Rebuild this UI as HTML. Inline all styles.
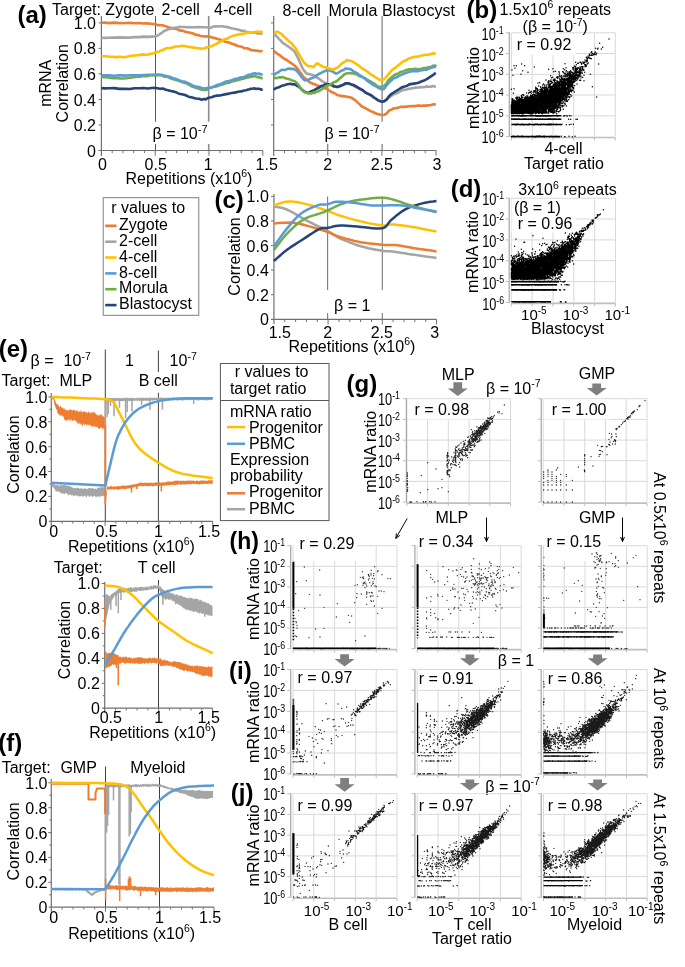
<!DOCTYPE html>
<html><head><meta charset="utf-8"><style>
html,body{margin:0;padding:0;background:#fff;overflow:hidden;width:685px;height:967px;}
svg{display:block;filter:blur(0.3px);}
text{font-family:"Liberation Sans",sans-serif;}
</style></head><body>
<svg width="685" height="967" viewBox="0 0 685 967">
<rect width="685" height="967" fill="#fff"/>
<text x="17.5" y="22.5" font-size="24" font-weight="bold">(a)</text>
<text x="52" y="15" font-size="16">Target: Zygote</text>
<text x="161.5" y="15" font-size="16">2-cell</text>
<text x="214" y="15" font-size="16">4-cell</text>
<text x="282.5" y="16" font-size="16">8-cell</text>
<text x="328.5" y="16" font-size="16">Morula</text>
<text x="382" y="16" font-size="16">Blastocyst</text>
<text transform="translate(50.5,83.3) rotate(-90)" font-size="16" text-anchor="middle">mRNA</text>
<text transform="translate(68.3,83.3) rotate(-90)" font-size="16" text-anchor="middle">Correlation</text>
<text x="96" y="28.9" font-size="16" text-anchor="end">1.0</text>
<text x="96" y="54.4" font-size="16" text-anchor="end">0.8</text>
<text x="96" y="79.9" font-size="16" text-anchor="end">0.6</text>
<text x="96" y="105.5" font-size="16" text-anchor="end">0.4</text>
<text x="96" y="131" font-size="16" text-anchor="end">0.2</text>
<text x="96" y="156.5" font-size="16" text-anchor="end">0</text>
<line x1="155.5" y1="16" x2="155.5" y2="121.7" stroke="#595959" stroke-width="1"/>
<line x1="155.5" y1="144" x2="155.5" y2="150.5" stroke="#595959" stroke-width="1"/>
<line x1="208.7" y1="16" x2="208.7" y2="121.7" stroke="#8c8c8c" stroke-width="1.6"/>
<line x1="208.7" y1="144" x2="208.7" y2="150.5" stroke="#8c8c8c" stroke-width="1.6"/>
<line x1="327.7" y1="16" x2="327.7" y2="121.7" stroke="#7a7a7a" stroke-width="1.2"/>
<line x1="327.7" y1="144" x2="327.7" y2="150.5" stroke="#7a7a7a" stroke-width="1.2"/>
<line x1="382.1" y1="16" x2="382.1" y2="121.7" stroke="#7a7a7a" stroke-width="1.2"/>
<line x1="382.1" y1="144" x2="382.1" y2="150.5" stroke="#7a7a7a" stroke-width="1.2"/>
<line x1="101.4" y1="16" x2="101.4" y2="156" stroke="#707070" stroke-width="1.2"/>
<line x1="98.5" y1="150.5" x2="263" y2="150.5" stroke="#707070" stroke-width="1.2"/>
<line x1="98.6" y1="125" x2="101.4" y2="125" stroke="#707070" stroke-width="1"/>
<line x1="98.6" y1="99.5" x2="101.4" y2="99.5" stroke="#707070" stroke-width="1"/>
<line x1="98.6" y1="73.9" x2="101.4" y2="73.9" stroke="#707070" stroke-width="1"/>
<line x1="98.6" y1="48.4" x2="101.4" y2="48.4" stroke="#707070" stroke-width="1"/>
<line x1="98.6" y1="22.9" x2="101.4" y2="22.9" stroke="#707070" stroke-width="1"/>
<line x1="112.2" y1="150.5" x2="112.2" y2="153.2" stroke="#707070" stroke-width="1"/>
<line x1="122.9" y1="150.5" x2="122.9" y2="153.2" stroke="#707070" stroke-width="1"/>
<line x1="133.7" y1="150.5" x2="133.7" y2="153.2" stroke="#707070" stroke-width="1"/>
<line x1="144.4" y1="150.5" x2="144.4" y2="153.2" stroke="#707070" stroke-width="1"/>
<line x1="155.2" y1="150.5" x2="155.2" y2="155.7" stroke="#707070" stroke-width="1"/>
<line x1="166" y1="150.5" x2="166" y2="153.2" stroke="#707070" stroke-width="1"/>
<line x1="176.7" y1="150.5" x2="176.7" y2="153.2" stroke="#707070" stroke-width="1"/>
<line x1="187.5" y1="150.5" x2="187.5" y2="153.2" stroke="#707070" stroke-width="1"/>
<line x1="198.2" y1="150.5" x2="198.2" y2="153.2" stroke="#707070" stroke-width="1"/>
<line x1="209" y1="150.5" x2="209" y2="155.7" stroke="#707070" stroke-width="1"/>
<line x1="219.8" y1="150.5" x2="219.8" y2="153.2" stroke="#707070" stroke-width="1"/>
<line x1="230.5" y1="150.5" x2="230.5" y2="153.2" stroke="#707070" stroke-width="1"/>
<line x1="241.3" y1="150.5" x2="241.3" y2="153.2" stroke="#707070" stroke-width="1"/>
<line x1="252" y1="150.5" x2="252" y2="153.2" stroke="#707070" stroke-width="1"/>
<line x1="262.8" y1="150.5" x2="262.8" y2="155.7" stroke="#707070" stroke-width="1"/>
<line x1="273.7" y1="16" x2="273.7" y2="156" stroke="#707070" stroke-width="1.2"/>
<line x1="273.7" y1="150.5" x2="436.2" y2="150.5" stroke="#707070" stroke-width="1.2"/>
<line x1="271" y1="125" x2="273.7" y2="125" stroke="#707070" stroke-width="1"/>
<line x1="271" y1="99.5" x2="273.7" y2="99.5" stroke="#707070" stroke-width="1"/>
<line x1="271" y1="73.9" x2="273.7" y2="73.9" stroke="#707070" stroke-width="1"/>
<line x1="271" y1="48.4" x2="273.7" y2="48.4" stroke="#707070" stroke-width="1"/>
<line x1="271" y1="22.9" x2="273.7" y2="22.9" stroke="#707070" stroke-width="1"/>
<line x1="284.5" y1="150.5" x2="284.5" y2="153.2" stroke="#707070" stroke-width="1"/>
<line x1="295.3" y1="150.5" x2="295.3" y2="153.2" stroke="#707070" stroke-width="1"/>
<line x1="306.2" y1="150.5" x2="306.2" y2="153.2" stroke="#707070" stroke-width="1"/>
<line x1="317" y1="150.5" x2="317" y2="153.2" stroke="#707070" stroke-width="1"/>
<line x1="327.8" y1="150.5" x2="327.8" y2="155.7" stroke="#707070" stroke-width="1"/>
<line x1="338.6" y1="150.5" x2="338.6" y2="153.2" stroke="#707070" stroke-width="1"/>
<line x1="349.4" y1="150.5" x2="349.4" y2="153.2" stroke="#707070" stroke-width="1"/>
<line x1="360.3" y1="150.5" x2="360.3" y2="153.2" stroke="#707070" stroke-width="1"/>
<line x1="371.1" y1="150.5" x2="371.1" y2="153.2" stroke="#707070" stroke-width="1"/>
<line x1="381.9" y1="150.5" x2="381.9" y2="155.7" stroke="#707070" stroke-width="1"/>
<line x1="392.7" y1="150.5" x2="392.7" y2="153.2" stroke="#707070" stroke-width="1"/>
<line x1="403.5" y1="150.5" x2="403.5" y2="153.2" stroke="#707070" stroke-width="1"/>
<line x1="414.4" y1="150.5" x2="414.4" y2="153.2" stroke="#707070" stroke-width="1"/>
<line x1="425.2" y1="150.5" x2="425.2" y2="153.2" stroke="#707070" stroke-width="1"/>
<line x1="436" y1="150.5" x2="436" y2="155.7" stroke="#707070" stroke-width="1"/>
<text x="102.4" y="170" font-size="16" text-anchor="middle">0</text>
<text x="155.7" y="170" font-size="16" text-anchor="middle">0.5</text>
<text x="208.3" y="170" font-size="16" text-anchor="middle">1</text>
<text x="266.7" y="170" font-size="16" text-anchor="middle">1.5</text>
<text x="327.7" y="170" font-size="16" text-anchor="middle">2</text>
<text x="381.9" y="170" font-size="16" text-anchor="middle">2.5</text>
<text x="437" y="170" font-size="16" text-anchor="middle">3</text>
<text x="125.5" y="184" font-size="16">Repetitions (x10<tspan font-size="10.5" dy="-7">6</tspan><tspan dy="7">)</tspan></text>
<text x="152.5" y="139" font-size="16">β = 10<tspan font-size="11" dy="-6.5">-7</tspan></text>
<text x="324.5" y="139" font-size="16">β = 10<tspan font-size="11" dy="-6.5">-7</tspan></text>
<polyline points="101.4,22.8 104.6,22.6 108.9,23.1 114.1,22.6 119.7,23.1 125.1,23 130,22.8 134.4,23.3 138.8,23 143.1,23.5 147.2,23.4 151.2,23.7 155,24.3 158.6,25.2 162.1,25.3 165.3,26.1 168.5,27.3 171.5,28.3 174.5,28.8 177.4,29.3 180.1,30.6 182.7,30.6 185.3,31.9 187.7,32.2 190,32.7 192.2,33.3 194.3,34 196.2,35 198.1,35 200,35.8 201.8,36.2 203.5,36.3 205.2,36.6 206.7,36.3 208.3,36.4 209.9,36.7 211.7,37.4 213.6,37.7 215.5,38.2 217.5,39 219.6,39.5 221.8,40.1 224,41.2 226.3,41.9 228.8,42.4 231.3,43.5 233.9,44.3 236.5,45.5 239,46.2 241.6,46.7 244.2,48.1 246.9,48.2 249.5,49.2 251.9,50.2 254,50.2 255.9,50.8 257.7,50.6 259.2,51.2 260.6,51.2 261.7,51.1 262.6,51.3" fill="none" stroke="#ED7D31" stroke-width="2.6" stroke-linejoin="round"/>
<polyline points="101.4,37.7 104.6,37.9 108.9,37.7 114.1,37.6 119.7,37.4 125.1,37.6 130,37.6 134.6,37.1 139.2,37.1 143.7,36.6 147.9,36.9 151.8,36.6 155,36.5 157.5,35.7 159.3,34.5 160.7,33.6 161.9,32.9 163.1,31.5 164.5,31.1 166.1,30.2 167.7,29.5 169.3,28.9 171,29 172.7,28 174.5,27.7 176.3,27.5 178.1,27.6 179.9,26.8 182,27 184.2,27 186.9,27.2 190.2,27.2 194.1,27.3 198.2,27 202.3,27.2 206,27.3 209,27.7 211.1,27.7 212.5,26.8 213.5,26.6 214.3,26.4 215.3,26.3 216.7,26.4 218.5,26.5 220.4,26.3 222.4,26.2 224.5,26.7 226.7,26.9 229,27.5 231.4,28.2 234,28.7 236.6,29.2 239.3,30 241.8,30.7 244,30.7 246,31.8 247.8,32.1 249.4,32.5 251,32.7 252.5,32.6 254,32.8 255.6,32.8 257.3,33.5 258.9,33.3 260.4,33.5 261.7,33.7 262.6,33.8" fill="none" stroke="#A5A5A5" stroke-width="2.6" stroke-linejoin="round"/>
<polyline points="101.4,56.3 103.4,56.2 106.1,56.3 109.4,56.7 112.9,56.8 116.5,57.1 119.9,56.8 123.2,57.3 126.7,56.8 130.2,56 133.6,55.6 136.9,55.3 140,54.9 142.8,54.4 145.5,54.7 148,54.5 150.4,53.8 152.7,53.5 155,52.7 157.1,52.1 159,51.5 160.8,50.6 162.7,50.2 164.7,48.9 167,48.1 169.6,48.3 172.5,47.4 175.5,46.5 178.6,46.4 181.6,45.7 184.4,46 187.1,46.6 189.7,46.9 192.3,47.4 194.8,47.6 197.1,48.2 199.3,48.2 201.2,48.7 202.7,48.5 204.1,48.5 205.6,47.8 207.1,47.2 209,47 211.2,46.3 213.6,45.1 216.2,43.8 218.8,42.5 221.4,41.1 224,39.6 226.5,38.8 229,37.7 231.5,36.4 234,35.5 236.5,34.9 239,34.2 241.6,33.9 244.2,33.6 246.9,32.7 249.5,32.8 251.9,32.5 254,32.3 255.9,31.7 257.7,31.6 259.2,31.8 260.6,31.9 261.7,32.1 262.6,32.5" fill="none" stroke="#FFC000" stroke-width="2.6" stroke-linejoin="round"/>
<polyline points="101.4,76.9 103.4,77.1 106.1,77.2 109.4,77.7 112.9,78.2 116.5,77.9 119.9,78.4 123.2,78.5 126.7,78.2 130.2,77.8 133.6,77.2 136.9,76.6 140,76.7 142.8,76.1 145.5,76.1 148.1,75.9 150.5,75.2 152.8,75 155,75.4 157,75.2 158.7,74.9 160.3,75.1 162,75.4 163.7,76.4 165.8,76.8 168.1,77 170.6,78.3 173.3,79.3 176.1,80 178.9,80.8 181.9,82 185.1,82.9 188.6,84.3 192.2,86.6 195.8,87.7 199,88.8 201.8,89.8 203.9,89.7 205.6,90 206.9,89.7 208.2,88.7 209.7,88.1 211.7,87.5 214.2,86.8 217,86.3 220,85.1 223.1,84.2 226.2,83.1 229,82.8 231.7,81.6 234.4,80.9 237,80.2 239.5,79.8 241.8,78.8 244,78.6 246,77.8 247.8,77.4 249.4,77.1 251,76.4 252.5,76.6 254,76.3 255.6,76.3 257.3,77.2 258.9,77.1 260.4,77.7 261.7,78.3 262.6,78.3" fill="none" stroke="#70AD47" stroke-width="2.6" stroke-linejoin="round"/>
<polyline points="101.4,75.2 104.6,75.3 108.9,75.4 114.1,75.7 119.7,75.2 125.1,75.6 130,75.3 134.5,75.2 139.1,75.4 143.6,75 147.9,74.8 151.7,74.8 155,74.9 157.6,74.6 159.5,74.8 161,74.8 162.3,75.1 163.9,75.5 165.8,75.8 168.1,76.4 170.6,77.1 173.3,78.3 176.1,79 178.9,80.1 181.9,81.2 185.1,81.8 188.6,83.5 192.2,85.2 195.8,86.6 199,87.1 201.8,87.9 203.9,88.5 205.6,88.3 206.9,88.2 208.2,87.7 209.7,87.7 211.7,87.2 214.2,86.6 217,85 220,84.3 223.1,83 226.2,81.5 229,81.1 231.7,80.3 234.4,79 237,78.9 239.5,77.8 241.8,77.2 244,77 246,76.3 247.8,75.1 249.4,74.7 251,74.3 252.5,73.7 254,73.4 255.6,73.4 257.3,73.9 258.9,73.5 260.4,74.2 261.7,74.4 262.6,74.2" fill="none" stroke="#5B9BD5" stroke-width="2.6" stroke-linejoin="round"/>
<polyline points="101.4,88.1 104.6,88.4 108.9,88.3 114.1,88.1 119.7,88.9 125.1,88.8 130,89 134.5,88.2 139.1,88.3 143.6,88 147.9,88.5 151.7,88 155,87.9 157.6,88.2 159.5,88.7 161,88.8 162.3,88.5 163.9,88.8 165.8,89.8 168.1,90.2 170.6,91 173.3,91.4 176.1,92.3 178.9,93.7 181.9,94.3 185.1,95 188.6,96.7 192.2,97.5 195.8,98.5 199,98.7 201.8,99.7 203.9,99.1 205.6,99.4 206.9,98.6 208.2,97.9 209.7,97.5 211.7,97.2 214.2,96.2 217,95.6 220,95.5 223.1,94.7 226.2,94.1 229,93.6 231.7,93 234.4,92.6 237,92.1 239.5,91.5 241.8,91.4 244,90.5 246,90.3 247.8,89.6 249.4,89.3 251,88.7 252.5,88.7 254,88.3 255.6,88.9 257.3,88.8 258.9,88.7 260.4,89.2 261.7,89.7 262.6,89.2" fill="none" stroke="#264478" stroke-width="2.6" stroke-linejoin="round"/>
<polyline points="273.7,51.3 274.6,51.6 275.8,52.5 277.3,53.8 278.9,54.6 280.6,56 282.4,57.4 284.3,58.8 286.4,59.7 288.5,61.4 290.7,62.8 292.8,64.3 294.8,65.8 296.6,67.7 298.3,69.6 299.9,72 301.5,74.1 303.1,76.7 304.7,78.1 306.3,79.4 307.9,80.5 309.5,82.1 311.1,83 312.9,83.7 314.7,84.3 316.7,85.2 318.8,86 321,87 323.3,87.5 325.5,88.6 327.6,89.3 329.6,90.9 331.6,92 333.6,92.8 335.5,93.7 337.5,95.2 339.5,95.5 341.5,96.1 343.6,96.1 345.7,96.6 347.7,96.9 349.8,97.3 351.9,97.9 353.9,99.4 355.8,100.6 357.8,102.6 359.8,104.4 361.9,106.5 364.3,107.7 367.1,109.2 370.2,110.9 373.4,112.2 376.7,113.7 379.6,114.5 382.2,115 384.2,114.7 385.8,114 387.1,113 388.4,111.3 389.8,110.1 391.6,109.7 393.7,108.3 396.1,108.2 398.6,107.6 401.1,106.7 403.8,106.9 406.5,106.6 409.3,106.2 412.3,106.1 415.4,106.1 418.4,105.5 421.3,105.8 423.9,105.6 426.3,105.6 428.7,105.3 430.9,105 432.9,104.4 434.6,104.4 435.8,104" fill="none" stroke="#ED7D31" stroke-width="2.6" stroke-linejoin="round"/>
<polyline points="273.7,33.8 274.6,34.3 275.8,35.4 277.3,37 278.9,38.9 280.6,40.4 282.4,42.6 284.3,43.8 286.4,45.3 288.5,46.7 290.7,48.3 292.8,50 294.8,51.8 296.6,55.3 298.3,58.7 299.9,62.3 301.5,65.9 303.1,69.3 304.7,71.3 306.4,73.4 308.1,73.9 309.9,74.2 311.6,74.7 313.2,75.4 314.7,75.6 316.1,76.8 317.4,77.9 318.6,78.5 319.8,79.3 320.9,80.2 322,81.1 323,81.8 323.9,82.3 324.7,82.8 325.5,82.7 326.5,83.2 327.6,83.8 328.9,84.8 330.4,85.1 332,85.9 333.7,86.1 335.4,86.5 337,86.8 338.6,86.9 340.3,86.3 342,85.5 343.7,84.4 345.3,84 347,83.8 348.6,83.9 350.2,84 351.8,85.2 353.4,85.4 355.1,86.8 356.9,87.6 358.8,87.9 360.8,89.4 362.9,91 365,92.4 367.2,93.3 369.3,94.4 371.5,95.7 373.7,97.8 375.9,98.6 378.1,100.2 380.2,100.8 382.2,101.5 383.9,101.6 385.4,100.2 386.8,99.6 388.2,98 389.8,97 391.6,95.7 393.7,94.2 396.1,93.7 398.6,92.3 401.1,90.9 403.8,89.9 406.5,89.5 409.3,88.8 412.3,88.2 415.4,87.6 418.4,87.5 421.3,87.1 423.9,87.3 426.3,86.4 428.7,86.8 430.9,86.7 432.9,86 434.6,86.6 435.8,86.4" fill="none" stroke="#A5A5A5" stroke-width="2.6" stroke-linejoin="round"/>
<polyline points="273.7,89.8 274.6,88.9 275.8,88.3 277.3,87.6 278.9,87.3 280.6,86.3 282.4,85.6 284.3,85.2 286.3,84.6 288.4,84 290.6,83.8 292.8,84.4 294.8,84.3 296.8,85.8 298.7,86.7 300.6,88.4 302.5,90.2 304.3,91.4 306,92.3 307.5,92.9 308.9,92.6 310.2,92 311.6,91.2 313,90.6 314.7,89.9 316.6,88.7 318.8,87.7 321.1,86 323.4,85.5 325.6,84.4 327.6,84.2 329.4,84.2 331,84.4 332.5,85 334,86.5 335.4,86.5 337,87 338.6,86.6 340.3,85.8 342,85.3 343.7,84.6 345.3,83.4 347,83.4 348.6,83.3 350.2,83.9 351.8,84.4 353.4,85 355.1,85.8 356.9,86.8 358.8,88.3 360.8,89.2 362.9,90.2 365,92.1 367.2,93.5 369.3,94.4 371.5,95.5 373.7,97.2 375.9,98.8 378.1,100.4 380.2,101.2 382.2,101.7 383.9,101.3 385.4,100.4 386.8,99.2 388.2,97.4 389.8,95.4 391.6,93.8 393.7,92.5 396.1,91 398.6,89.5 401.1,87.8 403.8,86.7 406.5,86.1 409.3,84.4 412.3,83.9 415.4,83.4 418.4,82.8 421.3,81.5 423.9,80.6 426.3,79.3 428.7,77.9 430.9,76.4 432.9,75.2 434.6,73.8 435.8,72.9" fill="none" stroke="#264478" stroke-width="2.6" stroke-linejoin="round"/>
<polyline points="273.7,77.9 274.6,77.8 275.8,78.1 277.3,78 278.9,77.4 280.6,77.4 282.4,77.1 284.3,77.7 286.4,78.6 288.5,79.1 290.7,79.8 292.8,80.8 294.8,81.3 296.6,82.7 298.3,84.6 299.9,87 301.5,89.1 303.1,91.1 304.7,92.2 306.3,92.9 307.9,93.5 309.5,93.4 311.1,93.4 312.9,92.8 314.7,92.9 316.7,91.7 318.9,91.2 321.2,89.7 323.5,88 325.6,86.5 327.6,85.5 329.4,84.9 331,84.2 332.5,83 334,82.2 335.4,81.8 337,80.9 338.6,79.5 340.3,77.9 342,76.7 343.7,74.9 345.3,73.9 347,73.3 348.6,73.3 350.2,73 351.8,73.4 353.4,73.5 355.1,73.8 356.9,74.4 358.8,75.7 360.8,76.5 362.9,77.2 365,78.2 367.2,79.7 369.3,80.9 371.5,82 373.7,83.3 375.9,85 378.1,86.5 380.2,86.7 382.2,86.6 383.9,86.1 385.4,84.7 386.8,83 388.2,80.5 389.8,78.9 391.6,77.2 393.7,75.6 396.1,74 398.6,73.4 401.1,71.7 403.8,71.2 406.5,69.9 409.3,69.3 412.4,69.4 415.5,68.8 418.6,69.2 421.4,68.7 423.9,68.1 426.1,67.8 428,67.4 429.8,67.1 431.4,66.9 432.7,65.9 433.8,65.8 434.6,65.6 435.1,66.3 435.4,65.8 435.6,65.9 435.7,66 435.8,66.4" fill="none" stroke="#70AD47" stroke-width="2.6" stroke-linejoin="round"/>
<polyline points="273.7,74.9 274.6,74.4 275.8,73.5 277.3,72.8 278.9,71.8 280.6,70.5 282.4,69.8 284.3,70 286.4,69.4 288.5,68.5 290.7,68.9 292.8,68.9 294.8,69.5 296.6,70.7 298.3,72.5 299.9,74.6 301.5,77 303.1,78.8 304.7,80.4 306.3,80 307.9,80.4 309.5,79.1 311.1,78.4 312.9,77.8 314.7,76.9 316.7,75.5 318.9,73.9 321.2,72.9 323.5,71.6 325.6,71 327.6,69.9 329.4,70.1 331,71.1 332.5,71.2 334,72.4 335.4,73.4 337,73.5 338.6,72.5 340.3,71.5 342,70.4 343.7,69.9 345.3,68.5 347,68.6 348.6,68.9 350.2,69 351.8,69.8 353.4,71.4 355.1,72.2 356.9,73.1 358.8,74.7 360.8,75.8 362.9,77.3 365,78.7 367.2,80.8 369.3,82.3 371.5,83.6 373.7,85.4 375.9,86.2 378.1,87.7 380.2,88.8 382.2,89.4 383.9,88.8 385.4,87 386.8,85.2 388.2,83.4 389.8,81.6 391.6,80.3 393.7,78.4 396.1,77.5 398.6,76.1 401.1,74.9 403.8,73.7 406.5,72.7 409.3,71.8 412.3,71.3 415.4,71 418.4,71.1 421.3,70.2 423.9,69.9 426.3,69.7 428.7,68.7 430.9,67.8 432.9,67.2 434.6,67 435.8,66.5" fill="none" stroke="#5B9BD5" stroke-width="2.6" stroke-linejoin="round"/>
<polyline points="273.7,32.8 274.2,32.7 275,32.6 275.8,31.9 276.8,31.7 277.7,31.8 278.7,32.4 279.6,33 280.5,33.4 281.5,34 282.5,35 283.6,36.2 284.9,37.4 286.3,38.8 287.9,40.3 289.6,41.7 291.4,43 293.1,45.5 294.8,47.1 296.5,49.8 298.1,52.6 299.8,56 301.5,58.5 303.1,61.2 304.7,63.2 306.3,64.5 307.9,66 309.4,66.3 310.9,66.3 312.2,66.5 313.4,67 314.2,66.4 314.8,65.6 315.2,65.2 315.6,64.4 316.2,64.1 317.2,63.3 318.6,64 320.3,65.1 322.1,66.1 324.1,67.2 325.9,67.4 327.6,68.2 329.1,68.5 330.4,68.8 331.6,69.6 332.9,69.2 334.3,69.3 335.8,68.3 337.5,67.7 339.4,65.8 341.3,63.9 343.3,62.7 345.2,61.5 347,60.1 348.7,60.4 350.3,60.8 351.9,61.2 353.5,62.3 355.1,63.2 356.9,64.4 358.8,65.6 360.8,67.3 362.9,68.9 365,70.1 367.2,71.5 369.3,73.2 371.5,74.9 373.7,76 375.9,77.6 378.1,78.8 380.2,80.1 382.2,80 383.9,79.1 385.4,77.9 386.8,76.4 388.2,74.6 389.8,72.7 391.6,70.5 393.8,68.7 396.3,67.1 398.9,64.8 401.5,62.7 404.1,61 406.5,60.1 408.7,58.5 410.7,57.9 412.6,57.2 414.5,56.8 416.6,56.8 418.9,56.4 421.7,55.4 424.8,54.7 428.1,54.7 431.3,53.9 433.9,53.4 435.8,53.8" fill="none" stroke="#FFC000" stroke-width="2.6" stroke-linejoin="round"/>
<rect x="103.2" y="197.7" width="95.6" height="117.6" fill="none" stroke="#7f7f7f" stroke-width="1"/>
<text x="111.3" y="212.6" font-size="16">r values to</text>
<line x1="105.2" y1="225.8" x2="116.5" y2="225.8" stroke="#ED7D31" stroke-width="2.6"/>
<text x="119.1" y="230" font-size="16">Zygote</text>
<line x1="105.2" y1="241.7" x2="116.5" y2="241.7" stroke="#A5A5A5" stroke-width="2.6"/>
<text x="119.1" y="245.8" font-size="16">2-cell</text>
<line x1="105.2" y1="257.5" x2="116.5" y2="257.5" stroke="#FFC000" stroke-width="2.6"/>
<text x="119.1" y="261.7" font-size="16">4-cell</text>
<line x1="105.2" y1="273.4" x2="116.5" y2="273.4" stroke="#5B9BD5" stroke-width="2.6"/>
<text x="119.1" y="277.6" font-size="16">8-cell</text>
<line x1="105.2" y1="289.2" x2="116.5" y2="289.2" stroke="#70AD47" stroke-width="2.6"/>
<text x="119.1" y="293.4" font-size="16">Morula</text>
<line x1="105.2" y1="305.1" x2="116.5" y2="305.1" stroke="#264478" stroke-width="2.6"/>
<text x="119.1" y="309.2" font-size="16">Blastocyst</text>
<text x="214.5" y="208" font-size="24" font-weight="bold">(c)</text>
<text transform="translate(240.1,256.5) rotate(-90)" font-size="16" text-anchor="middle">Correlation</text>
<text x="268.8" y="202.4" font-size="16" text-anchor="end">1.0</text>
<text x="268.8" y="227" font-size="16" text-anchor="end">0.8</text>
<text x="268.8" y="251.6" font-size="16" text-anchor="end">0.6</text>
<text x="268.8" y="276.1" font-size="16" text-anchor="end">0.4</text>
<text x="268.8" y="300.7" font-size="16" text-anchor="end">0.2</text>
<text x="268.8" y="325.3" font-size="16" text-anchor="end">0</text>
<line x1="327.6" y1="196.5" x2="327.6" y2="290" stroke="#7a7a7a" stroke-width="1.1"/>
<line x1="327.6" y1="313" x2="327.6" y2="319.3" stroke="#7a7a7a" stroke-width="1.1"/>
<line x1="382.3" y1="196.5" x2="382.3" y2="290" stroke="#7a7a7a" stroke-width="1.1"/>
<line x1="382.3" y1="313" x2="382.3" y2="319.3" stroke="#7a7a7a" stroke-width="1.1"/>
<line x1="273.9" y1="194" x2="273.9" y2="324" stroke="#a0a0a0" stroke-width="1.8"/>
<line x1="271" y1="319.3" x2="436.5" y2="319.3" stroke="#707070" stroke-width="1.2"/>
<line x1="271" y1="294.7" x2="273.9" y2="294.7" stroke="#707070" stroke-width="1"/>
<line x1="271" y1="270.1" x2="273.9" y2="270.1" stroke="#707070" stroke-width="1"/>
<line x1="271" y1="245.6" x2="273.9" y2="245.6" stroke="#707070" stroke-width="1"/>
<line x1="271" y1="221" x2="273.9" y2="221" stroke="#707070" stroke-width="1"/>
<line x1="271" y1="196.4" x2="273.9" y2="196.4" stroke="#707070" stroke-width="1"/>
<line x1="284.7" y1="319.3" x2="284.7" y2="322" stroke="#707070" stroke-width="1"/>
<line x1="295.6" y1="319.3" x2="295.6" y2="322" stroke="#707070" stroke-width="1"/>
<line x1="306.4" y1="319.3" x2="306.4" y2="322" stroke="#707070" stroke-width="1"/>
<line x1="317.3" y1="319.3" x2="317.3" y2="322" stroke="#707070" stroke-width="1"/>
<line x1="328.1" y1="319.3" x2="328.1" y2="324.5" stroke="#707070" stroke-width="1"/>
<line x1="338.9" y1="319.3" x2="338.9" y2="322" stroke="#707070" stroke-width="1"/>
<line x1="349.8" y1="319.3" x2="349.8" y2="322" stroke="#707070" stroke-width="1"/>
<line x1="360.6" y1="319.3" x2="360.6" y2="322" stroke="#707070" stroke-width="1"/>
<line x1="371.5" y1="319.3" x2="371.5" y2="322" stroke="#707070" stroke-width="1"/>
<line x1="382.3" y1="319.3" x2="382.3" y2="324.5" stroke="#707070" stroke-width="1"/>
<line x1="393.1" y1="319.3" x2="393.1" y2="322" stroke="#707070" stroke-width="1"/>
<line x1="404" y1="319.3" x2="404" y2="322" stroke="#707070" stroke-width="1"/>
<line x1="414.8" y1="319.3" x2="414.8" y2="322" stroke="#707070" stroke-width="1"/>
<line x1="425.7" y1="319.3" x2="425.7" y2="322" stroke="#707070" stroke-width="1"/>
<line x1="436.5" y1="319.3" x2="436.5" y2="324.5" stroke="#707070" stroke-width="1"/>
<text x="279.8" y="337.5" font-size="16" text-anchor="middle">1.5</text>
<text x="327.8" y="337.5" font-size="16" text-anchor="middle">2</text>
<text x="381.8" y="337.5" font-size="16" text-anchor="middle">2.5</text>
<text x="434.7" y="337.5" font-size="16" text-anchor="middle">3</text>
<text x="288.5" y="352.2" font-size="16">Repetitions (x10<tspan font-size="10.5" dy="-7">6</tspan><tspan dy="7">)</tspan></text>
<text x="334" y="311" font-size="16">β = 1</text>
<polyline points="273.9,206.5 275.2,206.7 276.9,207 279,207.3 281.4,207.8 284,208.5 286.7,209.5 289.7,210.9 293,212.7 296.5,214.7 300.1,216.8 303.7,218.9 307.2,220.8 310.7,222.6 314.3,224.4 317.9,226.1 321.4,227.8 324.6,229.5 327.6,231 330.1,232.4 332.1,233.7 334,234.9 335.8,236.1 337.9,237.3 340.4,238.5 343.4,239.8 346.6,241.2 350.1,242.6 353.7,243.9 357.3,245.2 360.9,246.3 364.6,247.3 368.4,248.2 372.3,249 376,249.7 379.4,250.3 382.3,250.8 384.4,251.1 385.9,251.2 387,251.2 388,251.2 389.5,251.2 391.5,251.4 394.2,251.8 397.3,252.2 400.8,252.8 404.5,253.3 408.2,253.9 412,254.5 416.1,255.1 420.8,255.8 425.5,256.4 430,257.1 433.8,257.6 436.5,258" fill="none" stroke="#A5A5A5" stroke-width="2.5" stroke-linejoin="round"/>
<polyline points="273.9,223.4 276,223.3 278.8,223.1 282.2,222.8 285.9,222.7 289.5,222.6 292.9,222.8 296,223.2 299.2,223.8 302.3,224.5 305.3,225.3 308.4,226.1 311.3,226.9 314.2,227.7 317,228.5 319.8,229.4 322.5,230.3 325.1,231.1 327.6,232 329.8,232.8 331.8,233.7 333.7,234.6 335.7,235.4 337.9,236.2 340.4,237.1 343.4,238 346.6,238.9 350.1,239.8 353.7,240.7 357.3,241.5 360.9,242.2 364.5,242.8 368.2,243.3 371.9,243.7 375.6,244.1 379.1,244.4 382.3,244.7 385.2,244.9 387.8,244.9 390.2,245 392.6,245 395,245.1 397.7,245.3 400.6,245.7 403.5,246.2 406.5,246.7 409.6,247.3 412.8,247.9 416,248.4 419.5,248.9 423.4,249.5 427.4,250.1 431.1,250.6 434.2,251.1 436.5,251.4" fill="none" stroke="#ED7D31" stroke-width="2.5" stroke-linejoin="round"/>
<polyline points="273.9,205.4 275.5,204.9 277.6,204.1 280.2,203.2 283,202.4 285.9,201.7 288.8,201.4 291.6,201.5 294.6,201.7 297.7,202.2 300.8,202.9 304,203.6 307.2,204.4 310.6,205.3 314.1,206.4 317.8,207.6 321.3,208.8 324.6,210 327.6,211 330.1,211.9 332.1,212.7 334,213.4 335.8,214.1 337.9,214.9 340.4,215.7 343.4,216.6 346.6,217.6 350.1,218.6 353.7,219.6 357.3,220.5 360.9,221.4 364.6,222.2 368.4,223.1 372.3,223.9 376,224.6 379.4,225.1 382.3,225.5 384.4,225.6 385.9,225.4 387,225.1 388,224.7 389.5,224.4 391.5,224.4 394.2,224.6 397.3,224.9 400.8,225.3 404.5,225.8 408.2,226.3 412,226.9 416.1,227.6 420.8,228.5 425.5,229.4 430,230.3 433.8,231.1 436.5,231.6" fill="none" stroke="#FFC000" stroke-width="2.5" stroke-linejoin="round"/>
<polyline points="273.9,261 275.3,259.8 277.1,258.1 279.3,256.2 281.7,254.1 284.2,251.9 286.7,250 289.2,248.2 291.9,246.4 294.7,244.6 297.5,242.7 300.3,241 303.1,239.2 305.9,237.4 308.9,235.4 311.8,233.5 314.6,231.7 317.2,230.2 319.5,229 321.3,228.3 322.6,228 323.8,228 324.9,228 326.1,228.1 327.6,227.9 329.4,227.5 331.2,227.1 333.2,226.5 335.4,226.1 337.8,225.7 340.4,225.5 343.4,225.5 346.6,225.7 350.1,226 353.7,226.3 357.3,226.6 360.9,226.9 364.6,227.2 368.4,227.7 372.3,228.2 376,228.6 379.4,228.6 382.3,228.3 384.5,227.5 386.1,226.2 387.3,224.8 388.5,223.1 389.8,221.4 391.5,219.7 393.6,218 395.8,216.1 398.2,214.2 400.7,212.3 403.2,210.6 405.8,209.1 408.4,207.8 411.2,206.7 414,205.7 416.8,204.9 419.6,204.1 422.2,203.4 424.9,202.8 427.7,202.3 430.4,201.8 432.9,201.5 435,201.2 436.5,201" fill="none" stroke="#264478" stroke-width="2.5" stroke-linejoin="round"/>
<polyline points="273.9,250 275.3,248.2 277.1,245.8 279.3,242.9 281.7,239.8 284.2,236.8 286.7,234 289.2,231.4 291.9,228.8 294.7,226.2 297.5,223.8 300.3,221.6 303.1,219.7 305.9,218.2 308.9,216.9 311.8,215.9 314.6,215.1 317.2,214.3 319.5,213.6 321.3,212.9 322.6,212.5 323.8,212.1 324.9,211.6 326.1,211.2 327.6,210.5 329.5,209.6 331.5,208.6 333.7,207.5 336,206.3 338.2,205.3 340.4,204.4 342.5,203.7 344.5,203 346.5,202.4 348.5,201.9 350.5,201.5 352.7,201 355,200.6 357.3,200.2 359.7,199.8 362.1,199.5 364.5,199.2 367,198.9 369.5,198.6 372.2,198.3 374.8,198 377.5,197.8 380,197.7 382.3,197.7 384.3,197.8 386.1,198 387.8,198.2 389.5,198.6 391.4,199.1 393.6,199.7 396.2,200.5 399,201.4 402,202.5 405.2,203.6 408.5,204.7 412,205.8 416,206.9 420.6,208.1 425.4,209.4 429.9,210.5 433.8,211.5 436.5,212.2" fill="none" stroke="#70AD47" stroke-width="2.5" stroke-linejoin="round"/>
<polyline points="273.9,246.3 275.3,244.4 277.2,241.7 279.4,238.6 281.8,235.2 284.3,231.9 286.7,228.9 289,226.1 291.3,223.4 293.6,220.7 296,218.1 298.5,215.7 301,213.6 303.7,211.7 306.5,210.1 309.5,208.6 312.3,207.4 315,206.3 317.4,205.4 319.5,204.8 321.3,204.5 323,204.4 324.5,204.4 326.1,204.4 327.6,204.2 329.1,203.8 330.4,203.4 331.7,202.9 333,202.4 334.5,202 336.3,201.8 338.3,201.7 340.5,201.7 342.8,201.8 345.2,201.9 347.9,202.1 350.7,202.4 353.9,202.8 357.4,203.3 361.1,203.9 364.8,204.5 368.2,205 371.1,205.4 373.4,205.6 375.2,205.6 376.8,205.6 378.3,205.5 380.1,205.4 382.3,205.4 385.1,205.4 388.3,205.3 391.8,205.2 395.3,205.2 398.7,205.3 401.7,205.4 404.3,205.7 406.6,206 408.8,206.4 411,206.9 413.3,207.4 416,207.9 419.3,208.5 423.1,209.2 427.1,209.9 431,210.6 434.2,211.2 436.5,211.6" fill="none" stroke="#5B9BD5" stroke-width="2.5" stroke-linejoin="round"/>
<text x="466.5" y="17.5" font-size="24" font-weight="bold">(b)</text>
<text x="499.4" y="14.8" font-size="16">1.5x10<tspan font-size="10.5" dy="-6.5">6</tspan><tspan dy="6.5"> repeats</tspan></text>
<line x1="532.2" y1="32.8" x2="532.2" y2="136.5" stroke="#d9d9d9" stroke-width="1"/>
<line x1="553" y1="32.8" x2="553" y2="136.5" stroke="#d9d9d9" stroke-width="1"/>
<line x1="573.7" y1="32.8" x2="573.7" y2="136.5" stroke="#d9d9d9" stroke-width="1"/>
<line x1="594.5" y1="32.8" x2="594.5" y2="136.5" stroke="#d9d9d9" stroke-width="1"/>
<line x1="511.4" y1="32.8" x2="615.3" y2="32.8" stroke="#d9d9d9" stroke-width="1"/>
<line x1="511.4" y1="53.5" x2="615.3" y2="53.5" stroke="#d9d9d9" stroke-width="1"/>
<line x1="511.4" y1="74.3" x2="615.3" y2="74.3" stroke="#d9d9d9" stroke-width="1"/>
<line x1="511.4" y1="95" x2="615.3" y2="95" stroke="#d9d9d9" stroke-width="1"/>
<line x1="511.4" y1="115.8" x2="615.3" y2="115.8" stroke="#d9d9d9" stroke-width="1"/>
<line x1="615.3" y1="32.8" x2="615.3" y2="136.5" stroke="#d9d9d9" stroke-width="1"/>
<line x1="511.4" y1="32.8" x2="511.4" y2="136.5" stroke="#d9d9d9" stroke-width="1"/>
<rect x="512.5" y="34" width="63" height="21" fill="#fff"/>
<line x1="509.3" y1="32.3" x2="509.3" y2="137" stroke="#a6a6a6" stroke-width="1.2"/>
<line x1="505.8" y1="32.8" x2="509.3" y2="32.8" stroke="#bfbfbf" stroke-width="1"/>
<line x1="505.8" y1="53.5" x2="509.3" y2="53.5" stroke="#bfbfbf" stroke-width="1"/>
<line x1="505.8" y1="74.3" x2="509.3" y2="74.3" stroke="#bfbfbf" stroke-width="1"/>
<line x1="505.8" y1="95" x2="509.3" y2="95" stroke="#bfbfbf" stroke-width="1"/>
<line x1="505.8" y1="115.8" x2="509.3" y2="115.8" stroke="#bfbfbf" stroke-width="1"/>
<line x1="505.8" y1="136.5" x2="509.3" y2="136.5" stroke="#bfbfbf" stroke-width="1"/>
<line x1="511.4" y1="137.5" x2="615.3" y2="137.5" stroke="#bfbfbf" stroke-width="1.6"/>
<line x1="511.4" y1="137.5" x2="511.4" y2="140.5" stroke="#bfbfbf" stroke-width="1"/>
<line x1="532.2" y1="137.5" x2="532.2" y2="140.5" stroke="#bfbfbf" stroke-width="1"/>
<line x1="553" y1="137.5" x2="553" y2="140.5" stroke="#bfbfbf" stroke-width="1"/>
<line x1="573.7" y1="137.5" x2="573.7" y2="140.5" stroke="#bfbfbf" stroke-width="1"/>
<line x1="594.5" y1="137.5" x2="594.5" y2="140.5" stroke="#bfbfbf" stroke-width="1"/>
<line x1="615.3" y1="137.5" x2="615.3" y2="140.5" stroke="#bfbfbf" stroke-width="1"/>
<text x="522.6" y="32.2" font-size="16">(β = 10<tspan font-size="10.5" dy="-6.5">-7</tspan><tspan dy="6.5">)</tspan></text>
<text x="516.7" y="49.8" font-size="16">r = 0.92</text>
<text transform="translate(503.6,39.8) scale(0.8,1)" font-size="16" text-anchor="end">10<tspan font-size="11" dy="-6">-1</tspan></text>
<text transform="translate(503.6,60.5) scale(0.8,1)" font-size="16" text-anchor="end">10<tspan font-size="11" dy="-6">-2</tspan></text>
<text transform="translate(503.6,81.2) scale(0.8,1)" font-size="16" text-anchor="end">10<tspan font-size="11" dy="-6">-3</tspan></text>
<text transform="translate(503.6,101.9) scale(0.8,1)" font-size="16" text-anchor="end">10<tspan font-size="11" dy="-6">-4</tspan></text>
<text transform="translate(503.6,122.6) scale(0.8,1)" font-size="16" text-anchor="end">10<tspan font-size="11" dy="-6">-5</tspan></text>
<text transform="translate(503.6,143.3) scale(0.8,1)" font-size="16" text-anchor="end">10<tspan font-size="11" dy="-6">-6</tspan></text>
<text transform="translate(479.3,88) rotate(-90)" font-size="16" text-anchor="middle">mRNA ratio</text>
<text x="563.5" y="154.4" font-size="16" text-anchor="middle">4-cell</text>
<text x="564" y="169.3" font-size="16" text-anchor="middle">Target ratio</text>
<path transform="scale(.3333333)" d="M1650 335h0M1661 265h0M1636 293h0M1564 315h0M1588 277h0M1667 310h0M1645 292h0M1594 329h0M1676 270h0M1545 321h0M1742 206h0M1699 273h0M1706 277h0M1651 282h0M1657 262h0M1668 282h0M1660 303h0M1569 323h0M1559 331h0M1709 250h0M1674 306h0M1587 322h0M1552 328h0M1672 298h0M1591 335h0M1544 330h0M1578 338h0M1566 336h0M1707 267h0M1633 317h0M1738 211h0M1620 299h0M1703 255h0M1675 272h0M1713 233h0M1535 320h0M1596 309h0M1696 284h0M1571 338h0M1601 296h0M1644 281h0M1602 323h0M1546 339h0M1550 322h0M1538 323h0M1589 324h0M1673 279h0M1619 322h0M1548 324h0M1596 319h0M1626 302h0M1686 269h0M1607 337h0M1776 166h0M1600 305h0M1663 305h0M1654 337h0M1691 264h0M1556 305h0M1574 294h0M1629 277h0M1542 338h0M1634 285h0M1564 323h0M1707 248h0M1562 326h0M1622 323h0M1540 336h0M1635 271h0M1629 292h0M1682 273h0M1535 337h0M1585 320h0M1629 309h0M1612 268h0M1564 300h0M1706 236h0M1644 292h0M1778 165h0M1591 304h0M1638 317h0M1630 313h0M1577 338h0M1569 316h0M1587 330h0M1577 323h0M1677 262h0M1624 276h0M1562 330h0M1562 297h0M1588 324h0M1564 329h0M1644 296h0M1650 276h0M1620 293h0M1707 240h0M1650 313h0M1584 334h0M1545 315h0M1562 302h0M1683 310h0M1647 301h0M1568 307h0M1632 308h0M1538 315h0M1650 307h0M1596 308h0M1594 329h0M1570 317h0M1663 281h0M1631 252h0M1663 302h0M1637 306h0M1651 260h0M1611 313h0M1617 336h0M1550 319h0M1573 326h0M1714 245h0M1562 323h0M1629 271h0M1588 340h0M1680 324h0M1686 257h0M1598 325h0M1662 290h0M1669 331h0M1536 339h0M1663 313h0M1637 338h0M1674 279h0M1627 310h0M1635 339h0M1592 325h0M1650 288h0M1672 302h0M1625 316h0M1545 309h0M1548 319h0M1721 232h0M1743 207h0M1688 268h0M1617 320h0M1549 313h0M1545 322h0M1647 307h0M1576 333h0M1536 302h0M1558 298h0M1570 327h0M1548 341h0M1734 236h0M1661 318h0M1604 317h0M1538 333h0M1620 290h0M1668 248h0M1635 333h0M1574 314h0M1634 319h0M1640 317h0M1690 216h0M1625 287h0M1699 304h0M1638 283h0M1546 320h0M1691 247h0M1629 336h0M1686 264h0M1662 254h0M1604 311h0M1665 283h0M1584 311h0M1634 325h0M1575 312h0M1563 324h0M1698 277h0M1677 215h0M1690 258h0M1604 313h0M1557 317h0M1660 285h0M1698 269h0M1567 326h0M1657 264h0M1595 320h0M1764 169h0M1549 327h0M1605 327h0M1600 317h0M1720 236h0M1544 340h0M1595 295h0M1561 314h0M1658 320h0M1707 252h0M1574 318h0M1607 307h0M1580 311h0M1621 268h0M1550 299h0M1718 253h0M1605 314h0M1634 256h0M1561 327h0M1573 314h0M1585 340h0M1691 255h0M1556 302h0M1701 263h0M1590 309h0M1732 215h0M1669 306h0M1585 328h0M1636 294h0M1567 318h0M1622 334h0M1551 310h0M1675 288h0M1584 323h0M1603 309h0M1726 226h0M1727 236h0M1611 313h0M1645 335h0M1641 287h0M1643 322h0M1549 311h0M1603 328h0M1680 297h0M1653 283h0M1710 246h0M1705 278h0M1618 313h0M1567 306h0M1608 321h0M1681 272h0M1615 305h0M1613 292h0M1691 256h0M1702 253h0M1619 306h0M1639 276h0M1537 324h0M1687 287h0M1612 322h0M1578 295h0M1564 316h0M1577 338h0M1773 158h0M1691 261h0M1701 303h0M1658 296h0M1641 318h0M1640 292h0M1671 329h0M1585 308h0M1694 246h0M1651 289h0M1689 272h0M1676 292h0M1632 324h0M1631 317h0M1644 339h0M1655 315h0M1680 271h0M1675 266h0M1586 323h0M1631 309h0M1647 303h0M1618 294h0M1717 237h0M1671 289h0M1692 238h0M1568 325h0M1562 334h0M1678 313h0M1581 293h0M1694 240h0M1658 248h0M1655 278h0M1603 285h0M1621 326h0M1601 320h0M1619 324h0M1667 287h0M1633 292h0M1688 295h0M1645 304h0M1568 332h0M1587 311h0M1599 326h0M1577 336h0M1560 322h0M1656 304h0M1591 290h0M1673 296h0M1635 300h0M1701 253h0M1675 292h0M1608 335h0M1690 250h0M1641 282h0M1622 274h0M1564 338h0M1616 294h0M1620 288h0M1612 292h0M1570 300h0M1647 292h0M1707 219h0M1545 306h0M1579 328h0M1545 315h0M1709 235h0M1654 320h0M1630 288h0M1547 308h0M1592 301h0M1740 218h0M1611 331h0M1743 201h0M1606 290h0M1683 284h0M1550 338h0M1619 303h0M1599 337h0M1616 313h0M1573 339h0M1685 241h0M1581 338h0M1566 336h0M1633 289h0M1588 316h0M1657 305h0M1634 283h0M1554 301h0M1557 328h0M1564 336h0M1683 272h0M1713 243h0M1542 322h0M1585 299h0M1624 300h0M1635 320h0M1635 303h0M1690 266h0M1670 276h0M1694 253h0M1723 276h0M1559 312h0M1655 295h0M1612 315h0M1675 296h0M1615 294h0M1689 270h0M1623 301h0M1757 195h0M1616 335h0M1712 268h0M1542 303h0M1648 276h0M1689 262h0M1565 319h0M1604 330h0M1668 290h0M1596 303h0M1696 250h0M1646 339h0M1685 259h0M1742 187h0M1562 328h0M1642 273h0M1747 207h0M1599 295h0M1593 318h0M1580 338h0M1568 301h0M1732 227h0M1685 283h0M1565 331h0M1587 333h0M1565 303h0M1585 302h0M1614 320h0M1794 145h0M1754 193h0M1584 329h0M1665 310h0M1555 320h0M1696 222h0M1641 295h0M1536 333h0M1660 288h0M1547 335h0M1609 327h0M1688 283h0M1634 292h0M1708 270h0M1551 334h0M1623 328h0M1601 316h0M1630 264h0M1658 291h0M1690 268h0M1617 305h0M1632 335h0M1652 272h0M1605 307h0M1579 326h0M1644 314h0M1712 250h0M1699 318h0M1628 297h0M1624 285h0M1550 307h0M1626 299h0M1698 268h0M1624 307h0M1577 322h0M1682 289h0M1686 291h0M1659 305h0M1742 207h0M1542 313h0M1687 265h0M1575 326h0M1709 243h0M1623 330h0M1564 304h0M1644 287h0M1596 299h0M1606 314h0M1616 299h0M1594 301h0M1612 282h0M1667 269h0M1698 237h0M1592 339h0M1616 286h0M1565 289h0M1576 321h0M1561 329h0M1627 315h0M1599 320h0M1673 291h0M1652 227h0M1621 302h0M1567 314h0M1583 308h0M1575 332h0M1631 305h0M1593 299h0M1609 335h0M1607 294h0M1646 291h0M1634 316h0M1683 308h0M1640 273h0M1647 296h0M1604 316h0M1638 299h0M1621 300h0M1534 320h0M1599 335h0M1679 290h0M1595 333h0M1677 276h0M1595 300h0M1678 294h0M1639 294h0M1576 311h0M1658 280h0M1643 308h0M1665 312h0M1677 296h0M1639 288h0M1589 311h0M1623 304h0M1590 314h0M1636 331h0M1656 298h0M1646 316h0M1640 289h0M1636 309h0M1625 307h0M1678 303h0M1664 284h0M1655 337h0M1644 302h0M1567 298h0M1562 312h0M1549 333h0M1649 256h0M1626 308h0M1610 320h0M1674 268h0M1548 310h0M1681 305h0M1694 262h0M1689 277h0M1609 322h0M1659 257h0M1656 271h0M1710 241h0M1698 240h0M1615 323h0M1562 318h0M1605 320h0M1550 337h0M1546 333h0M1694 253h0M1688 257h0M1642 311h0M1638 297h0M1560 306h0M1720 229h0M1614 321h0M1667 311h0M1558 339h0M1609 307h0M1629 319h0M1714 253h0M1602 300h0M1583 324h0M1688 266h0M1685 296h0M1543 340h0M1561 312h0M1631 285h0M1716 217h0M1625 266h0M1575 317h0M1670 294h0M1566 315h0M1673 260h0M1588 318h0M1600 309h0M1672 231h0M1668 282h0M1691 266h0M1576 296h0M1693 271h0M1729 223h0M1787 145h0M1646 297h0M1720 203h0M1629 302h0M1625 294h0M1666 279h0M1560 332h0M1739 206h0M1696 249h0M1598 331h0M1669 282h0M1642 292h0M1646 331h0M1627 288h0M1539 325h0M1700 283h0M1626 331h0M1704 225h0M1558 332h0M1546 324h0M1596 307h0M1642 275h0M1679 289h0M1603 307h0M1562 313h0M1638 322h0M1633 286h0M1708 282h0M1634 308h0M1550 337h0M1657 320h0M1740 216h0M1574 316h0M1692 298h0M1710 227h0M1683 245h0M1639 306h0M1573 338h0M1620 316h0M1586 305h0M1622 297h0M1642 290h0M1621 298h0M1687 274h0M1634 321h0M1679 293h0M1746 213h0M1631 307h0M1553 316h0M1647 283h0M1628 295h0M1571 328h0M1645 300h0M1609 306h0M1570 331h0M1610 339h0M1609 313h0M1726 219h0M1535 323h0M1550 319h0M1545 321h0M1707 243h0M1625 301h0M1592 290h0M1543 312h0M1650 292h0M1695 297h0M1596 321h0M1665 322h0M1628 298h0M1645 287h0M1676 248h0M1588 316h0M1688 257h0M1551 296h0M1607 312h0M1579 308h0M1546 330h0M1632 297h0M1665 277h0M1592 328h0M1540 340h0M1593 322h0M1661 289h0M1667 321h0M1591 306h0M1563 335h0M1655 286h0M1733 236h0M1600 315h0M1573 329h0M1600 322h0M1597 311h0M1545 327h0M1594 280h0M1576 323h0M1585 329h0M1579 299h0M1535 315h0M1672 319h0M1684 280h0M1739 213h0M1660 301h0M1652 308h0M1631 310h0M1745 200h0M1677 277h0M1646 328h0M1731 252h0M1652 273h0M1655 245h0M1603 326h0M1560 315h0M1603 304h0M1624 306h0M1563 335h0M1635 276h0M1680 332h0M1646 311h0M1559 335h0M1538 298h0M1583 332h0M1542 327h0M1618 296h0M1553 334h0M1565 319h0M1609 310h0M1617 303h0M1734 205h0M1762 183h0M1718 224h0M1716 239h0M1574 308h0M1595 321h0M1538 303h0M1634 265h0M1572 324h0M1678 260h0M1602 321h0M1587 305h0M1640 317h0M1599 334h0M1654 329h0M1560 320h0M1666 286h0M1567 308h0M1633 280h0M1554 336h0M1600 310h0M1557 336h0M1735 231h0M1591 316h0M1633 280h0M1584 324h0M1541 332h0M1598 340h0M1574 298h0M1596 329h0M1594 329h0M1587 318h0M1644 246h0M1598 315h0M1705 249h0M1596 329h0M1622 325h0M1540 311h0M1579 300h0M1605 316h0M1688 262h0M1567 316h0M1598 322h0M1695 306h0M1548 311h0M1563 329h0M1649 279h0M1566 337h0M1691 277h0M1599 331h0M1678 248h0M1537 320h0M1712 212h0M1598 327h0M1646 285h0M1569 332h0M1593 311h0M1646 296h0M1556 308h0M1632 315h0M1654 299h0M1720 234h0M1636 299h0M1617 300h0M1696 293h0M1538 333h0M1553 341h0M1582 310h0M1607 315h0M1566 316h0M1626 310h0M1622 324h0M1549 327h0M1606 335h0M1669 260h0M1548 338h0M1560 317h0M1598 293h0M1572 331h0M1708 256h0M1543 335h0M1595 337h0M1590 341h0M1716 232h0M1621 298h0M1549 324h0M1675 279h0M1661 271h0M1677 264h0M1553 340h0M1718 236h0M1621 317h0M1636 338h0M1704 285h0M1611 306h0M1570 335h0M1553 337h0M1558 292h0M1548 306h0M1563 315h0M1582 304h0M1651 284h0M1605 306h0M1664 305h0M1662 302h0M1736 203h0M1564 287h0M1627 308h0M1582 303h0M1628 340h0M1537 317h0M1607 327h0M1638 288h0M1597 340h0M1601 304h0M1682 270h0M1684 298h0M1593 294h0M1603 319h0M1554 325h0M1661 273h0M1620 318h0M1676 287h0M1648 305h0M1634 317h0M1568 303h0M1653 289h0M1652 337h0M1595 324h0M1653 308h0M1624 298h0M1671 259h0M1573 302h0M1633 304h0M1688 274h0M1650 297h0M1649 279h0M1663 269h0M1599 318h0M1676 322h0M1609 309h0M1558 329h0M1601 308h0M1704 239h0M1579 313h0M1621 303h0M1668 265h0M1664 301h0M1581 328h0M1645 317h0M1576 316h0M1691 250h0M1631 332h0M1653 327h0M1574 332h0M1627 327h0M1584 327h0M1634 301h0M1630 279h0M1665 303h0M1640 297h0M1636 319h0M1634 320h0M1625 312h0M1578 312h0M1551 327h0M1574 311h0M1559 322h0M1653 296h0M1545 327h0M1565 323h0M1653 295h0M1728 213h0M1584 338h0M1550 307h0M1721 263h0M1692 255h0M1627 269h0M1573 335h0M1639 263h0M1536 331h0M1648 330h0M1646 313h0M1703 270h0M1622 298h0M1606 296h0M1668 249h0M1695 288h0M1610 300h0M1561 339h0M1714 273h0M1651 259h0M1659 338h0M1664 257h0M1721 210h0M1737 217h0M1709 250h0M1543 301h0M1558 324h0M1662 295h0M1628 302h0M1585 313h0M1626 286h0M1561 334h0M1661 241h0M1578 332h0M1686 269h0M1663 279h0M1696 279h0M1573 308h0M1684 281h0M1542 321h0M1634 292h0M1633 322h0M1601 273h0M1552 339h0M1673 289h0M1730 206h0M1690 264h0M1648 332h0M1583 290h0M1608 289h0M1676 260h0M1726 231h0M1565 327h0M1634 292h0M1713 247h0M1633 331h0M1604 311h0M1578 315h0M1692 294h0M1538 321h0M1650 296h0M1560 339h0M1640 300h0M1658 309h0M1584 309h0M1559 320h0M1601 321h0M1618 285h0M1652 315h0M1547 316h0M1550 332h0M1674 275h0M1716 239h0M1595 320h0M1718 260h0M1652 275h0M1554 292h0M1562 328h0M1668 300h0M1664 313h0M1667 302h0M1623 337h0M1630 322h0M1635 313h0M1654 233h0M1559 311h0M1731 240h0M1535 316h0M1631 287h0M1588 321h0M1667 307h0M1695 248h0M1610 333h0M1716 240h0M1680 276h0M1674 290h0M1667 266h0M1593 329h0M1633 291h0M1598 333h0M1609 337h0M1633 280h0M1627 313h0M1668 291h0M1655 268h0M1620 305h0M1611 303h0M1651 293h0M1567 341h0M1655 309h0M1540 337h0M1638 327h0M1626 283h0M1706 224h0M1702 256h0M1589 310h0M1695 276h0M1623 322h0M1699 236h0M1568 331h0M1634 284h0M1566 323h0M1601 282h0M1638 291h0M1549 326h0M1685 245h0M1559 308h0M1592 314h0M1635 298h0M1673 292h0M1674 310h0M1636 292h0M1632 263h0M1612 296h0M1566 330h0M1680 301h0M1627 272h0M1644 316h0M1657 322h0M1637 292h0M1542 307h0M1664 298h0M1582 327h0M1711 261h0M1702 277h0M1685 277h0M1667 275h0M1691 257h0M1656 329h0M1634 318h0M1713 247h0M1539 333h0M1655 305h0M1552 334h0M1578 329h0M1611 282h0M1686 268h0M1588 328h0M1611 306h0M1596 331h0M1674 246h0M1632 299h0M1629 318h0M1678 301h0M1673 273h0M1631 274h0M1560 339h0M1638 321h0M1594 289h0M1604 316h0M1686 284h0M1654 303h0M1562 336h0M1595 320h0M1641 289h0M1586 301h0M1682 322h0M1589 322h0M1682 275h0M1691 289h0M1636 275h0M1724 219h0M1685 241h0M1602 297h0M1604 330h0M1617 310h0M1636 305h0M1595 328h0M1625 320h0M1647 313h0M1554 319h0M1675 319h0M1583 311h0M1661 291h0M1635 276h0M1570 331h0M1540 340h0M1627 283h0M1684 250h0M1553 311h0M1541 337h0M1643 290h0M1648 316h0M1654 298h0M1642 302h0M1546 322h0M1655 296h0M1677 270h0M1599 322h0M1656 291h0M1617 313h0M1617 318h0M1540 318h0M1539 318h0M1595 310h0M1676 275h0M1603 314h0M1738 219h0M1562 334h0M1670 314h0M1654 311h0M1610 322h0M1558 339h0M1566 325h0M1672 301h0M1605 303h0M1702 229h0M1556 328h0M1582 330h0M1661 301h0M1561 312h0M1546 318h0M1651 308h0M1690 306h0M1586 293h0M1620 317h0M1581 333h0M1627 313h0M1577 318h0M1624 269h0M1617 313h0M1654 293h0M1538 331h0M1604 316h0M1602 328h0M1568 299h0M1685 272h0M1577 325h0M1587 304h0M1690 253h0M1562 333h0M1656 292h0M1564 340h0M1569 340h0M1656 293h0M1707 239h0M1555 329h0M1648 269h0M1599 336h0M1623 308h0M1626 302h0M1650 292h0M1693 281h0M1704 245h0M1683 301h0M1562 325h0M1566 292h0M1742 241h0M1610 296h0M1638 300h0M1625 336h0M1660 300h0M1751 211h0M1623 313h0M1676 306h0M1582 297h0M1579 321h0M1643 293h0M1625 311h0M1571 331h0M1673 266h0M1534 328h0M1620 318h0M1690 272h0M1571 303h0M1568 324h0M1561 340h0M1563 319h0M1554 334h0M1559 316h0M1646 290h0M1543 329h0M1680 241h0M1569 328h0M1623 293h0M1666 241h0M1658 319h0M1577 324h0M1639 285h0M1568 335h0M1715 257h0M1657 295h0M1637 295h0M1663 253h0M1588 322h0M1637 312h0M1634 281h0M1694 257h0M1630 282h0M1696 221h0M1651 307h0M1657 269h0M1689 260h0M1629 302h0M1682 271h0M1639 300h0M1553 335h0M1546 339h0M1544 339h0M1656 307h0M1585 314h0M1688 296h0M1680 264h0M1597 310h0M1538 312h0M1616 331h0M1775 155h0M1684 275h0M1591 335h0M1685 282h0M1664 289h0M1605 313h0M1656 326h0M1718 262h0M1619 316h0M1561 329h0M1566 321h0M1603 310h0M1608 301h0M1688 280h0M1538 336h0M1652 282h0M1541 331h0M1592 317h0M1635 297h0M1693 254h0M1618 306h0M1628 339h0M1665 257h0M1701 228h0M1543 328h0M1671 258h0M1586 299h0M1545 323h0M1679 272h0M1569 323h0M1643 324h0M1629 296h0M1566 332h0M1699 254h0M1621 312h0M1647 249h0M1640 288h0M1664 299h0M1541 312h0M1556 335h0M1700 282h0M1610 301h0M1545 335h0M1592 300h0M1694 287h0M1648 275h0M1563 326h0M1574 323h0M1607 341h0M1674 275h0M1539 334h0M1649 287h0M1617 304h0M1580 302h0M1592 325h0M1676 320h0M1670 297h0M1651 301h0M1653 310h0M1651 279h0M1697 251h0M1600 289h0M1623 279h0M1600 339h0M1663 286h0M1566 296h0M1660 257h0M1553 318h0M1703 276h0M1603 327h0M1735 216h0M1691 250h0M1655 279h0M1625 279h0M1700 287h0M1709 234h0M1544 339h0M1618 315h0M1604 321h0M1577 294h0M1655 287h0M1570 315h0M1625 307h0M1665 313h0M1651 296h0M1678 219h0M1639 272h0M1633 272h0M1661 288h0M1626 295h0M1683 284h0M1592 335h0M1602 322h0M1611 305h0M1714 276h0M1546 330h0M1652 268h0M1628 291h0M1562 328h0M1612 266h0M1546 305h0M1602 301h0M1674 276h0M1582 328h0M1675 318h0M1546 338h0M1539 317h0M1615 291h0M1723 243h0M1646 334h0M1715 233h0M1645 289h0M1640 322h0M1625 315h0M1566 298h0M1623 285h0M1682 290h0M1636 280h0M1661 256h0M1627 341h0M1687 278h0M1609 309h0M1557 340h0M1686 299h0M1559 316h0M1562 337h0M1680 265h0M1643 277h0M1610 308h0M1618 340h0M1668 318h0M1536 307h0M1627 298h0M1555 333h0M1657 277h0M1687 285h0M1629 280h0M1568 313h0M1595 307h0M1609 330h0M1698 268h0M1661 266h0M1703 252h0M1668 292h0M1536 306h0M1630 275h0M1627 282h0M1625 285h0M1551 291h0M1604 326h0M1688 320h0M1605 336h0M1539 319h0M1635 309h0M1599 323h0M1574 330h0M1660 240h0M1680 290h0M1589 300h0M1692 266h0M1585 337h0M1535 341h0M1730 224h0M1582 291h0M1634 318h0M1592 315h0M1725 225h0M1621 289h0M1579 327h0M1562 340h0M1658 263h0M1569 308h0M1664 308h0M1585 333h0M1624 331h0M1602 339h0M1590 314h0M1618 311h0M1535 316h0M1542 326h0M1708 238h0M1606 330h0M1672 243h0M1616 308h0M1678 292h0M1654 250h0M1707 257h0M1680 230h0M1628 255h0M1535 314h0M1565 315h0M1676 276h0M1623 317h0M1623 302h0M1653 296h0M1648 311h0M1646 290h0M1620 306h0M1548 332h0M1597 330h0M1575 315h0M1581 328h0M1617 311h0M1666 317h0M1635 318h0M1569 321h0M1570 301h0M1670 288h0M1590 304h0M1606 324h0M1633 285h0M1539 332h0M1591 314h0M1672 293h0M1638 324h0M1539 308h0M1581 312h0M1639 261h0M1606 322h0M1639 316h0M1572 339h0M1678 306h0M1681 279h0M1555 318h0M1542 341h0M1689 238h0M1600 303h0M1679 259h0M1650 304h0M1690 267h0M1595 290h0M1668 297h0M1632 337h0M1663 294h0M1667 278h0M1581 334h0M1680 259h0M1611 332h0M1536 330h0M1591 334h0M1681 267h0M1612 294h0M1635 292h0M1609 323h0M1592 304h0M1605 307h0M1670 262h0M1576 294h0M1663 295h0M1548 293h0M1579 310h0M1694 248h0M1663 296h0M1619 334h0M1641 302h0M1563 299h0M1676 275h0M1702 244h0M1547 315h0M1731 214h0M1676 259h0M1657 276h0M1567 313h0M1568 321h0M1567 310h0M1537 316h0M1607 290h0M1701 237h0M1565 329h0M1564 331h0M1632 318h0M1635 311h0M1709 264h0M1664 300h0M1540 339h0M1707 227h0M1604 329h0M1632 308h0M1554 296h0M1655 287h0M1578 317h0M1695 300h0M1594 296h0M1663 284h0M1611 293h0M1535 339h0M1588 340h0M1558 328h0M1544 319h0M1579 293h0M1574 324h0M1552 330h0M1692 276h0M1661 280h0M1669 301h0M1727 204h0M1624 311h0M1610 317h0M1577 335h0M1715 248h0M1607 266h0M1747 200h0M1666 303h0M1725 230h0M1619 332h0M1640 312h0M1540 280h0M1578 309h0M1612 328h0M1604 336h0M1633 282h0M1669 311h0M1632 329h0M1605 320h0M1675 289h0M1610 308h0M1549 325h0M1641 307h0M1624 303h0M1714 270h0M1555 340h0M1708 233h0M1688 253h0M1583 298h0M1623 305h0M1555 338h0M1660 274h0M1610 324h0M1574 322h0M1550 307h0M1547 304h0M1654 277h0M1645 309h0M1586 280h0M1685 278h0M1653 302h0M1681 291h0M1659 313h0M1652 286h0M1585 315h0M1602 301h0M1693 243h0M1652 309h0M1709 243h0M1675 280h0M1764 172h0M1570 308h0M1704 277h0M1651 313h0M1568 329h0M1615 318h0M1592 288h0M1686 252h0M1678 269h0M1590 331h0M1598 289h0M1543 335h0M1687 281h0M1629 306h0M1586 312h0M1700 280h0M1589 322h0M1689 286h0M1677 308h0M1770 166h0M1594 337h0M1555 323h0M1582 296h0M1606 271h0M1627 317h0M1643 315h0M1774 176h0M1538 306h0M1558 309h0M1596 319h0M1647 331h0M1673 307h0M1723 225h0M1631 284h0M1584 310h0M1626 311h0M1617 332h0M1642 296h0M1613 291h0M1552 310h0M1676 246h0M1609 307h0M1598 305h0M1565 330h0M1685 284h0M1584 331h0M1612 296h0M1610 331h0M1637 334h0M1580 327h0M1578 294h0M1589 320h0M1741 221h0M1568 309h0M1629 294h0M1689 263h0M1595 306h0M1703 256h0M1708 278h0M1573 324h0M1665 293h0M1740 224h0M1696 268h0M1591 307h0M1608 326h0M1707 276h0M1554 330h0M1662 267h0M1673 287h0M1691 228h0M1536 321h0M1662 293h0M1604 284h0M1605 309h0M1636 278h0M1721 240h0M1536 309h0M1603 296h0M1720 238h0M1679 300h0M1627 322h0M1689 240h0M1600 312h0M1658 292h0M1621 282h0M1640 302h0M1605 323h0M1621 290h0M1584 325h0M1608 331h0M1682 264h0M1610 286h0M1633 278h0M1552 331h0M1604 316h0M1721 220h0M1559 317h0M1562 323h0M1713 248h0M1595 319h0M1560 332h0M1574 329h0M1665 304h0M1551 325h0M1696 292h0M1610 313h0M1677 280h0M1674 306h0M1674 296h0M1567 331h0M1669 267h0M1636 292h0M1637 308h0M1574 337h0M1661 280h0M1635 297h0M1583 307h0M1570 335h0M1541 324h0M1615 316h0M1685 289h0M1612 303h0M1697 267h0M1583 301h0M1556 322h0M1582 319h0M1573 337h0M1546 333h0M1611 336h0M1577 305h0M1605 311h0M1588 338h0M1677 253h0M1676 298h0M1669 310h0M1626 314h0M1595 320h0M1659 340h0M1569 326h0M1640 339h0M1713 224h0M1645 280h0M1586 333h0M1717 271h0M1559 325h0M1538 337h0M1649 299h0M1674 248h0M1591 296h0M1594 331h0M1534 324h0M1616 310h0M1678 255h0M1645 278h0M1665 282h0M1584 322h0M1682 244h0M1700 267h0M1654 316h0M1559 312h0M1673 270h0M1639 334h0M1589 310h0M1582 321h0M1737 211h0M1769 175h0M1583 338h0M1649 291h0M1611 308h0M1601 330h0M1546 302h0M1679 298h0M1570 322h0M1551 313h0M1571 326h0M1551 327h0M1538 320h0M1694 271h0M1631 304h0M1626 329h0M1669 249h0M1596 339h0M1646 297h0M1563 336h0M1587 322h0M1607 337h0M1539 300h0M1619 287h0M1755 180h0M1667 276h0M1570 316h0M1552 328h0M1591 340h0M1587 338h0M1621 323h0M1668 288h0M1552 307h0M1595 330h0M1568 326h0M1654 277h0M1653 287h0M1593 332h0M1625 340h0M1573 336h0M1638 295h0M1679 251h0M1643 289h0M1539 311h0M1678 278h0M1678 225h0M1682 266h0M1678 236h0M1628 320h0M1608 311h0M1642 266h0M1672 233h0M1647 319h0M1695 248h0M1582 301h0M1608 323h0M1667 268h0M1713 252h0M1659 304h0M1549 320h0M1596 289h0M1656 315h0M1565 314h0M1634 287h0M1650 276h0M1573 307h0M1743 211h0M1623 312h0M1704 274h0M1595 292h0M1651 309h0M1650 263h0M1680 253h0M1632 304h0M1790 160h0M1668 256h0M1665 280h0M1665 314h0M1626 329h0M1638 280h0M1639 328h0M1543 321h0M1650 269h0M1671 322h0M1698 249h0M1611 295h0M1634 320h0M1635 338h0M1710 227h0M1639 299h0M1657 276h0M1585 336h0M1585 304h0M1623 310h0M1637 323h0M1703 221h0M1698 290h0M1705 290h0M1570 339h0M1619 301h0M1608 313h0M1613 324h0M1718 251h0M1546 331h0M1547 338h0M1552 332h0M1647 310h0M1558 301h0M1694 301h0M1643 307h0M1629 286h0M1644 323h0M1586 298h0M1612 312h0M1668 299h0M1595 325h0M1660 273h0M1660 272h0M1588 312h0M1617 283h0M1675 272h0M1606 320h0M1670 291h0M1555 326h0M1561 334h0M1681 246h0M1658 305h0M1683 237h0M1657 289h0M1550 317h0M1594 299h0M1662 297h0M1679 275h0M1576 320h0M1580 308h0M1557 304h0M1654 282h0M1604 331h0M1590 307h0M1631 313h0M1563 336h0M1650 244h0M1608 309h0M1612 318h0M1714 259h0M1587 302h0M1563 317h0M1648 300h0M1584 340h0M1541 339h0M1717 225h0M1618 286h0M1618 312h0M1546 334h0M1711 255h0M1640 282h0M1657 325h0M1701 256h0M1566 328h0M1588 325h0M1725 238h0M1636 311h0M1659 282h0M1664 292h0M1589 333h0M1685 266h0M1601 299h0M1665 290h0M1563 325h0M1659 300h0M1556 326h0M1621 319h0M1690 247h0M1571 300h0M1549 304h0M1686 260h0M1635 290h0M1584 313h0M1630 312h0M1679 256h0M1621 294h0M1576 330h0M1601 339h0M1660 284h0M1677 304h0M1581 301h0M1704 248h0M1722 234h0M1578 320h0M1644 277h0M1624 303h0M1697 274h0M1639 307h0M1596 341h0M1549 319h0M1613 313h0M1645 316h0M1632 303h0M1550 312h0M1691 293h0M1634 286h0M1686 302h0M1551 316h0M1578 338h0M1662 265h0M1625 290h0M1616 315h0M1648 262h0M1656 288h0M1660 254h0M1804 147h0M1549 317h0M1575 326h0M1662 269h0M1581 327h0M1595 325h0M1634 296h0M1692 276h0M1553 317h0M1641 270h0M1722 224h0M1649 299h0M1629 281h0M1641 271h0M1662 307h0M1721 247h0M1628 311h0M1704 242h0M1712 270h0M1622 305h0M1640 333h0M1653 250h0M1662 277h0M1540 331h0M1631 277h0M1566 316h0M1655 316h0M1562 322h0M1622 313h0M1691 290h0M1615 334h0M1614 278h0M1610 308h0M1541 317h0M1700 287h0M1631 319h0M1714 241h0M1645 281h0M1625 290h0M1727 243h0M1732 232h0M1646 321h0M1730 215h0M1568 324h0M1589 302h0M1571 330h0M1673 289h0M1551 340h0M1675 311h0M1573 322h0M1669 283h0M1612 327h0M1598 321h0M1663 267h0M1541 332h0M1644 327h0M1642 306h0M1711 235h0M1653 287h0M1656 316h0M1616 295h0M1682 281h0M1687 254h0M1691 280h0M1634 296h0M1727 229h0M1569 292h0M1628 296h0M1694 209h0M1690 298h0M1562 315h0M1543 335h0M1678 292h0M1553 309h0M1708 248h0M1635 337h0M1574 331h0M1717 249h0M1593 333h0M1721 245h0M1653 274h0M1587 322h0M1669 284h0M1539 305h0M1646 300h0M1593 300h0M1615 328h0M1573 309h0M1598 302h0M1684 253h0M1701 238h0M1585 299h0M1659 270h0M1636 278h0M1635 285h0M1653 263h0M1543 340h0M1650 282h0M1650 287h0M1620 286h0M1685 273h0M1605 301h0M1570 299h0M1615 318h0M1609 338h0M1631 301h0M1693 244h0M1700 252h0M1648 295h0M1684 310h0M1653 330h0M1636 299h0M1651 294h0M1587 330h0M1677 287h0M1596 310h0M1589 317h0M1682 297h0M1612 301h0M1604 306h0M1566 301h0M1627 308h0M1547 330h0M1595 312h0M1631 321h0M1593 317h0M1657 323h0M1609 317h0M1617 270h0M1567 284h0M1611 326h0M1655 259h0M1606 330h0M1593 326h0M1635 277h0M1542 329h0M1593 335h0M1635 335h0M1580 307h0M1658 272h0M1535 332h0M1676 272h0M1627 323h0M1598 329h0M1612 317h0M1636 277h0M1685 281h0M1684 303h0M1631 309h0M1593 321h0M1648 291h0M1652 286h0M1721 247h0M1596 324h0M1603 299h0M1653 288h0M1622 309h0M1608 313h0M1608 331h0M1554 336h0M1594 301h0M1759 181h0M1613 337h0M1627 328h0M1660 322h0M1669 292h0M1618 275h0M1686 282h0M1583 338h0M1604 307h0M1692 289h0M1545 337h0M1696 287h0M1605 318h0M1642 306h0M1541 306h0M1541 319h0M1680 252h0M1717 234h0M1620 322h0M1553 322h0M1663 270h0M1598 299h0M1639 310h0M1668 268h0M1612 317h0M1604 326h0M1563 295h0M1672 285h0M1677 281h0M1632 286h0M1600 296h0M1597 321h0M1601 319h0M1691 276h0M1653 287h0M1658 294h0M1695 277h0M1637 291h0M1616 337h0M1696 289h0M1612 302h0M1673 325h0M1639 266h0M1652 285h0M1549 318h0M1603 326h0M1676 257h0M1628 323h0M1576 309h0M1663 307h0M1642 297h0M1563 315h0M1658 310h0M1660 276h0M1563 322h0M1582 336h0M1639 275h0M1592 317h0M1635 315h0M1635 326h0M1689 271h0M1663 276h0M1671 261h0M1650 296h0M1690 269h0M1639 310h0M1611 302h0M1660 295h0M1564 314h0M1549 306h0M1658 290h0M1661 307h0M1596 321h0M1720 222h0M1543 336h0M1628 331h0M1535 316h0M1655 280h0M1596 317h0M1614 286h0M1640 327h0M1573 307h0M1549 317h0M1693 260h0M1613 325h0M1564 307h0M1592 313h0M1607 297h0M1685 283h0M1698 240h0M1619 301h0M1643 299h0M1544 319h0M1653 240h0M1700 298h0M1721 234h0M1646 262h0M1562 319h0M1607 290h0M1552 335h0M1598 294h0M1652 297h0M1755 197h0M1541 305h0M1614 330h0M1693 277h0M1573 340h0M1651 308h0M1560 317h0M1710 245h0M1555 319h0M1609 287h0M1675 247h0M1584 320h0M1661 320h0M1604 301h0M1668 314h0M1599 296h0M1719 208h0M1650 276h0M1575 323h0M1610 280h0M1652 277h0M1562 337h0M1564 310h0M1673 328h0M1696 267h0M1707 250h0M1680 278h0M1611 305h0M1657 301h0M1626 311h0M1727 232h0M1666 322h0M1549 326h0M1581 339h0M1565 328h0M1704 237h0M1545 336h0M1655 294h0M1590 330h0M1587 299h0M1541 306h0M1638 291h0M1690 206h0M1656 299h0M1601 300h0M1616 281h0M1546 327h0M1584 289h0M1588 312h0M1694 270h0M1742 216h0M1718 250h0M1551 336h0M1630 296h0M1712 245h0M1581 317h0M1608 321h0M1700 225h0M1680 266h0M1611 306h0M1544 327h0M1592 323h0M1585 325h0M1542 330h0M1587 324h0M1694 263h0M1634 326h0M1625 322h0M1604 294h0M1612 319h0M1592 333h0M1670 318h0M1631 308h0M1592 289h0M1722 241h0M1680 280h0M1565 319h0M1614 305h0M1587 333h0M1588 319h0M1536 321h0M1541 341h0M1625 295h0M1566 322h0M1595 322h0M1607 329h0M1566 325h0M1682 298h0M1667 297h0M1685 260h0M1570 334h0M1601 295h0M1677 286h0M1646 247h0M1590 325h0M1706 239h0M1566 321h0M1701 293h0M1672 279h0M1707 279h0M1549 317h0M1644 298h0M1602 321h0M1669 277h0M1608 329h0M1691 275h0M1596 337h0M1657 296h0M1579 326h0M1675 315h0M1660 338h0M1646 255h0M1568 327h0M1617 297h0M1605 335h0M1678 309h0M1616 291h0M1654 336h0M1580 328h0M1639 280h0M1544 335h0M1666 289h0M1625 326h0M1663 319h0M1555 335h0M1622 329h0M1655 260h0M1664 282h0M1639 301h0M1534 316h0M1640 317h0M1575 331h0M1579 335h0M1591 330h0M1573 321h0M1599 300h0M1600 327h0M1548 324h0M1536 314h0M1618 304h0M1651 284h0M1573 321h0M1625 318h0M1674 294h0M1671 281h0M1592 339h0M1614 295h0M1664 246h0M1596 317h0M1651 266h0M1547 311h0M1599 328h0M1609 323h0M1666 214h0M1588 324h0M1656 303h0M1677 305h0M1600 329h0M1604 317h0M1564 328h0M1629 331h0M1652 311h0M1629 298h0M1597 335h0M1605 309h0M1696 246h0M1637 308h0M1672 256h0M1610 331h0M1623 329h0M1743 229h0M1708 292h0M1543 323h0M1613 294h0M1643 277h0M1719 256h0M1566 312h0M1619 316h0M1631 303h0M1552 327h0M1668 273h0M1561 315h0M1552 305h0M1548 316h0M1751 190h0M1581 299h0M1767 173h0M1632 317h0M1625 312h0M1700 284h0M1629 329h0M1541 332h0M1663 320h0M1567 314h0M1648 283h0M1693 282h0M1536 323h0M1647 294h0M1695 191h0M1681 286h0M1652 273h0M1659 280h0M1666 292h0M1661 278h0M1671 284h0M1617 319h0M1563 312h0M1595 320h0M1671 290h0M1596 319h0M1683 304h0M1580 318h0M1651 295h0M1661 322h0M1691 289h0M1619 298h0M1691 269h0M1722 242h0M1640 315h0M1566 327h0M1660 295h0M1606 327h0M1624 301h0M1641 276h0M1620 314h0M1600 296h0M1612 305h0M1644 262h0M1718 203h0M1647 302h0M1615 320h0M1660 293h0M1692 263h0M1674 256h0M1581 338h0M1585 316h0M1683 290h0M1629 283h0M1676 263h0M1703 242h0M1687 279h0M1629 327h0M1597 306h0M1666 287h0M1649 275h0M1576 308h0M1709 215h0M1707 283h0M1619 336h0M1687 259h0M1587 324h0M1623 316h0M1619 316h0M1670 300h0M1656 263h0M1762 180h0M1559 323h0M1540 326h0M1671 307h0M1586 327h0M1556 332h0M1678 293h0M1721 204h0M1544 334h0M1563 299h0M1624 322h0M1537 336h0M1705 251h0M1665 320h0M1660 304h0M1537 328h0M1549 322h0M1616 309h0M1630 290h0M1695 243h0M1657 308h0M1623 287h0M1566 324h0M1566 331h0M1616 311h0M1651 268h0M1702 248h0M1677 316h0M1636 293h0M1700 281h0M1657 267h0M1638 333h0M1680 292h0M1677 252h0M1659 308h0M1567 335h0M1597 326h0M1679 292h0M1603 307h0M1633 261h0M1560 332h0M1655 265h0M1600 317h0M1596 335h0M1692 235h0M1606 303h0M1621 299h0M1536 341h0M1724 229h0M1560 324h0M1620 300h0M1637 302h0M1558 333h0M1624 295h0M1590 295h0M1627 305h0M1640 310h0M1587 295h0M1589 327h0M1613 318h0M1675 249h0M1568 319h0M1579 337h0M1712 250h0M1663 312h0M1618 301h0M1595 317h0M1666 254h0M1682 315h0M1655 285h0M1622 334h0M1582 311h0M1686 277h0M1626 313h0M1671 232h0M1590 328h0M1661 303h0M1583 297h0M1644 286h0M1574 327h0M1638 312h0M1726 222h0M1679 287h0M1576 333h0M1661 285h0M1665 302h0M1549 323h0M1596 328h0M1603 320h0M1594 339h0M1732 208h0M1562 324h0M1606 300h0M1623 337h0M1621 321h0M1748 204h0M1598 310h0M1617 308h0M1651 295h0M1624 326h0M1593 339h0M1555 299h0M1679 314h0M1654 318h0M1704 261h0M1681 321h0M1578 330h0M1638 290h0M1579 325h0M1687 299h0M1632 330h0M1694 246h0M1696 245h0M1615 315h0M1685 251h0M1565 317h0M1561 327h0M1662 298h0M1687 235h0M1678 264h0M1672 318h0M1613 300h0M1707 265h0M1555 335h0M1573 321h0M1538 331h0M1547 334h0M1708 240h0M1714 224h0M1607 262h0M1685 293h0M1694 297h0M1759 198h0M1600 324h0M1698 203h0M1659 265h0M1576 316h0M1612 319h0M1696 292h0M1733 218h0M1692 268h0M1662 285h0M1695 254h0M1671 322h0M1551 323h0M1549 323h0M1578 308h0M1617 294h0M1572 317h0M1753 187h0M1696 239h0M1647 316h0M1662 300h0M1596 324h0M1645 279h0M1667 265h0M1618 314h0M1679 264h0M1651 290h0M1565 315h0M1672 275h0M1724 216h0M1637 301h0M1686 288h0M1713 234h0M1674 277h0M1683 256h0M1644 301h0M1667 281h0M1616 299h0M1580 325h0M1658 288h0M1682 291h0M1712 284h0M1539 330h0M1554 334h0M1668 302h0M1699 251h0M1617 308h0M1708 215h0M1638 332h0M1703 237h0M1596 331h0M1709 293h0M1604 316h0M1621 330h0M1648 258h0M1536 308h0M1629 307h0M1655 289h0M1588 326h0M1579 325h0M1559 338h0M1553 320h0M1595 319h0M1604 306h0M1545 338h0M1536 341h0M1571 334h0M1664 251h0M1599 311h0M1622 302h0M1615 311h0M1768 163h0M1542 328h0M1708 259h0M1543 332h0M1544 340h0M1619 293h0M1567 341h0M1712 250h0M1652 278h0M1566 314h0M1695 262h0M1624 310h0M1580 339h0M1649 302h0M1616 324h0M1637 317h0M1678 292h0M1635 304h0M1588 331h0M1664 265h0M1631 303h0M1643 286h0M1612 306h0M1619 275h0M1638 299h0M1591 311h0M1563 314h0M1679 245h0M1551 308h0M1615 318h0M1638 280h0M1592 308h0M1666 296h0M1601 308h0M1694 229h0M1678 288h0M1692 294h0M1576 301h0M1539 335h0M1694 221h0M1554 330h0M1574 334h0M1543 309h0M1567 329h0M1597 297h0M1570 321h0M1613 292h0M1640 268h0M1634 315h0M1665 267h0M1619 281h0M1652 298h0M1717 230h0M1655 293h0M1699 294h0M1595 291h0M1594 314h0M1689 243h0M1538 326h0M1654 286h0M1702 249h0M1576 290h0M1565 339h0M1647 298h0M1613 285h0M1570 330h0M1648 280h0M1637 310h0M1603 314h0M1630 321h0M1724 235h0M1662 305h0M1632 290h0M1558 313h0M1591 326h0M1669 259h0M1577 301h0M1548 316h0M1632 273h0M1645 289h0M1618 297h0M1663 290h0M1687 239h0M1717 244h0M1630 293h0M1670 288h0M1675 271h0M1547 338h0M1554 297h0M1598 303h0M1697 273h0M1680 265h0M1683 252h0M1606 296h0M1645 308h0M1625 310h0M1535 327h0M1706 273h0M1634 293h0M1684 232h0M1605 309h0M1594 339h0M1646 282h0M1651 285h0M1566 337h0M1611 269h0M1664 293h0M1570 315h0M1697 231h0M1658 314h0M1639 297h0M1548 318h0M1653 292h0M1599 327h0M1727 237h0M1626 322h0M1556 327h0M1675 286h0M1684 258h0M1678 287h0M1782 161h0M1569 314h0M1593 323h0M1677 316h0M1573 321h0M1552 331h0M1625 319h0M1730 211h0M1559 324h0M1574 331h0M1556 328h0M1706 283h0M1648 292h0M1591 340h0M1562 339h0M1692 238h0M1608 301h0M1675 311h0M1644 267h0M1534 315h0M1546 325h0M1634 304h0M1603 276h0M1640 305h0M1639 255h0M1536 327h0M1574 309h0M1588 337h0M1658 259h0M1613 328h0M1612 332h0M1661 286h0M1668 272h0M1558 301h0M1661 335h0M1677 288h0M1584 322h0M1649 256h0M1577 292h0M1595 332h0M1702 249h0M1565 293h0M1645 274h0M1747 220h0M1534 336h0M1643 286h0M1633 306h0M1586 301h0M1649 305h0M1624 291h0M1615 278h0M1581 304h0M1644 279h0M1557 318h0M1686 257h0M1598 324h0M1586 313h0M1681 279h0M1558 341h0M1653 292h0M1723 227h0M1565 340h0M1679 246h0M1666 280h0M1569 308h0M1586 314h0M1576 306h0M1675 301h0M1612 334h0M1615 290h0M1559 321h0M1666 278h0M1570 326h0M1752 210h0M1650 273h0M1644 301h0M1680 262h0M1622 315h0M1548 330h0M1671 280h0M1621 327h0M1568 336h0M1668 293h0M1697 279h0M1616 299h0M1566 304h0M1549 304h0M1539 314h0M1616 317h0M1718 228h0M1608 312h0M1557 315h0M1594 336h0M1697 253h0M1663 278h0M1538 321h0M1663 261h0M1541 316h0M1670 297h0M1738 228h0M1659 282h0M1660 284h0M1611 324h0M1744 190h0M1631 300h0M1576 332h0M1676 271h0M1704 275h0M1659 292h0M1698 282h0M1568 325h0M1679 267h0M1692 264h0M1623 338h0M1670 270h0M1542 323h0M1546 336h0M1560 308h0M1573 329h0M1754 187h0M1619 284h0M1679 258h0M1630 307h0M1788 164h0M1673 306h0M1731 232h0M1643 298h0M1683 275h0M1606 284h0M1580 326h0M1631 289h0M1709 264h0M1677 272h0M1663 303h0M1673 291h0M1565 327h0M1661 282h0M1660 304h0M1656 290h0M1719 225h0M1557 340h0M1705 258h0M1758 195h0M1649 307h0M1696 257h0M1580 306h0M1664 290h0M1774 165h0M1710 251h0M1572 324h0M1639 255h0M1656 310h0M1597 302h0M1564 330h0M1574 299h0M1558 326h0M1554 338h0M1560 300h0M1546 340h0M1584 327h0M1615 299h0M1629 337h0M1611 325h0M1691 265h0M1731 205h0M1683 253h0M1663 254h0M1557 336h0M1567 316h0M1549 319h0M1559 324h0M1585 336h0M1596 292h0M1595 298h0M1771 175h0M1677 275h0M1606 334h0M1670 258h0M1544 327h0M1571 299h0M1595 316h0M1664 278h0M1544 340h0M1635 262h0M1583 307h0M1603 310h0M1608 328h0M1589 334h0M1622 319h0M1594 325h0M1592 306h0M1563 332h0M1604 320h0M1562 328h0M1616 302h0M1684 245h0M1621 303h0M1633 319h0M1699 276h0M1566 322h0M1624 310h0M1667 318h0M1682 272h0M1653 281h0M1678 248h0M1706 269h0M1552 316h0M1691 272h0M1691 262h0M1622 293h0M1637 315h0M1595 324h0M1644 299h0M1673 280h0M1545 326h0M1688 289h0M1675 318h0M1653 281h0M1582 328h0M1619 313h0M1681 276h0M1632 312h0M1689 261h0M1551 305h0M1597 332h0M1550 339h0M1535 341h0M1571 332h0M1596 300h0M1583 324h0M1573 315h0M1652 286h0M1629 305h0M1546 324h0M1575 326h0M1630 286h0M1695 300h0M1687 292h0M1599 325h0M1623 313h0M1649 310h0M1585 304h0M1569 323h0M1634 317h0M1535 340h0M1675 323h0M1654 281h0M1694 251h0M1586 311h0M1718 270h0M1635 324h0M1649 269h0M1644 286h0M1557 329h0M1659 266h0M1633 276h0M1642 315h0M1586 298h0M1569 334h0M1674 312h0M1600 305h0M1703 216h0M1625 308h0M1622 298h0M1552 323h0M1652 244h0M1612 303h0M1668 324h0M1585 320h0M1623 282h0M1650 319h0M1678 266h0M1664 258h0M1648 298h0M1620 296h0M1665 297h0M1674 265h0M1684 247h0M1658 295h0M1599 290h0M1666 270h0M1618 324h0M1648 272h0M1687 270h0M1713 242h0M1676 284h0M1625 319h0M1631 296h0M1601 301h0M1672 283h0M1608 332h0M1619 327h0M1593 336h0M1551 326h0M1724 198h0M1642 284h0M1680 315h0M1614 283h0M1661 280h0M1638 296h0M1618 288h0M1723 228h0M1673 288h0M1605 310h0M1634 298h0M1648 291h0M1725 207h0M1705 247h0M1648 295h0M1592 303h0M1563 328h0M1609 298h0M1644 312h0M1553 319h0M1558 318h0M1671 334h0M1732 225h0M1696 274h0M1623 339h0M1609 328h0M1785 159h0M1597 326h0M1640 298h0M1649 308h0M1600 320h0M1582 320h0M1543 327h0M1629 318h0M1663 305h0M1610 330h0M1590 299h0M1673 246h0M1706 262h0M1639 303h0M1549 325h0M1551 304h0M1628 309h0M1659 249h0M1566 331h0M1627 315h0M1686 253h0M1655 297h0M1705 254h0M1660 241h0M1620 291h0M1566 320h0M1625 305h0M1597 306h0M1659 316h0M1698 216h0M1721 202h0M1593 321h0M1588 330h0M1550 333h0M1709 219h0M1617 339h0M1613 298h0M1674 309h0M1688 259h0M1635 330h0M1641 295h0M1738 213h0M1612 305h0M1664 261h0M1691 279h0M1547 313h0M1688 296h0M1607 318h0M1610 323h0M1639 299h0M1638 293h0M1627 337h0M1614 326h0M1574 321h0M1586 327h0M1645 300h0M1670 243h0M1793 147h0M1574 300h0M1653 298h0M1621 324h0M1668 279h0M1645 321h0M1667 274h0M1579 304h0M1594 297h0M1574 323h0M1682 269h0M1665 274h0M1586 338h0M1720 263h0M1619 320h0M1557 328h0M1672 271h0M1602 315h0M1599 316h0M1541 329h0M1627 290h0M1557 316h0M1654 277h0M1570 319h0M1582 333h0M1696 313h0M1666 294h0M1670 286h0M1781 164h0M1690 284h0M1591 323h0M1627 300h0M1700 281h0M1675 275h0M1628 262h0M1571 315h0M1622 318h0M1624 295h0M1618 308h0M1689 308h0M1661 322h0M1687 270h0M1581 288h0M1548 328h0M1616 286h0M1633 317h0M1601 321h0M1721 266h0M1608 288h0M1686 319h0M1634 273h0M1648 314h0M1730 225h0M1653 294h0M1646 319h0M1604 309h0M1712 273h0M1610 265h0M1574 295h0M1577 332h0M1684 278h0M1588 337h0M1650 315h0M1728 241h0M1592 318h0M1617 326h0M1588 325h0M1663 292h0M1761 181h0M1595 313h0M1652 331h0M1551 333h0M1535 313h0M1612 316h0M1595 308h0M1587 328h0M1610 305h0M1571 307h0M1535 323h0M1693 271h0M1735 190h0M1564 330h0M1639 319h0M1638 325h0M1636 269h0M1603 333h0M1649 299h0M1622 287h0M1622 331h0M1582 333h0M1679 300h0M1647 313h0M1648 286h0M1577 319h0M1536 296h0M1599 326h0M1563 326h0M1612 274h0M1685 285h0M1636 300h0M1607 302h0M1616 295h0M1705 250h0M1648 277h0M1591 338h0M1621 317h0M1728 227h0M1630 298h0M1628 307h0M1713 235h0M1679 321h0M1588 310h0M1632 314h0M1554 315h0M1669 309h0M1639 260h0M1654 302h0M1670 289h0M1568 336h0M1645 322h0M1596 313h0M1599 316h0M1600 333h0M1537 315h0M1570 336h0M1577 310h0M1610 325h0M1586 311h0M1652 285h0M1684 281h0M1536 325h0M1555 337h0M1689 288h0M1606 286h0M1654 293h0M1624 330h0M1673 254h0M1671 249h0M1588 310h0M1571 328h0M1668 307h0M1669 300h0M1622 260h0M1704 280h0M1617 332h0M1660 294h0M1661 291h0M1580 327h0M1582 302h0M1688 267h0M1596 320h0M1702 279h0M1583 320h0M1650 321h0M1590 317h0M1598 308h0M1555 332h0M1537 311h0M1537 333h0M1558 337h0M1570 323h0M1644 321h0M1540 301h0M1575 330h0M1701 230h0M1559 295h0M1714 253h0M1593 286h0M1558 340h0M1542 308h0M1694 221h0M1666 281h0M1640 269h0M1673 298h0M1607 279h0M1641 290h0M1626 277h0M1649 282h0M1695 277h0M1571 306h0M1709 228h0M1622 321h0M1610 303h0M1581 311h0M1593 313h0M1663 321h0M1542 325h0M1547 336h0M1606 305h0M1670 293h0M1654 271h0M1543 307h0M1669 316h0M1612 306h0M1622 322h0M1577 306h0M1630 310h0M1639 297h0M1680 265h0M1659 280h0M1639 293h0M1679 296h0M1622 303h0M1676 296h0M1597 305h0M1594 330h0M1627 314h0M1631 265h0M1621 292h0M1631 298h0M1592 334h0M1669 268h0M1544 313h0M1673 306h0M1549 323h0M1699 241h0M1552 336h0M1657 319h0M1594 315h0M1677 284h0M1626 278h0M1647 289h0M1550 316h0M1552 340h0M1623 327h0M1628 298h0M1676 296h0M1545 309h0M1678 293h0M1579 318h0M1660 296h0M1684 269h0M1645 304h0M1703 268h0M1619 312h0M1660 294h0M1668 281h0M1589 322h0M1674 262h0M1627 288h0M1602 323h0M1620 292h0M1689 276h0M1613 336h0M1667 314h0M1560 332h0M1670 307h0M1605 296h0M1638 328h0M1656 267h0M1549 324h0M1556 334h0M1702 303h0M1581 302h0M1607 333h0M1558 341h0M1614 305h0M1581 333h0M1601 334h0M1710 221h0M1605 296h0M1629 301h0M1620 313h0M1665 247h0M1683 287h0M1604 328h0M1631 331h0M1560 334h0M1569 300h0M1630 339h0M1692 219h0M1543 308h0M1666 279h0M1615 330h0M1542 340h0M1577 320h0M1649 321h0M1551 321h0M1671 259h0M1643 301h0M1553 321h0M1672 290h0M1589 335h0M1590 295h0M1660 284h0M1698 300h0M1650 303h0M1592 324h0M1617 305h0M1666 252h0M1632 322h0M1557 324h0M1635 312h0M1592 313h0M1600 277h0M1600 301h0M1556 339h0M1649 281h0M1718 247h0M1548 331h0M1631 280h0M1620 315h0M1611 286h0M1615 285h0M1592 341h0M1548 332h0M1732 204h0M1646 291h0M1565 338h0M1649 287h0M1669 268h0M1687 280h0M1546 333h0M1652 293h0M1603 300h0M1640 304h0M1658 278h0M1581 292h0M1635 293h0M1635 284h0M1734 218h0M1669 277h0M1579 312h0M1641 299h0M1658 302h0M1564 310h0M1580 295h0M1755 200h0M1596 341h0M1613 271h0M1617 308h0M1659 286h0M1601 338h0M1654 267h0M1657 294h0M1583 320h0M1608 328h0M1617 281h0M1621 303h0M1661 320h0M1692 277h0M1642 294h0M1629 332h0M1662 238h0M1754 217h0M1700 291h0M1593 324h0M1652 244h0M1718 252h0M1652 276h0M1706 264h0M1683 254h0M1622 312h0M1610 297h0M1722 224h0M1615 314h0M1714 250h0M1637 269h0M1719 272h0M1627 324h0M1683 295h0M1591 322h0M1565 304h0M1577 309h0M1662 330h0M1633 308h0M1595 314h0M1641 305h0M1595 335h0M1651 274h0M1634 306h0M1575 305h0M1606 305h0M1739 210h0M1552 318h0M1609 295h0M1645 283h0M1696 226h0M1656 284h0M1658 309h0M1642 301h0M1692 267h0M1716 235h0M1683 275h0M1590 339h0M1571 307h0M1650 253h0M1616 336h0M1737 223h0M1666 323h0M1555 326h0M1580 312h0M1613 315h0M1604 337h0M1634 296h0M1543 317h0M1630 309h0M1619 297h0M1712 260h0M1569 323h0M1691 298h0M1596 307h0M1564 322h0M1540 341h0M1633 307h0M1565 308h0M1637 307h0M1685 282h0M1686 260h0M1612 317h0M1680 296h0M1630 296h0M1706 245h0M1588 306h0M1576 337h0M1654 334h0M1602 327h0M1680 279h0M1586 308h0M1692 281h0M1541 321h0M1629 309h0M1582 296h0M1629 299h0M1596 327h0M1599 314h0M1714 216h0M1617 326h0M1647 254h0M1585 297h0M1557 338h0M1647 297h0M1623 289h0M1600 301h0M1730 219h0M1723 246h0M1671 271h0M1694 250h0M1623 277h0M1635 263h0M1638 283h0M1660 306h0M1636 304h0M1624 304h0M1695 265h0M1637 314h0M1601 320h0M1658 232h0M1687 273h0M1598 333h0M1696 274h0M1646 293h0M1542 330h0M1606 302h0M1678 259h0M1599 297h0M1616 287h0M1644 278h0M1604 272h0M1706 222h0M1681 271h0M1681 239h0M1583 333h0M1710 274h0M1682 278h0M1595 319h0M1580 279h0M1538 339h0M1594 316h0M1646 308h0M1564 288h0M1666 281h0M1560 318h0M1683 281h0M1604 320h0M1671 319h0M1682 271h0M1748 207h0M1609 339h0M1646 317h0M1706 274h0M1550 333h0M1622 262h0M1672 270h0M1552 333h0M1683 275h0M1693 238h0M1535 331h0M1641 313h0M1574 325h0M1597 328h0M1635 289h0M1633 330h0M1535 308h0M1734 227h0M1669 286h0M1655 309h0M1535 332h0M1680 289h0M1687 258h0M1703 265h0M1631 302h0M1587 309h0M1617 291h0M1691 280h0M1671 292h0M1567 306h0M1565 341h0M1549 332h0M1660 302h0M1575 329h0M1680 309h0M1558 323h0M1646 332h0M1540 321h0M1745 193h0M1634 313h0M1703 279h0M1575 320h0M1603 296h0M1612 313h0M1619 330h0M1605 298h0M1761 185h0M1598 332h0M1583 314h0M1540 322h0M1554 298h0M1712 260h0M1695 288h0M1598 334h0M1637 305h0M1689 289h0M1707 231h0M1632 316h0M1702 304h0M1692 278h0M1618 299h0M1553 332h0M1598 284h0M1666 309h0M1761 175h0M1618 284h0M1631 282h0M1599 308h0M1659 308h0M1702 302h0M1682 301h0M1619 318h0M1612 309h0M1610 311h0M1662 312h0M1679 289h0M1581 330h0M1571 284h0M1569 331h0M1575 323h0M1698 248h0M1571 298h0M1634 268h0M1702 260h0M1719 219h0M1651 286h0M1591 301h0M1647 313h0M1643 271h0M1644 323h0M1657 277h0M1597 287h0M1676 280h0M1578 321h0M1610 333h0M1699 290h0M1548 339h0M1698 248h0M1688 287h0M1653 314h0M1604 302h0M1612 303h0M1609 319h0M1661 278h0M1542 334h0M1552 296h0M1551 322h0M1590 315h0M1653 292h0M1559 320h0M1686 300h0M1618 320h0M1645 301h0M1746 218h0M1587 317h0M1596 319h0M1631 310h0M1641 276h0M1694 251h0M1614 320h0M1658 335h0M1627 273h0M1702 283h0M1691 274h0M1566 330h0M1543 323h0M1763 176h0M1638 288h0M1556 338h0M1627 310h0M1572 339h0M1646 332h0M1657 304h0M1685 239h0M1671 297h0M1748 232h0M1644 304h0M1659 319h0M1635 331h0M1576 319h0M1669 335h0M1616 258h0M1616 318h0M1547 313h0M1659 292h0M1623 315h0M1661 258h0M1704 271h0M1686 298h0M1673 286h0M1619 299h0M1625 306h0M1559 319h0M1582 326h0M1661 273h0M1658 317h0M1667 293h0M1539 337h0M1679 249h0M1660 284h0M1572 319h0M1664 298h0M1685 266h0M1552 312h0M1599 301h0M1712 227h0M1593 340h0M1644 249h0M1686 268h0M1630 300h0M1729 217h0M1677 278h0M1706 299h0M1543 325h0M1554 325h0M1552 323h0M1655 305h0M1643 288h0M1573 319h0M1739 241h0M1597 326h0M1652 266h0M1639 306h0M1538 337h0M1596 316h0M1563 303h0M1608 332h0M1535 329h0M1621 301h0M1658 297h0M1554 337h0M1541 338h0M1607 333h0M1611 282h0M1544 325h0M1734 226h0M1622 293h0M1569 305h0M1630 322h0M1589 332h0M1669 273h0M1599 323h0M1673 263h0M1708 228h0M1558 328h0M1557 331h0M1604 306h0M1626 290h0M1606 333h0M1569 312h0M1623 326h0M1620 309h0M1712 256h0M1542 323h0M1657 295h0M1693 298h0M1715 288h0M1598 334h0M1559 324h0M1655 294h0M1630 296h0M1589 312h0M1680 275h0M1569 317h0M1683 295h0M1614 318h0M1551 315h0M1749 186h0M1646 309h0M1609 323h0M1634 272h0M1647 319h0M1560 331h0M1628 311h0M1693 297h0M1591 306h0M1641 303h0M1721 238h0M1591 319h0M1714 256h0M1577 296h0M1662 271h0M1620 298h0M1629 323h0M1645 328h0M1707 253h0M1644 309h0M1545 324h0M1542 339h0M1660 289h0M1554 339h0M1689 300h0M1632 322h0M1663 288h0M1713 237h0M1544 339h0M1680 257h0M1537 332h0M1578 334h0M1713 230h0M1589 326h0M1642 305h0M1657 320h0M1558 334h0M1642 326h0M1628 281h0M1582 319h0M1614 294h0M1696 261h0M1666 289h0M1698 281h0M1598 324h0M1605 302h0M1627 327h0M1564 294h0M1605 298h0M1640 294h0M1631 309h0M1676 316h0M1656 303h0M1565 329h0M1648 308h0M1616 306h0M1585 338h0M1589 330h0M1563 306h0M1694 236h0M1726 217h0M1657 309h0M1550 340h0M1610 304h0M1701 251h0M1624 302h0M1561 320h0M1655 273h0M1564 332h0M1637 273h0M1661 303h0M1585 313h0M1563 327h0M1592 320h0M1684 274h0M1594 339h0M1572 312h0M1583 324h0M1601 329h0M1595 320h0M1684 273h0M1595 333h0M1675 271h0M1539 322h0M1695 277h0M1534 318h0M1665 299h0M1640 310h0M1594 274h0M1672 284h0M1584 306h0M1599 288h0M1685 251h0M1573 322h0M1691 251h0M1552 324h0M1614 316h0M1619 307h0M1662 270h0M1681 274h0M1539 298h0M1602 300h0M1669 251h0M1670 232h0M1657 299h0M1566 309h0M1623 304h0M1640 305h0M1689 269h0M1691 281h0M1554 311h0M1615 340h0M1691 298h0M1625 283h0M1596 309h0M1599 303h0M1581 287h0M1590 316h0M1574 331h0M1604 314h0M1554 324h0M1541 329h0M1693 296h0M1740 187h0M1719 244h0M1637 331h0M1627 293h0M1580 337h0M1649 328h0M1645 305h0M1610 319h0M1672 290h0M1572 332h0M1558 320h0M1622 307h0M1730 234h0M1537 322h0M1679 286h0M1664 315h0M1645 328h0M1666 274h0M1590 325h0M1674 286h0M1740 228h0M1636 305h0M1626 308h0M1651 298h0M1540 305h0M1652 329h0M1670 290h0M1650 283h0M1616 305h0M1646 316h0M1697 273h0M1671 293h0M1658 273h0M1726 238h0M1561 334h0M1659 285h0M1619 294h0M1658 266h0M1774 166h0M1558 312h0M1570 327h0M1555 319h0M1667 288h0M1665 237h0M1638 288h0M1591 298h0M1653 324h0M1554 315h0M1615 330h0M1543 322h0M1544 329h0M1688 317h0M1626 326h0M1684 227h0M1633 328h0M1549 327h0M1629 288h0M1647 319h0M1555 338h0M1614 249h0M1650 316h0M1621 311h0M1602 326h0M1624 315h0M1539 305h0M1752 226h0M1647 274h0M1667 265h0M1675 269h0M1582 316h0M1671 263h0M1623 309h0M1673 299h0M1667 291h0M1558 336h0M1609 301h0M1749 208h0M1603 293h0M1608 333h0M1578 321h0M1622 300h0M1724 257h0M1548 295h0M1626 302h0M1682 305h0M1555 314h0M1598 341h0M1629 317h0M1594 325h0M1591 340h0M1620 285h0M1628 270h0M1567 309h0M1573 316h0M1570 320h0M1673 286h0M1618 316h0M1682 329h0M1544 321h0M1535 340h0M1669 261h0M1575 309h0M1623 303h0M1682 244h0M1737 231h0M1686 262h0M1562 331h0M1670 290h0M1650 325h0M1592 293h0M1590 308h0M1727 209h0M1701 248h0M1627 315h0M1702 269h0M1543 317h0M1547 331h0M1570 341h0M1657 328h0M1680 244h0M1662 296h0M1650 333h0M1674 281h0M1654 277h0M1638 290h0M1786 156h0M1637 320h0M1703 235h0M1576 312h0M1671 325h0M1674 263h0M1657 300h0M1544 337h0M1558 334h0M1611 323h0M1672 303h0M1615 327h0M1611 315h0M1678 300h0M1584 328h0M1586 304h0M1582 308h0M1665 293h0M1593 321h0M1623 295h0M1654 291h0M1598 285h0M1672 274h0M1706 263h0M1656 274h0M1635 279h0M1624 281h0M1626 298h0M1785 159h0M1621 286h0M1574 316h0M1604 318h0M1646 299h0M1604 285h0M1651 253h0M1679 314h0M1621 312h0M1540 322h0M1544 313h0M1707 225h0M1692 317h0M1700 223h0M1653 305h0M1593 340h0M1672 235h0M1622 313h0M1592 292h0M1595 309h0M1724 232h0M1654 336h0M1622 317h0M1634 304h0M1643 309h0M1558 328h0M1679 283h0M1596 324h0M1571 334h0M1538 329h0M1546 321h0M1606 338h0M1647 308h0M1548 335h0M1633 269h0M1661 259h0M1624 336h0M1729 223h0M1568 333h0M1612 277h0M1690 328h0M1695 297h0M1657 288h0M1664 298h0M1547 308h0M1547 304h0M1628 297h0M1596 329h0M1690 260h0M1662 288h0M1710 257h0M1697 267h0M1552 313h0M1541 323h0M1647 291h0M1597 330h0M1694 258h0M1572 329h0M1604 329h0M1680 245h0M1711 231h0M1640 301h0M1600 314h0M1678 291h0M1631 310h0M1554 305h0M1625 316h0M1558 303h0M1548 326h0M1566 308h0M1640 298h0M1663 259h0M1604 330h0M1578 340h0M1615 295h0M1571 319h0M1541 332h0M1684 275h0M1636 273h0M1633 329h0M1594 307h0M1663 306h0M1746 190h0M1608 303h0M1549 309h0M1681 274h0M1687 250h0M1688 289h0M1678 248h0M1670 278h0M1658 308h0M1549 332h0M1585 333h0M1642 299h0M1589 307h0M1670 341h0M1667 283h0M1567 302h0M1632 285h0M1662 286h0M1669 298h0M1567 340h0M1646 289h0M1629 304h0M1649 295h0M1623 300h0M1601 314h0M1566 311h0M1656 296h0M1693 241h0M1703 245h0M1599 331h0M1595 328h0M1652 259h0M1707 274h0M1681 264h0M1710 258h0M1551 338h0M1614 335h0M1537 300h0M1587 295h0M1711 241h0M1743 234h0M1552 303h0M1539 337h0M1629 288h0M1637 309h0M1538 305h0M1613 312h0M1572 305h0M1704 248h0M1647 286h0M1593 308h0M1677 335h0M1666 291h0M1626 281h0M1629 313h0M1682 288h0M1552 324h0M1594 287h0M1695 261h0M1698 254h0M1639 286h0M1580 328h0M1648 320h0M1544 327h0M1638 326h0M1545 330h0M1690 265h0M1716 236h0M1587 327h0M1680 300h0M1575 310h0M1608 297h0M1662 326h0M1566 311h0M1572 304h0M1620 283h0M1658 317h0M1557 303h0M1707 247h0M1643 309h0M1663 244h0M1624 303h0M1535 335h0M1602 326h0M1642 299h0M1777 160h0M1555 334h0M1689 279h0M1649 276h0M1687 257h0M1718 220h0M1633 314h0M1688 215h0M1587 327h0M1656 284h0M1659 305h0M1605 308h0M1565 292h0M1552 313h0M1534 338h0M1611 327h0M1543 327h0M1618 309h0M1729 194h0M1659 313h0M1688 252h0M1630 285h0M1645 288h0M1562 320h0M1705 247h0M1590 327h0M1675 304h0M1714 241h0M1641 283h0M1613 314h0M1657 279h0M1563 323h0M1632 279h0M1561 315h0M1616 303h0M1725 213h0M1657 336h0M1598 285h0M1720 246h0M1568 299h0M1691 280h0M1663 337h0M1655 285h0M1657 308h0M1647 291h0M1647 291h0M1611 329h0M1694 281h0M1644 254h0M1609 336h0M1540 332h0M1560 329h0M1699 275h0M1632 333h0M1544 336h0M1574 325h0M1577 325h0M1647 303h0M1585 323h0M1626 307h0M1608 298h0M1640 316h0M1630 298h0M1619 330h0M1612 330h0M1621 289h0M1586 328h0M1597 313h0M1661 256h0M1697 271h0M1551 320h0M1566 321h0M1681 290h0M1692 275h0M1660 280h0M1592 334h0M1644 300h0M1686 260h0M1649 297h0M1595 335h0M1641 293h0M1622 307h0M1575 316h0M1555 335h0M1603 334h0M1602 322h0M1675 250h0M1590 303h0M1693 272h0M1688 267h0M1622 300h0M1672 263h0M1681 326h0M1758 185h0M1583 338h0M1552 337h0M1626 322h0M1601 291h0M1699 270h0M1641 271h0M1701 280h0M1577 326h0M1631 324h0M1699 212h0M1623 314h0M1623 290h0M1702 291h0M1552 323h0M1627 332h0M1594 295h0M1631 277h0M1613 310h0M1681 255h0M1621 312h0M1652 300h0M1609 322h0M1624 274h0M1676 272h0M1560 321h0M1655 307h0M1653 271h0M1552 340h0M1577 320h0M1543 324h0M1548 333h0M1630 300h0M1701 284h0M1559 331h0M1666 294h0M1642 303h0M1542 316h0M1661 312h0M1693 246h0M1659 305h0M1674 255h0M1613 326h0M1660 330h0M1616 280h0M1549 325h0M1722 234h0M1608 302h0M1705 244h0M1709 252h0M1667 275h0M1651 283h0M1681 288h0M1583 296h0M1663 323h0M1556 321h0M1647 260h0M1611 295h0M1577 326h0M1749 209h0M1568 326h0M1574 328h0M1646 340h0M1665 316h0M1639 294h0M1662 278h0M1563 302h0M1664 323h0M1650 272h0M1716 264h0M1553 323h0M1667 261h0M1628 291h0M1556 313h0M1581 288h0M1650 334h0M1681 293h0M1537 316h0M1701 265h0M1665 326h0M1561 321h0M1552 340h0M1657 270h0M1558 326h0M1762 192h0M1594 313h0M1681 271h0M1627 310h0M1595 338h0M1571 309h0M1612 319h0M1740 201h0M1587 296h0M1612 291h0M1668 314h0M1556 315h0M1607 275h0M1573 325h0M1611 316h0M1595 297h0M1629 284h0M1576 314h0M1579 314h0M1674 250h0M1690 263h0M1684 285h0M1581 320h0M1582 334h0M1603 297h0M1688 293h0M1558 316h0M1657 282h0M1644 305h0M1618 284h0M1592 334h0M1651 270h0M1606 295h0M1641 291h0M1668 299h0M1640 302h0M1712 246h0M1677 272h0M1593 315h0M1692 266h0M1727 206h0M1681 271h0M1600 308h0M1706 233h0M1635 279h0M1556 328h0M1550 330h0M1611 333h0M1685 262h0M1625 275h0M1629 337h0M1535 336h0M1671 286h0M1589 297h0M1696 293h0M1589 338h0M1579 300h0M1580 323h0M1625 290h0M1632 294h0M1757 197h0M1626 298h0M1697 261h0M1709 221h0M1537 339h0M1540 340h0M1647 258h0M1654 301h0M1560 308h0M1646 296h0M1688 311h0M1609 336h0M1597 308h0M1693 281h0M1675 295h0M1692 264h0M1636 308h0M1714 241h0M1576 322h0M1652 269h0M1631 290h0M1592 310h0M1575 321h0M1700 239h0M1648 325h0M1570 329h0M1587 338h0M1678 302h0M1683 256h0M1551 328h0M1665 268h0M1624 320h0M1563 335h0M1569 328h0M1692 282h0M1580 305h0M1662 260h0M1625 322h0M1644 322h0M1695 248h0M1581 325h0M1684 278h0M1727 187h0M1694 311h0M1589 291h0M1639 307h0M1621 301h0M1626 295h0M1628 309h0M1659 318h0M1738 225h0M1749 200h0M1582 319h0M1594 309h0M1602 293h0M1687 248h0M1590 335h0M1640 303h0M1580 319h0M1564 336h0M1706 246h0M1570 329h0M1594 323h0M1671 293h0M1623 273h0M1727 200h0M1620 315h0M1621 312h0M1707 265h0M1622 276h0M1680 301h0M1666 285h0M1654 295h0M1684 280h0M1654 294h0M1611 282h0M1569 299h0M1654 297h0M1662 325h0M1612 321h0M1660 308h0M1551 335h0M1676 231h0M1706 243h0M1631 289h0M1684 292h0M1710 234h0M1628 295h0M1659 326h0M1710 232h0M1657 318h0M1665 333h0M1718 245h0M1768 167h0M1663 306h0M1685 261h0M1615 292h0M1543 307h0M1623 296h0M1604 332h0M1620 310h0M1664 286h0M1566 306h0M1659 304h0M1539 302h0M1554 334h0M1565 315h0M1579 312h0M1674 275h0M1555 336h0M1605 312h0M1687 276h0M1651 319h0M1536 339h0M1612 282h0M1579 306h0M1695 274h0M1551 325h0M1655 298h0M1602 314h0M1617 302h0M1582 330h0M1598 292h0M1665 240h0M1563 324h0M1647 259h0M1685 293h0M1624 330h0M1667 267h0M1607 326h0M1592 311h0M1581 317h0M1637 316h0M1639 292h0M1632 323h0M1619 288h0M1544 326h0M1646 273h0M1588 327h0M1619 313h0M1691 264h0M1677 279h0M1695 283h0M1681 283h0M1625 314h0M1621 296h0M1664 321h0M1710 264h0M1638 263h0M1675 335h0M1622 313h0M1626 321h0M1628 303h0M1698 263h0M1696 239h0M1569 339h0M1645 294h0M1594 313h0M1593 323h0M1559 309h0M1672 318h0M1554 331h0M1634 263h0M1613 318h0M1600 323h0M1599 331h0M1626 286h0M1708 217h0M1638 240h0M1679 300h0M1576 328h0M1704 244h0M1632 273h0M1535 331h0M1620 304h0M1576 338h0M1631 284h0M1602 318h0M1600 304h0M1597 317h0M1640 337h0M1623 296h0M1552 312h0M1593 325h0M1694 283h0M1667 278h0M1565 321h0M1642 273h0M1593 296h0M1665 277h0M1556 328h0M1692 297h0M1684 271h0M1691 257h0M1661 315h0M1635 274h0M1585 294h0M1558 333h0M1590 311h0M1712 220h0M1537 334h0M1548 333h0M1759 199h0M1681 274h0M1550 293h0M1572 327h0M1564 314h0M1565 308h0M1610 325h0M1574 311h0M1654 298h0M1673 269h0M1576 321h0M1689 282h0M1675 288h0M1602 293h0M1610 320h0M1621 319h0M1541 311h0M1571 335h0M1636 270h0M1564 317h0M1536 339h0M1615 331h0M1535 332h0M1673 230h0M1625 286h0M1639 304h0M1623 304h0M1593 306h0M1654 331h0M1549 331h0M1558 309h0M1701 286h0M1566 319h0M1689 238h0M1695 284h0M1642 286h0M1601 323h0M1685 233h0M1566 321h0M1554 333h0M1614 281h0M1664 303h0M1626 319h0M1548 314h0M1557 331h0M1647 263h0M1638 272h0M1656 267h0M1593 315h0M1585 311h0M1665 338h0M1742 219h0M1619 338h0M1688 245h0M1673 272h0M1759 172h0M1644 319h0M1600 322h0M1647 285h0M1607 321h0M1676 292h0M1717 262h0M1541 309h0M1597 320h0M1543 322h0M1556 321h0M1622 270h0M1593 305h0M1646 317h0M1606 323h0M1583 327h0M1539 318h0M1579 323h0M1610 267h0M1645 307h0M1669 297h0M1694 258h0M1593 318h0M1731 219h0M1562 329h0M1688 293h0M1708 228h0M1625 304h0M1606 325h0M1582 317h0M1614 311h0M1700 289h0M1534 322h0M1571 323h0M1585 325h0M1547 335h0M1640 328h0M1651 270h0M1634 339h0M1635 303h0M1689 229h0M1586 321h0M1549 310h0M1684 257h0M1593 292h0M1700 247h0M1596 318h0M1713 218h0M1680 262h0M1664 288h0M1584 309h0M1666 266h0M1574 329h0M1564 320h0M1595 309h0M1644 319h0M1655 289h0M1716 246h0M1612 325h0M1616 315h0M1711 234h0M1542 339h0M1714 229h0M1631 313h0M1657 269h0M1692 260h0M1703 286h0M1687 253h0M1679 260h0M1638 314h0M1561 320h0M1649 297h0M1645 278h0M1607 304h0M1619 308h0M1645 299h0M1567 320h0M1664 262h0M1646 242h0M1610 337h0M1674 266h0M1599 332h0M1635 274h0M1584 321h0M1637 301h0M1723 245h0M1630 290h0M1630 286h0M1610 334h0M1675 260h0M1685 248h0M1578 315h0M1629 301h0M1542 303h0M1615 309h0M1757 194h0M1591 318h0M1576 315h0M1655 274h0M1626 276h0M1672 299h0M1695 288h0M1552 309h0M1583 312h0M1647 278h0M1689 259h0M1694 285h0M1546 336h0M1682 279h0M1563 304h0M1631 301h0M1648 291h0M1680 229h0M1609 300h0M1639 310h0M1695 282h0M1597 303h0M1606 298h0M1606 338h0M1684 263h0M1627 309h0M1689 276h0M1677 287h0M1668 295h0M1665 319h0M1712 256h0M1652 290h0M1607 298h0M1541 337h0M1570 318h0M1629 289h0M1571 334h0M1649 309h0M1688 292h0M1553 308h0M1646 327h0M1694 288h0M1662 331h0M1595 341h0M1581 335h0M1542 317h0M1718 254h0M1615 326h0M1577 302h0M1565 314h0M1784 163h0M1638 304h0M1655 304h0M1640 311h0M1608 313h0M1658 318h0M1624 305h0M1658 291h0M1587 316h0M1693 264h0M1667 302h0M1718 260h0M1664 278h0M1658 284h0M1664 289h0M1614 318h0M1692 266h0M1571 286h0M1611 291h0M1662 263h0M1712 229h0M1546 329h0M1647 296h0M1649 274h0M1653 281h0M1679 270h0M1585 328h0M1675 288h0M1670 303h0M1567 318h0M1698 248h0M1606 306h0M1657 332h0M1733 190h0M1696 266h0M1695 246h0M1635 303h0M1547 321h0M1596 325h0M1602 293h0M1714 238h0M1566 328h0M1604 288h0M1653 260h0M1640 295h0M1560 336h0M1711 223h0M1597 331h0M1681 322h0M1604 324h0M1579 315h0M1686 270h0M1686 303h0M1765 189h0M1741 215h0M1604 329h0M1655 276h0M1534 332h0M1541 313h0M1543 331h0M1577 322h0M1569 341h0M1662 257h0M1649 284h0M1708 258h0M1626 282h0M1724 233h0M1540 307h0M1683 316h0M1611 297h0M1710 290h0M1675 278h0M1580 296h0M1536 327h0M1676 280h0M1626 265h0M1586 333h0M1550 306h0M1693 288h0M1676 285h0M1689 288h0M1555 334h0M1607 301h0M1647 305h0M1566 311h0M1609 335h0M1684 267h0M1592 286h0M1610 336h0M1662 267h0M1667 287h0M1706 222h0M1661 286h0M1546 340h0M1687 270h0M1634 322h0M1638 307h0M1644 287h0M1682 267h0M1551 309h0M1636 298h0M1570 314h0M1639 311h0M1601 324h0M1733 226h0M1602 296h0M1617 308h0M1565 192h0M1549 197h0M1584 217h0M1591 277h0M1627 269h0M1542 266h0M1670 252h0M1619 248h0M1587 271h0M1536 210h0M1574 197h0M1545 205h0M1659 206h0M1611 274h0M1646 208h0M1568 212h0M1539 226h0M1534 268h0M1603 201h0M1661 215h0M1542 197h0M1563 223h0M1827 117h0M1808 142h0M1799 130h0M1771 223h0M1796 192h0M1777 260h0M1790 291h0M1752 242h0M1611 347h0M1596 347h0M1567 347h0M1672 348h0M1613 347h0M1613 348h0M1622 348h0M1652 348h0M1615 348h0M1632 347h0M1645 347h0M1611 347h0M1571 347h0M1610 348h0M1639 348h0M1632 347h0M1621 347h0M1621 347h0M1606 347h0M1653 347h0M1622 348h0M1560 347h0M1555 348h0M1546 347h0M1563 348h0M1538 347h0M1672 347h0M1610 347h0M1565 347h0M1642 347h0M1620 347h0M1629 348h0M1536 348h0M1578 347h0M1619 348h0M1620 347h0M1650 347h0M1636 348h0M1569 348h0M1575 347h0M1702 348h0M1713 347h0M1708 347h0M1693 347h0M1691 348h0M1698 347h0M1614 358h0M1545 357h0M1677 357h0M1654 358h0M1659 358h0M1543 358h0M1614 358h0M1607 358h0M1663 358h0M1581 358h0M1619 358h0M1586 358h0M1660 358h0M1558 357h0M1592 358h0M1555 358h0M1535 357h0M1595 358h0M1645 358h0M1542 358h0M1628 358h0M1607 358h0M1545 358h0M1677 358h0M1608 358h0M1551 357h0M1572 357h0M1622 358h0M1576 357h0M1607 357h0M1648 358h0M1651 357h0M1652 358h0M1601 358h0M1641 358h0M1647 358h0M1540 358h0M1567 358h0M1668 357h0M1649 358h0M1728 358h0M1712 358h0M1728 358h0M1728 358h0M1706 358h0M1732 358h0M1560 374h0M1613 373h0M1548 374h0M1649 374h0M1586 374h0M1588 373h0M1566 373h0M1610 373h0M1624 373h0M1542 373h0M1654 373h0M1571 374h0M1660 373h0M1644 373h0M1549 373h0M1649 374h0M1554 373h0M1582 374h0M1549 374h0M1587 373h0M1644 374h0M1589 373h0M1565 374h0M1648 373h0M1640 374h0M1606 373h0M1600 374h0M1653 374h0M1616 374h0M1553 373h0M1669 373h0M1603 374h0M1573 374h0M1653 373h0M1568 373h0M1622 374h0M1647 373h0M1547 374h0M1670 374h0M1632 373h0M1708 374h0M1720 373h0M1713 373h0M1699 374h0M1684 374h0M1686 373h0M1585 410h0M1619 409h0M1534 410h0M1618 410h0M1622 409h0M1539 409h0M1555 409h0M1597 409h0M1633 409h0M1604 410h0M1552 409h0M1568 410h0M1609 409h0M1565 409h0M1631 409h0M1629 410h0M1671 410h0M1618 410h0M1568 409h0M1617 409h0M1634 410h0M1615 409h0M1603 410h0M1665 410h0M1659 410h0M1597 410h0M1584 410h0M1665 410h0M1541 409h0M1633 409h0M1606 410h0M1544 410h0M1653 409h0M1611 410h0M1676 410h0M1649 410h0M1535 410h0M1613 409h0M1597 410h0M1668 409h0M1725 409h0M1717 410h0M1694 410h0M1684 409h0M1695 410h0M1707 409h0" stroke="#000" stroke-width="4.35" stroke-linecap="round" fill="none"/>
<line x1="511.4" y1="115.8" x2="561.3" y2="115.8" stroke="#000" stroke-width="1.6"/>
<line x1="511.4" y1="119.3" x2="561.3" y2="119.3" stroke="#000" stroke-width="1.6"/>
<line x1="511.4" y1="124.5" x2="561.3" y2="124.5" stroke="#000" stroke-width="1.6"/>
<line x1="511.4" y1="136.5" x2="560.2" y2="136.5" stroke="#000" stroke-width="1.6"/>
<text x="450.7" y="196.5" font-size="24" font-weight="bold">(d)</text>
<text x="518.3" y="195" font-size="16">3x10<tspan font-size="10.5" dy="-6.5">6</tspan><tspan dy="6.5"> repeats</tspan></text>
<line x1="532.1" y1="198.2" x2="532.1" y2="302.4" stroke="#d9d9d9" stroke-width="1"/>
<line x1="553" y1="198.2" x2="553" y2="302.4" stroke="#d9d9d9" stroke-width="1"/>
<line x1="573.8" y1="198.2" x2="573.8" y2="302.4" stroke="#d9d9d9" stroke-width="1"/>
<line x1="594.7" y1="198.2" x2="594.7" y2="302.4" stroke="#d9d9d9" stroke-width="1"/>
<line x1="511.3" y1="198.2" x2="615.5" y2="198.2" stroke="#d9d9d9" stroke-width="1"/>
<line x1="511.3" y1="219" x2="615.5" y2="219" stroke="#d9d9d9" stroke-width="1"/>
<line x1="511.3" y1="239.9" x2="615.5" y2="239.9" stroke="#d9d9d9" stroke-width="1"/>
<line x1="511.3" y1="260.7" x2="615.5" y2="260.7" stroke="#d9d9d9" stroke-width="1"/>
<line x1="511.3" y1="281.6" x2="615.5" y2="281.6" stroke="#d9d9d9" stroke-width="1"/>
<line x1="615.5" y1="198.2" x2="615.5" y2="302.4" stroke="#d9d9d9" stroke-width="1"/>
<line x1="511.3" y1="198.2" x2="511.3" y2="302.4" stroke="#d9d9d9" stroke-width="1"/>
<rect x="511.5" y="199.4" width="64" height="33" fill="#fff"/>
<line x1="509.2" y1="197.7" x2="509.2" y2="302.9" stroke="#a6a6a6" stroke-width="1.2"/>
<line x1="505.7" y1="198.2" x2="509.2" y2="198.2" stroke="#bfbfbf" stroke-width="1"/>
<line x1="505.7" y1="219" x2="509.2" y2="219" stroke="#bfbfbf" stroke-width="1"/>
<line x1="505.7" y1="239.9" x2="509.2" y2="239.9" stroke="#bfbfbf" stroke-width="1"/>
<line x1="505.7" y1="260.7" x2="509.2" y2="260.7" stroke="#bfbfbf" stroke-width="1"/>
<line x1="505.7" y1="281.6" x2="509.2" y2="281.6" stroke="#bfbfbf" stroke-width="1"/>
<line x1="505.7" y1="302.4" x2="509.2" y2="302.4" stroke="#bfbfbf" stroke-width="1"/>
<line x1="511.3" y1="303.4" x2="615.5" y2="303.4" stroke="#bfbfbf" stroke-width="1.6"/>
<line x1="511.3" y1="303.4" x2="511.3" y2="306.4" stroke="#bfbfbf" stroke-width="1"/>
<line x1="532.1" y1="303.4" x2="532.1" y2="306.4" stroke="#bfbfbf" stroke-width="1"/>
<line x1="553" y1="303.4" x2="553" y2="306.4" stroke="#bfbfbf" stroke-width="1"/>
<line x1="573.8" y1="303.4" x2="573.8" y2="306.4" stroke="#bfbfbf" stroke-width="1"/>
<line x1="594.7" y1="303.4" x2="594.7" y2="306.4" stroke="#bfbfbf" stroke-width="1"/>
<line x1="615.5" y1="303.4" x2="615.5" y2="306.4" stroke="#bfbfbf" stroke-width="1"/>
<text x="513.9" y="212.6" font-size="16">(β = 1)</text>
<text x="517.8" y="229.1" font-size="16">r = 0.96</text>
<text transform="translate(504.2,205.4) scale(0.8,1)" font-size="16" text-anchor="end">10<tspan font-size="11" dy="-6">-1</tspan></text>
<text transform="translate(504.2,226.3) scale(0.8,1)" font-size="16" text-anchor="end">10<tspan font-size="11" dy="-6">-2</tspan></text>
<text transform="translate(504.2,247.1) scale(0.8,1)" font-size="16" text-anchor="end">10<tspan font-size="11" dy="-6">-3</tspan></text>
<text transform="translate(504.2,268) scale(0.8,1)" font-size="16" text-anchor="end">10<tspan font-size="11" dy="-6">-4</tspan></text>
<text transform="translate(504.2,288.8) scale(0.8,1)" font-size="16" text-anchor="end">10<tspan font-size="11" dy="-6">-5</tspan></text>
<text transform="translate(504.2,309.7) scale(0.8,1)" font-size="16" text-anchor="end">10<tspan font-size="11" dy="-6">-6</tspan></text>
<text transform="translate(478.4,252) rotate(-90)" font-size="16" text-anchor="middle">mRNA ratio</text>
<text x="521.1" y="319.8" font-size="15">10<tspan font-size="10" dy="-6">-5</tspan></text>
<text x="562.8" y="319.8" font-size="15">10<tspan font-size="10" dy="-6">-3</tspan></text>
<text x="604.5" y="319.8" font-size="15">10<tspan font-size="10" dy="-6">-1</tspan></text>
<text x="567.5" y="334.2" font-size="16" text-anchor="middle">Blastocyst</text>
<path transform="scale(.3333333)" d="M1557 791h0M1670 802h0M1555 817h0M1611 790h0M1544 822h0M1571 816h0M1672 765h0M1642 792h0M1649 803h0M1635 810h0M1592 805h0M1647 795h0M1553 798h0M1571 793h0M1560 814h0M1637 790h0M1610 815h0M1534 810h0M1560 797h0M1570 819h0M1589 835h0M1658 727h0M1606 781h0M1793 648h0M1693 784h0M1592 835h0M1659 782h0M1633 777h0M1734 704h0M1554 789h0M1613 831h0M1638 776h0M1633 813h0M1692 780h0M1537 804h0M1607 796h0M1705 740h0M1727 733h0M1685 764h0M1658 825h0M1683 756h0M1600 829h0M1639 778h0M1560 825h0M1556 816h0M1718 728h0M1537 808h0M1657 807h0M1596 780h0M1549 819h0M1561 797h0M1538 789h0M1684 826h0M1553 823h0M1682 769h0M1699 743h0M1636 812h0M1550 830h0M1550 817h0M1696 753h0M1638 784h0M1578 816h0M1564 818h0M1561 821h0M1589 833h0M1640 800h0M1535 828h0M1661 791h0M1565 835h0M1683 784h0M1580 790h0M1626 781h0M1584 817h0M1699 748h0M1649 772h0M1662 777h0M1549 805h0M1627 798h0M1581 830h0M1541 832h0M1625 812h0M1684 749h0M1674 753h0M1714 762h0M1661 766h0M1637 759h0M1773 671h0M1544 801h0M1692 777h0M1713 763h0M1682 778h0M1645 795h0M1682 790h0M1650 801h0M1539 797h0M1618 797h0M1715 723h0M1708 786h0M1656 761h0M1670 773h0M1640 793h0M1561 812h0M1598 800h0M1616 799h0M1547 807h0M1630 805h0M1586 801h0M1663 761h0M1579 812h0M1560 825h0M1683 807h0M1670 786h0M1541 825h0M1624 831h0M1677 788h0M1640 804h0M1601 837h0M1646 801h0M1717 724h0M1606 779h0M1711 774h0M1618 832h0M1679 776h0M1680 769h0M1591 800h0M1675 804h0M1676 759h0M1665 806h0M1646 800h0M1697 772h0M1589 828h0M1576 817h0M1626 819h0M1620 789h0M1672 734h0M1679 798h0M1650 826h0M1599 791h0M1673 759h0M1645 762h0M1604 772h0M1680 763h0M1545 808h0M1661 800h0M1580 788h0M1595 831h0M1626 780h0M1624 814h0M1683 747h0M1591 800h0M1545 797h0M1556 832h0M1548 801h0M1570 826h0M1676 775h0M1544 797h0M1673 776h0M1677 781h0M1610 823h0M1572 805h0M1671 784h0M1601 815h0M1707 717h0M1730 697h0M1681 771h0M1606 814h0M1664 766h0M1628 834h0M1663 800h0M1685 755h0M1661 823h0M1652 783h0M1573 810h0M1658 785h0M1633 829h0M1588 780h0M1682 804h0M1587 807h0M1583 836h0M1669 767h0M1678 780h0M1553 811h0M1679 759h0M1731 699h0M1658 748h0M1723 728h0M1587 824h0M1686 789h0M1616 776h0M1584 832h0M1797 644h0M1707 749h0M1612 812h0M1629 782h0M1541 769h0M1660 770h0M1653 773h0M1740 702h0M1733 727h0M1636 830h0M1637 817h0M1626 830h0M1755 683h0M1678 804h0M1586 782h0M1539 825h0M1661 789h0M1593 789h0M1587 830h0M1735 718h0M1664 802h0M1682 783h0M1567 806h0M1703 772h0M1711 773h0M1667 745h0M1652 794h0M1678 769h0M1674 795h0M1583 828h0M1621 831h0M1643 809h0M1573 806h0M1669 790h0M1636 823h0M1672 780h0M1549 810h0M1575 831h0M1541 830h0M1681 785h0M1695 743h0M1570 814h0M1552 829h0M1684 784h0M1639 774h0M1565 822h0M1711 755h0M1574 812h0M1728 745h0M1543 823h0M1623 813h0M1541 800h0M1552 786h0M1615 795h0M1611 781h0M1676 768h0M1583 812h0M1659 789h0M1670 783h0M1543 819h0M1728 731h0M1690 750h0M1684 769h0M1691 768h0M1657 777h0M1594 814h0M1597 812h0M1623 798h0M1589 784h0M1608 825h0M1541 796h0M1626 832h0M1644 808h0M1578 798h0M1621 810h0M1561 829h0M1635 793h0M1590 797h0M1653 747h0M1602 824h0M1641 794h0M1602 831h0M1575 811h0M1564 829h0M1679 780h0M1687 759h0M1645 774h0M1545 836h0M1598 833h0M1710 752h0M1742 725h0M1610 829h0M1636 788h0M1627 775h0M1671 808h0M1652 768h0M1661 786h0M1733 723h0M1585 818h0M1651 740h0M1620 816h0M1693 739h0M1685 780h0M1649 790h0M1640 762h0M1634 768h0M1667 794h0M1566 824h0M1568 784h0M1613 793h0M1701 739h0M1707 773h0M1571 827h0M1686 803h0M1666 779h0M1623 822h0M1536 805h0M1534 823h0M1554 778h0M1641 784h0M1674 787h0M1697 789h0M1601 786h0M1568 789h0M1611 813h0M1733 708h0M1575 826h0M1676 777h0M1614 814h0M1576 817h0M1588 829h0M1654 757h0M1538 803h0M1708 753h0M1564 770h0M1569 827h0M1731 737h0M1628 814h0M1624 828h0M1601 818h0M1626 773h0M1546 837h0M1690 801h0M1645 814h0M1638 821h0M1677 778h0M1557 827h0M1583 806h0M1598 822h0M1658 800h0M1623 817h0M1638 833h0M1582 779h0M1629 775h0M1660 754h0M1617 783h0M1584 835h0M1556 820h0M1565 810h0M1702 765h0M1603 813h0M1593 827h0M1656 762h0M1621 830h0M1582 817h0M1686 735h0M1544 820h0M1581 784h0M1643 800h0M1680 816h0M1606 836h0M1694 786h0M1680 787h0M1581 816h0M1654 793h0M1613 774h0M1676 766h0M1644 800h0M1704 773h0M1589 827h0M1667 788h0M1678 783h0M1577 832h0M1666 788h0M1580 805h0M1592 817h0M1574 821h0M1674 793h0M1665 756h0M1546 783h0M1555 836h0M1655 797h0M1666 764h0M1541 785h0M1690 773h0M1547 835h0M1700 752h0M1572 813h0M1586 807h0M1578 836h0M1565 836h0M1625 793h0M1681 755h0M1555 799h0M1688 787h0M1683 790h0M1688 763h0M1555 836h0M1666 754h0M1570 808h0M1662 760h0M1565 813h0M1597 826h0M1634 784h0M1622 801h0M1600 774h0M1626 791h0M1558 821h0M1600 811h0M1706 750h0M1618 786h0M1615 781h0M1638 788h0M1673 806h0M1578 806h0M1627 803h0M1616 826h0M1737 727h0M1736 725h0M1670 769h0M1640 788h0M1668 747h0M1628 786h0M1637 781h0M1574 805h0M1688 747h0M1642 803h0M1593 836h0M1542 825h0M1696 774h0M1573 812h0M1656 803h0M1577 794h0M1581 838h0M1622 829h0M1655 798h0M1656 781h0M1558 778h0M1641 832h0M1558 793h0M1679 777h0M1747 685h0M1668 774h0M1564 779h0M1585 814h0M1696 760h0M1670 786h0M1619 804h0M1559 821h0M1693 765h0M1600 827h0M1584 789h0M1743 699h0M1692 792h0M1595 793h0M1542 816h0M1550 816h0M1716 758h0M1609 814h0M1715 731h0M1616 833h0M1696 735h0M1596 830h0M1555 814h0M1648 776h0M1567 814h0M1605 817h0M1670 758h0M1548 837h0M1680 757h0M1537 794h0M1662 823h0M1595 782h0M1643 812h0M1657 785h0M1708 750h0M1648 807h0M1699 769h0M1600 805h0M1639 820h0M1707 733h0M1669 751h0M1671 797h0M1580 802h0M1597 831h0M1588 827h0M1613 809h0M1559 815h0M1580 822h0M1641 776h0M1615 837h0M1660 781h0M1633 795h0M1722 723h0M1629 825h0M1607 802h0M1659 761h0M1564 829h0M1618 814h0M1552 814h0M1584 815h0M1655 824h0M1638 808h0M1578 779h0M1708 749h0M1687 759h0M1604 795h0M1659 808h0M1590 834h0M1549 824h0M1696 758h0M1701 746h0M1749 708h0M1575 775h0M1661 791h0M1603 832h0M1574 816h0M1535 837h0M1555 814h0M1646 784h0M1549 808h0M1666 752h0M1569 816h0M1659 803h0M1595 807h0M1766 676h0M1622 798h0M1652 783h0M1615 798h0M1672 778h0M1693 783h0M1683 746h0M1619 808h0M1641 796h0M1601 783h0M1658 793h0M1641 806h0M1595 793h0M1674 799h0M1723 745h0M1676 780h0M1559 811h0M1580 789h0M1542 835h0M1559 799h0M1661 810h0M1698 752h0M1550 770h0M1696 764h0M1632 770h0M1551 813h0M1707 742h0M1685 783h0M1622 806h0M1646 791h0M1607 787h0M1615 832h0M1568 804h0M1675 767h0M1627 820h0M1551 830h0M1639 776h0M1658 812h0M1586 797h0M1582 814h0M1660 800h0M1629 792h0M1600 816h0M1597 811h0M1720 744h0M1676 794h0M1593 837h0M1576 824h0M1581 818h0M1709 702h0M1536 819h0M1702 718h0M1542 800h0M1617 815h0M1552 830h0M1619 800h0M1622 814h0M1596 816h0M1537 821h0M1684 764h0M1711 726h0M1581 822h0M1652 802h0M1558 801h0M1657 782h0M1631 781h0M1750 690h0M1570 835h0M1595 828h0M1569 820h0M1685 791h0M1639 809h0M1555 837h0M1560 835h0M1588 831h0M1680 813h0M1665 792h0M1665 774h0M1588 777h0M1585 811h0M1592 837h0M1646 830h0M1622 779h0M1545 776h0M1541 825h0M1701 733h0M1553 812h0M1542 769h0M1750 693h0M1537 803h0M1668 816h0M1597 811h0M1582 786h0M1648 794h0M1550 790h0M1716 732h0M1654 807h0M1702 767h0M1656 817h0M1682 789h0M1585 837h0M1552 791h0M1703 717h0M1590 778h0M1604 822h0M1684 763h0M1561 807h0M1677 791h0M1594 825h0M1686 759h0M1565 792h0M1699 763h0M1615 835h0M1678 760h0M1577 802h0M1643 805h0M1599 837h0M1644 814h0M1726 731h0M1673 778h0M1650 817h0M1631 787h0M1604 787h0M1632 793h0M1631 797h0M1552 813h0M1686 797h0M1582 781h0M1639 792h0M1660 805h0M1554 781h0M1689 747h0M1650 762h0M1662 779h0M1664 769h0M1675 745h0M1644 819h0M1602 821h0M1699 778h0M1670 768h0M1614 812h0M1564 810h0M1663 822h0M1535 806h0M1626 825h0M1679 779h0M1617 838h0M1622 786h0M1693 778h0M1737 723h0M1607 829h0M1622 766h0M1780 665h0M1630 812h0M1657 777h0M1684 736h0M1606 755h0M1542 817h0M1618 787h0M1666 783h0M1568 788h0M1598 781h0M1619 786h0M1695 775h0M1655 746h0M1555 790h0M1552 837h0M1589 813h0M1657 816h0M1566 807h0M1577 803h0M1705 756h0M1677 793h0M1581 835h0M1641 792h0M1536 781h0M1734 702h0M1637 836h0M1643 805h0M1636 805h0M1695 725h0M1669 770h0M1536 838h0M1544 818h0M1667 755h0M1663 791h0M1545 821h0M1608 793h0M1590 772h0M1688 795h0M1568 771h0M1552 817h0M1689 771h0M1674 763h0M1535 804h0M1697 752h0M1667 796h0M1621 767h0M1675 764h0M1678 793h0M1604 828h0M1627 818h0M1571 816h0M1726 725h0M1637 817h0M1572 805h0M1681 781h0M1560 806h0M1681 768h0M1585 810h0M1608 831h0M1539 775h0M1616 788h0M1630 824h0M1539 837h0M1700 748h0M1566 836h0M1588 803h0M1673 751h0M1537 799h0M1558 805h0M1665 795h0M1656 774h0M1588 807h0M1589 811h0M1552 785h0M1582 820h0M1672 722h0M1595 822h0M1674 803h0M1592 824h0M1684 754h0M1662 777h0M1716 732h0M1629 819h0M1616 807h0M1696 773h0M1681 760h0M1606 808h0M1714 721h0M1672 771h0M1604 799h0M1564 826h0M1556 811h0M1631 802h0M1677 779h0M1625 822h0M1555 813h0M1648 796h0M1634 813h0M1549 831h0M1604 804h0M1597 809h0M1542 832h0M1558 830h0M1704 778h0M1537 808h0M1704 760h0M1659 774h0M1550 765h0M1573 813h0M1558 796h0M1669 766h0M1624 782h0M1694 764h0M1555 756h0M1613 804h0M1568 775h0M1630 758h0M1615 824h0M1703 712h0M1609 812h0M1611 778h0M1617 827h0M1562 796h0M1685 754h0M1610 824h0M1717 771h0M1644 793h0M1632 802h0M1694 806h0M1615 792h0M1682 831h0M1725 717h0M1557 824h0M1545 819h0M1683 802h0M1688 817h0M1586 791h0M1622 765h0M1679 838h0M1607 834h0M1636 783h0M1654 780h0M1599 836h0M1658 796h0M1565 801h0M1572 803h0M1562 822h0M1613 826h0M1675 770h0M1637 816h0M1586 824h0M1551 800h0M1713 734h0M1640 812h0M1643 821h0M1549 819h0M1582 828h0M1707 752h0M1628 838h0M1619 805h0M1540 797h0M1587 826h0M1682 800h0M1777 661h0M1603 802h0M1596 826h0M1561 803h0M1562 787h0M1629 779h0M1613 816h0M1575 793h0M1700 740h0M1653 773h0M1578 809h0M1575 828h0M1612 773h0M1685 815h0M1637 815h0M1546 825h0M1644 775h0M1654 788h0M1612 828h0M1671 750h0M1545 817h0M1676 802h0M1552 838h0M1590 805h0M1591 800h0M1594 821h0M1720 713h0M1552 781h0M1653 806h0M1588 797h0M1641 780h0M1684 745h0M1581 807h0M1586 813h0M1591 805h0M1604 798h0M1540 830h0M1793 647h0M1633 797h0M1546 810h0M1633 802h0M1663 765h0M1541 801h0M1690 780h0M1639 776h0M1647 743h0M1702 782h0M1681 779h0M1565 818h0M1550 824h0M1570 780h0M1670 814h0M1620 802h0M1633 824h0M1698 752h0M1638 804h0M1581 808h0M1704 752h0M1609 808h0M1661 774h0M1560 812h0M1681 759h0M1569 802h0M1656 785h0M1681 803h0M1582 801h0M1565 767h0M1540 804h0M1554 814h0M1625 776h0M1543 830h0M1589 817h0M1601 802h0M1670 802h0M1553 793h0M1635 803h0M1739 708h0M1670 754h0M1707 755h0M1580 804h0M1636 792h0M1596 827h0M1613 792h0M1565 785h0M1703 734h0M1685 760h0M1560 814h0M1686 737h0M1566 829h0M1540 821h0M1718 739h0M1682 756h0M1559 834h0M1608 819h0M1704 756h0M1652 825h0M1614 816h0M1685 774h0M1605 829h0M1720 753h0M1614 821h0M1535 782h0M1635 822h0M1637 789h0M1693 785h0M1651 832h0M1639 797h0M1629 822h0M1604 833h0M1662 793h0M1676 756h0M1636 808h0M1710 720h0M1714 758h0M1736 711h0M1659 757h0M1604 818h0M1608 822h0M1581 834h0M1545 798h0M1617 833h0M1593 810h0M1615 777h0M1600 804h0M1680 797h0M1593 806h0M1594 784h0M1612 809h0M1594 791h0M1648 787h0M1678 799h0M1593 813h0M1558 820h0M1674 793h0M1700 762h0M1680 782h0M1545 837h0M1540 807h0M1648 828h0M1606 796h0M1543 816h0M1610 809h0M1562 808h0M1558 782h0M1665 779h0M1539 816h0M1616 800h0M1578 803h0M1617 832h0M1645 801h0M1680 804h0M1626 772h0M1546 822h0M1575 832h0M1643 810h0M1547 825h0M1697 757h0M1546 831h0M1548 828h0M1641 759h0M1664 799h0M1618 822h0M1685 796h0M1708 735h0M1585 791h0M1579 835h0M1629 808h0M1734 707h0M1629 794h0M1554 792h0M1631 813h0M1729 736h0M1679 772h0M1576 837h0M1606 818h0M1593 806h0M1708 732h0M1703 766h0M1597 806h0M1623 832h0M1616 797h0M1594 779h0M1680 747h0M1584 807h0M1592 805h0M1594 834h0M1568 830h0M1674 799h0M1686 798h0M1603 802h0M1681 792h0M1608 825h0M1727 734h0M1617 831h0M1566 829h0M1660 742h0M1587 828h0M1684 766h0M1552 836h0M1666 780h0M1649 803h0M1709 721h0M1683 780h0M1662 795h0M1651 757h0M1712 740h0M1631 788h0M1727 721h0M1716 752h0M1634 800h0M1770 672h0M1567 828h0M1586 819h0M1601 825h0M1674 803h0M1670 779h0M1567 822h0M1599 782h0M1662 785h0M1554 835h0M1638 796h0M1622 780h0M1611 822h0M1614 819h0M1583 821h0M1689 795h0M1647 788h0M1597 766h0M1626 836h0M1652 814h0M1669 800h0M1555 813h0M1536 798h0M1660 765h0M1687 793h0M1598 814h0M1600 810h0M1552 806h0M1708 718h0M1569 801h0M1556 832h0M1567 805h0M1544 794h0M1538 801h0M1609 837h0M1714 734h0M1639 811h0M1548 831h0M1558 810h0M1703 734h0M1639 825h0M1725 750h0M1685 795h0M1547 823h0M1711 716h0M1642 781h0M1590 815h0M1685 750h0M1589 787h0M1617 793h0M1645 810h0M1702 763h0M1682 762h0M1546 812h0M1700 769h0M1616 827h0M1680 777h0M1627 813h0M1569 824h0M1657 789h0M1608 828h0M1579 815h0M1658 755h0M1580 799h0M1586 808h0M1549 803h0M1655 745h0M1626 794h0M1647 833h0M1558 788h0M1631 813h0M1620 794h0M1609 790h0M1701 774h0M1632 796h0M1541 818h0M1649 765h0M1612 778h0M1594 819h0M1586 812h0M1629 791h0M1724 717h0M1610 815h0M1572 828h0M1620 826h0M1565 758h0M1565 782h0M1619 791h0M1559 816h0M1558 815h0M1658 838h0M1576 819h0M1658 818h0M1655 787h0M1584 819h0M1611 807h0M1673 757h0M1654 745h0M1721 731h0M1585 809h0M1541 798h0M1562 800h0M1684 781h0M1619 797h0M1535 794h0M1695 743h0M1537 817h0M1568 808h0M1603 805h0M1563 798h0M1597 797h0M1556 803h0M1627 808h0M1610 825h0M1554 838h0M1599 798h0M1618 818h0M1657 798h0M1711 758h0M1592 821h0M1600 800h0M1588 833h0M1664 768h0M1638 815h0M1548 802h0M1554 819h0M1648 828h0M1675 810h0M1687 769h0M1707 775h0M1651 771h0M1581 827h0M1692 765h0M1559 829h0M1669 806h0M1729 732h0M1667 824h0M1657 783h0M1702 762h0M1714 725h0M1609 810h0M1599 803h0M1578 826h0M1588 800h0M1636 826h0M1697 771h0M1574 795h0M1729 715h0M1585 804h0M1572 822h0M1582 824h0M1649 810h0M1565 824h0M1662 791h0M1594 808h0M1656 827h0M1695 775h0M1591 828h0M1690 745h0M1688 728h0M1568 810h0M1706 733h0M1590 808h0M1687 759h0M1540 808h0M1683 744h0M1615 808h0M1625 837h0M1551 829h0M1641 804h0M1590 824h0M1638 813h0M1623 771h0M1573 808h0M1565 799h0M1646 782h0M1617 786h0M1547 814h0M1651 799h0M1741 705h0M1583 806h0M1535 795h0M1604 806h0M1672 767h0M1646 783h0M1651 835h0M1583 796h0M1657 810h0M1698 740h0M1693 802h0M1673 788h0M1682 766h0M1663 795h0M1630 834h0M1583 826h0M1665 795h0M1757 687h0M1554 808h0M1540 813h0M1563 806h0M1602 803h0M1555 820h0M1731 716h0M1600 827h0M1644 766h0M1670 774h0M1597 837h0M1643 771h0M1566 809h0M1740 716h0M1539 832h0M1635 800h0M1681 758h0M1573 812h0M1637 796h0M1582 816h0M1649 769h0M1662 807h0M1706 746h0M1553 805h0M1710 718h0M1562 838h0M1691 768h0M1563 795h0M1692 749h0M1688 748h0M1555 806h0M1644 790h0M1575 819h0M1551 817h0M1631 765h0M1537 810h0M1715 747h0M1637 799h0M1690 744h0M1611 832h0M1568 807h0M1690 751h0M1539 823h0M1552 808h0M1540 826h0M1675 771h0M1609 803h0M1636 811h0M1697 772h0M1564 819h0M1564 801h0M1675 789h0M1545 782h0M1635 805h0M1543 831h0M1621 824h0M1645 830h0M1566 809h0M1598 807h0M1591 816h0M1727 737h0M1688 787h0M1646 752h0M1706 756h0M1564 819h0M1535 805h0M1664 775h0M1656 771h0M1613 795h0M1566 811h0M1733 723h0M1608 826h0M1606 787h0M1695 769h0M1544 828h0M1583 838h0M1591 810h0M1690 742h0M1589 829h0M1594 820h0M1678 763h0M1653 762h0M1572 818h0M1569 831h0M1636 779h0M1593 795h0M1642 801h0M1596 820h0M1688 775h0M1623 779h0M1687 782h0M1734 717h0M1688 763h0M1810 629h0M1643 807h0M1569 814h0M1635 798h0M1569 759h0M1598 796h0M1562 827h0M1668 767h0M1596 788h0M1642 759h0M1664 801h0M1656 762h0M1540 819h0M1712 753h0M1673 825h0M1614 784h0M1726 723h0M1621 827h0M1711 775h0M1637 770h0M1573 829h0M1616 795h0M1658 764h0M1571 776h0M1679 788h0M1540 831h0M1605 816h0M1699 740h0M1691 764h0M1718 743h0M1541 817h0M1679 805h0M1578 818h0M1728 723h0M1707 742h0M1630 775h0M1630 803h0M1668 785h0M1677 773h0M1704 765h0M1645 769h0M1564 838h0M1585 805h0M1586 791h0M1637 769h0M1569 837h0M1653 780h0M1693 745h0M1680 780h0M1544 836h0M1675 789h0M1548 805h0M1779 661h0M1695 768h0M1596 804h0M1623 780h0M1652 807h0M1661 780h0M1688 777h0M1617 807h0M1596 830h0M1690 787h0M1667 821h0M1570 792h0M1590 815h0M1555 814h0M1679 785h0M1705 712h0M1564 800h0M1568 810h0M1664 766h0M1575 830h0M1585 836h0M1687 767h0M1556 803h0M1764 675h0M1555 814h0M1680 791h0M1617 778h0M1658 801h0M1540 790h0M1552 832h0M1626 824h0M1683 785h0M1692 780h0M1549 812h0M1545 819h0M1647 782h0M1677 773h0M1587 811h0M1660 792h0M1564 835h0M1693 761h0M1627 796h0M1633 785h0M1672 764h0M1542 807h0M1596 814h0M1677 757h0M1656 779h0M1664 757h0M1651 808h0M1637 781h0M1700 750h0M1619 812h0M1572 812h0M1621 818h0M1664 783h0M1574 810h0M1604 798h0M1557 825h0M1678 776h0M1586 816h0M1677 774h0M1545 829h0M1653 785h0M1728 738h0M1620 800h0M1604 811h0M1693 734h0M1624 830h0M1566 816h0M1656 790h0M1544 809h0M1663 813h0M1660 765h0M1581 809h0M1561 831h0M1556 804h0M1542 817h0M1657 823h0M1642 788h0M1538 813h0M1550 822h0M1572 809h0M1603 820h0M1694 802h0M1682 782h0M1644 784h0M1625 807h0M1612 823h0M1669 785h0M1667 798h0M1629 817h0M1543 829h0M1611 804h0M1576 804h0M1628 771h0M1621 790h0M1684 786h0M1594 833h0M1681 797h0M1614 773h0M1538 797h0M1674 789h0M1672 779h0M1638 761h0M1661 729h0M1690 753h0M1607 820h0M1701 774h0M1667 771h0M1636 787h0M1649 806h0M1583 811h0M1619 797h0M1561 821h0M1694 760h0M1605 820h0M1635 781h0M1745 711h0M1618 818h0M1620 807h0M1667 765h0M1547 784h0M1608 812h0M1654 821h0M1610 830h0M1576 825h0M1671 783h0M1544 831h0M1585 819h0M1576 829h0M1549 808h0M1700 736h0M1558 821h0M1642 808h0M1730 713h0M1719 759h0M1623 825h0M1560 821h0M1600 825h0M1731 724h0M1615 829h0M1596 825h0M1763 677h0M1614 790h0M1607 785h0M1552 802h0M1611 806h0M1542 799h0M1696 758h0M1594 830h0M1648 803h0M1648 801h0M1585 833h0M1691 750h0M1573 809h0M1555 802h0M1569 802h0M1659 823h0M1631 799h0M1676 757h0M1655 794h0M1550 798h0M1594 783h0M1629 814h0M1701 759h0M1587 805h0M1622 799h0M1553 813h0M1585 816h0M1580 836h0M1691 764h0M1577 830h0M1584 807h0M1645 787h0M1670 783h0M1584 806h0M1638 806h0M1571 797h0M1664 797h0M1626 809h0M1689 738h0M1715 729h0M1652 781h0M1605 770h0M1559 793h0M1731 730h0M1590 816h0M1617 826h0M1573 821h0M1540 827h0M1675 756h0M1558 817h0M1562 825h0M1545 798h0M1574 813h0M1617 788h0M1648 822h0M1579 823h0M1600 793h0M1558 810h0M1641 773h0M1556 817h0M1602 786h0M1535 807h0M1720 734h0M1627 825h0M1575 817h0M1716 732h0M1584 816h0M1725 726h0M1657 780h0M1693 779h0M1534 767h0M1639 793h0M1683 797h0M1619 811h0M1610 814h0M1597 829h0M1672 780h0M1600 815h0M1638 834h0M1577 784h0M1629 790h0M1684 787h0M1621 818h0M1638 798h0M1622 809h0M1703 753h0M1680 794h0M1637 808h0M1615 835h0M1687 779h0M1536 813h0M1592 832h0M1621 761h0M1751 702h0M1624 785h0M1645 780h0M1577 832h0M1651 774h0M1622 814h0M1693 752h0M1684 798h0M1594 825h0M1621 806h0M1691 747h0M1540 811h0M1579 810h0M1537 831h0M1606 797h0M1594 837h0M1583 813h0M1700 752h0M1614 810h0M1664 756h0M1704 755h0M1619 781h0M1670 812h0M1641 836h0M1607 803h0M1638 806h0M1654 775h0M1645 814h0M1637 834h0M1689 778h0M1703 732h0M1544 820h0M1657 780h0M1661 781h0M1573 831h0M1549 819h0M1586 776h0M1686 760h0M1681 780h0M1588 813h0M1557 810h0M1617 837h0M1660 790h0M1664 815h0M1608 792h0M1643 774h0M1693 773h0M1605 803h0M1681 773h0M1693 743h0M1629 808h0M1543 825h0M1567 822h0M1649 809h0M1578 793h0M1583 795h0M1668 799h0M1572 817h0M1718 738h0M1585 829h0M1543 797h0M1669 762h0M1663 749h0M1689 782h0M1579 787h0M1554 813h0M1570 818h0M1585 807h0M1567 796h0M1696 758h0M1613 802h0M1587 835h0M1598 813h0M1611 807h0M1594 798h0M1538 812h0M1564 767h0M1617 809h0M1735 721h0M1686 734h0M1685 815h0M1651 796h0M1794 646h0M1621 807h0M1652 766h0M1677 737h0M1601 828h0M1638 786h0M1658 776h0M1677 793h0M1644 831h0M1642 765h0M1731 744h0M1562 821h0M1701 766h0M1569 803h0M1541 813h0M1570 809h0M1604 816h0M1598 821h0M1660 778h0M1542 817h0M1638 809h0M1633 817h0M1648 788h0M1662 781h0M1663 784h0M1644 794h0M1650 806h0M1584 797h0M1550 827h0M1677 761h0M1696 739h0M1677 803h0M1601 808h0M1658 777h0M1678 770h0M1574 832h0M1633 768h0M1695 753h0M1590 807h0M1611 775h0M1680 765h0M1723 728h0M1721 764h0M1557 820h0M1680 792h0M1570 820h0M1660 789h0M1618 809h0M1628 798h0M1671 776h0M1743 715h0M1587 815h0M1671 765h0M1546 812h0M1654 786h0M1540 798h0M1727 741h0M1624 787h0M1574 820h0M1544 838h0M1704 746h0M1654 810h0M1723 740h0M1612 797h0M1570 825h0M1682 791h0M1663 804h0M1644 788h0M1610 822h0M1708 767h0M1698 777h0M1635 772h0M1640 779h0M1557 768h0M1636 810h0M1714 755h0M1717 732h0M1693 770h0M1658 786h0M1575 806h0M1647 813h0M1639 795h0M1563 824h0M1684 748h0M1603 836h0M1680 766h0M1643 811h0M1700 779h0M1663 735h0M1648 794h0M1573 818h0M1617 791h0M1618 822h0M1643 781h0M1655 766h0M1662 748h0M1573 798h0M1541 829h0M1571 827h0M1604 789h0M1564 815h0M1538 835h0M1575 838h0M1670 794h0M1551 805h0M1659 780h0M1574 829h0M1686 802h0M1596 796h0M1680 793h0M1713 752h0M1635 794h0M1589 804h0M1586 807h0M1545 806h0M1620 799h0M1570 810h0M1603 822h0M1618 810h0M1550 798h0M1592 827h0M1646 797h0M1677 767h0M1538 811h0M1547 807h0M1582 807h0M1611 794h0M1562 835h0M1683 797h0M1694 751h0M1615 801h0M1568 821h0M1628 821h0M1626 823h0M1663 794h0M1622 783h0M1550 806h0M1600 824h0M1566 775h0M1632 837h0M1575 804h0M1601 809h0M1608 803h0M1563 830h0M1707 728h0M1598 808h0M1701 741h0M1601 797h0M1614 825h0M1559 787h0M1648 788h0M1684 810h0M1691 747h0M1676 746h0M1597 822h0M1646 804h0M1592 832h0M1598 834h0M1553 805h0M1658 799h0M1697 768h0M1695 773h0M1548 827h0M1686 773h0M1693 787h0M1608 800h0M1635 797h0M1604 822h0M1605 835h0M1597 796h0M1542 838h0M1632 820h0M1562 798h0M1601 838h0M1658 788h0M1632 830h0M1621 829h0M1565 789h0M1687 724h0M1679 801h0M1708 758h0M1606 806h0M1626 817h0M1606 813h0M1637 792h0M1548 815h0M1537 806h0M1672 783h0M1634 811h0M1671 782h0M1705 777h0M1706 776h0M1631 786h0M1697 770h0M1691 804h0M1660 783h0M1640 800h0M1581 819h0M1642 833h0M1550 817h0M1559 818h0M1770 675h0M1644 804h0M1604 809h0M1535 831h0M1703 739h0M1615 824h0M1567 816h0M1672 758h0M1630 801h0M1558 777h0M1560 779h0M1613 786h0M1569 826h0M1639 792h0M1567 837h0M1577 794h0M1563 797h0M1686 767h0M1718 753h0M1547 821h0M1663 818h0M1664 783h0M1629 796h0M1555 830h0M1638 832h0M1616 824h0M1580 833h0M1671 814h0M1631 821h0M1715 750h0M1714 768h0M1600 831h0M1694 780h0M1623 806h0M1579 819h0M1540 820h0M1547 814h0M1534 828h0M1666 827h0M1646 803h0M1543 806h0M1610 819h0M1669 762h0M1576 820h0M1682 760h0M1586 825h0M1653 807h0M1677 752h0M1635 799h0M1540 813h0M1689 777h0M1703 773h0M1708 734h0M1631 808h0M1597 797h0M1632 821h0M1548 801h0M1568 797h0M1689 814h0M1567 801h0M1615 796h0M1649 803h0M1555 800h0M1622 812h0M1647 823h0M1698 783h0M1690 790h0M1670 777h0M1581 819h0M1646 782h0M1659 785h0M1613 810h0M1582 818h0M1646 791h0M1589 817h0M1542 820h0M1669 793h0M1536 830h0M1578 817h0M1554 788h0M1669 787h0M1695 771h0M1589 824h0M1630 823h0M1575 802h0M1578 819h0M1683 785h0M1698 758h0M1560 815h0M1631 828h0M1604 780h0M1646 818h0M1592 813h0M1610 815h0M1719 753h0M1675 802h0M1609 816h0M1653 799h0M1602 822h0M1680 789h0M1688 787h0M1559 836h0M1656 782h0M1587 766h0M1600 819h0M1612 821h0M1669 786h0M1544 837h0M1569 817h0M1569 835h0M1613 812h0M1567 796h0M1650 818h0M1658 787h0M1635 803h0M1650 804h0M1610 791h0M1764 674h0M1631 818h0M1648 773h0M1591 810h0M1709 763h0M1550 836h0M1725 703h0M1634 801h0M1582 824h0M1552 810h0M1599 832h0M1610 819h0M1683 799h0M1648 797h0M1573 793h0M1687 756h0M1619 799h0M1674 779h0M1536 814h0M1588 837h0M1667 744h0M1651 818h0M1570 801h0M1645 783h0M1679 782h0M1705 755h0M1686 758h0M1791 651h0M1687 727h0M1601 808h0M1545 807h0M1650 768h0M1638 803h0M1680 770h0M1661 788h0M1649 771h0M1674 815h0M1675 790h0M1631 820h0M1646 770h0M1586 792h0M1564 823h0M1671 814h0M1540 780h0M1686 764h0M1574 795h0M1665 780h0M1623 798h0M1555 819h0M1695 754h0M1624 819h0M1588 778h0M1641 801h0M1659 784h0M1647 813h0M1653 817h0M1663 774h0M1622 811h0M1676 756h0M1582 833h0M1688 771h0M1624 776h0M1568 827h0M1627 832h0M1612 806h0M1640 769h0M1566 837h0M1632 770h0M1672 837h0M1680 774h0M1693 758h0M1633 803h0M1539 837h0M1568 816h0M1547 807h0M1717 756h0M1601 823h0M1722 731h0M1566 817h0M1699 769h0M1614 772h0M1618 828h0M1663 782h0M1608 834h0M1601 802h0M1696 699h0M1552 811h0M1633 800h0M1698 758h0M1626 798h0M1642 751h0M1634 829h0M1695 775h0M1584 831h0M1703 754h0M1708 780h0M1539 802h0M1650 770h0M1672 787h0M1644 829h0M1644 811h0M1668 782h0M1600 826h0M1674 795h0M1584 819h0M1586 769h0M1710 780h0M1597 771h0M1663 804h0M1671 758h0M1551 825h0M1652 806h0M1638 810h0M1663 769h0M1712 730h0M1616 836h0M1650 797h0M1738 713h0M1657 782h0M1551 829h0M1714 731h0M1652 789h0M1696 749h0M1671 781h0M1626 795h0M1599 812h0M1675 798h0M1640 764h0M1626 815h0M1625 827h0M1644 786h0M1568 807h0M1661 761h0M1655 753h0M1699 757h0M1638 797h0M1571 829h0M1546 824h0M1621 820h0M1543 774h0M1692 770h0M1634 788h0M1607 831h0M1645 822h0M1658 757h0M1703 736h0M1537 831h0M1718 755h0M1616 782h0M1637 828h0M1544 827h0M1694 794h0M1641 810h0M1668 779h0M1635 798h0M1713 719h0M1737 710h0M1656 781h0M1697 772h0M1662 778h0M1582 834h0M1624 763h0M1707 755h0M1542 820h0M1618 830h0M1642 807h0M1689 776h0M1536 797h0M1623 797h0M1615 789h0M1570 820h0M1733 723h0M1535 818h0M1703 758h0M1554 805h0M1540 775h0M1643 806h0M1693 756h0M1598 836h0M1659 811h0M1610 838h0M1669 802h0M1581 817h0M1565 825h0M1646 773h0M1536 829h0M1628 829h0M1689 764h0M1659 818h0M1707 748h0M1598 810h0M1663 778h0M1595 829h0M1654 825h0M1578 794h0M1615 831h0M1601 795h0M1619 826h0M1605 810h0M1650 780h0M1638 790h0M1536 819h0M1591 815h0M1651 805h0M1621 776h0M1725 739h0M1619 777h0M1670 802h0M1636 805h0M1583 831h0M1564 797h0M1564 791h0M1578 831h0M1681 782h0M1714 737h0M1701 776h0M1698 747h0M1594 824h0M1594 815h0M1671 776h0M1593 787h0M1661 790h0M1601 793h0M1668 811h0M1717 758h0M1576 828h0M1569 815h0M1582 827h0M1644 782h0M1632 810h0M1688 789h0M1623 795h0M1675 782h0M1667 770h0M1707 715h0M1704 741h0M1642 829h0M1546 767h0M1562 822h0M1645 811h0M1635 836h0M1591 837h0M1663 757h0M1624 758h0M1641 786h0M1588 813h0M1690 756h0M1689 763h0M1651 769h0M1674 803h0M1674 783h0M1663 800h0M1588 820h0M1699 771h0M1615 805h0M1549 817h0M1593 798h0M1603 828h0M1624 799h0M1638 826h0M1677 763h0M1691 789h0M1681 784h0M1712 746h0M1633 814h0M1675 772h0M1546 828h0M1554 838h0M1613 789h0M1679 763h0M1625 780h0M1625 837h0M1539 803h0M1651 797h0M1685 787h0M1735 711h0M1682 821h0M1677 793h0M1655 808h0M1702 768h0M1585 796h0M1566 824h0M1661 754h0M1578 804h0M1594 821h0M1560 822h0M1692 778h0M1737 739h0M1609 787h0M1630 823h0M1710 742h0M1549 826h0M1544 813h0M1577 836h0M1732 730h0M1750 692h0M1643 794h0M1665 785h0M1708 763h0M1663 764h0M1582 765h0M1575 833h0M1546 817h0M1600 779h0M1607 815h0M1620 771h0M1644 766h0M1642 799h0M1563 820h0M1566 810h0M1627 813h0M1569 837h0M1653 827h0M1696 733h0M1625 793h0M1744 693h0M1540 817h0M1612 801h0M1618 807h0M1630 799h0M1561 809h0M1566 791h0M1628 802h0M1693 751h0M1707 760h0M1659 766h0M1599 821h0M1655 786h0M1611 799h0M1550 814h0M1631 807h0M1695 767h0M1608 798h0M1677 767h0M1558 787h0M1573 833h0M1554 796h0M1535 824h0M1607 802h0M1570 792h0M1659 793h0M1653 764h0M1626 819h0M1575 815h0M1722 767h0M1666 773h0M1692 754h0M1679 816h0M1664 789h0M1630 783h0M1594 777h0M1648 807h0M1538 808h0M1697 770h0M1540 824h0M1630 796h0M1620 826h0M1597 808h0M1561 790h0M1592 831h0M1574 824h0M1688 804h0M1585 829h0M1552 822h0M1564 766h0M1571 813h0M1643 767h0M1689 785h0M1630 783h0M1648 796h0M1613 780h0M1614 810h0M1535 825h0M1689 761h0M1687 780h0M1562 792h0M1626 824h0M1538 791h0M1653 799h0M1568 829h0M1577 803h0M1664 776h0M1694 765h0M1582 810h0M1600 810h0M1677 769h0M1686 786h0M1613 767h0M1620 809h0M1574 832h0M1594 835h0M1680 758h0M1587 802h0M1689 741h0M1641 783h0M1609 797h0M1626 830h0M1655 796h0M1606 818h0M1654 813h0M1558 832h0M1735 723h0M1654 777h0M1763 683h0M1645 813h0M1692 789h0M1692 773h0M1677 760h0M1645 794h0M1563 827h0M1648 793h0M1690 761h0M1674 780h0M1573 814h0M1649 761h0M1663 796h0M1658 761h0M1581 832h0M1604 830h0M1612 825h0M1555 799h0M1680 768h0M1614 829h0M1645 791h0M1534 794h0M1584 812h0M1649 792h0M1543 820h0M1700 747h0M1592 821h0M1556 823h0M1610 835h0M1692 760h0M1651 811h0M1637 779h0M1688 795h0M1622 837h0M1591 791h0M1570 838h0M1536 807h0M1544 811h0M1691 794h0M1730 703h0M1717 738h0M1560 812h0M1643 808h0M1577 790h0M1712 762h0M1699 749h0M1636 794h0M1643 790h0M1777 672h0M1576 823h0M1632 818h0M1584 833h0M1576 826h0M1628 826h0M1544 821h0M1683 825h0M1715 733h0M1693 781h0M1657 819h0M1713 751h0M1704 776h0M1674 790h0M1669 764h0M1622 828h0M1710 735h0M1635 819h0M1593 814h0M1556 803h0M1640 804h0M1560 835h0M1660 807h0M1700 772h0M1725 738h0M1614 797h0M1570 832h0M1700 752h0M1591 802h0M1618 828h0M1666 823h0M1713 756h0M1639 810h0M1678 807h0M1619 765h0M1558 781h0M1649 822h0M1700 774h0M1553 837h0M1654 766h0M1676 777h0M1686 747h0M1642 815h0M1571 805h0M1662 791h0M1706 751h0M1544 782h0M1652 787h0M1646 770h0M1589 801h0M1609 775h0M1625 788h0M1645 776h0M1534 822h0M1614 827h0M1668 820h0M1578 802h0M1676 800h0M1677 734h0M1663 760h0M1701 767h0M1616 811h0M1568 800h0M1588 798h0M1687 744h0M1654 803h0M1644 771h0M1623 772h0M1695 760h0M1705 708h0M1639 815h0M1541 818h0M1573 803h0M1582 787h0M1689 761h0M1580 796h0M1671 763h0M1699 744h0M1637 821h0M1543 805h0M1572 815h0M1694 773h0M1555 835h0M1647 807h0M1663 751h0M1684 760h0M1706 747h0M1550 793h0M1554 769h0M1721 715h0M1590 815h0M1597 823h0M1594 785h0M1668 763h0M1691 755h0M1696 802h0M1587 835h0M1614 789h0M1622 824h0M1648 756h0M1557 819h0M1623 787h0M1564 792h0M1667 819h0M1602 822h0M1651 790h0M1718 723h0M1541 830h0M1558 785h0M1619 774h0M1707 743h0M1666 783h0M1555 809h0M1657 790h0M1687 780h0M1637 809h0M1672 762h0M1562 806h0M1698 752h0M1725 733h0M1713 735h0M1725 740h0M1588 834h0M1665 770h0M1630 799h0M1558 796h0M1622 821h0M1643 762h0M1565 819h0M1545 825h0M1562 811h0M1633 790h0M1629 812h0M1652 803h0M1643 806h0M1584 824h0M1583 802h0M1567 792h0M1569 828h0M1724 735h0M1549 791h0M1661 763h0M1649 772h0M1674 793h0M1672 775h0M1614 783h0M1681 785h0M1540 817h0M1690 764h0M1577 806h0M1687 795h0M1562 794h0M1643 768h0M1637 787h0M1668 814h0M1641 813h0M1658 771h0M1648 787h0M1666 781h0M1543 822h0M1655 798h0M1592 812h0M1644 759h0M1663 760h0M1545 813h0M1640 814h0M1578 817h0M1678 765h0M1673 798h0M1663 778h0M1641 790h0M1727 716h0M1568 831h0M1660 787h0M1698 772h0M1603 805h0M1623 801h0M1647 783h0M1748 704h0M1555 804h0M1654 820h0M1711 742h0M1595 815h0M1578 820h0M1698 741h0M1625 797h0M1619 792h0M1612 820h0M1573 782h0M1689 791h0M1666 776h0M1687 763h0M1632 790h0M1661 774h0M1656 793h0M1540 822h0M1619 792h0M1549 772h0M1625 829h0M1623 770h0M1694 765h0M1619 795h0M1654 769h0M1628 817h0M1625 809h0M1597 800h0M1535 795h0M1698 788h0M1616 820h0M1553 809h0M1624 836h0M1567 800h0M1634 819h0M1715 771h0M1605 834h0M1670 784h0M1718 727h0M1543 803h0M1635 778h0M1616 789h0M1601 821h0M1636 817h0M1673 802h0M1630 816h0M1628 798h0M1749 693h0M1609 838h0M1614 817h0M1671 785h0M1653 797h0M1647 769h0M1679 754h0M1643 806h0M1572 802h0M1626 798h0M1684 788h0M1689 796h0M1605 762h0M1553 796h0M1712 725h0M1614 818h0M1577 796h0M1648 803h0M1536 790h0M1539 799h0M1539 829h0M1667 758h0M1682 788h0M1554 806h0M1595 825h0M1545 826h0M1635 807h0M1624 824h0M1654 772h0M1657 775h0M1557 831h0M1678 779h0M1642 791h0M1682 766h0M1684 748h0M1642 747h0M1644 777h0M1661 786h0M1560 809h0M1697 792h0M1610 816h0M1687 785h0M1610 809h0M1562 831h0M1553 807h0M1653 790h0M1590 808h0M1668 755h0M1552 779h0M1555 776h0M1582 816h0M1651 767h0M1635 827h0M1611 800h0M1671 785h0M1635 826h0M1678 770h0M1715 748h0M1656 784h0M1658 806h0M1612 821h0M1534 821h0M1744 702h0M1601 810h0M1696 768h0M1563 829h0M1630 824h0M1584 819h0M1653 796h0M1581 828h0M1667 801h0M1722 720h0M1581 816h0M1629 782h0M1642 797h0M1557 791h0M1580 817h0M1723 704h0M1667 788h0M1614 783h0M1620 794h0M1647 815h0M1584 836h0M1619 793h0M1559 836h0M1662 788h0M1627 805h0M1649 748h0M1685 769h0M1540 797h0M1624 791h0M1625 807h0M1583 834h0M1660 775h0M1664 778h0M1549 808h0M1610 776h0M1626 800h0M1551 803h0M1645 789h0M1650 807h0M1598 819h0M1574 820h0M1565 784h0M1726 748h0M1610 803h0M1669 809h0M1657 774h0M1639 795h0M1717 744h0M1596 761h0M1694 737h0M1745 691h0M1735 723h0M1555 814h0M1717 769h0M1633 812h0M1573 813h0M1535 809h0M1609 835h0M1600 825h0M1540 792h0M1642 787h0M1651 825h0M1645 790h0M1715 726h0M1574 788h0M1721 719h0M1677 823h0M1724 731h0M1550 808h0M1662 758h0M1666 782h0M1550 810h0M1662 795h0M1701 735h0M1571 835h0M1537 788h0M1668 793h0M1577 785h0M1687 741h0M1667 789h0M1637 781h0M1627 789h0M1570 804h0M1635 779h0M1663 806h0M1674 795h0M1698 764h0M1609 826h0M1538 834h0M1552 831h0M1608 804h0M1697 757h0M1605 780h0M1686 799h0M1538 833h0M1677 820h0M1688 755h0M1630 824h0M1534 784h0M1535 816h0M1590 812h0M1725 743h0M1625 761h0M1556 804h0M1657 784h0M1563 829h0M1562 797h0M1625 786h0M1697 755h0M1558 812h0M1643 800h0M1604 834h0M1699 786h0M1639 785h0M1553 788h0M1631 810h0M1584 834h0M1594 798h0M1665 797h0M1673 784h0M1685 754h0M1588 811h0M1606 808h0M1660 793h0M1685 770h0M1652 766h0M1706 748h0M1647 780h0M1544 825h0M1570 784h0M1637 810h0M1673 780h0M1606 770h0M1668 801h0M1698 748h0M1633 772h0M1608 819h0M1645 741h0M1777 664h0M1543 814h0M1697 725h0M1627 783h0M1633 822h0M1684 806h0M1641 784h0M1575 818h0M1655 778h0M1596 758h0M1589 781h0M1624 834h0M1612 826h0M1578 823h0M1733 745h0M1541 825h0M1671 777h0M1693 775h0M1662 771h0M1554 776h0M1581 827h0M1544 781h0M1620 826h0M1562 815h0M1664 761h0M1640 817h0M1650 800h0M1650 790h0M1621 780h0M1727 731h0M1667 793h0M1618 827h0M1663 804h0M1564 794h0M1682 778h0M1718 770h0M1632 787h0M1551 790h0M1669 801h0M1594 838h0M1671 774h0M1672 788h0M1659 778h0M1680 761h0M1630 819h0M1697 764h0M1587 827h0M1691 771h0M1718 737h0M1579 819h0M1572 818h0M1629 812h0M1717 710h0M1544 836h0M1683 751h0M1588 808h0M1617 795h0M1598 822h0M1536 795h0M1701 757h0M1557 799h0M1544 828h0M1565 835h0M1677 787h0M1664 791h0M1584 836h0M1658 794h0M1664 776h0M1563 805h0M1581 803h0M1595 824h0M1601 832h0M1649 787h0M1647 766h0M1683 794h0M1618 790h0M1587 801h0M1710 785h0M1583 834h0M1683 814h0M1648 771h0M1710 787h0M1655 783h0M1566 801h0M1582 797h0M1716 722h0M1553 801h0M1588 837h0M1574 818h0M1610 783h0M1582 825h0M1669 786h0M1544 815h0M1588 792h0M1566 810h0M1574 798h0M1605 788h0M1598 807h0M1631 773h0M1574 812h0M1550 801h0M1553 833h0M1534 830h0M1595 825h0M1605 791h0M1549 797h0M1544 812h0M1662 791h0M1638 760h0M1726 732h0M1692 770h0M1648 775h0M1632 826h0M1619 798h0M1624 801h0M1562 787h0M1690 728h0M1692 791h0M1663 812h0M1581 793h0M1675 807h0M1683 788h0M1698 786h0M1639 824h0M1703 801h0M1697 756h0M1590 822h0M1581 807h0M1670 759h0M1789 653h0M1597 831h0M1629 780h0M1542 800h0M1544 787h0M1681 785h0M1619 799h0M1602 803h0M1705 760h0M1667 795h0M1658 828h0M1650 807h0M1711 777h0M1551 786h0M1656 779h0M1656 799h0M1655 777h0M1549 798h0M1587 824h0M1634 806h0M1654 781h0M1548 829h0M1677 793h0M1680 821h0M1574 802h0M1696 770h0M1607 823h0M1563 810h0M1613 786h0M1665 727h0M1675 780h0M1628 755h0M1652 771h0M1727 723h0M1595 811h0M1672 782h0M1716 723h0M1731 722h0M1547 828h0M1596 812h0M1679 761h0M1717 742h0M1635 788h0M1692 761h0M1612 796h0M1600 778h0M1561 822h0M1709 770h0M1634 760h0M1628 780h0M1637 780h0M1565 833h0M1654 786h0M1644 784h0M1710 763h0M1558 836h0M1625 789h0M1751 691h0M1552 838h0M1577 794h0M1544 796h0M1628 807h0M1659 771h0M1626 820h0M1617 773h0M1595 818h0M1700 772h0M1603 811h0M1591 814h0M1679 772h0M1776 661h0M1583 813h0M1594 837h0M1634 730h0M1594 818h0M1713 749h0M1664 755h0M1669 798h0M1539 811h0M1537 822h0M1565 808h0M1565 818h0M1657 795h0M1787 653h0M1589 807h0M1538 811h0M1618 804h0M1649 812h0M1627 818h0M1646 772h0M1699 773h0M1650 803h0M1547 832h0M1541 822h0M1584 787h0M1555 798h0M1664 793h0M1618 788h0M1704 729h0M1551 794h0M1682 788h0M1614 817h0M1647 789h0M1572 825h0M1584 831h0M1564 808h0M1673 812h0M1593 819h0M1642 781h0M1676 761h0M1676 793h0M1646 778h0M1604 785h0M1561 820h0M1653 752h0M1610 808h0M1708 747h0M1762 681h0M1604 820h0M1549 817h0M1598 837h0M1711 768h0M1622 807h0M1780 661h0M1558 810h0M1594 825h0M1735 715h0M1735 719h0M1627 810h0M1617 787h0M1694 764h0M1559 802h0M1668 782h0M1636 822h0M1562 814h0M1626 791h0M1637 793h0M1615 778h0M1686 776h0M1660 799h0M1696 760h0M1727 740h0M1570 792h0M1599 824h0M1610 810h0M1566 815h0M1692 757h0M1685 744h0M1693 754h0M1563 778h0M1683 750h0M1575 814h0M1684 761h0M1589 784h0M1552 830h0M1729 698h0M1666 803h0M1536 820h0M1715 712h0M1592 828h0M1726 754h0M1595 799h0M1546 804h0M1536 823h0M1678 741h0M1660 763h0M1616 800h0M1575 838h0M1566 807h0M1621 792h0M1628 804h0M1546 817h0M1602 797h0M1653 778h0M1664 827h0M1682 769h0M1544 820h0M1709 751h0M1645 781h0M1655 805h0M1661 740h0M1667 769h0M1684 803h0M1660 826h0M1703 763h0M1585 818h0M1643 804h0M1584 821h0M1630 812h0M1558 831h0M1707 747h0M1626 768h0M1687 769h0M1587 783h0M1686 771h0M1704 765h0M1572 828h0M1584 790h0M1541 831h0M1732 716h0M1589 800h0M1762 676h0M1714 729h0M1546 833h0M1594 838h0M1711 741h0M1538 811h0M1561 829h0M1598 786h0M1691 765h0M1691 796h0M1625 815h0M1703 765h0M1600 784h0M1630 831h0M1557 813h0M1661 810h0M1572 787h0M1689 766h0M1685 761h0M1700 780h0M1586 826h0M1673 786h0M1561 813h0M1625 799h0M1556 835h0M1610 793h0M1614 818h0M1624 787h0M1655 804h0M1643 825h0M1635 788h0M1601 809h0M1685 775h0M1621 833h0M1615 768h0M1588 796h0M1659 820h0M1612 831h0M1695 759h0M1562 792h0M1590 770h0M1675 815h0M1560 805h0M1672 780h0M1677 831h0M1617 826h0M1631 795h0M1596 786h0M1546 806h0M1570 784h0M1582 798h0M1608 779h0M1570 818h0M1621 814h0M1577 817h0M1652 811h0M1673 810h0M1712 748h0M1622 775h0M1702 726h0M1625 801h0M1700 739h0M1651 804h0M1540 807h0M1714 745h0M1643 827h0M1596 838h0M1659 759h0M1664 826h0M1634 791h0M1652 772h0M1587 805h0M1750 694h0M1635 791h0M1572 812h0M1655 750h0M1676 797h0M1562 798h0M1666 802h0M1681 772h0M1698 737h0M1604 833h0M1554 789h0M1654 790h0M1607 810h0M1578 801h0M1535 804h0M1689 772h0M1613 791h0M1672 783h0M1697 768h0M1679 804h0M1611 817h0M1635 820h0M1641 794h0M1612 793h0M1653 786h0M1666 824h0M1678 776h0M1586 793h0M1714 754h0M1656 826h0M1599 787h0M1541 824h0M1662 783h0M1630 776h0M1604 817h0M1629 829h0M1567 802h0M1644 818h0M1659 823h0M1607 786h0M1571 813h0M1612 806h0M1659 794h0M1553 785h0M1688 740h0M1628 764h0M1624 796h0M1615 779h0M1643 775h0M1718 735h0M1538 828h0M1646 816h0M1703 743h0M1594 798h0M1602 819h0M1599 823h0M1704 753h0M1618 806h0M1676 736h0M1685 801h0M1673 786h0M1542 824h0M1577 826h0M1678 791h0M1607 809h0M1665 772h0M1560 815h0M1555 814h0M1700 787h0M1554 804h0M1545 830h0M1659 758h0M1568 787h0M1631 799h0M1682 781h0M1611 769h0M1763 675h0M1613 783h0M1576 813h0M1566 797h0M1628 782h0M1561 792h0M1635 775h0M1544 835h0M1559 836h0M1535 806h0M1702 767h0M1629 792h0M1545 823h0M1575 791h0M1733 730h0M1547 798h0M1714 753h0M1536 805h0M1654 784h0M1600 771h0M1635 808h0M1577 808h0M1546 768h0M1692 766h0M1688 777h0M1642 772h0M1543 818h0M1685 768h0M1651 807h0M1736 725h0M1597 833h0M1561 790h0M1642 788h0M1591 814h0M1566 805h0M1625 833h0M1567 815h0M1596 810h0M1641 792h0M1658 780h0M1650 768h0M1555 823h0M1703 763h0M1674 760h0M1616 810h0M1628 821h0M1730 719h0M1588 817h0M1643 774h0M1598 790h0M1699 749h0M1651 778h0M1690 755h0M1592 833h0M1697 755h0M1578 811h0M1567 822h0M1698 748h0M1654 758h0M1647 771h0M1549 825h0M1657 785h0M1619 750h0M1648 764h0M1628 810h0M1658 788h0M1587 799h0M1590 810h0M1602 800h0M1691 802h0M1596 806h0M1615 803h0M1640 769h0M1612 771h0M1592 779h0M1696 753h0M1618 786h0M1568 803h0M1659 808h0M1537 815h0M1649 787h0M1611 802h0M1680 754h0M1558 835h0M1582 793h0M1614 797h0M1619 793h0M1651 785h0M1618 810h0M1601 796h0M1599 788h0M1688 787h0M1685 785h0M1742 719h0M1677 801h0M1569 834h0M1636 776h0M1623 829h0M1606 804h0M1633 784h0M1675 818h0M1649 796h0M1718 753h0M1737 702h0M1564 805h0M1580 779h0M1549 829h0M1671 789h0M1551 794h0M1676 788h0M1604 787h0M1735 709h0M1595 813h0M1613 832h0M1677 779h0M1655 765h0M1565 818h0M1578 805h0M1624 791h0M1680 793h0M1651 798h0M1625 778h0M1602 808h0M1561 807h0M1537 824h0M1733 734h0M1608 834h0M1660 776h0M1568 823h0M1586 805h0M1535 821h0M1555 818h0M1583 832h0M1646 807h0M1582 827h0M1539 798h0M1659 831h0M1581 778h0M1568 828h0M1588 820h0M1543 811h0M1570 786h0M1653 779h0M1608 826h0M1583 805h0M1738 708h0M1561 804h0M1553 826h0M1740 709h0M1578 787h0M1694 761h0M1632 769h0M1539 794h0M1638 774h0M1672 810h0M1602 807h0M1695 754h0M1554 804h0M1710 739h0M1645 781h0M1747 694h0M1581 788h0M1673 752h0M1662 760h0M1620 795h0M1588 827h0M1607 828h0M1627 812h0M1652 783h0M1540 810h0M1631 815h0M1561 802h0M1604 827h0M1596 781h0M1581 837h0M1651 767h0M1592 810h0M1626 786h0M1561 799h0M1588 832h0M1545 820h0M1696 758h0M1667 763h0M1649 743h0M1622 789h0M1632 806h0M1540 835h0M1634 775h0M1566 805h0M1642 797h0M1601 810h0M1543 801h0M1705 776h0M1638 826h0M1536 822h0M1616 798h0M1613 790h0M1597 821h0M1626 792h0M1606 831h0M1581 833h0M1640 819h0M1553 802h0M1587 817h0M1613 772h0M1582 809h0M1555 819h0M1586 828h0M1654 736h0M1589 812h0M1535 830h0M1642 796h0M1604 806h0M1698 788h0M1710 768h0M1669 782h0M1628 817h0M1623 808h0M1660 800h0M1696 764h0M1588 810h0M1612 813h0M1575 807h0M1648 798h0M1659 811h0M1584 822h0M1606 800h0M1620 795h0M1554 830h0M1554 807h0M1710 752h0M1666 773h0M1569 817h0M1639 823h0M1696 758h0M1696 775h0M1650 797h0M1552 801h0M1599 808h0M1617 804h0M1608 806h0M1736 709h0M1713 754h0M1602 830h0M1652 821h0M1698 790h0M1633 834h0M1687 753h0M1687 781h0M1577 818h0M1599 796h0M1575 806h0M1665 752h0M1633 820h0M1589 826h0M1658 789h0M1579 799h0M1597 796h0M1655 801h0M1644 792h0M1539 821h0M1729 715h0M1537 818h0M1647 787h0M1651 802h0M1633 834h0M1606 803h0M1596 828h0M1657 819h0M1563 833h0M1659 804h0M1625 814h0M1626 786h0M1679 783h0M1669 732h0M1721 792h0M1750 701h0M1769 675h0M1697 768h0M1683 777h0M1638 783h0M1706 758h0M1731 718h0M1680 831h0M1565 787h0M1549 813h0M1672 787h0M1674 769h0M1621 802h0M1671 742h0M1714 743h0M1601 789h0M1682 790h0M1639 825h0M1624 786h0M1642 800h0M1600 788h0M1546 791h0M1707 746h0M1655 800h0M1539 834h0M1602 826h0M1637 781h0M1636 803h0M1600 802h0M1634 796h0M1682 820h0M1605 816h0M1648 807h0M1675 810h0M1553 834h0M1536 830h0M1720 715h0M1649 791h0M1583 800h0M1588 828h0M1631 787h0M1675 777h0M1681 756h0M1695 756h0M1535 821h0M1710 756h0M1588 816h0M1689 757h0M1656 817h0M1709 776h0M1683 771h0M1564 795h0M1594 799h0M1624 798h0M1566 826h0M1552 795h0M1684 807h0M1651 759h0M1708 751h0M1550 799h0M1543 815h0M1594 835h0M1545 833h0M1616 835h0M1715 735h0M1654 778h0M1553 807h0M1607 823h0M1689 731h0M1620 812h0M1658 781h0M1636 799h0M1743 717h0M1675 783h0M1700 757h0M1640 803h0M1660 773h0M1590 799h0M1619 804h0M1599 798h0M1733 711h0M1608 798h0M1576 825h0M1535 833h0M1687 826h0M1587 798h0M1647 836h0M1567 817h0M1547 804h0M1635 787h0M1539 795h0M1578 803h0M1563 830h0M1671 798h0M1644 802h0M1568 817h0M1670 778h0M1616 802h0M1682 756h0M1598 809h0M1641 782h0M1559 834h0M1586 829h0M1660 804h0M1582 808h0M1602 794h0M1657 797h0M1684 790h0M1627 795h0M1571 817h0M1589 799h0M1585 831h0M1656 789h0M1537 824h0M1624 792h0M1633 801h0M1670 787h0M1620 780h0M1587 838h0M1596 790h0M1627 786h0M1732 715h0M1668 748h0M1654 810h0M1650 769h0M1553 807h0M1611 822h0M1729 730h0M1656 793h0M1593 792h0M1545 794h0M1696 732h0M1614 834h0M1535 835h0M1779 669h0M1629 788h0M1727 714h0M1554 817h0M1703 768h0M1621 799h0M1656 772h0M1579 787h0M1679 764h0M1643 773h0M1655 809h0M1711 764h0M1664 789h0M1687 769h0M1577 825h0M1578 784h0M1633 801h0M1616 805h0M1534 805h0M1585 775h0M1553 818h0M1548 801h0M1606 789h0M1544 819h0M1634 771h0M1675 769h0M1572 786h0M1577 818h0M1661 804h0M1659 753h0M1689 753h0M1608 802h0M1610 831h0M1536 817h0M1638 796h0M1629 825h0M1730 713h0M1569 789h0M1551 816h0M1658 776h0M1708 768h0M1616 804h0M1708 783h0M1582 809h0M1596 828h0M1605 800h0M1541 800h0M1624 779h0M1579 824h0M1618 801h0M1597 792h0M1587 800h0M1665 795h0M1621 794h0M1704 790h0M1671 778h0M1571 787h0M1709 724h0M1588 786h0M1649 790h0M1592 837h0M1765 680h0M1541 832h0M1627 795h0M1556 820h0M1569 792h0M1728 732h0M1675 835h0M1601 810h0M1657 790h0M1652 778h0M1606 820h0M1578 832h0M1575 820h0M1630 779h0M1671 834h0M1615 825h0M1573 827h0M1696 758h0M1590 786h0M1612 827h0M1555 831h0M1566 803h0M1593 800h0M1683 779h0M1569 816h0M1619 813h0M1658 774h0M1732 711h0M1709 735h0M1584 832h0M1773 667h0M1655 785h0M1623 787h0M1653 802h0M1655 784h0M1640 821h0M1704 751h0M1686 760h0M1536 832h0M1605 813h0M1613 798h0M1718 747h0M1602 802h0M1649 788h0M1558 762h0M1665 796h0M1557 835h0M1606 796h0M1605 831h0M1538 823h0M1601 805h0M1661 785h0M1663 775h0M1606 805h0M1592 808h0M1627 820h0M1695 752h0M1547 811h0M1683 756h0M1651 797h0M1648 793h0M1553 819h0M1624 825h0M1666 760h0M1587 831h0M1537 805h0M1569 838h0M1619 838h0M1679 780h0M1580 805h0M1670 818h0M1696 771h0M1573 798h0M1634 796h0M1600 818h0M1567 798h0M1691 739h0M1548 807h0M1605 811h0M1681 770h0M1568 815h0M1548 829h0M1535 813h0M1543 804h0M1680 810h0M1625 819h0M1558 798h0M1615 818h0M1655 775h0M1621 824h0M1549 821h0M1697 769h0M1546 812h0M1616 803h0M1669 770h0M1572 834h0M1582 814h0M1556 831h0M1614 803h0M1639 788h0M1578 807h0M1680 804h0M1705 741h0M1694 767h0M1573 817h0M1714 706h0M1553 804h0M1651 788h0M1589 835h0M1608 828h0M1592 821h0M1641 774h0M1675 772h0M1665 744h0M1619 829h0M1694 755h0M1658 787h0M1681 776h0M1623 819h0M1575 809h0M1624 815h0M1695 740h0M1766 681h0M1600 820h0M1565 791h0M1563 815h0M1589 780h0M1602 808h0M1618 802h0M1665 815h0M1616 836h0M1613 833h0M1635 810h0M1661 790h0M1601 801h0M1574 819h0M1674 819h0M1639 820h0M1638 798h0M1659 774h0M1548 823h0M1777 662h0M1557 823h0M1626 760h0M1538 802h0M1621 827h0M1710 738h0M1671 761h0M1592 780h0M1579 790h0M1606 799h0M1621 832h0M1554 794h0M1614 835h0M1684 770h0M1792 644h0M1542 804h0M1667 834h0M1640 812h0M1701 755h0M1763 686h0M1595 806h0M1576 838h0M1591 825h0M1646 773h0M1702 770h0M1622 799h0M1622 809h0M1613 812h0M1634 794h0M1650 821h0M1625 829h0M1577 762h0M1553 821h0M1595 790h0M1638 810h0M1718 736h0M1698 778h0M1631 824h0M1738 720h0M1576 793h0M1692 778h0M1612 838h0M1621 774h0M1554 823h0M1577 825h0M1683 755h0M1550 820h0M1613 832h0M1578 833h0M1673 803h0M1691 782h0M1683 791h0M1712 757h0M1641 813h0M1673 793h0M1731 726h0M1611 797h0M1635 777h0M1688 748h0M1670 778h0M1601 822h0M1582 828h0M1682 758h0M1647 812h0M1536 783h0M1620 821h0M1722 730h0M1665 788h0M1606 775h0M1672 766h0M1604 797h0M1630 826h0M1649 787h0M1717 750h0M1574 777h0M1630 799h0M1536 809h0M1685 770h0M1559 807h0M1616 820h0M1538 809h0M1669 786h0M1700 745h0M1643 772h0M1550 825h0M1651 797h0M1640 808h0M1600 834h0M1709 755h0M1651 760h0M1547 834h0M1709 762h0M1636 811h0M1692 728h0M1645 792h0M1687 796h0M1676 791h0M1695 765h0M1568 790h0M1537 791h0M1675 789h0M1650 826h0M1726 718h0M1689 765h0M1655 807h0M1628 796h0M1534 832h0M1620 788h0M1757 690h0M1538 834h0M1700 730h0M1662 793h0M1641 798h0M1619 797h0M1607 834h0M1542 823h0M1691 791h0M1659 784h0M1597 794h0M1578 817h0M1598 747h0M1687 758h0M1635 816h0M1644 819h0M1567 825h0M1542 838h0M1651 758h0M1585 808h0M1579 812h0M1733 719h0M1704 754h0M1684 765h0M1627 797h0M1571 831h0M1673 787h0M1710 756h0M1654 758h0M1677 749h0M1618 797h0M1676 753h0M1679 758h0M1598 800h0M1646 790h0M1550 811h0M1678 761h0M1684 755h0M1679 770h0M1592 826h0M1564 808h0M1539 832h0M1637 779h0M1717 700h0M1607 817h0M1587 829h0M1545 795h0M1632 792h0M1644 778h0M1573 795h0M1674 791h0M1603 808h0M1634 799h0M1551 824h0M1549 805h0M1534 792h0M1667 781h0M1571 811h0M1677 780h0M1590 831h0M1662 780h0M1683 780h0M1610 804h0M1624 836h0M1589 815h0M1605 793h0M1697 787h0M1585 810h0M1566 826h0M1544 830h0M1567 831h0M1556 799h0M1647 807h0M1535 826h0M1619 802h0M1625 816h0M1684 778h0M1624 818h0M1648 764h0M1550 816h0M1753 691h0M1600 836h0M1597 820h0M1644 774h0M1669 797h0M1671 794h0M1577 834h0M1644 784h0M1556 812h0M1689 801h0M1672 767h0M1690 764h0M1616 831h0M1621 821h0M1586 789h0M1554 798h0M1657 806h0M1545 827h0M1612 809h0M1631 819h0M1621 816h0M1650 775h0M1666 771h0M1614 834h0M1676 779h0M1559 810h0M1536 817h0M1674 796h0M1558 830h0M1631 785h0M1591 831h0M1629 715h0M1535 836h0M1575 778h0M1636 776h0M1620 821h0M1644 816h0M1604 830h0M1608 797h0M1691 793h0M1680 752h0M1552 798h0M1644 815h0M1637 831h0M1595 835h0M1586 824h0M1602 829h0M1611 825h0M1592 827h0M1668 777h0M1554 787h0M1578 816h0M1647 810h0M1545 826h0M1664 760h0M1577 828h0M1602 811h0M1709 769h0M1620 799h0M1554 833h0M1540 796h0M1694 801h0M1617 816h0M1673 796h0M1625 766h0M1701 754h0M1674 804h0M1699 750h0M1560 810h0M1576 807h0M1649 799h0M1541 824h0M1718 730h0M1585 807h0M1686 776h0M1610 801h0M1677 764h0M1585 782h0M1578 833h0M1635 786h0M1595 808h0M1651 800h0M1595 836h0M1602 827h0M1567 823h0M1546 830h0M1550 833h0M1664 824h0M1561 818h0M1628 812h0M1615 833h0M1601 821h0M1592 771h0M1675 808h0M1624 820h0M1621 812h0M1574 803h0M1652 758h0M1652 745h0M1603 799h0M1694 747h0M1682 738h0M1571 809h0M1619 815h0M1716 743h0M1596 815h0M1697 771h0M1665 803h0M1590 810h0M1571 837h0M1577 831h0M1692 766h0M1580 808h0M1643 790h0M1546 836h0M1651 824h0M1699 749h0M1616 787h0M1562 836h0M1734 722h0M1768 673h0M1699 775h0M1624 796h0M1695 779h0M1690 802h0M1765 676h0M1654 774h0M1614 792h0M1572 838h0M1638 734h0M1583 804h0M1535 813h0M1659 807h0M1676 799h0M1681 765h0M1680 745h0M1621 788h0M1619 838h0M1568 763h0M1634 786h0M1592 785h0M1652 768h0M1630 831h0M1799 644h0M1706 738h0M1718 730h0M1574 824h0M1652 813h0M1612 827h0M1587 808h0M1613 801h0M1770 669h0M1718 741h0M1635 801h0M1633 785h0M1707 741h0M1546 838h0M1708 709h0M1540 793h0M1659 791h0M1593 817h0M1679 774h0M1669 773h0M1690 772h0M1595 825h0M1693 739h0M1641 800h0M1594 830h0M1593 818h0M1599 830h0M1554 777h0M1648 818h0M1684 781h0M1724 746h0M1682 770h0M1554 825h0M1735 731h0M1559 817h0M1570 823h0M1801 642h0M1681 803h0M1661 755h0M1581 813h0M1611 807h0M1644 805h0M1692 766h0M1552 828h0M1684 776h0M1722 718h0M1660 764h0M1647 787h0M1536 797h0M1569 826h0M1642 821h0M1699 798h0M1601 818h0M1612 819h0M1674 801h0M1693 803h0M1641 822h0M1690 770h0M1646 808h0M1591 781h0M1553 818h0M1618 823h0M1637 813h0M1591 830h0M1664 778h0M1566 835h0M1646 751h0M1669 813h0M1586 811h0M1541 811h0M1575 830h0M1677 779h0M1576 818h0M1558 835h0M1702 770h0M1647 761h0M1589 809h0M1734 725h0M1572 823h0M1668 784h0M1557 795h0M1670 790h0M1649 769h0M1560 824h0M1569 827h0M1577 810h0M1611 795h0M1699 769h0M1686 795h0M1539 780h0M1582 780h0M1657 733h0M1607 812h0M1596 797h0M1596 791h0M1661 779h0M1661 765h0M1581 780h0M1661 812h0M1620 807h0M1687 757h0M1684 783h0M1578 791h0M1564 823h0M1565 798h0M1716 726h0M1674 747h0M1678 801h0M1613 779h0M1628 808h0M1642 820h0M1606 775h0M1669 767h0M1658 791h0M1697 788h0M1728 702h0M1560 796h0M1664 791h0M1706 736h0M1715 757h0M1621 833h0M1605 806h0M1605 804h0M1588 796h0M1786 655h0M1614 808h0M1611 814h0M1560 825h0M1585 801h0M1630 827h0M1543 793h0M1696 752h0M1539 818h0M1639 803h0M1593 774h0M1729 725h0M1575 831h0M1594 802h0M1557 822h0M1541 837h0M1683 759h0M1598 798h0M1643 833h0M1605 806h0M1645 775h0M1535 832h0M1646 791h0M1604 808h0M1659 786h0M1659 775h0M1694 780h0M1565 829h0M1560 812h0M1682 765h0M1560 824h0M1667 792h0M1622 826h0M1632 793h0M1559 826h0M1580 821h0M1710 749h0M1628 793h0M1609 815h0M1636 834h0M1689 741h0M1618 782h0M1627 812h0M1593 788h0M1646 811h0M1595 803h0M1692 776h0M1684 781h0M1733 736h0M1543 785h0M1652 788h0M1623 813h0M1558 836h0M1586 824h0M1709 745h0M1616 781h0M1607 813h0M1706 747h0M1651 792h0M1694 786h0M1535 831h0M1699 782h0M1591 825h0M1598 802h0M1591 830h0M1564 822h0M1651 802h0M1643 819h0M1625 765h0M1675 760h0M1556 828h0M1559 829h0M1551 836h0M1673 772h0M1626 825h0M1699 774h0M1651 776h0M1552 820h0M1679 786h0M1685 742h0M1674 771h0M1629 820h0M1721 751h0M1538 776h0M1621 793h0M1618 819h0M1674 755h0M1678 745h0M1678 761h0M1609 785h0M1649 804h0M1654 783h0M1566 827h0M1582 817h0M1686 750h0M1619 802h0M1627 800h0M1591 815h0M1593 808h0M1576 796h0M1654 836h0M1645 785h0M1547 822h0M1548 835h0M1537 838h0M1608 801h0M1645 811h0M1659 766h0M1641 824h0M1537 830h0M1535 785h0M1666 826h0M1571 819h0M1639 809h0M1724 708h0M1711 764h0M1610 795h0M1660 800h0M1579 798h0M1623 794h0M1713 750h0M1632 807h0M1632 789h0M1650 797h0M1605 801h0M1614 817h0M1594 809h0M1663 779h0M1685 804h0M1656 808h0M1588 816h0M1585 814h0M1570 772h0M1690 757h0M1688 766h0M1615 808h0M1694 747h0M1588 837h0M1663 796h0M1660 766h0M1549 813h0M1540 829h0M1652 800h0M1593 806h0M1648 822h0M1757 689h0M1559 775h0M1623 772h0M1760 680h0M1604 825h0M1686 758h0M1666 777h0M1696 791h0M1682 786h0M1629 777h0M1728 753h0M1606 782h0M1617 805h0M1560 828h0M1574 794h0M1556 812h0M1682 765h0M1580 835h0M1590 807h0M1672 786h0M1657 747h0M1723 727h0M1629 813h0M1602 821h0M1552 807h0M1676 786h0M1626 781h0M1608 810h0M1701 747h0M1594 829h0M1728 747h0M1744 694h0M1600 837h0M1610 814h0M1700 773h0M1633 778h0M1579 813h0M1542 800h0M1601 813h0M1675 783h0M1665 787h0M1593 791h0M1673 797h0M1599 811h0M1683 747h0M1597 824h0M1565 835h0M1650 786h0M1615 823h0M1570 809h0M1563 835h0M1660 819h0M1613 816h0M1537 772h0M1620 786h0M1607 818h0M1541 814h0M1692 790h0M1543 830h0M1663 748h0M1621 806h0M1627 783h0M1609 797h0M1689 772h0M1663 752h0M1620 838h0M1641 792h0M1640 774h0M1588 796h0M1675 781h0M1712 729h0M1690 764h0M1590 820h0M1626 810h0M1594 795h0M1544 837h0M1646 774h0M1665 778h0M1571 835h0M1734 723h0M1641 803h0M1658 796h0M1699 750h0M1658 795h0M1630 832h0M1539 809h0M1669 797h0M1662 790h0M1558 831h0M1629 808h0M1613 810h0M1586 827h0M1672 780h0M1615 782h0M1678 779h0M1598 832h0M1561 773h0M1639 761h0M1675 822h0M1674 770h0M1637 778h0M1647 813h0M1630 796h0M1592 824h0M1681 777h0M1694 758h0M1650 824h0M1566 827h0M1708 742h0M1564 785h0M1585 783h0M1675 766h0M1640 775h0M1576 810h0M1663 765h0M1566 823h0M1549 806h0M1581 776h0M1676 774h0M1627 795h0M1615 793h0M1543 822h0M1644 778h0M1561 815h0M1569 799h0M1635 786h0M1562 802h0M1579 806h0M1653 794h0M1681 770h0M1707 725h0M1592 809h0M1546 793h0M1538 809h0M1544 836h0M1596 824h0M1724 736h0M1571 795h0M1663 784h0M1670 761h0M1559 819h0M1678 740h0M1544 797h0M1558 832h0M1642 767h0M1670 753h0M1664 764h0M1668 804h0M1554 826h0M1642 817h0M1638 775h0M1563 796h0M1593 795h0M1598 837h0M1633 831h0M1592 803h0M1708 733h0M1656 774h0M1632 806h0M1690 787h0M1683 761h0M1717 741h0M1534 805h0M1671 814h0M1534 819h0M1656 770h0M1718 754h0M1548 787h0M1560 809h0M1629 821h0M1603 793h0M1713 728h0M1683 785h0M1672 809h0M1740 693h0M1577 805h0M1615 831h0M1708 772h0M1608 824h0M1568 821h0M1591 795h0M1577 836h0M1613 802h0M1738 696h0M1635 804h0M1698 744h0M1591 814h0M1674 801h0M1740 709h0M1555 762h0M1539 802h0M1559 828h0M1569 830h0M1689 780h0M1614 822h0M1536 816h0M1715 739h0M1647 809h0M1566 777h0M1577 776h0M1659 801h0M1570 789h0M1640 803h0M1550 813h0M1605 829h0M1693 763h0M1645 792h0M1677 791h0M1609 814h0M1590 835h0M1676 783h0M1564 809h0M1559 816h0M1553 813h0M1582 802h0M1613 820h0M1703 768h0M1660 765h0M1742 708h0M1569 795h0M1657 750h0M1667 755h0M1645 809h0M1629 784h0M1541 802h0M1594 833h0M1592 831h0M1636 773h0M1543 811h0M1559 836h0M1551 802h0M1653 778h0M1689 750h0M1540 795h0M1633 838h0M1608 796h0M1643 790h0M1585 837h0M1656 804h0M1612 834h0M1665 760h0M1650 790h0M1625 823h0M1630 818h0M1534 790h0M1702 782h0M1645 799h0M1667 802h0M1620 795h0M1715 714h0M1604 826h0M1569 776h0M1672 795h0M1538 797h0M1633 800h0M1605 814h0M1688 756h0M1593 832h0M1657 804h0M1676 768h0M1555 797h0M1665 838h0M1581 814h0M1625 826h0M1652 772h0M1667 760h0M1548 834h0M1564 817h0M1631 831h0M1658 784h0M1599 799h0M1557 834h0M1578 818h0M1541 838h0M1660 765h0M1719 739h0M1735 719h0M1550 788h0M1595 798h0M1670 793h0M1611 814h0M1619 795h0M1688 750h0M1539 831h0M1675 778h0M1652 769h0M1639 818h0M1633 793h0M1642 835h0M1682 785h0M1566 793h0M1642 788h0M1670 759h0M1661 820h0M1560 789h0M1687 780h0M1683 788h0M1590 803h0M1593 833h0M1550 832h0M1637 760h0M1558 803h0M1655 796h0M1552 810h0M1659 774h0M1565 787h0M1539 815h0M1668 787h0M1722 732h0M1685 788h0M1700 786h0M1651 765h0M1641 795h0M1633 788h0M1595 790h0M1635 809h0M1644 772h0M1653 817h0M1631 791h0M1587 821h0M1591 827h0M1681 806h0M1616 826h0M1586 820h0M1629 809h0M1605 805h0M1599 784h0M1666 788h0M1555 797h0M1549 807h0M1670 776h0M1691 781h0M1682 763h0M1607 832h0M1638 805h0M1692 795h0M1544 823h0M1583 832h0M1721 766h0M1717 782h0M1540 821h0M1613 807h0M1601 813h0M1540 820h0M1589 803h0M1637 823h0M1709 723h0M1623 826h0M1702 732h0M1592 788h0M1700 743h0M1727 700h0M1655 770h0M1689 762h0M1666 772h0M1714 769h0M1651 786h0M1535 821h0M1764 679h0M1599 780h0M1631 779h0M1651 758h0M1642 779h0M1671 773h0M1568 800h0M1662 767h0M1657 784h0M1587 821h0M1622 792h0M1551 811h0M1572 801h0M1686 744h0M1666 791h0M1684 775h0M1556 829h0M1580 838h0M1587 784h0M1752 684h0M1609 794h0M1659 795h0M1584 827h0M1599 814h0M1567 812h0M1644 780h0M1707 785h0M1721 725h0M1681 820h0M1536 805h0M1668 754h0M1620 778h0M1646 787h0M1638 775h0M1562 815h0M1666 812h0M1635 825h0M1604 762h0M1602 826h0M1568 816h0M1666 754h0M1565 765h0M1683 728h0M1664 767h0M1662 805h0M1687 751h0M1735 720h0M1672 784h0M1609 808h0M1662 737h0M1599 707h0M1641 733h0M1628 731h0M1564 748h0M1556 767h0M1548 717h0M1544 739h0M1687 725h0M1558 767h0M1571 754h0M1619 733h0M1625 737h0M1572 727h0M1574 727h0M1617 844h0M1609 844h0M1621 845h0M1546 845h0M1550 845h0M1611 844h0M1615 844h0M1650 845h0M1589 844h0M1539 845h0M1635 845h0M1569 845h0M1569 844h0M1655 844h0M1620 845h0M1578 845h0M1634 844h0M1568 844h0M1670 845h0M1535 845h0M1611 845h0M1631 845h0M1629 845h0M1568 844h0M1603 845h0M1546 845h0M1643 845h0M1653 845h0M1569 844h0M1643 845h0M1664 845h0M1590 845h0M1623 845h0M1545 845h0M1617 844h0M1619 845h0M1646 844h0M1604 845h0M1667 844h0M1546 845h0M1693 845h0M1681 844h0M1690 845h0M1686 845h0M1695 844h0M1623 854h0M1605 854h0M1634 854h0M1581 854h0M1619 855h0M1594 854h0M1545 854h0M1647 854h0M1589 854h0M1576 854h0M1657 854h0M1586 855h0M1614 854h0M1651 854h0M1546 854h0M1667 855h0M1568 854h0M1579 854h0M1570 854h0M1636 854h0M1571 854h0M1546 854h0M1655 854h0M1640 854h0M1584 854h0M1538 855h0M1629 854h0M1606 855h0M1646 854h0M1624 855h0M1565 855h0M1575 854h0M1566 855h0M1611 854h0M1626 854h0M1535 854h0M1557 854h0M1579 854h0M1608 854h0M1615 854h0M1703 854h0M1707 855h0M1695 854h0M1684 854h0M1700 854h0M1578 870h0M1570 870h0M1623 870h0M1630 869h0M1572 870h0M1631 870h0M1590 869h0M1608 869h0M1644 870h0M1553 870h0M1564 870h0M1553 870h0M1587 870h0M1583 870h0M1574 870h0M1631 869h0M1547 870h0M1548 870h0M1598 870h0M1598 870h0M1635 870h0M1585 870h0M1593 869h0M1587 870h0M1631 870h0M1645 870h0M1625 870h0M1546 869h0M1661 870h0M1613 870h0M1665 870h0M1633 870h0M1566 870h0M1598 869h0M1539 869h0M1588 870h0M1602 869h0M1576 870h0M1636 870h0M1600 869h0M1682 870h0M1694 869h0M1692 869h0M1678 869h0M1679 870h0M1643 905h0M1554 905h0M1570 905h0M1567 906h0M1632 906h0M1625 906h0M1646 905h0M1573 905h0M1593 906h0M1600 906h0M1578 905h0M1612 905h0M1559 906h0M1601 906h0M1574 905h0M1584 906h0M1556 905h0M1631 906h0M1594 906h0M1625 905h0M1600 906h0M1635 905h0M1612 905h0M1544 905h0M1548 906h0M1595 905h0M1589 906h0M1578 906h0M1596 905h0M1651 906h0M1576 905h0M1626 906h0M1548 905h0M1624 906h0M1636 906h0M1606 905h0M1559 906h0M1594 906h0M1559 906h0M1589 905h0M1681 905h0M1684 906h0M1683 905h0M1696 906h0M1698 906h0" stroke="#000" stroke-width="4.35" stroke-linecap="round" fill="none"/>
<line x1="511.3" y1="281.6" x2="559.2" y2="281.6" stroke="#000" stroke-width="1.6"/>
<line x1="511.3" y1="284.7" x2="557.1" y2="284.7" stroke="#000" stroke-width="1.6"/>
<line x1="511.3" y1="289.9" x2="557.1" y2="289.9" stroke="#000" stroke-width="1.6"/>
<line x1="511.3" y1="301.8" x2="550.9" y2="301.8" stroke="#000" stroke-width="1.6"/>
<text x="-1.3" y="356.7" font-size="24" font-weight="bold">(e)</text>
<text x="30.5" y="366" font-size="16">β =</text>
<text x="63.6" y="366" font-size="16">10<tspan font-size="10.5" dy="-6.5">-7</tspan></text>
<text x="125" y="366" font-size="16">1</text>
<text x="169.6" y="366" font-size="16">10<tspan font-size="10.5" dy="-6.5">-7</tspan></text>
<text x="1.6" y="386.4" font-size="16">Target:</text>
<text x="59.4" y="386.4" font-size="16">MLP</text>
<text x="138.7" y="386.4" font-size="16">B cell</text>
<line x1="105.3" y1="349.5" x2="105.3" y2="521.3" stroke="#404040" stroke-width="1"/>
<line x1="158.4" y1="350.4" x2="158.4" y2="372" stroke="#404040" stroke-width="1"/>
<line x1="158.4" y1="392.8" x2="158.4" y2="521.3" stroke="#404040" stroke-width="1"/>
<line x1="51.3" y1="393" x2="51.3" y2="525.8" stroke="#707070" stroke-width="1.2"/>
<line x1="48.8" y1="521.3" x2="212.7" y2="521.3" stroke="#707070" stroke-width="1.2"/>
<line x1="49.3" y1="508.9" x2="51.3" y2="508.9" stroke="#707070" stroke-width="1"/>
<line x1="48.3" y1="496.4" x2="51.3" y2="496.4" stroke="#707070" stroke-width="1"/>
<line x1="49.3" y1="484" x2="51.3" y2="484" stroke="#707070" stroke-width="1"/>
<line x1="48.3" y1="471.5" x2="51.3" y2="471.5" stroke="#707070" stroke-width="1"/>
<line x1="49.3" y1="459.1" x2="51.3" y2="459.1" stroke="#707070" stroke-width="1"/>
<line x1="48.3" y1="446.7" x2="51.3" y2="446.7" stroke="#707070" stroke-width="1"/>
<line x1="49.3" y1="434.2" x2="51.3" y2="434.2" stroke="#707070" stroke-width="1"/>
<line x1="48.3" y1="421.8" x2="51.3" y2="421.8" stroke="#707070" stroke-width="1"/>
<line x1="49.3" y1="409.3" x2="51.3" y2="409.3" stroke="#707070" stroke-width="1"/>
<line x1="48.3" y1="396.9" x2="51.3" y2="396.9" stroke="#707070" stroke-width="1"/>
<line x1="62.1" y1="521.3" x2="62.1" y2="523.6" stroke="#707070" stroke-width="1"/>
<line x1="72.8" y1="521.3" x2="72.8" y2="523.6" stroke="#707070" stroke-width="1"/>
<line x1="83.6" y1="521.3" x2="83.6" y2="523.6" stroke="#707070" stroke-width="1"/>
<line x1="94.3" y1="521.3" x2="94.3" y2="523.6" stroke="#707070" stroke-width="1"/>
<line x1="105.1" y1="521.3" x2="105.1" y2="525.8" stroke="#707070" stroke-width="1"/>
<line x1="115.9" y1="521.3" x2="115.9" y2="523.6" stroke="#707070" stroke-width="1"/>
<line x1="126.6" y1="521.3" x2="126.6" y2="523.6" stroke="#707070" stroke-width="1"/>
<line x1="137.4" y1="521.3" x2="137.4" y2="523.6" stroke="#707070" stroke-width="1"/>
<line x1="148.1" y1="521.3" x2="148.1" y2="523.6" stroke="#707070" stroke-width="1"/>
<line x1="158.9" y1="521.3" x2="158.9" y2="525.8" stroke="#707070" stroke-width="1"/>
<line x1="169.7" y1="521.3" x2="169.7" y2="523.6" stroke="#707070" stroke-width="1"/>
<line x1="180.4" y1="521.3" x2="180.4" y2="523.6" stroke="#707070" stroke-width="1"/>
<line x1="191.2" y1="521.3" x2="191.2" y2="523.6" stroke="#707070" stroke-width="1"/>
<line x1="201.9" y1="521.3" x2="201.9" y2="523.6" stroke="#707070" stroke-width="1"/>
<line x1="212.7" y1="521.3" x2="212.7" y2="525.8" stroke="#707070" stroke-width="1"/>
<text x="47.5" y="402.9" font-size="16" text-anchor="end">1.0</text>
<text x="47.5" y="427.8" font-size="16" text-anchor="end">0.8</text>
<text x="47.5" y="452.7" font-size="16" text-anchor="end">0.6</text>
<text x="47.5" y="477.5" font-size="16" text-anchor="end">0.4</text>
<text x="47.5" y="502.4" font-size="16" text-anchor="end">0.2</text>
<text x="47.5" y="527.3" font-size="16" text-anchor="end">0</text>
<text x="53.7" y="537" font-size="16" text-anchor="middle">0</text>
<text x="106.6" y="537" font-size="16" text-anchor="middle">0.5</text>
<text x="158.5" y="537" font-size="16" text-anchor="middle">1</text>
<text x="209" y="537" font-size="16" text-anchor="middle">1.5</text>
<text x="68" y="552" font-size="16">Repetitions (x10<tspan font-size="10.5" dy="-7">6</tspan><tspan dy="7">)</tspan></text>
<text transform="translate(19.3,454.6) rotate(-90)" font-size="16" text-anchor="middle">Correlation</text>
<polygon points="51.2,482.5 51.8,483.8 52.3,483.2 52.8,483.4 53.4,483.8 53.9,485.3 54.5,484.3 55,484.2 55.6,485.6 56.1,485.2 56.7,485 57.2,484.2 57.8,484.9 58.3,486.3 58.9,484.2 59.4,486.2 60,485.5 60.5,484.2 61.1,486.1 61.6,484.4 62.2,485.6 62.7,485.1 63.3,485.1 63.8,485.2 64.4,484.2 64.9,484.8 65.5,484.8 66,486 66.6,485.7 67.1,485.5 67.7,485.7 68.2,485.2 68.8,486.1 69.3,485.6 69.9,487.3 70.4,486.2 71,486.3 71.5,487.3 72.1,486.9 72.6,487.8 73.2,488 73.7,488.3 74.3,487.9 74.8,488.5 75.4,487.5 75.9,488.8 76.5,488.1 77,487.5 77.6,488.2 78.1,487.5 78.7,488.1 79.2,488.2 79.8,489.1 80.3,488.6 80.9,488.1 81.4,489 82,487.7 82.5,489 83.1,488.8 83.6,488.8 84.2,488.5 84.7,488.5 85.3,488.2 85.8,488.5 86.4,489.6 86.9,488.7 87.5,489 88,488.6 88.6,488.3 89.1,487.9 89.7,488 90.2,487.7 90.8,488.8 91.3,488 91.9,488.4 92.4,488.4 93,487.7 93.5,488.4 94.1,489.3 94.6,489 95.2,489.3 95.7,487.6 96.3,489.7 96.8,488.9 97.4,487.7 97.9,487.4 98.5,487.4 99,488 99.6,488 100.1,487.1 100.7,487.3 101.2,487.5 101.8,486.7 102.3,487.3 102.9,487.5 103.4,487.1 104,487.7 104.5,487.1 104.9,487.8 104.9,495.2 104.5,495.8 104,495.6 103.4,496.4 102.9,495.4 102.3,496.6 101.8,496.3 101.2,495.7 100.7,495.6 100.1,497.3 99.6,497.6 99,496 98.5,496.4 97.9,496.3 97.4,497.6 96.8,495.7 96.3,497.7 95.7,496.2 95.2,496.9 94.6,495.9 94.1,495.5 93.5,495.9 93,497.5 92.4,497 91.9,496.2 91.3,496.5 90.8,495.2 90.2,495.9 89.7,496.8 89.1,497 88.6,496.3 88,495.3 87.5,495.6 86.9,497.3 86.4,496.9 85.8,496.7 85.3,495.5 84.7,495.8 84.2,495.8 83.6,496.2 83.1,496.7 82.5,497 82,495.4 81.4,496.3 80.9,496.3 80.3,496.3 79.8,497.1 79.2,496.1 78.7,496.3 78.1,495.7 77.6,495.8 77,496.4 76.5,495.1 75.9,495.5 75.4,495.6 74.8,495.8 74.3,495 73.7,496.3 73.2,496.5 72.6,495.1 72.1,494.6 71.5,496 71,495 70.4,494.3 69.9,494.5 69.3,494.8 68.8,495.2 68.2,495.4 67.7,493.5 67.1,494.3 66.6,493.6 66,493.3 65.5,492.8 64.9,493.5 64.4,494.3 63.8,494.1 63.3,493.3 62.7,493.1 62.2,493.9 61.6,493.5 61.1,493.3 60.5,492.2 60,493.2 59.4,491.3 58.9,491.8 58.3,491.2 57.8,491.3 57.2,492.3 56.7,491.5 56.1,490.9 55.6,491.8 55,489.1 54.5,489.2 53.9,488.2 53.4,487.1 52.8,487.7 52.3,486.7 51.8,485.4 51.2,484.5" fill="#A5A5A5"/>
<line x1="105.4" y1="496" x2="105.4" y2="399" stroke="#A5A5A5" stroke-width="1.6"/>
<polygon points="105.4,397.7 106,398.3 106.5,398.5 107,397.8 107.6,397.7 108.1,398.6 108.7,397.7 109.2,397.8 109.8,398.1 110.3,397.9 110.9,397.7 111.4,398.5 112,398 112.5,398.2 113.1,397.8 113.6,397.8 114.2,397.9 114.7,398.1 115.3,397.8 115.8,398.5 116.4,398 116.9,397.8 117.5,398 118,398.2 118.6,397.8 119.1,398.1 119.7,398.2 120.2,397.6 120.8,398.5 121.3,398.4 121.9,397.8 122.4,397.7 123,397.9 123.5,398.2 124.1,397.6 124.6,398.1 125.2,398.1 125.7,398 126.3,397.6 126.8,397.8 127.4,397.6 127.9,398.4 128.5,397.7 129,397.9 129.6,398.3 130.1,398 130.7,397.6 131.2,398.1 131.8,397.6 132.3,398.2 132.9,397.5 133.4,398.2 134,398.2 134.6,398.4 135.1,398 135.7,398 136.2,398.4 136.8,397.5 137.3,397.5 137.9,398.2 138.4,398.4 139,398 139.5,397.6 140.1,397.6 140.6,397.8 141.2,398.3 141.7,397.6 142.3,397.9 142.8,397.6 143.4,397.6 143.9,398.2 144.5,397.5 145,398.3 145.6,398 146.1,397.5 146.7,397.6 147.2,397.9 147.8,397.9 148.3,398 148.9,398.1 149.4,397.6 150,397.6 150.5,397.5 151.1,397.7 151.6,397.9 152.2,397.7 152.7,397.4 153.3,398.1 153.8,397.9 154.4,397.4 154.9,397.5 155.5,397.7 156,397.9 156.6,397.8 157.1,397.7 157.7,398.2 158.2,397.3 158.8,397.8 159.3,397.4 159.9,398.1 160.4,397.3 161,397.8 161.5,397.5 162.1,397.8 162.6,397.3 163.2,398 163.7,397.6 164.3,398 164.8,398 165.4,397.6 165.9,398 166.5,397.8 167,397.9 167.6,397.6 168.1,397.5 168.7,397.4 169.2,398.1 169.8,397.7 170.3,398.1 170.9,397.5 171.4,398 172,397.6 172.5,397.6 173.1,397.3 173.6,397.9 174.2,397.2 174.7,397.5 175.3,398.1 175.8,397.3 176.4,398 176.9,397.7 177.5,397.4 178,397.3 178.6,397.8 179.1,397.4 179.7,398.1 180.2,397.9 180.8,397.6 181.3,397.5 181.9,397.8 182.4,397.2 183,398.1 183.5,397.5 184.1,397.3 184.6,398 185.2,397.4 185.7,397.8 186.3,397.5 186.8,397.8 187.4,397.5 187.9,398 188.5,397.4 189,397.2 189.6,398.1 190.1,397.2 190.7,397.5 191.2,397.2 191.8,398 192.3,397.4 192.9,397.6 193.4,397.3 194,397.6 194.5,397.6 195.1,397.5 195.6,397.3 196.2,397.6 196.7,397.3 197.3,397.9 197.8,398 198.4,397.6 198.9,397.5 199.5,397.3 200,397.9 200.6,397.7 201.1,397.9 201.7,397.7 202.2,397.5 202.8,397.2 203.3,397.2 203.9,397.5 204.4,398 205,397.6 205.5,397.4 206.1,397 206.6,397.3 207.2,397.5 207.7,397.8 208.3,397.2 208.8,397.7 209.4,397.2 209.9,398 210.5,397.8 211,397.4 211.6,397.1 212.1,397.4 212.7,397 212.7,397.6 212.7,399.6 212.7,400.1 212.1,399.7 211.6,400 211,399.6 210.5,400 209.9,400.2 209.4,399.6 208.8,399.9 208.3,400.4 207.7,400.1 207.2,400.2 206.6,400.5 206.1,400.2 205.5,400.5 205,400.5 204.4,400 203.9,400.5 203.3,399.8 202.8,400.1 202.2,400.3 201.7,399.9 201.1,400 200.6,400.1 200,400 199.5,400.2 198.9,400.5 198.4,400.4 197.8,400.4 197.3,400.2 196.7,400.3 196.2,400.5 195.6,400 195.1,399.8 194.5,400.2 194,400 193.4,400.6 192.9,399.8 192.3,399.8 191.8,400.4 191.2,400.1 190.7,399.9 190.1,400.3 189.6,399.7 189,400.3 188.5,400.3 187.9,400 187.4,399.9 186.8,399.8 186.3,400.2 185.7,400.2 185.2,400.6 184.6,399.8 184.1,400 183.5,400.6 183,400.4 182.4,400.6 181.9,400.7 181.3,400.1 180.8,400.2 180.2,400.6 179.7,399.8 179.1,400.2 178.6,400.5 178,400.5 177.5,400.5 176.9,400.8 176.4,400 175.8,400.3 175.3,399.9 174.7,400 174.2,400 173.6,400.3 173.1,400.4 172.5,399.9 172,400.8 171.4,400.1 170.9,400 170.3,400.3 169.8,400.1 169.2,400.5 168.7,400.8 168.1,400.2 167.6,400.5 167,400.8 166.5,400 165.9,400 165.4,400.4 164.8,400.2 164.3,400.1 163.7,400.4 163.2,400.2 162.6,400.3 162.1,400.2 161.5,400.2 161,400.7 160.4,400.5 159.9,400.5 159.3,400.2 158.8,400.6 158.2,400.5 157.7,400.9 157.1,400.9 156.6,400.1 156,400.1 155.5,400.1 154.9,400.1 154.4,400.4 153.8,400.1 153.3,400.4 152.7,401 152.2,400.5 151.6,400.1 151.1,401.1 150.5,400.9 150,401 149.4,400.9 148.9,400.7 148.3,400.8 147.8,401 147.2,400.9 146.7,400.7 146.1,400.3 145.6,401 145,401.1 144.5,400.5 143.9,400.3 143.4,400.9 142.8,400.7 142.3,401.2 141.7,400.6 141.2,400.6 140.6,400.6 140.1,400.8 139.5,400.9 139,401 138.4,400.3 137.9,400.5 137.3,401.3 136.8,401.3 136.2,400.3 135.7,400.7 135.1,400.7 134.6,400.6 134,400.9 133.4,400.8 132.9,401.2 132.3,401.3 131.8,400.4 131.2,400.7 130.7,401.2 130.1,400.9 129.6,400.8 129,401.3 128.5,401.1 127.9,401.1 127.4,400.8 126.8,401.3 126.3,400.5 125.7,401.2 125.2,401.2 124.6,400.7 124.1,401.2 123.5,401.1 123,400.7 122.4,401.1 121.9,401.5 121.3,401.1 120.8,401 120.2,400.9 119.7,400.8 119.1,401.4 118.6,400.8 118,400.6 117.5,401 116.9,401.2 116.4,401.3 115.8,400.7 115.3,401.3 114.7,401.2 114.2,401.5 113.6,400.7 113.1,401.4 112.5,401.1 112,401.5 111.4,401.4 110.9,400.7 110.3,401.1 109.8,401.4 109.2,400.9 108.7,401 108.1,401.1 107.6,401.2 107,401.2 106.5,401.5 106,401.1 105.4,401.7" fill="#A5A5A5"/>
<line x1="107" y1="399" x2="107" y2="417.3" stroke="#A5A5A5" stroke-width="1.5"/>
<line x1="108.3" y1="399" x2="108.3" y2="414" stroke="#A5A5A5" stroke-width="1.5"/>
<line x1="114" y1="399" x2="114" y2="416.3" stroke="#A5A5A5" stroke-width="1.5"/>
<line x1="119.5" y1="399" x2="119.5" y2="407.8" stroke="#A5A5A5" stroke-width="1.5"/>
<line x1="125.6" y1="399" x2="125.6" y2="418.2" stroke="#A5A5A5" stroke-width="1.5"/>
<line x1="127.2" y1="399" x2="127.2" y2="412" stroke="#A5A5A5" stroke-width="1.5"/>
<line x1="132" y1="399" x2="132" y2="411.6" stroke="#A5A5A5" stroke-width="1.5"/>
<line x1="141.5" y1="399" x2="141.5" y2="404.9" stroke="#A5A5A5" stroke-width="1.5"/>
<line x1="150" y1="399" x2="150" y2="409.7" stroke="#A5A5A5" stroke-width="1.5"/>
<line x1="162.4" y1="399" x2="162.4" y2="409.7" stroke="#A5A5A5" stroke-width="1.5"/>
<line x1="193.7" y1="399" x2="193.7" y2="404" stroke="#A5A5A5" stroke-width="1.5"/>
<line x1="110.5" y1="399" x2="110.5" y2="406" stroke="#A5A5A5" stroke-width="1.5"/>
<polygon points="51.5,395.9 52,396.8 52.6,397.6 53.1,397.2 53.7,397.6 54.2,398.4 54.8,399.8 55.3,400.9 55.9,402.4 56.4,403.5 57,404.8 57.5,404.1 58.1,405.1 58.6,405.7 59.2,407 59.7,407.3 60.3,405.5 60.8,406.1 61.4,408.6 61.9,407.3 62.5,407.9 63,407 63.6,409.6 64.1,408 64.7,409 65.2,410.9 65.8,408.7 66.3,410 66.9,409.8 67.4,411.1 68,409.7 68.5,411.1 69.1,409.5 69.6,410.1 70.2,409.4 70.7,409.3 71.3,410.1 71.8,410.3 72.4,410.9 72.9,409.3 73.5,409.9 74,410.3 74.6,409.7 75.1,409.6 75.7,412.3 76.2,410.6 76.8,410.8 77.3,410.3 77.9,411 78.4,411.7 79,412.4 79.5,410.4 80.1,412.2 80.6,410.6 81.2,410.3 81.7,412 82.3,412 82.8,412.7 83.4,410.3 83.9,412 84.5,411.3 85,411.9 85.6,412 86.1,412.6 86.7,411.8 87.2,413 87.8,413.2 88.3,410.8 88.9,412.5 89.4,412 90,413.1 90.5,413.3 91.1,413 91.6,412.3 92.2,411.1 92.7,413.4 93.3,412 93.8,412.6 94.4,412.6 94.9,411.7 95.5,414.1 96,414.1 96.6,414.9 97.1,413.9 97.7,415.7 98.2,416.1 98.8,414.2 99.3,414.4 99.9,416.5 100.4,414 101,414.5 101.5,414.3 102.1,415.6 102.6,416.4 103.2,416.1 103.7,416.8 104.3,417 104.8,417.1 104.8,428.3 104.3,430 103.7,428.1 103.2,428.6 102.6,429.9 102.1,427.6 101.5,428 101,427.2 100.4,428.1 99.9,428.3 99.3,429 98.8,428.8 98.2,428.5 97.7,426.6 97.1,427.4 96.6,426.4 96,428 95.5,426.6 94.9,425.6 94.4,427.5 93.8,426.1 93.3,425.7 92.7,426.9 92.2,426.5 91.6,425.9 91.1,425.7 90.5,425.5 90,426.2 89.4,424.3 88.9,425.3 88.3,424.4 87.8,425.8 87.2,424.3 86.7,424.9 86.1,424.4 85.6,424.2 85,424.3 84.5,425.9 83.9,423.6 83.4,423.4 82.8,424.9 82.3,426.2 81.7,425.6 81.2,423.5 80.6,423.3 80.1,425.3 79.5,422.6 79,423.4 78.4,423.9 77.9,424.3 77.3,421.5 76.8,423.6 76.2,420.8 75.7,420.8 75.1,420.7 74.6,420.2 74,419.8 73.5,420.1 72.9,421.4 72.4,421 71.8,419.3 71.3,419.4 70.7,420.4 70.2,421.1 69.6,419.1 69.1,421.3 68.5,419.2 68,419.3 67.4,420.3 66.9,421.7 66.3,420.3 65.8,419.9 65.2,420.4 64.7,419.9 64.1,419.3 63.6,416.3 63,417 62.5,416.3 61.9,415.1 61.4,415.3 60.8,416.6 60.3,414.9 59.7,413.7 59.2,416 58.6,414.6 58.1,413.4 57.5,412.8 57,410 56.4,409.6 55.9,408.4 55.3,406.8 54.8,405.2 54.2,403.4 53.7,399.8 53.1,399.2 52.6,399.2 52,398.8 51.5,400" fill="#ED7D31"/>
<line x1="105.3" y1="425" x2="105.3" y2="505" stroke="#ED7D31" stroke-width="1.8"/>
<polygon points="105.8,496.6 106.3,493 106.9,488.8 107.4,486 108,486.3 108.5,486.2 109.1,486.9 109.6,486.8 110.2,486.5 110.7,485.9 111.3,486 111.8,486.3 112.4,486.7 112.9,486.4 113.5,486.5 114,486.3 114.6,486.4 115.1,486.4 115.7,486.9 116.2,485.8 116.8,486.4 117.3,486.9 117.9,486.6 118.4,486.6 119,486.1 119.5,486.6 120.1,486 120.6,486.3 121.2,485.9 121.7,485.5 122.3,485.5 122.8,485.6 123.4,485.5 123.9,485.7 124.5,485.7 125,485.1 125.6,486.1 126.1,485.6 126.7,486 127.2,485.1 127.8,485.7 128.3,485.3 128.9,485.6 129.4,485 130,485.1 130.5,485.4 131.1,485.1 131.6,484.4 132.2,484.5 132.7,484.6 133.3,484.1 133.8,484.7 134.4,484.4 135,484.6 135.5,484.1 136.1,483.7 136.6,484.3 137.2,483.3 137.7,483.9 138.3,483 138.8,483.7 139.4,482.6 139.9,482.9 140.5,482.5 141,482.5 141.6,482.6 142.1,483.1 142.7,483 143.2,482.5 143.8,483.1 144.3,482.4 144.9,483 145.4,482.2 146,483.2 146.5,482.9 147.1,482.4 147.6,482.4 148.2,483 148.7,483.1 149.3,482.3 149.8,483.1 150.4,482.6 150.9,482.8 151.5,482.6 152,483.2 152.6,482.7 153.1,483 153.7,482.4 154.2,483.1 154.8,483.1 155.3,482.2 155.9,482 156.4,482.5 157,482.5 157.5,482.9 158.1,482.3 158.6,482.9 159.2,482 159.7,482.5 160.3,483 160.8,482.3 161.4,482.9 161.9,481.9 162.5,482.6 163,482.5 163.6,482.1 164.1,482.3 164.7,482.6 165.2,482.5 165.8,482.2 166.3,481.7 166.9,481.8 167.4,481.8 168,481.4 168.5,481.5 169.1,481.4 169.6,481.1 170.2,482.2 170.7,481.8 171.3,481.4 171.8,481.4 172.4,481.8 172.9,481.5 173.5,480.8 174,481.4 174.6,480.6 175.1,481.1 175.7,480.6 176.2,480.8 176.8,480.6 177.3,481 177.9,480.7 178.4,480.6 179,480.9 179.5,480.6 180.1,481.6 180.6,480.8 181.2,480.7 181.7,480.5 182.3,481.1 182.8,481 183.4,480.5 183.9,480.7 184.5,481 185,480.7 185.6,480.9 186.1,480.5 186.7,480.9 187.2,480.4 187.8,480.5 188.3,481.3 188.9,480.3 189.4,480.5 190,480.9 190.5,480.3 191.1,480.5 191.6,480.9 192.2,480.8 192.7,481 193.3,480.3 193.8,480.4 194.4,480.8 194.9,481.3 195.5,481.1 196,481.3 196.6,480.4 197.1,480.5 197.7,480.5 198.2,481.3 198.8,481.1 199.3,481 199.9,480.5 200.4,480.7 201,480.4 201.5,480.6 202.1,481.1 202.6,480.3 203.2,480.2 203.7,480.7 204.3,480.7 204.8,480.4 205.4,480.7 205.9,480.5 206.5,480.9 207,481 207.6,480.5 208.1,480.6 208.7,480 209.2,480.2 209.8,480.8 210.3,480.3 210.9,479.9 211.4,480.4 212,479.9 212.5,479.9 212.7,479.9 212.7,483.7 212.5,483.8 212,484 211.4,483.8 210.9,484.1 210.3,483.9 209.8,483.1 209.2,484 208.7,483.5 208.1,484.3 207.6,483.7 207,483.9 206.5,484 205.9,483.7 205.4,484 204.8,483.4 204.3,483.8 203.7,484.3 203.2,483.7 202.6,484.3 202.1,484 201.5,484.2 201,483.5 200.4,484.3 199.9,484.4 199.3,484.6 198.8,484.2 198.2,484.6 197.7,483.8 197.1,484.2 196.6,484.5 196,484.1 195.5,484.1 194.9,483.6 194.4,484 193.8,484.5 193.3,483.7 192.7,484 192.2,483.7 191.6,484.1 191.1,484.2 190.5,484.2 190,483.8 189.4,484.5 188.9,484.3 188.3,484.2 187.8,483.9 187.2,484.2 186.7,484.2 186.1,484.3 185.6,484.5 185,485.1 184.5,484.3 183.9,484.1 183.4,485.1 182.8,484 182.3,484.3 181.7,484.3 181.2,484.8 180.6,485 180.1,484.2 179.5,484.6 179,484.1 178.4,484.3 177.9,484.8 177.3,485 176.8,484.4 176.2,484.9 175.7,485.3 175.1,485 174.6,485.3 174,484.5 173.5,484.5 172.9,485.5 172.4,484.4 171.8,485.4 171.3,484.9 170.7,485.2 170.2,484.8 169.6,485.4 169.1,484.8 168.5,485.7 168,484.9 167.4,485.5 166.9,485.4 166.3,485.4 165.8,485.2 165.2,486 164.7,485.4 164.1,485.3 163.6,485.4 163,485.9 162.5,486 161.9,486.2 161.4,486.2 160.8,485.5 160.3,485.4 159.7,486.5 159.2,485.9 158.6,486.1 158.1,485.6 157.5,486.1 157,485.7 156.4,485.9 155.9,486.1 155.3,485.6 154.8,485.6 154.2,485.9 153.7,486.5 153.1,486.5 152.6,486.5 152,485.4 151.5,486.1 150.9,485.7 150.4,486.5 149.8,485.9 149.3,486.2 148.7,486 148.2,485.9 147.6,486.2 147.1,486.2 146.5,486.4 146,485.8 145.4,485.7 144.9,486.4 144.3,485.5 143.8,486 143.2,486.4 142.7,486.5 142.1,485.8 141.6,485.9 141,486.3 140.5,485.4 139.9,486.6 139.4,486.1 138.8,486.5 138.3,486 137.7,486.1 137.2,486.9 136.6,486.9 136.1,487.6 135.5,486.8 135,486.7 134.4,487.5 133.8,487.6 133.3,487.3 132.7,487.7 132.2,488.2 131.6,487.7 131.1,487.5 130.5,488.4 130,488.6 129.4,488.6 128.9,488.2 128.3,488.3 127.8,489.1 127.2,488.4 126.7,488.6 126.1,488.8 125.6,488.5 125,488.4 124.5,489.2 123.9,489 123.4,488.9 122.8,488.4 122.3,488.9 121.7,489.4 121.2,488.6 120.6,489 120.1,489.4 119.5,489 119,489.8 118.4,489.2 117.9,489 117.3,489.2 116.8,489 116.2,489 115.7,489.8 115.1,488.9 114.6,489.2 114,490 113.5,489.2 112.9,489.6 112.4,488.9 111.8,489.2 111.3,489.4 110.7,489.5 110.2,489.4 109.6,489.4 109.1,489.1 108.5,489.7 108,489.6 107.4,489.2 106.9,492.6 106.3,498.2 105.8,503.2" fill="#ED7D31"/>
<line x1="118" y1="486" x2="118" y2="490" stroke="#ED7D31" stroke-width="1.5"/>
<line x1="131.5" y1="486" x2="131.5" y2="492.5" stroke="#ED7D31" stroke-width="1.5"/>
<line x1="161.3" y1="485" x2="161.3" y2="491.5" stroke="#ED7D31" stroke-width="1.5"/>
<line x1="125" y1="486" x2="125" y2="489.5" stroke="#ED7D31" stroke-width="1.5"/>
<line x1="137" y1="485" x2="137" y2="489" stroke="#ED7D31" stroke-width="1.5"/>
<polyline points="51.3,397 54.5,397.1 58.9,397.3 64.1,397.4 69.6,397.6 75.1,397.8 80,398 84.7,398.2 89.5,398.4 94.2,398.6 98.6,398.8 102.4,399 105.4,399.2 107.4,399.4 108.5,399.6 109,399.8 109.3,400 109.5,400.2 110,400.5 110.7,400.8 111.3,400.9 111.9,401.2 112.6,401.5 113.2,402.1 114,403 114.9,404.3 115.8,405.9 116.7,407.7 117.7,409.6 118.7,411.6 119.7,413.5 120.6,415.3 121.5,417.1 122.4,418.9 123.4,420.8 124.3,422.8 125.4,424.9 126.5,427.2 127.7,429.8 129,432.4 130.3,435.1 131.6,437.7 133,440 134.4,442.1 135.7,444.1 137.2,445.9 138.7,447.7 140.4,449.5 142.4,451.4 144.7,453.3 147.3,455.3 150.1,457.3 153,459.2 155.8,461.1 158.6,462.8 161.3,464.5 164,466.1 166.7,467.6 169.4,469 172.1,470.3 174.7,471.4 177.2,472.3 179.6,473 181.9,473.6 184.3,474.1 186.9,474.6 189.9,475.1 193.5,475.7 197.8,476.2 202.2,476.8 206.5,477.3 210.1,477.7 212.7,478" fill="none" stroke="#FFC000" stroke-width="2.5" stroke-linejoin="round"/>
<polyline points="51.3,482.8 105.4,485.4 105.9,483.2 106.6,480.1 107.4,476.5 108.4,472.5 109.3,468.5 110.2,464.7 111.1,460.9 112,456.9 113,452.8 114,448.9 114.9,445.2 115.9,441.9 116.8,439.1 117.7,436.7 118.6,434.6 119.6,432.6 120.5,430.7 121.6,428.7 122.7,426.7 123.9,424.7 125,422.8 126.3,420.9 127.7,419.1 129.2,417.3 130.8,415.6 132.4,413.9 134.2,412.3 136.1,410.7 138.2,409.2 140.5,407.8 143.1,406.5 146,405.2 149.1,404 152.3,402.9 155.5,401.9 158.6,401.1 161.6,400.4 164.6,399.9 167.6,399.5 170.6,399.2 173.6,398.9 176.6,398.7 179.5,398.5 182.4,398.4 185.3,398.3 188.1,398.3 191,398.3 194,398.3 197.3,398.3 200.8,398.3 204.4,398.3 207.8,398.3 210.7,398.3 212.7,398.3" fill="none" stroke="#5B9BD5" stroke-width="2.5" stroke-linejoin="round"/>
<text x="53.7" y="573.1" font-size="16">Target:</text>
<text x="137.7" y="573.1" font-size="16">T cell</text>
<line x1="158.5" y1="580" x2="158.5" y2="708.2" stroke="#404040" stroke-width="1"/>
<line x1="104.7" y1="582" x2="104.7" y2="712.7" stroke="#707070" stroke-width="1.2"/>
<line x1="102.2" y1="708.2" x2="212.6" y2="708.2" stroke="#707070" stroke-width="1.2"/>
<line x1="102.7" y1="695.7" x2="104.7" y2="695.7" stroke="#707070" stroke-width="1"/>
<line x1="101.7" y1="683.3" x2="104.7" y2="683.3" stroke="#707070" stroke-width="1"/>
<line x1="102.7" y1="670.8" x2="104.7" y2="670.8" stroke="#707070" stroke-width="1"/>
<line x1="101.7" y1="658.3" x2="104.7" y2="658.3" stroke="#707070" stroke-width="1"/>
<line x1="102.7" y1="645.9" x2="104.7" y2="645.9" stroke="#707070" stroke-width="1"/>
<line x1="101.7" y1="633.4" x2="104.7" y2="633.4" stroke="#707070" stroke-width="1"/>
<line x1="102.7" y1="620.9" x2="104.7" y2="620.9" stroke="#707070" stroke-width="1"/>
<line x1="101.7" y1="608.4" x2="104.7" y2="608.4" stroke="#707070" stroke-width="1"/>
<line x1="102.7" y1="596" x2="104.7" y2="596" stroke="#707070" stroke-width="1"/>
<line x1="101.7" y1="583.5" x2="104.7" y2="583.5" stroke="#707070" stroke-width="1"/>
<line x1="115.5" y1="708.2" x2="115.5" y2="710.5" stroke="#707070" stroke-width="1"/>
<line x1="126.3" y1="708.2" x2="126.3" y2="710.5" stroke="#707070" stroke-width="1"/>
<line x1="137.1" y1="708.2" x2="137.1" y2="710.5" stroke="#707070" stroke-width="1"/>
<line x1="147.9" y1="708.2" x2="147.9" y2="710.5" stroke="#707070" stroke-width="1"/>
<line x1="158.7" y1="708.2" x2="158.7" y2="712.7" stroke="#707070" stroke-width="1"/>
<line x1="169.4" y1="708.2" x2="169.4" y2="710.5" stroke="#707070" stroke-width="1"/>
<line x1="180.2" y1="708.2" x2="180.2" y2="710.5" stroke="#707070" stroke-width="1"/>
<line x1="191" y1="708.2" x2="191" y2="710.5" stroke="#707070" stroke-width="1"/>
<line x1="201.8" y1="708.2" x2="201.8" y2="710.5" stroke="#707070" stroke-width="1"/>
<line x1="212.6" y1="708.2" x2="212.6" y2="712.7" stroke="#707070" stroke-width="1"/>
<text x="99.8" y="589.2" font-size="16" text-anchor="end">1.0</text>
<text x="99.8" y="614.2" font-size="16" text-anchor="end">0.8</text>
<text x="99.8" y="639.2" font-size="16" text-anchor="end">0.6</text>
<text x="99.8" y="664.2" font-size="16" text-anchor="end">0.4</text>
<text x="99.8" y="689.2" font-size="16" text-anchor="end">0.2</text>
<text x="99.8" y="714.2" font-size="16" text-anchor="end">0</text>
<text x="110.8" y="722.8" font-size="16" text-anchor="middle">0.5</text>
<text x="158.6" y="722.8" font-size="16" text-anchor="middle">1</text>
<text x="208.7" y="722.8" font-size="16" text-anchor="middle">1.5</text>
<text x="89.3" y="737.6" font-size="16">Repetitions (x10<tspan font-size="10.5" dy="-7">6</tspan><tspan dy="7">)</tspan></text>
<text transform="translate(70.4,640) rotate(-90)" font-size="16" text-anchor="middle">Correlation</text>
<polygon points="104.6,597.3 105.1,596.3 105.7,594.9 106.2,594.4 106.8,593.6 107.3,594.2 107.9,594.7 108.4,595.6 109,595.5 109.5,596.7 110.1,595.8 110.6,594.8 111.2,594 111.7,594.8 112.3,593.6 112.8,592.7 113.4,593.3 113.9,592.7 114.5,591.9 115,591.9 115.6,591.4 116.1,590.6 116.7,590.6 117.2,590.5 117.8,588.6 118.3,588.6 118.9,588.5 119.4,588.9 120,587.9 120.5,588 121.1,589.2 121.6,588.3 122.2,587.8 122.7,588.7 123.3,588.3 123.8,588.3 124.4,587.6 124.9,587.8 125.5,588.1 126,588.4 126.6,588.5 127.1,588.4 127.7,587.9 128.2,587.4 128.8,587.7 129.3,588.2 129.9,587.4 130.4,587 131,587.6 131.5,587 132.1,587.4 132.6,588.3 133.2,588.4 133.8,586.8 134.3,587.8 134.9,587.6 135.4,587.3 136,586.7 136.5,587.4 137.1,586.9 137.6,587.8 138.2,587.5 138.7,587.4 139.3,587.3 139.8,586.7 140.4,587 140.9,587 141.5,586.9 142,586.5 142.6,587.2 143.1,586.8 143.7,587.5 144.2,587.2 144.8,587.6 145.3,586.3 145.9,587 146.4,587 147,586.6 147.5,587.3 148.1,586.1 148.6,587.2 149.2,587.4 149.7,585.7 150.3,585.6 150.8,586.3 151.4,586 151.9,585.5 152.5,586.8 153,585.8 153.6,585.3 154.1,585 154.7,585.8 155.2,585 155.8,585.3 156.3,585.8 156.9,585.7 157.4,586.2 158,584.7 158.5,585.5 159.1,585.1 159.6,587.1 160.2,586.3 160.7,586.6 161.3,588.1 161.8,588.5 162.4,589.3 162.9,588.2 163.5,589.8 164,590.5 164.6,590 165.1,591.7 165.7,591.4 166.2,591.8 166.8,591.4 167.3,592.8 167.9,592.4 168.4,591.4 169,592 169.5,592.3 170.1,593.2 170.6,592.2 171.2,593.8 171.7,592.5 172.3,592.8 172.8,594.2 173.4,593.2 173.9,594.4 174.5,594.6 175,595 175.6,595.1 176.1,593.9 176.7,594.3 177.2,595.2 177.8,594.9 178.3,594.6 178.9,595.9 179.4,596.2 180,595.1 180.5,596.1 181.1,595.5 181.6,595.3 182.2,596.7 182.7,596.1 183.3,596.9 183.8,597.5 184.4,596.8 184.9,597.4 185.5,596.9 186,598.2 186.6,597.8 187.1,597.7 187.7,598.1 188.2,598.5 188.8,598.6 189.3,597.3 189.9,597.7 190.4,598.1 191,598.3 191.5,597.6 192.1,598.6 192.6,598.2 193.2,598.5 193.7,599.5 194.3,599 194.8,598.5 195.4,598.5 195.9,598.8 196.5,599 197,598.7 197.6,599 198.1,599.1 198.7,600.3 199.2,600.9 199.8,599.4 200.3,599.5 200.9,600.2 201.4,600.5 202,600.3 202.5,602 203.1,602.1 203.6,600.9 204.2,602.2 204.7,601.7 205.3,602.3 205.8,602.4 206.4,602.5 206.9,603.2 207.5,603.3 208,603.5 208.6,602.8 209.1,604.2 209.7,604.8 210.2,604.2 210.8,604.9 211.3,605.3 211.9,605.4 212.4,605.7 212.5,606.1 212.5,616.6 212.4,616.1 211.9,615.7 211.3,616 210.8,615.8 210.2,615.2 209.7,615 209.1,616.2 208.6,616 208,614.1 207.5,615.7 206.9,613.9 206.4,614.7 205.8,614.8 205.3,614 204.7,613.7 204.2,614.8 203.6,613.1 203.1,614.2 202.5,613.5 202,614.2 201.4,613.2 200.9,612.7 200.3,612.5 199.8,613.7 199.2,613.5 198.7,612.5 198.1,612.5 197.6,613 197,612.3 196.5,611.4 195.9,611.9 195.4,611.2 194.8,611.1 194.3,612.3 193.7,611.8 193.2,611.9 192.6,610.8 192.1,611.8 191.5,611 191,610.2 190.4,611.4 189.9,609.9 189.3,610.3 188.8,609.8 188.2,611.1 187.7,609.6 187.1,609.6 186.6,609.9 186,609.6 185.5,610 184.9,608.4 184.4,608.6 183.8,608.2 183.3,608.5 182.7,606.9 182.2,607.2 181.6,606.8 181.1,605.1 180.5,606.1 180,605.8 179.4,604.8 178.9,604.5 178.3,605 177.8,604.6 177.2,602.8 176.7,603.9 176.1,603 175.6,602.2 175,601.7 174.5,601.6 173.9,602.4 173.4,600.9 172.8,600 172.3,601.3 171.7,601 171.2,599.5 170.6,598.9 170.1,599.5 169.5,600.2 169,600 168.4,599.4 167.9,598.4 167.3,599.2 166.8,599.8 166.2,598.9 165.7,599.9 165.1,599.6 164.6,598 164,599.7 163.5,598.6 162.9,597.8 162.4,598.2 161.8,596.5 161.3,596.5 160.7,595.1 160.2,592.1 159.6,591.3 159.1,589.2 158.5,588.8 158,588.6 157.4,588.6 156.9,589.1 156.3,588.4 155.8,588.5 155.2,588.7 154.7,588.5 154.1,588.7 153.6,589.5 153,589.6 152.5,588.9 151.9,589 151.4,589.9 150.8,589.8 150.3,589.2 149.7,589.5 149.2,589.4 148.6,590.2 148.1,589.7 147.5,590.4 147,589.9 146.4,590.4 145.9,590.3 145.3,590.6 144.8,589.6 144.2,590.7 143.7,590.6 143.1,591.3 142.6,590.4 142,589.8 141.5,591.5 140.9,590.7 140.4,591.3 139.8,591.1 139.3,590.9 138.7,591 138.2,590.1 137.6,590.4 137.1,591.8 136.5,592 136,591.8 135.4,591.5 134.9,591.8 134.3,591.9 133.8,591.4 133.2,590.9 132.6,591.9 132.1,592.1 131.5,591.8 131,592.3 130.4,592.5 129.9,592.6 129.3,591.7 128.8,592 128.2,592.1 127.7,592.5 127.1,592.4 126.6,591.4 126,592.8 125.5,592.1 124.9,592.1 124.4,592.9 123.8,593.3 123.3,592 122.7,592.4 122.2,591.8 121.6,592.7 121.1,593.4 120.5,593.1 120,592.6 119.4,593.3 118.9,593.2 118.3,593.2 117.8,593.3 117.2,594.8 116.7,595.8 116.1,595.6 115.6,595.7 115,595.7 114.5,595.8 113.9,596.7 113.4,598.7 112.8,598.5 112.3,600.2 111.7,599.9 111.2,602.3 110.6,602.7 110.1,604 109.5,603.7 109,607.4 108.4,609.4 107.9,612 107.3,614.7 106.8,617.2 106.2,619.1 105.7,622.3 105.1,625.7 104.6,629.4" fill="#A5A5A5"/>
<line x1="110.8" y1="600" x2="110.8" y2="609.7" stroke="#A5A5A5" stroke-width="1.5"/>
<line x1="118.3" y1="592" x2="118.3" y2="613.4" stroke="#A5A5A5" stroke-width="1.5"/>
<line x1="116" y1="592" x2="116" y2="606" stroke="#A5A5A5" stroke-width="1.5"/>
<line x1="121" y1="590" x2="121" y2="600" stroke="#A5A5A5" stroke-width="1.5"/>
<line x1="162.9" y1="592" x2="162.9" y2="604.8" stroke="#A5A5A5" stroke-width="1.5"/>
<line x1="175.8" y1="596" x2="175.8" y2="604.3" stroke="#A5A5A5" stroke-width="1.5"/>
<line x1="204.8" y1="610" x2="204.8" y2="616.7" stroke="#A5A5A5" stroke-width="1.5"/>
<line x1="104.9" y1="604.7" x2="104.9" y2="627" stroke="#ED7D31" stroke-width="1.6"/>
<polygon points="105.2,650.9 105.8,651.9 106.3,651.6 106.8,653.5 107.4,653.9 107.9,653 108.5,653.1 109,652.6 109.6,653.3 110.1,652.5 110.7,653.2 111.2,653.4 111.8,651.7 112.3,653 112.9,653.1 113.4,652.7 114,653.5 114.5,653.2 115.1,653.9 115.6,654.4 116.2,654.2 116.7,655.1 117.3,654.9 117.8,655.2 118.4,655 118.9,657.1 119.5,656.8 120,656.5 120.6,656.4 121.1,657.4 121.7,657.5 122.2,657.5 122.8,656.3 123.3,656.9 123.9,656.7 124.4,657.6 125,656.8 125.5,656.1 126.1,657.3 126.6,656.4 127.2,657.8 127.7,657.7 128.3,657.8 128.8,657.1 129.4,657.2 129.9,657.6 130.5,658.3 131,657 131.6,658.4 132.1,658.4 132.7,658.3 133.2,658.4 133.8,657.6 134.4,658.2 134.9,658.3 135.5,658 136,656.8 136.6,658.4 137.1,657 137.7,657.4 138.2,657.2 138.8,657.3 139.3,657.4 139.9,657.1 140.4,657.2 141,657.4 141.5,657.6 142.1,657.3 142.6,658.6 143.2,657.7 143.7,658.3 144.3,658.2 144.8,658.6 145.4,657.7 145.9,658.7 146.5,658.8 147,658.3 147.6,658.6 148.1,657.3 148.7,658.6 149.2,658.3 149.8,657.5 150.3,658 150.9,657.3 151.4,658.9 152,658.1 152.5,657.6 153.1,658.8 153.6,657.7 154.2,657.3 154.7,657.7 155.3,658.2 155.8,658.5 156.4,658.6 156.9,657.6 157.5,658.9 158,657.7 158.6,658.9 159.1,657.8 159.7,659.3 160.2,658.3 160.8,658.8 161.3,658.5 161.9,660.4 162.4,660.3 163,660.7 163.5,659.9 164.1,659.2 164.6,659.6 165.2,660.2 165.7,660.4 166.3,660.6 166.8,660.8 167.4,659.9 167.9,660.9 168.5,661.9 169,660.4 169.6,661.2 170.1,662.4 170.7,661.7 171.2,661.6 171.8,662.3 172.3,661.4 172.9,662.5 173.4,661.1 174,661.3 174.5,661.4 175.1,661.3 175.6,661.2 176.2,662.5 176.7,661.4 177.3,662.3 177.8,662.1 178.4,662.1 178.9,661.9 179.5,662 180,662 180.6,663.1 181.1,662.2 181.7,662.8 182.2,663.5 182.8,664.1 183.3,663.1 183.9,663.6 184.4,663.2 185,664.7 185.5,663.4 186.1,664.5 186.6,664.7 187.2,663.6 187.7,665.5 188.3,664.3 188.8,666 189.4,665.4 189.9,665.1 190.5,666 191,665.9 191.6,665.6 192.1,666.2 192.7,665.6 193.2,665.6 193.8,666.9 194.3,666.1 194.9,665.2 195.4,666.1 196,665.8 196.5,665.6 197.1,665.6 197.6,665.5 198.2,666.1 198.7,666.7 199.3,665.8 199.8,665.9 200.4,666.5 200.9,666 201.5,665.9 202,666 202.6,666.7 203.1,666.6 203.7,667 204.2,667.1 204.8,666.3 205.3,667.3 205.9,666.2 206.4,667.4 207,667 207.5,667.8 208.1,666.1 208.6,666.5 209.2,666.4 209.7,667.2 210.3,666.9 210.8,666.9 211.4,666.2 211.9,666.9 212.5,665.9 212.5,667.1 212.5,677.5 212.5,676.4 211.9,676.4 211.4,677.9 210.8,675.8 210.3,677.6 209.7,675.8 209.2,677.1 208.6,676.7 208.1,676.1 207.5,675.4 207,675.2 206.4,676 205.9,676.1 205.3,675.4 204.8,675.3 204.2,676.2 203.7,675.9 203.1,675.9 202.6,675.6 202,676 201.5,675.3 200.9,674.6 200.4,674.7 199.8,675.1 199.3,673.9 198.7,675.2 198.2,673.4 197.6,674.3 197.1,672.9 196.5,674.3 196,673.4 195.4,674 194.9,672.2 194.3,672.3 193.8,673.2 193.2,671.6 192.7,672 192.1,672 191.6,671.5 191,671.5 190.5,672.6 189.9,671.6 189.4,670.8 188.8,671.1 188.3,671.4 187.7,671.7 187.2,671.2 186.6,670.2 186.1,671.1 185.5,670.1 185,669.7 184.4,671.6 183.9,670.7 183.3,671 182.8,669.5 182.2,670.7 181.7,670.2 181.1,669.6 180.6,668.9 180,669.2 179.5,670.3 178.9,668.2 178.4,668.2 177.8,669.1 177.3,667.6 176.7,668.5 176.2,667.6 175.6,667 175.1,667 174.5,666.5 174,666.5 173.4,667.3 172.9,667.2 172.3,666 171.8,665.4 171.2,666.9 170.7,665.6 170.1,666 169.6,665.2 169,666.3 168.5,665.4 167.9,666.3 167.4,664.9 166.8,665.1 166.3,665.9 165.7,666.7 165.2,665.3 164.6,665.3 164.1,665.1 163.5,666.4 163,666 162.4,665.7 161.9,665.4 161.3,666.5 160.8,665.9 160.2,666.1 159.7,663.9 159.1,664.7 158.6,664 158,662.4 157.5,662.9 156.9,663.6 156.4,663.9 155.8,662.6 155.3,663.5 154.7,663.1 154.2,663.2 153.6,663.1 153.1,662.1 152.5,663.1 152,663.3 151.4,663.7 150.9,663 150.3,662.4 149.8,663.8 149.2,662 148.7,663.9 148.1,663.4 147.6,663.8 147,662.1 146.5,664 145.9,662.4 145.4,663.7 144.8,663.9 144.3,663.5 143.7,663.2 143.2,662.4 142.6,663.7 142.1,663.8 141.5,664 141,662.9 140.4,664.1 139.9,664.2 139.3,663.2 138.8,664 138.2,664.2 137.7,663.5 137.1,662.4 136.6,663.8 136,663.2 135.5,663.3 134.9,664.3 134.4,664 133.8,662.6 133.2,664 132.7,663.8 132.1,663.3 131.6,663.2 131,662.7 130.5,663.8 129.9,663.5 129.4,663.6 128.8,663 128.3,663.1 127.7,663 127.2,662.4 126.6,663.5 126.1,663.6 125.5,663.4 125,663.6 124.4,663.7 123.9,662.7 123.3,662.8 122.8,662.4 122.2,662.5 121.7,662.8 121.1,663 120.6,664 120,663.4 119.5,663.4 118.9,664 118.4,662.9 117.8,662.8 117.3,663.6 116.7,663.5 116.2,662.9 115.6,665 115.1,665.1 114.5,664 114,665.2 113.4,665.6 112.9,663.9 112.3,664 111.8,665.9 111.2,665.8 110.7,665.8 110.1,665.9 109.6,666.1 109,666 108.5,667.2 107.9,666.3 107.4,667.5 106.8,667.7 106.3,668.4 105.8,667.7 105.2,669" fill="#ED7D31"/>
<line x1="118.3" y1="660" x2="118.3" y2="685.4" stroke="#ED7D31" stroke-width="1.6"/>
<line x1="109" y1="656" x2="109" y2="667" stroke="#ED7D31" stroke-width="1.6"/>
<line x1="116.5" y1="658" x2="116.5" y2="668" stroke="#ED7D31" stroke-width="1.6"/>
<polyline points="104.6,585.4 106.2,585.6 108.6,585.7 111.3,585.9 114.2,586.3 117,586.7 119.5,587.4 121.7,588.3 123.8,589.3 125.9,590.4 127.9,591.8 129.9,593.2 131.9,594.8 133.9,596.6 136,598.5 138,600.6 140,602.8 142.1,605 144.3,607.2 146.5,609.4 148.8,611.8 151.2,614.1 153.6,616.5 156,618.8 158.5,620.9 161,622.9 163.6,624.8 166.3,626.7 168.9,628.5 171.5,630.2 174.1,632 176.5,633.7 178.8,635.4 181.1,637 183.4,638.6 186,640.3 189,642 192.7,643.9 197.1,646 201.7,648.2 206.2,650.2 209.9,651.9 212.6,653.1" fill="none" stroke="#FFC000" stroke-width="2.5" stroke-linejoin="round"/>
<polyline points="104.6,665.6 105.7,663.9 107.2,661.4 108.9,658.6 110.8,655.5 112.7,652.4 114.5,649.4 116.1,646.6 117.7,643.7 119.3,640.8 121,637.8 122.7,634.9 124.5,632 126.4,629.1 128.5,626.1 130.5,623.1 132.7,620.2 134.8,617.4 136.9,614.7 139,612.1 141.2,609.6 143.3,607.2 145.4,604.9 147.4,602.8 149.3,601 150.9,599.5 152.4,598.3 153.7,597.4 155.1,596.5 156.6,595.7 158.5,594.8 160.7,593.8 163.3,592.8 165.9,591.8 168.7,590.9 171.5,590.1 174.1,589.4 176.5,588.9 178.8,588.4 181.1,588.1 183.4,587.8 186,587.6 189,587.4 192.7,587.2 197.1,587.1 201.7,587 206.2,587 209.9,586.9 212.6,586.9" fill="none" stroke="#5B9BD5" stroke-width="2.5" stroke-linejoin="round"/>
<text x="-1.7" y="750.8" font-size="24" font-weight="bold">(f)</text>
<text x="1.7" y="773.2" font-size="16">Target:</text>
<text x="60.4" y="773.2" font-size="16">GMP</text>
<text x="130.3" y="773.2" font-size="16">Myeloid</text>
<line x1="105.5" y1="766.5" x2="105.5" y2="907.2" stroke="#404040" stroke-width="1"/>
<line x1="159.5" y1="777" x2="159.5" y2="907.2" stroke="#404040" stroke-width="1"/>
<line x1="51.3" y1="779" x2="51.3" y2="911.7" stroke="#707070" stroke-width="1.2"/>
<line x1="48.8" y1="907.2" x2="214" y2="907.2" stroke="#707070" stroke-width="1.2"/>
<line x1="49.3" y1="894.8" x2="51.3" y2="894.8" stroke="#707070" stroke-width="1"/>
<line x1="48.3" y1="882.3" x2="51.3" y2="882.3" stroke="#707070" stroke-width="1"/>
<line x1="49.3" y1="869.9" x2="51.3" y2="869.9" stroke="#707070" stroke-width="1"/>
<line x1="48.3" y1="857.4" x2="51.3" y2="857.4" stroke="#707070" stroke-width="1"/>
<line x1="49.3" y1="845" x2="51.3" y2="845" stroke="#707070" stroke-width="1"/>
<line x1="48.3" y1="832.6" x2="51.3" y2="832.6" stroke="#707070" stroke-width="1"/>
<line x1="49.3" y1="820.1" x2="51.3" y2="820.1" stroke="#707070" stroke-width="1"/>
<line x1="48.3" y1="807.7" x2="51.3" y2="807.7" stroke="#707070" stroke-width="1"/>
<line x1="49.3" y1="795.2" x2="51.3" y2="795.2" stroke="#707070" stroke-width="1"/>
<line x1="48.3" y1="782.8" x2="51.3" y2="782.8" stroke="#707070" stroke-width="1"/>
<line x1="62.1" y1="907.2" x2="62.1" y2="909.5" stroke="#707070" stroke-width="1"/>
<line x1="73" y1="907.2" x2="73" y2="909.5" stroke="#707070" stroke-width="1"/>
<line x1="83.8" y1="907.2" x2="83.8" y2="909.5" stroke="#707070" stroke-width="1"/>
<line x1="94.7" y1="907.2" x2="94.7" y2="909.5" stroke="#707070" stroke-width="1"/>
<line x1="105.5" y1="907.2" x2="105.5" y2="911.7" stroke="#707070" stroke-width="1"/>
<line x1="116.4" y1="907.2" x2="116.4" y2="909.5" stroke="#707070" stroke-width="1"/>
<line x1="127.2" y1="907.2" x2="127.2" y2="909.5" stroke="#707070" stroke-width="1"/>
<line x1="138.1" y1="907.2" x2="138.1" y2="909.5" stroke="#707070" stroke-width="1"/>
<line x1="148.9" y1="907.2" x2="148.9" y2="909.5" stroke="#707070" stroke-width="1"/>
<line x1="159.8" y1="907.2" x2="159.8" y2="911.7" stroke="#707070" stroke-width="1"/>
<line x1="170.6" y1="907.2" x2="170.6" y2="909.5" stroke="#707070" stroke-width="1"/>
<line x1="181.5" y1="907.2" x2="181.5" y2="909.5" stroke="#707070" stroke-width="1"/>
<line x1="192.3" y1="907.2" x2="192.3" y2="909.5" stroke="#707070" stroke-width="1"/>
<line x1="203.2" y1="907.2" x2="203.2" y2="909.5" stroke="#707070" stroke-width="1"/>
<line x1="214" y1="907.2" x2="214" y2="911.7" stroke="#707070" stroke-width="1"/>
<text x="47.5" y="788.8" font-size="16" text-anchor="end">1.0</text>
<text x="47.5" y="813.7" font-size="16" text-anchor="end">0.8</text>
<text x="47.5" y="838.6" font-size="16" text-anchor="end">0.6</text>
<text x="47.5" y="863.4" font-size="16" text-anchor="end">0.4</text>
<text x="47.5" y="888.3" font-size="16" text-anchor="end">0.2</text>
<text x="47.5" y="913.2" font-size="16" text-anchor="end">0</text>
<text x="53.7" y="923" font-size="16" text-anchor="middle">0</text>
<text x="106.6" y="923" font-size="16" text-anchor="middle">0.5</text>
<text x="159.5" y="923" font-size="16" text-anchor="middle">1</text>
<text x="210" y="923" font-size="16" text-anchor="middle">1.5</text>
<text x="68.3" y="939.3" font-size="16">Repetitions (x10<tspan font-size="10.5" dy="-7">6</tspan><tspan dy="7">)</tspan></text>
<text transform="translate(19.3,841.4) rotate(-90)" font-size="16" text-anchor="middle">Correlation</text>
<polygon points="51.3,888 51.8,887.7 52.4,887.8 52.9,888.5 53.5,888.3 54,888.1 54.6,888.3 55.1,887.7 55.7,887.8 56.2,887.9 56.8,888.6 57.3,888.4 57.9,888.3 58.4,887.8 59,888.4 59.5,888 60.1,887.7 60.6,888.1 61.2,887.8 61.7,887.9 62.3,887.9 62.8,887.7 63.4,888 63.9,888.1 64.5,888.7 65,888.4 65.6,888.1 66.1,887.8 66.7,888.5 67.2,888.4 67.8,888.1 68.3,887.8 68.9,888.3 69.4,888.4 70,888.6 70.5,887.9 71.1,887.8 71.6,888.4 72.2,888.6 72.7,887.8 73.3,888 73.8,888.5 74.4,888.6 74.9,888.4 75.5,888 76,888.4 76.6,888.8 77.1,888.5 77.7,888.2 78.2,888.5 78.8,888.8 79.3,888.6 79.9,888.3 80.4,888.1 81,888.4 81.5,888.8 82.1,888.2 82.6,888.1 83.2,888.6 83.7,888.4 84.3,888.7 84.8,888.6 85.4,889.2 85.9,888.7 86.5,889.6 87,889.9 87.6,890.1 88.1,890.4 88.7,890.9 89.2,891.3 89.8,891.5 90.3,892.7 90.9,892.7 91.4,893.3 92,893.3 92.5,893 93.1,892.2 93.6,892 94.2,891.9 94.7,891.4 95.3,890.7 95.8,890.8 96.4,890.9 96.9,890.6 97.5,890.1 98,890.5 98.6,890.3 99.1,889.3 99.7,890 100.2,889.7 100.8,889.1 101.3,889.1 101.9,889 102.4,888.6 103,888.7 103.5,888 104.1,888.2 104.6,887.6 104.8,888 104.8,890.3 104.6,890.4 104.1,890.7 103.5,890.9 103,891 102.4,891 101.9,890.6 101.3,890.8 100.8,891.8 100.2,891.6 99.7,891.8 99.1,891.9 98.6,892.3 98,892.6 97.5,892.1 96.9,893 96.4,893 95.8,893.5 95.3,893.2 94.7,894.2 94.2,894.6 93.6,894.7 93.1,895.9 92.5,895.5 92,896.8 91.4,895.6 90.9,895.1 90.3,895.5 89.8,894.2 89.2,894.3 88.7,893.8 88.1,893.3 87.6,892.9 87,892.7 86.5,891.6 85.9,891.2 85.4,891 84.8,890.2 84.3,890.4 83.7,890.8 83.2,890.2 82.6,890.8 82.1,890.8 81.5,890.8 81,890.1 80.4,890.1 79.9,890.1 79.3,890.8 78.8,890.4 78.2,890.1 77.7,889.9 77.1,890.3 76.6,890.7 76,890.4 75.5,890.1 74.9,890 74.4,890.2 73.8,890.1 73.3,889.9 72.7,890.7 72.2,890.8 71.6,890.5 71.1,890.7 70.5,890.2 70,890.2 69.4,890.1 68.9,890.6 68.3,890.5 67.8,890.4 67.2,890.7 66.7,890.1 66.1,890.6 65.6,889.8 65,890.5 64.5,890.7 63.9,889.8 63.4,890.6 62.8,890.4 62.3,890.1 61.7,890 61.2,890.5 60.6,889.9 60.1,889.7 59.5,890.5 59,890.6 58.4,890.6 57.9,889.9 57.3,890.6 56.8,890.5 56.2,890.2 55.7,890.5 55.1,890.6 54.6,889.9 54,889.9 53.5,889.9 52.9,890.1 52.4,890.4 51.8,889.9 51.3,890.1" fill="#A5A5A5"/>
<line x1="105.4" y1="890" x2="105.4" y2="786" stroke="#A5A5A5" stroke-width="1.8"/>
<polygon points="105.6,785.2 106.1,784.4 106.7,784.3 107.2,784.3 107.8,784.1 108.3,785 108.9,784.8 109.4,784.1 110,784 110.5,784.2 111.1,784.2 111.6,784 112.2,784.8 112.7,784.5 113.3,784.1 113.8,784.9 114.4,784.7 114.9,783.9 115.5,784.3 116,784.2 116.6,784.6 117.1,783.8 117.7,784.5 118.2,784 118.8,784.9 119.3,784.9 119.9,785.1 120.4,784.7 121,784.1 121.5,784.7 122.1,784.4 122.6,783.8 123.2,784.1 123.7,785 124.3,784 124.8,784.7 125.4,784.5 125.9,784.4 126.5,784.4 127,784.1 127.6,784.7 128.1,785 128.7,783.7 129.2,784.2 129.8,784.8 130.3,784.5 130.9,784.9 131.4,784.4 132,784.9 132.5,784.5 133.1,784.6 133.7,785 134.2,784.4 134.8,784.6 135.3,783.8 135.9,783.9 136.4,783.8 137,784.4 137.5,784.8 138.1,784.1 138.6,784.6 139.2,784.9 139.7,784.8 140.3,784.5 140.8,783.7 141.4,784.6 141.9,784.8 142.5,783.6 143,784.6 143.6,783.7 144.1,784.7 144.7,783.6 145.2,783.8 145.8,784.6 146.3,784.5 146.9,783.9 147.4,783.5 148,784.4 148.5,784.3 149.1,784.1 149.6,784.2 150.2,784.8 150.7,784.2 151.3,784.5 151.8,783.5 152.4,784.2 152.9,783.5 153.5,784 154,784.5 154.6,784 155.1,784.3 155.7,784 156.2,784.4 156.8,783.8 157.3,783.6 157.9,784.8 158.4,783.7 159,784.4 159.5,784.7 160.1,783.6 160.6,784.5 161.2,784.4 161.7,785.1 162.3,784.9 162.8,785.5 163.4,784.9 163.9,785.9 164.5,786.1 165,785.4 165.6,785.8 166.1,786.7 166.7,786.9 167.2,787.1 167.8,786.5 168.3,787.3 168.9,787.4 169.4,787.5 170,787.9 170.5,788 171.1,787.3 171.6,787.3 172.2,787.9 172.7,787.9 173.3,788.3 173.8,788.5 174.4,788.6 174.9,788.5 175.5,789.3 176,788.1 176.6,789.4 177.1,788.2 177.7,788.9 178.2,788.9 178.8,789.1 179.3,789.1 179.9,788.8 180.4,789.6 181,788.8 181.5,790 182.1,790.1 182.6,790.1 183.2,790 183.7,789.4 184.3,789.5 184.8,790.2 185.4,789.3 185.9,790.5 186.5,789.5 187,790 187.6,790.6 188.1,789.8 188.7,790.6 189.2,790.2 189.8,790.4 190.3,789.7 190.9,790.6 191.4,790.3 192,789.5 192.5,790 193.1,789.7 193.6,790.6 194.2,790.2 194.7,790.7 195.3,790.5 195.8,791 196.4,790.5 196.9,790.9 197.5,790.2 198,790.1 198.6,790 199.1,790.3 199.7,790.1 200.2,789.8 200.8,790.8 201.3,790.6 201.9,791.2 202.4,790.6 203,790.8 203.5,790.7 204.1,790.9 204.6,791.2 205.2,790.4 205.7,790.8 206.3,791.3 206.8,791.1 207.4,790.2 207.9,791.2 208.5,790.7 209,791 209.6,790.7 210.1,790.7 210.7,791.2 211.2,791.1 211.8,791 212.3,791 212.9,790.9 213.1,791.7 213.1,797.3 212.9,797.8 212.3,797.7 211.8,798.3 211.2,797.7 210.7,798.3 210.1,798.1 209.6,798.1 209,798.7 208.5,798.7 207.9,798.7 207.4,798.4 206.8,799.5 206.3,799.1 205.7,799 205.2,799 204.6,798.5 204.1,798.6 203.5,799.6 203,798.6 202.4,798.3 201.9,799.1 201.3,798.2 200.8,798.2 200.2,798.7 199.7,799 199.1,798.1 198.6,799.2 198,799.3 197.5,798.3 196.9,799 196.4,798.9 195.8,798.2 195.3,798.2 194.7,798.4 194.2,797.5 193.6,798.2 193.1,797 192.5,797.1 192,796.4 191.4,797.3 190.9,796.5 190.3,797.1 189.8,796.4 189.2,795.5 188.7,795.9 188.1,795.8 187.6,795.7 187,795.1 186.5,795 185.9,794.3 185.4,793.9 184.8,793.8 184.3,794.1 183.7,793.5 183.2,794.3 182.6,792.9 182.1,794 181.5,793.7 181,792.6 180.4,793.2 179.9,793.3 179.3,793.2 178.8,792.6 178.2,792.2 177.7,792 177.1,792 176.6,791.7 176,791.8 175.5,791.7 174.9,791.9 174.4,791.6 173.8,790.9 173.3,791.1 172.7,790 172.2,789.9 171.6,790.6 171.1,789.6 170.5,789.6 170,789.5 169.4,789.6 168.9,789.2 168.3,789.1 167.8,788.6 167.2,789.3 166.7,788.9 166.1,788.5 165.6,788.3 165,788 164.5,788.1 163.9,788 163.4,788.1 162.8,787.1 162.3,787 161.7,786.8 161.2,786.6 160.6,787.3 160.1,787.2 159.5,786.7 159,786.7 158.4,786.6 157.9,786.9 157.3,787 156.8,785.7 156.2,786.8 155.7,786.9 155.1,785.9 154.6,786.2 154,786.1 153.5,786.7 152.9,786.4 152.4,786 151.8,786.2 151.3,786.5 150.7,786.3 150.2,787 149.6,787.2 149.1,786.7 148.5,786.8 148,786.4 147.4,787 146.9,786 146.3,787.2 145.8,786.2 145.2,786.8 144.7,786.1 144.1,786.4 143.6,787.3 143,786.2 142.5,786.4 141.9,786.7 141.4,787 140.8,786.1 140.3,787.4 139.7,787 139.2,786.9 138.6,786.5 138.1,787.1 137.5,786.4 137,787.4 136.4,787.2 135.9,786.7 135.3,787.4 134.8,786.5 134.2,787.1 133.7,787.1 133.1,787 132.5,787 132,787.2 131.4,786.8 130.9,787.2 130.3,786.3 129.8,786.4 129.2,787.2 128.7,786.3 128.1,786.8 127.6,786.8 127,787 126.5,786.9 125.9,787.2 125.4,787 124.8,786.4 124.3,786.4 123.7,787.2 123.2,787.4 122.6,786.6 122.1,787.3 121.5,787.2 121,787.7 120.4,787.5 119.9,787.6 119.3,787.5 118.8,786.9 118.2,787.3 117.7,787.4 117.1,787.1 116.6,786.5 116,787.8 115.5,787.1 114.9,787.7 114.4,787 113.8,787.9 113.3,787.3 112.7,787.4 112.2,787.2 111.6,787.3 111.1,786.8 110.5,787.1 110,787.3 109.4,787.6 108.9,787.9 108.3,787 107.8,787.3 107.2,787.7 106.7,787.4 106.1,787.5 105.6,787.6" fill="#A5A5A5"/>
<line x1="106.6" y1="786" x2="106.6" y2="832.6" stroke="#A5A5A5" stroke-width="1.5"/>
<line x1="107.6" y1="786" x2="107.6" y2="826" stroke="#A5A5A5" stroke-width="1.5"/>
<line x1="108.6" y1="786" x2="108.6" y2="815" stroke="#A5A5A5" stroke-width="1.5"/>
<line x1="113.5" y1="786" x2="113.5" y2="800.4" stroke="#A5A5A5" stroke-width="1.5"/>
<line x1="118.9" y1="786" x2="118.9" y2="884" stroke="#A5A5A5" stroke-width="1.5"/>
<line x1="119.9" y1="786" x2="119.9" y2="887.7" stroke="#A5A5A5" stroke-width="1.5"/>
<line x1="129.2" y1="786" x2="129.2" y2="836.4" stroke="#A5A5A5" stroke-width="1.5"/>
<line x1="130.4" y1="786" x2="130.4" y2="834" stroke="#A5A5A5" stroke-width="1.5"/>
<line x1="131.2" y1="786" x2="131.2" y2="812" stroke="#A5A5A5" stroke-width="1.5"/>
<polyline points="51.3,783.8 88.5,783.8 88.5,799.4 95.5,799.4 95.5,793 97,788.4 105.1,788.4 105.1,813.8" fill="none" stroke="#ED7D31" stroke-width="2.0" stroke-linejoin="round"/>
<line x1="105.6" y1="878.6" x2="105.6" y2="899.6" stroke="#ED7D31" stroke-width="1.6"/>
<polygon points="105.8,885.3 106.3,885.2 106.9,885.4 107.4,886 108,885.8 108.5,885.4 109.1,885 109.6,885.3 110.2,884.8 110.7,885.3 111.3,885.8 111.8,885.2 112.4,885.6 112.9,885.4 113.5,885.6 114,885.9 114.6,886 115.1,885.7 115.7,885 116.2,885.5 116.8,884.9 117.3,885.2 117.9,886.2 118.4,885.1 119,885.3 119.5,886.3 120.1,886.3 120.6,885.8 121.2,885.2 121.7,886.4 122.3,885.2 122.8,886.1 123.4,886.1 123.9,885.9 124.5,885.6 125,886.3 125.6,885.9 126.1,885.6 126.7,885.4 127.2,886.1 127.8,886.4 128.3,885.7 128.9,885.8 129.4,886.8 130,885.9 130.5,886.9 131.1,885.6 131.6,885.7 132.2,885.8 132.7,886.7 133.3,886.6 133.8,885.9 134.4,885.8 135,886.2 135.5,886.1 136.1,886.6 136.6,887.1 137.2,886.7 137.7,886.8 138.3,886.7 138.8,886.9 139.4,886.4 139.9,886.2 140.5,887.2 141,886.2 141.6,886.7 142.1,886.3 142.7,886.9 143.2,887.5 143.8,886.7 144.3,887.1 144.9,886.5 145.4,886.4 146,886.7 146.5,886.8 147.1,887.4 147.6,887.4 148.2,886.5 148.7,887.2 149.3,886.7 149.8,887 150.4,887.6 150.9,887 151.5,886.7 152,887.6 152.6,887.4 153.1,886.9 153.7,886.9 154.2,887.3 154.8,888 155.3,887.3 155.9,888 156.4,887.1 157,887.3 157.5,888.1 158.1,887.7 158.6,887.7 159.2,887 159.7,888 160.3,887 160.8,887.2 161.4,888.3 161.9,887.1 162.5,887 163,887.1 163.6,888.2 164.1,887 164.7,888.3 165.2,887.4 165.8,887.8 166.3,887.4 166.9,887.5 167.4,887 168,887.4 168.5,887.9 169.1,887.9 169.6,887 170.2,888.2 170.7,887.3 171.3,887.7 171.8,887.6 172.4,887.5 172.9,888.2 173.5,887.4 174,887.7 174.6,888.2 175.1,887 175.7,888 176.2,887.5 176.8,887 177.3,888 177.9,888.2 178.4,887.1 179,888.3 179.5,887.1 180.1,887.9 180.6,887.7 181.2,887.6 181.7,887.2 182.3,887.6 182.8,887.4 183.4,887 183.9,888.3 184.5,887.4 185,888.2 185.6,888.1 186.1,886.9 186.7,887.5 187.2,888 187.8,887.4 188.3,887.1 188.9,888.3 189.4,887.3 190,888 190.5,887.9 191.1,888.1 191.6,887 192.2,887.9 192.7,888.1 193.3,888.3 193.8,888.1 194.4,887.8 194.9,888 195.5,887.7 196,887.2 196.6,887.6 197.1,887.2 197.7,887.8 198.2,887.7 198.8,887 199.3,887.3 199.9,887.2 200.4,887.4 201,887.4 201.5,887.1 202.1,887.7 202.6,887.8 203.2,887.4 203.7,888.2 204.3,888.2 204.8,888 205.4,887.7 205.9,887.3 206.5,887.4 207,887.1 207.6,887.1 208.1,887.6 208.7,887.9 209.2,887.5 209.8,887.8 210.3,887.7 210.9,888 211.4,887.7 212,887.9 212.5,887.7 213.1,887.8 213.6,886.9 214,887.6 214,892 213.6,891.2 213.1,891.3 212.5,891.8 212,891.4 211.4,891.4 210.9,891.8 210.3,891.6 209.8,891.8 209.2,891.8 208.7,891.4 208.1,892.4 207.6,891.4 207,892.4 206.5,891.2 205.9,891.6 205.4,891.6 204.8,891.8 204.3,891.6 203.7,891.5 203.2,891.8 202.6,891.7 202.1,891.6 201.5,891.3 201,891.3 200.4,891.9 199.9,891.4 199.3,891.4 198.8,891.9 198.2,891.9 197.7,891.7 197.1,891.1 196.6,891.9 196,892.4 195.5,892.3 194.9,891.4 194.4,891.6 193.8,891.2 193.3,892.2 192.7,892.4 192.2,891.8 191.6,891.6 191.1,892 190.5,892.4 190,891.1 189.4,892 188.9,892.3 188.3,892 187.8,892.1 187.2,892.3 186.7,891.5 186.1,892.3 185.6,891.5 185,892.2 184.5,891.7 183.9,891.5 183.4,891.7 182.8,892.1 182.3,891.5 181.7,891.2 181.2,891.6 180.6,892.1 180.1,892.1 179.5,891.1 179,891.2 178.4,891.5 177.9,892 177.3,891.9 176.8,892.3 176.2,892 175.7,891.1 175.1,891.8 174.6,891.2 174,891.2 173.5,892 172.9,891.7 172.4,891.3 171.8,891.7 171.3,892 170.7,892.3 170.2,891.5 169.6,891.4 169.1,892 168.5,892.3 168,890.9 167.4,892.1 166.9,892.2 166.3,891.2 165.8,891.4 165.2,891.5 164.7,891.9 164.1,891.6 163.6,891.6 163,892 162.5,891.6 161.9,891.2 161.4,892.1 160.8,892.1 160.3,891.8 159.7,891.3 159.2,891.5 158.6,892.1 158.1,891.7 157.5,891.6 157,891.8 156.4,891.9 155.9,891.1 155.3,890.8 154.8,891.9 154.2,891.7 153.7,891.3 153.1,891.6 152.6,890.9 152,891.1 151.5,891 150.9,891.5 150.4,891.4 149.8,890.9 149.3,890.6 148.7,890.9 148.2,891.3 147.6,891.7 147.1,890.9 146.5,891.5 146,891.5 145.4,890.9 144.9,890.8 144.3,890.7 143.8,891.3 143.2,891.5 142.7,891.1 142.1,890.2 141.6,891.4 141,891.2 140.5,890.1 139.9,890.9 139.4,890.3 138.8,891 138.3,891.2 137.7,890.7 137.2,891 136.6,889.9 136.1,890 135.5,889.9 135,890.5 134.4,890.5 133.8,891 133.3,890.4 132.7,889.8 132.2,889.8 131.6,889.7 131.1,889.7 130.5,890.3 130,889.9 129.4,890.2 128.9,889.9 128.3,890.1 127.8,890.4 127.2,890.7 126.7,890.2 126.1,890.5 125.6,890.4 125,889.7 124.5,889.7 123.9,889.3 123.4,889.6 122.8,890.3 122.3,889.2 121.7,889.8 121.2,889.7 120.6,889.3 120.1,889.3 119.5,888.9 119,889.7 118.4,890.1 117.9,889.9 117.3,890 116.8,889.9 116.2,889.9 115.7,889.5 115.1,889.2 114.6,888.9 114,889.3 113.5,889.1 112.9,890 112.4,888.8 111.8,888.7 111.3,889.7 110.7,889.5 110.2,889.6 109.6,889.6 109.1,888.9 108.5,889.5 108,889.9 107.4,889.1 106.9,888.8 106.3,889.8 105.8,890" fill="#ED7D31"/>
<line x1="129.3" y1="876.3" x2="129.3" y2="888" stroke="#ED7D31" stroke-width="1.5"/>
<line x1="130.6" y1="877.5" x2="130.6" y2="888" stroke="#ED7D31" stroke-width="1.5"/>
<line x1="128.4" y1="879" x2="128.4" y2="888" stroke="#ED7D31" stroke-width="1.5"/>
<line x1="119.7" y1="888" x2="119.7" y2="901" stroke="#ED7D31" stroke-width="1.5"/>
<line x1="140.5" y1="888" x2="140.5" y2="896.2" stroke="#ED7D31" stroke-width="1.5"/>
<line x1="155.7" y1="888" x2="155.7" y2="895.3" stroke="#ED7D31" stroke-width="1.5"/>
<polyline points="51.3,782.8 54.5,782.8 58.9,782.8 64.1,782.9 69.6,782.9 75.1,783 80,783 84.5,783 89,783 93.4,783 97.6,783.1 101.6,783.2 105.4,783.3 108.9,783.5 112.3,783.6 115.4,783.8 118.4,784.1 121.1,784.5 123.5,785.2 125.6,786.1 127.3,787.1 128.8,788.3 130.2,789.6 131.5,791.1 133,792.8 134.6,794.7 136.1,796.8 137.7,799.1 139.3,801.5 140.8,803.8 142.4,806.1 144,808.3 145.6,810.6 147.3,812.8 148.9,815 150.4,817.2 151.9,819.3 153.2,821.3 154.4,823.1 155.6,824.9 156.8,826.7 158,828.6 159.5,830.7 161.2,833 162.9,835.6 164.8,838.2 166.8,840.8 168.8,843.4 170.9,845.9 173,848.3 175.1,850.6 177.3,852.9 179.6,855.1 181.9,857.2 184.2,859.2 186.6,861.2 189.1,863.1 191.7,864.9 194.3,866.6 196.9,868.2 199.4,869.6 202,870.9 204.9,872.1 207.7,873.1 210.2,874 212.4,874.7 214,875.3" fill="none" stroke="#FFC000" stroke-width="2.5" stroke-linejoin="round"/>
<polyline points="51.3,889.1 105.4,889.2 106.3,887.7 107.6,885.7 109.1,883.4 110.7,880.8 112.4,878 114,875.3 115.5,872.5 117.1,869.6 118.7,866.6 120.3,863.5 121.9,860.4 123.5,857.3 125.1,854.2 126.7,851 128.3,847.7 129.8,844.5 131.4,841.4 133,838.3 134.6,835.3 136.1,832.3 137.7,829.4 139.3,826.5 140.8,823.8 142.4,821.2 144,818.7 145.6,816.3 147.3,814 148.9,811.8 150.4,809.8 151.9,808 153.2,806.4 154.4,805.1 155.6,803.9 156.8,802.8 158,801.7 159.5,800.4 161.2,799 162.9,797.4 164.8,795.9 166.8,794.4 168.8,793 170.9,791.8 173,790.8 175.1,789.9 177.3,789.2 179.6,788.6 181.9,788 184.2,787.5 186.6,787.1 189.1,786.8 191.7,786.6 194.3,786.4 196.9,786.2 199.4,786.1 202,786 204.9,785.8 207.7,785.8 210.2,785.7 212.4,785.6 214,785.6" fill="none" stroke="#5B9BD5" stroke-width="2.5" stroke-linejoin="round"/>
<rect x="220.4" y="363.5" width="108.6" height="157.1" fill="none" stroke="#595959" stroke-width="1"/>
<line x1="220.4" y1="400.5" x2="329" y2="400.5" stroke="#595959" stroke-width="1"/>
<text x="234.7" y="377.4" font-size="16">r values to</text>
<text x="229.9" y="393.9" font-size="16">target ratio</text>
<text x="229.9" y="416.7" font-size="16">mRNA ratio</text>
<line x1="227" y1="427.1" x2="245.1" y2="427.1" stroke="#FFC000" stroke-width="2.5"/>
<text x="248.9" y="432.8" font-size="16">Progenitor</text>
<line x1="227" y1="443.8" x2="245.1" y2="443.8" stroke="#5B9BD5" stroke-width="2.5"/>
<text x="248.9" y="449" font-size="16">PBMC</text>
<text x="229.9" y="465" font-size="16">Expression</text>
<text x="229.9" y="481.3" font-size="16">probability</text>
<line x1="227" y1="493.3" x2="245.1" y2="493.3" stroke="#ED7D31" stroke-width="2.5"/>
<text x="248.9" y="497.4" font-size="16">Progenitor</text>
<line x1="227" y1="509.2" x2="245.1" y2="509.2" stroke="#A5A5A5" stroke-width="2.5"/>
<text x="248.9" y="513.6" font-size="16">PBMC</text>
<text x="346.6" y="392.3" font-size="24" font-weight="bold">(g)</text>
<text x="441.7" y="379.8" font-size="16">MLP</text>
<polygon points="453.4,382.3 462.2,382.3 462.2,388.5 467.8,388.5 457.8,396 447.8,388.5 453.4,388.5" fill="#7f7f7f"/>
<text x="486" y="393.9" font-size="16">β = 10<tspan font-size="10.5" dy="-6.5">-7</tspan></text>
<text x="578.8" y="379" font-size="16">GMP</text>
<polygon points="592.3,383.4 601.1,383.4 601.1,387.9 606.7,387.9 596.7,395.4 586.7,387.9 592.3,387.9" fill="#7f7f7f"/>
<line x1="427.6" y1="398.7" x2="427.6" y2="502.1" stroke="#d9d9d9" stroke-width="1"/>
<line x1="448.3" y1="398.7" x2="448.3" y2="502.1" stroke="#d9d9d9" stroke-width="1"/>
<line x1="469.1" y1="398.7" x2="469.1" y2="502.1" stroke="#d9d9d9" stroke-width="1"/>
<line x1="489.8" y1="398.7" x2="489.8" y2="502.1" stroke="#d9d9d9" stroke-width="1"/>
<line x1="406.9" y1="398.7" x2="510.5" y2="398.7" stroke="#d9d9d9" stroke-width="1"/>
<line x1="406.9" y1="419.4" x2="510.5" y2="419.4" stroke="#d9d9d9" stroke-width="1"/>
<line x1="406.9" y1="440.1" x2="510.5" y2="440.1" stroke="#d9d9d9" stroke-width="1"/>
<line x1="406.9" y1="460.7" x2="510.5" y2="460.7" stroke="#d9d9d9" stroke-width="1"/>
<line x1="406.9" y1="481.4" x2="510.5" y2="481.4" stroke="#d9d9d9" stroke-width="1"/>
<line x1="510.5" y1="398.7" x2="510.5" y2="502.1" stroke="#d9d9d9" stroke-width="1"/>
<line x1="406.9" y1="398.7" x2="406.9" y2="502.1" stroke="#d9d9d9" stroke-width="1"/>
<rect x="407.7" y="399.5" width="66" height="20" fill="#fff"/>
<line x1="406.4" y1="398.2" x2="406.4" y2="502.6" stroke="#a6a6a6" stroke-width="1.2"/>
<line x1="402.9" y1="398.7" x2="406.4" y2="398.7" stroke="#bfbfbf" stroke-width="1"/>
<line x1="402.9" y1="419.4" x2="406.4" y2="419.4" stroke="#bfbfbf" stroke-width="1"/>
<line x1="402.9" y1="440.1" x2="406.4" y2="440.1" stroke="#bfbfbf" stroke-width="1"/>
<line x1="402.9" y1="460.7" x2="406.4" y2="460.7" stroke="#bfbfbf" stroke-width="1"/>
<line x1="402.9" y1="481.4" x2="406.4" y2="481.4" stroke="#bfbfbf" stroke-width="1"/>
<line x1="402.9" y1="502.1" x2="406.4" y2="502.1" stroke="#bfbfbf" stroke-width="1"/>
<line x1="406.9" y1="503.1" x2="510.5" y2="503.1" stroke="#bfbfbf" stroke-width="1.6"/>
<line x1="406.9" y1="503.1" x2="406.9" y2="506.1" stroke="#bfbfbf" stroke-width="1"/>
<line x1="427.6" y1="503.1" x2="427.6" y2="506.1" stroke="#bfbfbf" stroke-width="1"/>
<line x1="448.3" y1="503.1" x2="448.3" y2="506.1" stroke="#bfbfbf" stroke-width="1"/>
<line x1="469.1" y1="503.1" x2="469.1" y2="506.1" stroke="#bfbfbf" stroke-width="1"/>
<line x1="489.8" y1="503.1" x2="489.8" y2="506.1" stroke="#bfbfbf" stroke-width="1"/>
<line x1="510.5" y1="503.1" x2="510.5" y2="506.1" stroke="#bfbfbf" stroke-width="1"/>
<line x1="563.9" y1="398.7" x2="563.9" y2="502.1" stroke="#d9d9d9" stroke-width="1"/>
<line x1="584.7" y1="398.7" x2="584.7" y2="502.1" stroke="#d9d9d9" stroke-width="1"/>
<line x1="605.4" y1="398.7" x2="605.4" y2="502.1" stroke="#d9d9d9" stroke-width="1"/>
<line x1="626.2" y1="398.7" x2="626.2" y2="502.1" stroke="#d9d9d9" stroke-width="1"/>
<line x1="543.1" y1="398.7" x2="647" y2="398.7" stroke="#d9d9d9" stroke-width="1"/>
<line x1="543.1" y1="419.4" x2="647" y2="419.4" stroke="#d9d9d9" stroke-width="1"/>
<line x1="543.1" y1="440.1" x2="647" y2="440.1" stroke="#d9d9d9" stroke-width="1"/>
<line x1="543.1" y1="460.7" x2="647" y2="460.7" stroke="#d9d9d9" stroke-width="1"/>
<line x1="543.1" y1="481.4" x2="647" y2="481.4" stroke="#d9d9d9" stroke-width="1"/>
<line x1="647" y1="398.7" x2="647" y2="502.1" stroke="#d9d9d9" stroke-width="1"/>
<line x1="543.1" y1="398.7" x2="543.1" y2="502.1" stroke="#d9d9d9" stroke-width="1"/>
<rect x="543.9" y="399.5" width="66" height="20" fill="#fff"/>
<line x1="541.2" y1="398.2" x2="541.2" y2="502.6" stroke="#a6a6a6" stroke-width="1.2"/>
<line x1="537.7" y1="398.7" x2="541.2" y2="398.7" stroke="#bfbfbf" stroke-width="1"/>
<line x1="537.7" y1="419.4" x2="541.2" y2="419.4" stroke="#bfbfbf" stroke-width="1"/>
<line x1="537.7" y1="440.1" x2="541.2" y2="440.1" stroke="#bfbfbf" stroke-width="1"/>
<line x1="537.7" y1="460.7" x2="541.2" y2="460.7" stroke="#bfbfbf" stroke-width="1"/>
<line x1="537.7" y1="481.4" x2="541.2" y2="481.4" stroke="#bfbfbf" stroke-width="1"/>
<line x1="537.7" y1="502.1" x2="541.2" y2="502.1" stroke="#bfbfbf" stroke-width="1"/>
<line x1="543.1" y1="503.1" x2="647" y2="503.1" stroke="#bfbfbf" stroke-width="1.6"/>
<line x1="543.1" y1="503.1" x2="543.1" y2="506.1" stroke="#bfbfbf" stroke-width="1"/>
<line x1="563.9" y1="503.1" x2="563.9" y2="506.1" stroke="#bfbfbf" stroke-width="1"/>
<line x1="584.7" y1="503.1" x2="584.7" y2="506.1" stroke="#bfbfbf" stroke-width="1"/>
<line x1="605.4" y1="503.1" x2="605.4" y2="506.1" stroke="#bfbfbf" stroke-width="1"/>
<line x1="626.2" y1="503.1" x2="626.2" y2="506.1" stroke="#bfbfbf" stroke-width="1"/>
<line x1="647" y1="503.1" x2="647" y2="506.1" stroke="#bfbfbf" stroke-width="1"/>
<text x="414.4" y="415" font-size="16">r = 0.98</text>
<text x="551.8" y="414.9" font-size="16">r = 1.00</text>
<text transform="translate(400,405.1) scale(0.8,1)" font-size="16" text-anchor="end">10<tspan font-size="11" dy="-6">-1</tspan></text>
<text transform="translate(400,425.8) scale(0.8,1)" font-size="16" text-anchor="end">10<tspan font-size="11" dy="-6">-2</tspan></text>
<text transform="translate(400,446.5) scale(0.8,1)" font-size="16" text-anchor="end">10<tspan font-size="11" dy="-6">-3</tspan></text>
<text transform="translate(400,467.1) scale(0.8,1)" font-size="16" text-anchor="end">10<tspan font-size="11" dy="-6">-4</tspan></text>
<text transform="translate(400,487.8) scale(0.8,1)" font-size="16" text-anchor="end">10<tspan font-size="11" dy="-6">-5</tspan></text>
<text transform="translate(400,508.5) scale(0.8,1)" font-size="16" text-anchor="end">10<tspan font-size="11" dy="-6">-6</tspan></text>
<text transform="translate(375.9,451.8) rotate(-90)" font-size="16" text-anchor="middle">mRNA ratio</text>
<path transform="scale(.3333333)" d="M1464 1266h0M1461 1286h0M1373 1338h0M1381 1352h0M1376 1364h0M1408 1323h0M1391 1341h0M1370 1342h0M1458 1271h0M1377 1346h0M1416 1325h0M1416 1323h0M1459 1288h0M1429 1298h0M1377 1335h0M1434 1292h0M1437 1322h0M1458 1271h0M1418 1294h0M1412 1326h0M1350 1409h0M1438 1318h0M1396 1342h0M1477 1261h0M1480 1251h0M1451 1293h0M1444 1280h0M1450 1285h0M1429 1312h0M1430 1299h0M1432 1299h0M1468 1267h0M1469 1268h0M1433 1304h0M1449 1283h0M1455 1276h0M1477 1267h0M1439 1285h0M1434 1303h0M1472 1268h0M1448 1298h0M1361 1381h0M1441 1301h0M1448 1295h0M1438 1305h0M1355 1371h0M1448 1287h0M1374 1367h0M1462 1274h0M1421 1317h0M1424 1292h0M1439 1298h0M1394 1329h0M1367 1374h0M1352 1395h0M1472 1257h0M1442 1278h0M1498 1234h0M1404 1340h0M1432 1302h0M1441 1292h0M1432 1309h0M1426 1317h0M1383 1329h0M1466 1270h0M1413 1342h0M1441 1304h0M1447 1284h0M1415 1336h0M1368 1373h0M1506 1241h0M1423 1321h0M1458 1278h0M1401 1348h0M1456 1277h0M1454 1300h0M1426 1318h0M1427 1301h0M1425 1336h0M1461 1286h0M1423 1340h0M1434 1305h0M1403 1373h0M1391 1332h0M1358 1384h0M1450 1276h0M1467 1264h0M1390 1349h0M1444 1295h0M1448 1280h0M1431 1327h0M1459 1280h0M1465 1265h0M1445 1301h0M1447 1284h0M1435 1287h0M1459 1275h0M1436 1300h0M1349 1430h0M1419 1307h0M1425 1319h0M1450 1279h0M1432 1318h0M1477 1265h0M1451 1280h0M1431 1295h0M1397 1346h0M1418 1300h0M1402 1338h0M1448 1297h0M1390 1349h0M1427 1314h0M1464 1269h0M1416 1314h0M1448 1295h0M1443 1320h0M1439 1308h0M1441 1293h0M1450 1276h0M1394 1366h0M1451 1284h0M1364 1372h0M1445 1282h0M1463 1287h0M1467 1270h0M1468 1260h0M1364 1368h0M1450 1277h0M1442 1287h0M1429 1297h0M1387 1364h0M1425 1312h0M1475 1257h0M1438 1300h0M1346 1386h0M1452 1282h0M1416 1319h0M1454 1290h0M1451 1281h0M1390 1324h0M1425 1318h0M1463 1266h0M1466 1266h0M1418 1319h0M1423 1308h0M1464 1277h0M1420 1302h0M1453 1268h0M1462 1270h0M1425 1309h0M1390 1367h0M1441 1284h0M1418 1324h0M1425 1310h0M1429 1315h0M1455 1280h0M1410 1342h0M1453 1270h0M1439 1315h0M1361 1387h0M1456 1276h0M1418 1313h0M1433 1294h0M1424 1302h0M1426 1323h0M1420 1335h0M1348 1425h0M1458 1289h0M1445 1297h0M1439 1282h0M1451 1284h0M1417 1318h0M1411 1336h0M1454 1287h0M1446 1285h0M1448 1282h0M1371 1351h0M1404 1350h0M1415 1304h0M1446 1293h0M1443 1278h0M1437 1296h0M1432 1305h0M1409 1339h0M1387 1381h0M1450 1289h0M1472 1252h0M1438 1292h0M1436 1297h0M1436 1299h0M1379 1368h0M1440 1312h0M1445 1282h0M1405 1311h0M1414 1312h0M1426 1308h0M1386 1362h0M1430 1316h0M1436 1283h0M1403 1312h0M1470 1254h0M1398 1362h0M1436 1323h0M1387 1365h0M1404 1326h0M1438 1290h0M1447 1304h0M1384 1357h0M1453 1280h0M1369 1397h0M1454 1281h0M1402 1352h0M1381 1353h0M1420 1326h0M1444 1291h0M1454 1281h0M1425 1321h0M1429 1308h0M1408 1329h0M1440 1312h0M1346 1424h0M1341 1383h0M1425 1301h0M1448 1294h0M1418 1326h0M1463 1277h0M1458 1281h0M1393 1350h0M1452 1278h0M1464 1268h0M1432 1315h0M1493 1236h0M1426 1311h0M1431 1281h0M1389 1349h0M1379 1388h0M1462 1265h0M1459 1271h0M1461 1281h0M1430 1292h0M1378 1362h0M1434 1326h0M1379 1352h0M1460 1270h0M1396 1352h0M1420 1316h0M1423 1320h0M1465 1281h0M1359 1380h0M1429 1309h0M1437 1308h0M1365 1394h0M1446 1295h0M1407 1329h0M1386 1350h0M1419 1303h0M1350 1412h0M1435 1299h0M1497 1239h0M1425 1337h0M1422 1315h0M1368 1388h0M1386 1375h0M1427 1315h0M1402 1366h0M1395 1333h0M1439 1291h0M1461 1268h0M1360 1374h0M1412 1310h0M1467 1274h0M1432 1302h0M1345 1390h0M1409 1326h0M1386 1353h0M1430 1314h0M1341 1417h0M1429 1315h0M1353 1391h0M1368 1366h0M1459 1286h0M1387 1344h0M1396 1358h0M1423 1318h0M1469 1272h0M1478 1255h0M1443 1279h0M1435 1290h0M1475 1256h0M1429 1296h0M1366 1376h0M1397 1363h0M1425 1320h0M1408 1322h0M1355 1391h0M1473 1258h0M1384 1360h0M1439 1297h0M1395 1348h0M1463 1261h0M1453 1284h0M1451 1292h0M1444 1296h0M1448 1272h0M1399 1339h0M1407 1332h0M1442 1284h0M1377 1359h0M1344 1413h0M1362 1380h0M1444 1302h0M1359 1394h0M1458 1286h0M1405 1334h0M1424 1330h0M1427 1316h0M1413 1330h0M1428 1302h0M1467 1255h0M1416 1317h0M1424 1321h0M1448 1287h0M1381 1358h0M1457 1284h0M1443 1282h0M1343 1415h0M1411 1308h0M1459 1262h0M1448 1287h0M1406 1323h0M1412 1350h0M1445 1289h0M1394 1352h0M1366 1395h0M1430 1291h0M1427 1296h0M1448 1294h0M1421 1323h0M1446 1294h0M1346 1368h0M1469 1269h0M1449 1283h0M1411 1358h0M1410 1332h0M1458 1280h0M1468 1275h0M1375 1371h0M1435 1306h0M1388 1363h0M1446 1283h0M1417 1297h0M1376 1393h0M1441 1298h0M1448 1293h0M1426 1324h0M1463 1263h0M1429 1319h0M1366 1382h0M1418 1309h0M1418 1313h0M1354 1403h0M1397 1351h0M1463 1254h0M1396 1321h0M1459 1279h0M1417 1349h0M1392 1337h0M1417 1335h0M1483 1247h0M1462 1263h0M1382 1353h0M1399 1366h0M1443 1306h0M1367 1385h0M1439 1295h0M1429 1298h0M1431 1292h0M1411 1333h0M1476 1266h0M1457 1275h0M1346 1410h0M1387 1378h0M1409 1320h0M1416 1351h0M1409 1318h0M1430 1307h0M1414 1330h0M1430 1309h0M1428 1306h0M1388 1356h0M1404 1336h0M1380 1376h0M1407 1357h0M1423 1299h0M1382 1379h0M1377 1362h0M1453 1284h0M1460 1264h0M1441 1286h0M1460 1269h0M1422 1316h0M1439 1323h0M1376 1349h0M1422 1307h0M1363 1369h0M1429 1320h0M1435 1296h0M1435 1298h0M1383 1348h0M1413 1350h0M1445 1296h0M1435 1312h0M1388 1344h0M1448 1280h0M1348 1380h0M1440 1298h0M1439 1307h0M1400 1350h0M1454 1270h0M1463 1280h0M1432 1324h0M1427 1311h0M1422 1304h0M1445 1300h0M1435 1296h0M1464 1269h0M1447 1281h0M1466 1269h0M1367 1379h0M1401 1346h0M1404 1344h0M1466 1273h0M1442 1286h0M1453 1273h0M1465 1255h0M1453 1279h0M1379 1401h0M1362 1358h0M1452 1285h0M1364 1394h0M1455 1275h0M1456 1278h0M1465 1271h0M1408 1332h0M1463 1265h0M1442 1280h0M1457 1273h0M1426 1316h0M1430 1302h0M1378 1358h0M1419 1304h0M1407 1334h0M1424 1335h0M1464 1272h0M1404 1334h0M1462 1270h0M1404 1325h0M1455 1266h0M1455 1286h0M1419 1319h0M1398 1369h0M1471 1272h0M1443 1285h0M1391 1341h0M1438 1295h0M1373 1356h0M1448 1272h0M1412 1337h0M1459 1261h0M1454 1279h0M1393 1333h0M1414 1289h0M1373 1370h0M1475 1250h0M1463 1264h0M1438 1295h0M1446 1298h0M1460 1276h0M1420 1323h0M1413 1315h0M1341 1372h0M1341 1393h0M1342 1373h0M1341 1367h0M1342 1392h0M1343 1368h0M1343 1424h0M1341 1396h0M1341 1416h0M1343 1403h0M1343 1358h0M1343 1378h0M1343 1381h0M1342 1396h0M1342 1419h0M1342 1391h0M1343 1413h0M1341 1366h0M1342 1418h0M1342 1365h0M1342 1413h0M1342 1424h0M1342 1373h0M1342 1422h0M1342 1369h0M1342 1411h0M1343 1361h0M1341 1399h0M1367 1353h0M1366 1373h0M1367 1368h0M1367 1365h0M1368 1342h0M1366 1373h0M1367 1351h0M1367 1361h0M1366 1347h0M1366 1376h0M1367 1350h0M1368 1356h0M1368 1340h0M1366 1352h0M1367 1359h0M1222 1429h0M1222 1450h0M1223 1463h0M1223 1471h0M1222 1425h0M1222 1419h0M1222 1468h0M1222 1474h0M1221 1456h0M1222 1451h0M1222 1442h0M1222 1435h0M1222 1444h0M1222 1454h0M1234 1506h0M1270 1506h0M1233 1506h0M1294 1506h0M1278 1505h0M1305 1505h0M1230 1506h0M1289 1505h0M1251 1505h0M1305 1505h0M1271 1505h0M1277 1506h0M1308 1407h0M1264 1426h0M1326 1438h0M1283 1469h0M1345 1475h0M1314 1466h0M1261 1478h0M1283 1388h0M1326 1463h0M1513 1215h0M1875 1264h0M1901 1236h0M1917 1220h0M1896 1242h0M1857 1280h0M1891 1247h0M1900 1238h0M1851 1286h0M1851 1285h0M1849 1289h0M1880 1256h0M1897 1237h0M1883 1252h0M1900 1234h0M1918 1217h0M1904 1233h0M1887 1251h0M1883 1254h0M1894 1240h0M1857 1282h0M1864 1274h0M1872 1265h0M1912 1229h0M1876 1261h0M1886 1251h0M1920 1217h0M1859 1279h0M1887 1250h0M1848 1286h0M1899 1238h0M1884 1253h0M1890 1251h0M1868 1269h0M1884 1257h0M1838 1332h0M1849 1310h0M1846 1332h0M1844 1319h0M1828 1334h0M1844 1321h0M1847 1321h0M1830 1326h0M1826 1333h0M1848 1302h0M1846 1325h0M1830 1336h0M1836 1309h0M1828 1300h0M1841 1324h0M1834 1313h0M1835 1302h0M1827 1318h0M1819 1340h0M1804 1340h0M1807 1355h0M1798 1364h0M1802 1352h0M1805 1340h0M1793 1336h0M1821 1340h0M1821 1364h0M1808 1339h0M1802 1363h0M1797 1369h0M1754 1415h0M1754 1376h0M1754 1412h0M1754 1364h0M1754 1394h0M1754 1414h0M1754 1382h0M1754 1368h0M1754 1388h0M1753 1410h0M1631 1416h0M1631 1423h0M1631 1429h0M1631 1435h0M1631 1447h0M1631 1455h0M1631 1470h0M1631 1506h0M1644 1410h0M1644 1416h0M1644 1423h0M1644 1429h0M1644 1441h0M1644 1447h0M1644 1455h0M1644 1470h0M1644 1506h0M1656 1416h0M1656 1423h0M1656 1429h0M1656 1435h0M1656 1441h0M1656 1455h0M1656 1470h0M1656 1506h0M1669 1410h0M1669 1429h0M1669 1435h0M1669 1441h0M1669 1447h0M1669 1455h0M1669 1470h0M1669 1506h0M1682 1423h0M1682 1441h0M1682 1447h0M1682 1455h0M1682 1470h0M1682 1506h0M1699 1423h0M1699 1429h0M1699 1455h0M1699 1470h0M1699 1506h0M1717 1441h0M1717 1470h0M1717 1506h0M1673 1404h0M1735 1401h0M1754 1367h0M1779 1398h0M1935 1202h0M1773 1370h0M1798 1351h0" stroke="#222" stroke-width="4.199999999999999" stroke-linecap="round" fill="none"/>
<text x="435.4" y="522.9" font-size="16">MLP</text>
<text x="578.9" y="522.9" font-size="16">GMP</text>
<line x1="486.5" y1="517.5" x2="486.5" y2="541.6" stroke="#000" stroke-width="1"/>
<polyline points="484.6,537 486.5,541.6 488.4,537" fill="none" stroke="#000" stroke-width="1"/>
<line x1="622.5" y1="517.5" x2="622.5" y2="541.6" stroke="#000" stroke-width="1"/>
<polyline points="620.6,537 622.5,541.6 624.4,537" fill="none" stroke="#000" stroke-width="1"/>
<line x1="407.2" y1="518.5" x2="395.8" y2="538.4" stroke="#000" stroke-width="1"/>
<polyline points="396.4,533.4 395.8,538.4 399.8,535.4" fill="none" stroke="#000" stroke-width="1"/>
<text x="229.6" y="548.8" font-size="23" font-weight="bold">(h)</text>
<line x1="313.8" y1="545.7" x2="313.8" y2="648.6" stroke="#d9d9d9" stroke-width="1"/>
<line x1="334.6" y1="545.7" x2="334.6" y2="648.6" stroke="#d9d9d9" stroke-width="1"/>
<line x1="355.4" y1="545.7" x2="355.4" y2="648.6" stroke="#d9d9d9" stroke-width="1"/>
<line x1="376.2" y1="545.7" x2="376.2" y2="648.6" stroke="#d9d9d9" stroke-width="1"/>
<line x1="293" y1="545.7" x2="397" y2="545.7" stroke="#d9d9d9" stroke-width="1"/>
<line x1="293" y1="566.3" x2="397" y2="566.3" stroke="#d9d9d9" stroke-width="1"/>
<line x1="293" y1="586.9" x2="397" y2="586.9" stroke="#d9d9d9" stroke-width="1"/>
<line x1="293" y1="607.4" x2="397" y2="607.4" stroke="#d9d9d9" stroke-width="1"/>
<line x1="293" y1="628" x2="397" y2="628" stroke="#d9d9d9" stroke-width="1"/>
<line x1="397" y1="545.7" x2="397" y2="648.6" stroke="#d9d9d9" stroke-width="1"/>
<line x1="293" y1="545.7" x2="293" y2="648.6" stroke="#d9d9d9" stroke-width="1"/>
<rect x="293.8" y="545.2" width="64" height="16" fill="#fff"/>
<line x1="290.7" y1="545.2" x2="290.7" y2="649.1" stroke="#a6a6a6" stroke-width="1.2"/>
<line x1="287.2" y1="545.7" x2="290.7" y2="545.7" stroke="#bfbfbf" stroke-width="1"/>
<line x1="287.2" y1="566.3" x2="290.7" y2="566.3" stroke="#bfbfbf" stroke-width="1"/>
<line x1="287.2" y1="586.9" x2="290.7" y2="586.9" stroke="#bfbfbf" stroke-width="1"/>
<line x1="287.2" y1="607.4" x2="290.7" y2="607.4" stroke="#bfbfbf" stroke-width="1"/>
<line x1="287.2" y1="628" x2="290.7" y2="628" stroke="#bfbfbf" stroke-width="1"/>
<line x1="287.2" y1="648.6" x2="290.7" y2="648.6" stroke="#bfbfbf" stroke-width="1"/>
<line x1="293" y1="649.6" x2="397" y2="649.6" stroke="#bfbfbf" stroke-width="1.6"/>
<line x1="293" y1="649.6" x2="293" y2="652.6" stroke="#bfbfbf" stroke-width="1"/>
<line x1="313.8" y1="649.6" x2="313.8" y2="652.6" stroke="#bfbfbf" stroke-width="1"/>
<line x1="334.6" y1="649.6" x2="334.6" y2="652.6" stroke="#bfbfbf" stroke-width="1"/>
<line x1="355.4" y1="649.6" x2="355.4" y2="652.6" stroke="#bfbfbf" stroke-width="1"/>
<line x1="376.2" y1="649.6" x2="376.2" y2="652.6" stroke="#bfbfbf" stroke-width="1"/>
<line x1="397" y1="649.6" x2="397" y2="652.6" stroke="#bfbfbf" stroke-width="1"/>
<line x1="438" y1="545.7" x2="438" y2="648.6" stroke="#d9d9d9" stroke-width="1"/>
<line x1="458.8" y1="545.7" x2="458.8" y2="648.6" stroke="#d9d9d9" stroke-width="1"/>
<line x1="479.6" y1="545.7" x2="479.6" y2="648.6" stroke="#d9d9d9" stroke-width="1"/>
<line x1="500.4" y1="545.7" x2="500.4" y2="648.6" stroke="#d9d9d9" stroke-width="1"/>
<line x1="417.2" y1="545.7" x2="521.2" y2="545.7" stroke="#d9d9d9" stroke-width="1"/>
<line x1="417.2" y1="566.3" x2="521.2" y2="566.3" stroke="#d9d9d9" stroke-width="1"/>
<line x1="417.2" y1="586.9" x2="521.2" y2="586.9" stroke="#d9d9d9" stroke-width="1"/>
<line x1="417.2" y1="607.4" x2="521.2" y2="607.4" stroke="#d9d9d9" stroke-width="1"/>
<line x1="417.2" y1="628" x2="521.2" y2="628" stroke="#d9d9d9" stroke-width="1"/>
<line x1="521.2" y1="545.7" x2="521.2" y2="648.6" stroke="#d9d9d9" stroke-width="1"/>
<line x1="417.2" y1="545.7" x2="417.2" y2="648.6" stroke="#d9d9d9" stroke-width="1"/>
<rect x="418" y="545.2" width="64" height="16" fill="#fff"/>
<line x1="414.9" y1="545.2" x2="414.9" y2="649.1" stroke="#a6a6a6" stroke-width="1.2"/>
<line x1="411.4" y1="545.7" x2="414.9" y2="545.7" stroke="#bfbfbf" stroke-width="1"/>
<line x1="411.4" y1="566.3" x2="414.9" y2="566.3" stroke="#bfbfbf" stroke-width="1"/>
<line x1="411.4" y1="586.9" x2="414.9" y2="586.9" stroke="#bfbfbf" stroke-width="1"/>
<line x1="411.4" y1="607.4" x2="414.9" y2="607.4" stroke="#bfbfbf" stroke-width="1"/>
<line x1="411.4" y1="628" x2="414.9" y2="628" stroke="#bfbfbf" stroke-width="1"/>
<line x1="411.4" y1="648.6" x2="414.9" y2="648.6" stroke="#bfbfbf" stroke-width="1"/>
<line x1="417.2" y1="649.6" x2="521.2" y2="649.6" stroke="#bfbfbf" stroke-width="1.6"/>
<line x1="417.2" y1="649.6" x2="417.2" y2="652.6" stroke="#bfbfbf" stroke-width="1"/>
<line x1="438" y1="649.6" x2="438" y2="652.6" stroke="#bfbfbf" stroke-width="1"/>
<line x1="458.8" y1="649.6" x2="458.8" y2="652.6" stroke="#bfbfbf" stroke-width="1"/>
<line x1="479.6" y1="649.6" x2="479.6" y2="652.6" stroke="#bfbfbf" stroke-width="1"/>
<line x1="500.4" y1="649.6" x2="500.4" y2="652.6" stroke="#bfbfbf" stroke-width="1"/>
<line x1="521.2" y1="649.6" x2="521.2" y2="652.6" stroke="#bfbfbf" stroke-width="1"/>
<line x1="564.2" y1="545.7" x2="564.2" y2="648.6" stroke="#d9d9d9" stroke-width="1"/>
<line x1="585" y1="545.7" x2="585" y2="648.6" stroke="#d9d9d9" stroke-width="1"/>
<line x1="605.7" y1="545.7" x2="605.7" y2="648.6" stroke="#d9d9d9" stroke-width="1"/>
<line x1="626.5" y1="545.7" x2="626.5" y2="648.6" stroke="#d9d9d9" stroke-width="1"/>
<line x1="543.5" y1="545.7" x2="647.2" y2="545.7" stroke="#d9d9d9" stroke-width="1"/>
<line x1="543.5" y1="566.3" x2="647.2" y2="566.3" stroke="#d9d9d9" stroke-width="1"/>
<line x1="543.5" y1="586.9" x2="647.2" y2="586.9" stroke="#d9d9d9" stroke-width="1"/>
<line x1="543.5" y1="607.4" x2="647.2" y2="607.4" stroke="#d9d9d9" stroke-width="1"/>
<line x1="543.5" y1="628" x2="647.2" y2="628" stroke="#d9d9d9" stroke-width="1"/>
<line x1="647.2" y1="545.7" x2="647.2" y2="648.6" stroke="#d9d9d9" stroke-width="1"/>
<line x1="543.5" y1="545.7" x2="543.5" y2="648.6" stroke="#d9d9d9" stroke-width="1"/>
<rect x="544.3" y="545.2" width="64" height="16" fill="#fff"/>
<line x1="541.2" y1="545.2" x2="541.2" y2="649.1" stroke="#a6a6a6" stroke-width="1.2"/>
<line x1="537.7" y1="545.7" x2="541.2" y2="545.7" stroke="#bfbfbf" stroke-width="1"/>
<line x1="537.7" y1="566.3" x2="541.2" y2="566.3" stroke="#bfbfbf" stroke-width="1"/>
<line x1="537.7" y1="586.9" x2="541.2" y2="586.9" stroke="#bfbfbf" stroke-width="1"/>
<line x1="537.7" y1="607.4" x2="541.2" y2="607.4" stroke="#bfbfbf" stroke-width="1"/>
<line x1="537.7" y1="628" x2="541.2" y2="628" stroke="#bfbfbf" stroke-width="1"/>
<line x1="537.7" y1="648.6" x2="541.2" y2="648.6" stroke="#bfbfbf" stroke-width="1"/>
<line x1="543.5" y1="649.6" x2="647.2" y2="649.6" stroke="#bfbfbf" stroke-width="1.6"/>
<line x1="543.5" y1="649.6" x2="543.5" y2="652.6" stroke="#bfbfbf" stroke-width="1"/>
<line x1="564.2" y1="649.6" x2="564.2" y2="652.6" stroke="#bfbfbf" stroke-width="1"/>
<line x1="585" y1="649.6" x2="585" y2="652.6" stroke="#bfbfbf" stroke-width="1"/>
<line x1="605.7" y1="649.6" x2="605.7" y2="652.6" stroke="#bfbfbf" stroke-width="1"/>
<line x1="626.5" y1="649.6" x2="626.5" y2="652.6" stroke="#bfbfbf" stroke-width="1"/>
<line x1="647.2" y1="649.6" x2="647.2" y2="652.6" stroke="#bfbfbf" stroke-width="1"/>
<text x="299.6" y="549" font-size="16">r = 0.29</text>
<text x="418.7" y="546.6" font-size="16">r = 0.34</text>
<text x="546.4" y="546.6" font-size="16">r = 0.15</text>
<text transform="translate(285.2,552.1) scale(0.8,1)" font-size="16" text-anchor="end">10<tspan font-size="11" dy="-6">-1</tspan></text>
<text transform="translate(285.2,572.7) scale(0.8,1)" font-size="16" text-anchor="end">10<tspan font-size="11" dy="-6">-2</tspan></text>
<text transform="translate(285.2,593.3) scale(0.8,1)" font-size="16" text-anchor="end">10<tspan font-size="11" dy="-6">-3</tspan></text>
<text transform="translate(285.2,613.8) scale(0.8,1)" font-size="16" text-anchor="end">10<tspan font-size="11" dy="-6">-4</tspan></text>
<text transform="translate(285.2,634.4) scale(0.8,1)" font-size="16" text-anchor="end">10<tspan font-size="11" dy="-6">-5</tspan></text>
<text transform="translate(285.2,655) scale(0.8,1)" font-size="16" text-anchor="end">10<tspan font-size="11" dy="-6">-6</tspan></text>
<text transform="translate(259.2,599) rotate(-90)" font-size="16" text-anchor="middle">mRNA ratio</text>
<path transform="scale(.3333333)" d="M1120 1750h0M1100 1758h0M1133 1789h0M1095 1746h0M1137 1773h0M1134 1712h0M1072 1754h0M1070 1793h0M1123 1737h0M1090 1749h0M1071 1781h0M1114 1804h0M1117 1779h0M1107 1735h0M1109 1748h0M1113 1788h0M1105 1723h0M1064 1808h0M1087 1733h0M1121 1721h0M1084 1782h0M1100 1776h0M1124 1700h0M1120 1803h0M1114 1711h0M1113 1720h0M1119 1788h0M1095 1763h0M1081 1732h0M1101 1779h0M1113 1725h0M1146 1724h0M1087 1715h0M1106 1740h0M1108 1778h0M1111 1790h0M1164 1735h0M1125 1758h0M1090 1751h0M1129 1760h0M1089 1756h0M1114 1777h0M1152 1775h0M1100 1783h0M1117 1735h0M1100 1791h0M1100 1813h0M1108 1729h0M1098 1752h0M1090 1731h0M1114 1757h0M1094 1749h0M1091 1736h0M1119 1745h0M1121 1727h0M1113 1801h0M1144 1773h0M1065 1756h0M1106 1725h0M1118 1752h0M928 1783h0M1012 1811h0M1133 1715h0M913 1701h0M927 1913h0M960 1785h0M947 1887h0M1133 1840h0M914 1825h0M972 1885h0M1171 1736h0M1055 1848h0M1067 1922h0M1146 1825h0M1009 1851h0M1106 1727h0M896 1832h0M959 1710h0M1049 1867h0M1123 1818h0M1095 1908h0M960 1911h0M1045 1846h0M972 1822h0M919 1742h0M890 1909h0M887 1781h0M889 1910h0M888 1864h0M889 1868h0M891 1876h0M885 1907h0M885 1855h0M890 1745h0M891 1884h0M996 1945h0M1054 1945h0M1094 1945h0M970 1946h0M1143 1945h0M1027 1945h0M985 1945h0M1139 1945h0M881 1945h0M906 1945h0M1117 1945h0M1057 1945h0M921 1946h0M1050 1945h0M1110 1945h0M924 1945h0M891 1945h0M916 1945h0M1091 1945h0M919 1945h0M933 1945h0M1150 1945h0M1058 1945h0M888 1945h0M1031 1945h0M907 1945h0M1161 1945h0M957 1945h0M1089 1946h0M1157 1946h0M1130 1945h0M1028 1945h0M937 1945h0M1052 1945h0M924 1946h0M1074 1945h0M1062 1946h0M1110 1946h0M1026 1945h0M1053 1946h0M1135 1945h0M1063 1946h0M925 1946h0M1040 1945h0M950 1945h0M1168 1945h0M993 1945h0M1138 1945h0M1012 1945h0M953 1945h0M924 1945h0M978 1945h0M946 1945h0M972 1945h0M962 1946h0M1034 1945h0M896 1945h0M1148 1945h0M932 1945h0M957 1945h0M945 1945h0M941 1945h0M1084 1945h0M990 1946h0M1039 1945h0M1134 1945h0M1104 1946h0M907 1945h0M1104 1945h0M922 1945h0M1161 1945h0M1056 1945h0M1067 1945h0M880 1945h0M999 1945h0M1100 1945h0M989 1945h0M1106 1946h0M917 1945h0M920 1945h0M1052 1945h0M885 1945h0M981 1945h0M1043 1945h0M950 1945h0M918 1945h0M1009 1945h0M1102 1946h0M989 1945h0M961 1945h0M1030 1945h0M1154 1945h0M1106 1945h0M917 1945h0M892 1945h0M1109 1945h0M1059 1946h0M1086 1946h0M1072 1945h0M1116 1945h0M1069 1946h0M1120 1945h0M1126 1945h0M1077 1945h0M1017 1945h0M894 1946h0M1142 1945h0M1106 1945h0M1159 1945h0M1122 1945h0M941 1945h0M965 1946h0M958 1945h0M1037 1945h0M1138 1945h0M998 1945h0M977 1945h0M902 1946h0M975 1945h0M1091 1945h0M1474 1785h0M1483 1780h0M1473 1697h0M1433 1785h0M1422 1752h0M1414 1708h0M1467 1704h0M1427 1743h0M1473 1771h0M1440 1782h0M1539 1764h0M1492 1699h0M1461 1734h0M1443 1736h0M1455 1784h0M1426 1752h0M1425 1738h0M1391 1782h0M1441 1796h0M1451 1720h0M1450 1734h0M1528 1725h0M1476 1754h0M1398 1741h0M1459 1776h0M1464 1732h0M1439 1734h0M1381 1723h0M1466 1777h0M1467 1752h0M1369 1710h0M1437 1724h0M1492 1712h0M1436 1751h0M1457 1733h0M1466 1757h0M1479 1780h0M1434 1757h0M1488 1768h0M1459 1739h0M1460 1737h0M1398 1716h0M1433 1733h0M1432 1775h0M1451 1751h0M1458 1747h0M1440 1738h0M1437 1721h0M1413 1830h0M1424 1755h0M1471 1720h0M1490 1723h0M1486 1765h0M1444 1709h0M1471 1758h0M1444 1749h0M1429 1797h0M1469 1686h0M1428 1778h0M1342 1731h0M1473 1759h0M1432 1725h0M1451 1792h0M1432 1721h0M1486 1746h0M1343 1744h0M1443 1750h0M1420 1729h0M1438 1745h0M1390 1765h0M1474 1747h0M1474 1730h0M1479 1717h0M1482 1721h0M1431 1746h0M1453 1761h0M1418 1728h0M1478 1785h0M1432 1753h0M1498 1700h0M1420 1730h0M1469 1778h0M1396 1745h0M1457 1787h0M1420 1795h0M1535 1764h0M1446 1759h0M1420 1751h0M1489 1726h0M1401 1731h0M1394 1746h0M1476 1740h0M1500 1772h0M1476 1745h0M1511 1730h0M1443 1750h0M1467 1782h0M1447 1802h0M1428 1749h0M1436 1763h0M1519 1773h0M1478 1749h0M1444 1726h0M1476 1755h0M1445 1734h0M1420 1776h0M1414 1697h0M1397 1735h0M1495 1719h0M1442 1741h0M1396 1715h0M1439 1752h0M1540 1702h0M1493 1720h0M1445 1771h0M1493 1778h0M1404 1775h0M1445 1726h0M1362 1753h0M1485 1745h0M1447 1752h0M1455 1730h0M1501 1732h0M1414 1717h0M1424 1734h0M1393 1793h0M1556 1718h0M1416 1728h0M1401 1768h0M1512 1754h0M1496 1708h0M1415 1763h0M1385 1765h0M1498 1735h0M1383 1708h0M1385 1729h0M1414 1741h0M1417 1809h0M1469 1764h0M1416 1719h0M1483 1740h0M1418 1789h0M1485 1748h0M1459 1766h0M1419 1738h0M1478 1791h0M1462 1742h0M1421 1676h0M1391 1731h0M1480 1756h0M1510 1769h0M1440 1776h0M1307 1853h0M1364 1823h0M1359 1713h0M1328 1858h0M1456 1706h0M1487 1832h0M1383 1815h0M1352 1841h0M1463 1790h0M1506 1824h0M1329 1700h0M1500 1813h0M1364 1790h0M1412 1820h0M1346 1828h0M1492 1732h0M1436 1777h0M1438 1692h0M1491 1820h0M1508 1712h0M1371 1711h0M1387 1703h0M1457 1796h0M1420 1870h0M1469 1766h0M1394 1801h0M1375 1824h0M1374 1776h0M1346 1709h0M1396 1784h0M1366 1790h0M1473 1691h0M1365 1767h0M1352 1771h0M1358 1764h0M1437 1852h0M1483 1783h0M1372 1727h0M1465 1714h0M1359 1768h0M1437 1706h0M1408 1743h0M1298 1738h0M1304 1746h0M1409 1810h0M1472 1728h0M1304 1840h0M1459 1775h0M1334 1754h0M1327 1789h0M1362 1827h0M1341 1801h0M1381 1831h0M1501 1757h0M1488 1815h0M1432 1767h0M1426 1827h0M1378 1794h0M1327 1911h0M1289 1912h0M1395 1912h0M1376 1912h0M1296 1912h0M1429 1912h0M1309 1912h0M1385 1912h0M1390 1912h0M1354 1912h0M1435 1912h0M1385 1912h0M1469 1912h0M1450 1912h0M1372 1912h0M1393 1912h0M1324 1912h0M1433 1911h0M1340 1911h0M1476 1912h0M1481 1912h0M1405 1912h0M1309 1912h0M1396 1912h0M1449 1911h0M1357 1912h0M1436 1912h0M1450 1912h0M1461 1912h0M1322 1911h0M1420 1912h0M1290 1912h0M1310 1912h0M1470 1912h0M1301 1911h0M1311 1911h0M1379 1912h0M1374 1912h0M1473 1912h0M1297 1912h0M1386 1896h0M1287 1897h0M1444 1897h0M1298 1897h0M1366 1896h0M1372 1896h0M1408 1896h0M1305 1896h0M1352 1896h0M1347 1896h0M1279 1897h0M1280 1794h0M1280 1856h0M1280 1836h0M1280 1712h0M1280 1854h0M1280 1836h0M1280 1885h0M1279 1878h0M1292 1828h0M1292 1846h0M1292 1890h0M1293 1790h0M1292 1804h0M1292 1723h0M1292 1838h0M1292 1733h0M1314 1743h0M1314 1856h0M1313 1783h0M1314 1857h0M1314 1788h0M1314 1859h0M1420 1946h0M1519 1945h0M1467 1945h0M1391 1946h0M1336 1945h0M1436 1945h0M1459 1946h0M1346 1945h0M1353 1945h0M1397 1946h0M1367 1946h0M1444 1945h0M1348 1945h0M1315 1945h0M1482 1945h0M1376 1946h0M1418 1945h0M1485 1945h0M1508 1945h0M1312 1945h0M1424 1946h0M1435 1945h0M1429 1946h0M1511 1945h0M1439 1945h0M1507 1945h0M1374 1945h0M1373 1945h0M1417 1945h0M1371 1945h0M1491 1945h0M1289 1945h0M1468 1946h0M1296 1946h0M1462 1945h0M1510 1945h0M1493 1945h0M1330 1945h0M1382 1945h0M1309 1946h0M1348 1945h0M1466 1946h0M1393 1945h0M1426 1946h0M1468 1946h0M1362 1945h0M1462 1945h0M1282 1945h0M1266 1945h0M1397 1945h0M1320 1945h0M1293 1945h0M1258 1945h0M1318 1946h0M1345 1946h0M1477 1945h0M1291 1945h0M1407 1945h0M1396 1945h0M1515 1946h0M1322 1945h0M1287 1945h0M1294 1945h0M1508 1945h0M1410 1945h0M1418 1946h0M1275 1945h0M1405 1945h0M1493 1946h0M1509 1945h0M1405 1946h0M1409 1946h0M1414 1945h0M1375 1945h0M1403 1946h0M1334 1945h0M1280 1946h0M1393 1946h0M1480 1945h0M1445 1946h0M1366 1945h0M1443 1946h0M1476 1946h0M1412 1945h0M1383 1945h0M1344 1946h0M1442 1946h0M1265 1945h0M1417 1945h0M1290 1945h0M1397 1945h0M1520 1946h0M1259 1945h0M1461 1946h0M1255 1945h0M1306 1945h0M1271 1945h0M1279 1946h0M1509 1945h0M1431 1945h0M1346 1945h0M1276 1945h0M1309 1945h0M1348 1945h0M1266 1945h0M1388 1945h0M1400 1946h0M1424 1945h0M1352 1945h0M1345 1945h0M1336 1945h0M1488 1945h0M1393 1945h0M1317 1945h0M1370 1945h0M1495 1945h0M1463 1945h0M1253 1946h0M1285 1945h0M1390 1945h0M1286 1946h0M1408 1945h0M1518 1945h0M1345 1945h0M1433 1945h0M1488 1945h0M1331 1945h0M1490 1945h0M1355 1945h0M1508 1945h0M1354 1945h0M1409 1946h0M1307 1945h0M1321 1945h0M1357 1946h0M1373 1946h0M1305 1945h0M1262 1945h0M1365 1945h0M1353 1945h0M1408 1945h0M1455 1946h0M1469 1945h0M1333 1946h0M1339 1946h0M1484 1945h0M1383 1945h0M1348 1946h0M1329 1945h0M1502 1945h0M1798 1796h0M1803 1667h0M1792 1746h0M1801 1705h0M1787 1849h0M1788 1737h0M1813 1778h0M1812 1841h0M1800 1679h0M1795 1759h0M1795 1735h0M1789 1774h0M1790 1764h0M1784 1704h0M1804 1728h0M1803 1796h0M1806 1688h0M1803 1869h0M1792 1663h0M1790 1786h0M1806 1744h0M1776 1662h0M1787 1703h0M1792 1791h0M1799 1670h0M1797 1835h0M1798 1684h0M1804 1730h0M1789 1822h0M1805 1686h0M1811 1764h0M1792 1785h0M1790 1659h0M1801 1667h0M1793 1781h0M1819 1706h0M1798 1808h0M1799 1685h0M1807 1848h0M1795 1693h0M1819 1718h0M1781 1812h0M1791 1748h0M1817 1726h0M1799 1789h0M1808 1762h0M1795 1676h0M1814 1855h0M1804 1868h0M1787 1702h0M1819 1688h0M1844 1700h0M1797 1682h0M1791 1695h0M1801 1681h0M1802 1676h0M1838 1691h0M1791 1678h0M1847 1697h0M1845 1691h0M1847 1674h0M1855 1702h0M1847 1670h0M1834 1660h0M1800 1667h0M1784 1670h0M1789 1658h0M1827 1685h0M1855 1682h0M1791 1671h0M1820 1686h0M1782 1685h0M1900 1673h0M1646 1795h0M1871 1801h0M1745 1774h0M1747 1756h0M1693 1704h0M1726 1839h0M1908 1666h0M1797 1739h0M1913 1760h0M1699 1771h0M1771 1835h0M1739 1803h0M1634 1853h0M1822 1823h0M1687 1779h0M1763 1829h0M1920 1799h0M1640 1794h0M1882 1689h0M1774 1836h0M1794 1722h0M1735 1742h0M1723 1750h0M1786 1688h0M1631 1707h0M1632 1836h0M1632 1759h0M1632 1856h0M1632 1739h0M1632 1821h0M1632 1848h0M1631 1878h0M1632 1794h0M1632 1696h0M1632 1884h0M1632 1867h0M1632 1830h0M1632 1881h0M1632 1726h0M1631 1794h0M1632 1709h0M1632 1802h0M1632 1710h0M1632 1860h0M1632 1672h0M1631 1731h0M1631 1720h0M1632 1856h0M1632 1853h0M1771 1877h0M1830 1878h0M1785 1877h0M1754 1878h0M1815 1878h0M1786 1878h0M1723 1878h0M1837 1878h0M1733 1878h0M1760 1878h0M1839 1877h0M1727 1878h0M1737 1878h0M1800 1878h0M1633 1884h0M1667 1884h0M1749 1884h0M1684 1884h0M1674 1884h0M1703 1884h0M1649 1884h0M1807 1884h0M1808 1884h0M1771 1884h0M1656 1884h0M1771 1884h0M1735 1884h0M1812 1884h0M1818 1884h0M1792 1884h0M1794 1884h0M1713 1884h0M1743 1884h0M1834 1884h0M1654 1884h0M1729 1884h0M1664 1884h0M1666 1884h0M1780 1884h0M1695 1884h0M1778 1884h0M1745 1884h0M1798 1884h0M1822 1884h0M1710 1884h0M1642 1884h0M1664 1884h0M1776 1885h0M1744 1884h0M1754 1884h0M1771 1884h0M1726 1884h0M1717 1884h0M1826 1884h0M1720 1884h0M1795 1884h0M1786 1884h0M1712 1884h0M1741 1884h0M1734 1896h0M1756 1895h0M1857 1896h0M1700 1896h0M1863 1896h0M1803 1896h0M1867 1896h0M1825 1895h0M1790 1896h0M1713 1896h0M1813 1896h0M1646 1896h0M1786 1896h0M1773 1895h0M1832 1896h0M1682 1896h0M1699 1896h0M1706 1895h0M1664 1896h0M1705 1896h0M1761 1896h0M1825 1896h0M1649 1896h0M1794 1895h0M1690 1896h0M1789 1896h0M1799 1895h0M1687 1896h0M1849 1896h0M1724 1895h0M1650 1896h0M1745 1896h0M1832 1896h0M1806 1896h0M1759 1895h0M1832 1896h0M1772 1896h0M1705 1896h0M1753 1896h0M1700 1895h0M1800 1896h0M1781 1896h0M1691 1895h0M1736 1895h0M1823 1896h0M1637 1896h0M1668 1895h0M1661 1896h0M1744 1896h0M1665 1895h0M1653 1895h0M1767 1896h0M1654 1896h0M1637 1895h0M1697 1896h0M1836 1896h0M1681 1896h0M1741 1896h0M1687 1896h0M1817 1896h0M1800 1895h0M1749 1896h0M1638 1896h0M1751 1896h0M1813 1896h0M1671 1896h0M1730 1896h0M1818 1896h0M1746 1896h0M1763 1895h0M1791 1895h0M1783 1896h0M1810 1896h0M1784 1896h0M1803 1895h0M1794 1895h0M1814 1896h0M1810 1896h0M1810 1896h0M1787 1896h0M1782 1896h0M1789 1896h0M1794 1895h0M1791 1896h0M1815 1896h0M1800 1896h0M1786 1896h0M1814 1896h0M1799 1896h0M1781 1895h0M1804 1896h0M1810 1895h0M1791 1896h0M1781 1895h0M1780 1896h0M1763 1910h0M1656 1911h0M1753 1910h0M1669 1910h0M1780 1910h0M1705 1911h0M1677 1911h0M1690 1911h0M1839 1911h0M1675 1910h0M1768 1911h0M1795 1911h0M1692 1911h0M1692 1911h0M1699 1910h0M1759 1911h0M1654 1910h0M1689 1911h0M1809 1911h0M1798 1911h0M1825 1911h0M1837 1911h0M1663 1911h0M1702 1911h0M1762 1911h0M1676 1910h0M1653 1910h0M1805 1911h0M1827 1911h0M1650 1910h0M1689 1911h0M1826 1911h0M1766 1911h0M1767 1910h0M1811 1911h0M1752 1911h0M1757 1911h0M1700 1910h0M1809 1911h0M1833 1911h0M1754 1911h0M1823 1910h0M1730 1910h0M1747 1910h0M1827 1910h0M1679 1910h0M1664 1911h0M1773 1910h0M1657 1911h0M1676 1911h0M1632 1911h0M1840 1910h0M1712 1910h0M1740 1911h0M1742 1911h0M1638 1911h0M1638 1911h0M1758 1910h0M1752 1911h0M1815 1911h0M1689 1911h0M1673 1911h0M1821 1910h0M1781 1911h0M1731 1911h0M1707 1911h0M1706 1911h0M1722 1910h0M1762 1911h0M1731 1911h0M1745 1910h0M1770 1911h0M1692 1911h0M1731 1911h0M1688 1911h0M1837 1910h0M1635 1911h0M1669 1911h0M1814 1911h0M1744 1910h0M1756 1945h0M1819 1946h0M1664 1946h0M1637 1945h0M1763 1945h0M1748 1945h0M1729 1945h0M1750 1946h0M1676 1945h0M1646 1945h0M1751 1945h0M1761 1945h0M1716 1946h0M1645 1945h0M1754 1946h0M1712 1945h0M1751 1945h0M1643 1945h0M1631 1945h0M1763 1946h0M1688 1945h0M1670 1946h0M1697 1945h0M1750 1946h0M1644 1945h0M1825 1945h0M1761 1945h0M1710 1946h0M1803 1945h0M1759 1946h0M1643 1945h0M1818 1946h0M1754 1946h0M1798 1945h0M1756 1945h0M1788 1945h0M1691 1946h0M1762 1946h0M1638 1945h0M1766 1945h0M1720 1945h0M1772 1945h0M1791 1946h0M1679 1945h0M1730 1945h0M1675 1945h0M1653 1946h0M1645 1946h0M1680 1946h0M1762 1945h0M1673 1946h0M1635 1946h0M1689 1945h0M1792 1945h0M1713 1946h0M1694 1945h0M1710 1945h0M1664 1946h0M1741 1945h0M1787 1945h0M1682 1945h0M1811 1945h0M1664 1946h0M1648 1946h0M1802 1945h0M1659 1946h0M1686 1945h0M1820 1945h0M1828 1946h0M1816 1945h0M1675 1945h0M1646 1946h0M1776 1945h0M1699 1945h0M1720 1946h0M1744 1945h0M1701 1945h0M1699 1945h0M1692 1945h0M1711 1945h0M1816 1945h0M1661 1945h0M1685 1945h0M1802 1945h0M1675 1946h0M1694 1945h0M1781 1945h0M1769 1946h0M1761 1945h0M1795 1946h0M1702 1945h0M1735 1945h0M1633 1946h0M1817 1946h0M1739 1946h0M1633 1945h0M1755 1945h0M1727 1945h0M1786 1945h0M1652 1945h0M1670 1945h0M1708 1945h0M1664 1945h0M1692 1945h0M1758 1945h0M1781 1945h0M1825 1946h0M1750 1946h0M1816 1945h0M1811 1945h0M1680 1945h0M1659 1945h0M1749 1945h0M1707 1946h0M1734 1945h0M1771 1945h0M1634 1946h0M1686 1945h0M1719 1946h0M1791 1945h0M1673 1945h0M1753 1945h0M1714 1945h0M1704 1945h0M1741 1946h0M1684 1945h0M1686 1946h0M1763 1945h0M1742 1945h0M1740 1945h0M1821 1945h0M1664 1946h0M1686 1945h0M1755 1945h0M1816 1945h0M1689 1945h0M1758 1945h0M1671 1945h0M1717 1945h0M1672 1945h0M1745 1946h0M1778 1946h0M1636 1945h0M1764 1945h0M1773 1945h0M1673 1945h0M1827 1945h0M1777 1945h0M1782 1946h0M1700 1945h0M1881 1945h0M1864 1946h0M1879 1946h0M1851 1945h0M1875 1946h0M1848 1945h0M1865 1945h0M1881 1945h0M1835 1945h0M1854 1945h0" stroke="#333" stroke-width="4.199999999999999" stroke-linecap="round" fill="none"/>
<line x1="543.5" y1="631.9" x2="618.2" y2="631.9" stroke="#000" stroke-width="1.4"/>
<line x1="543.5" y1="636.9" x2="611.9" y2="636.9" stroke="#000" stroke-width="1.4"/>
<line x1="293.4" y1="561.8" x2="293.4" y2="608.7" stroke="#000" stroke-width="2.0"/>
<line x1="417.6" y1="564.2" x2="417.6" y2="607.4" stroke="#000" stroke-width="2.0"/>
<line x1="543.9" y1="613.6" x2="543.9" y2="628" stroke="#000" stroke-width="2.0"/>
<line x1="293.4" y1="608.7" x2="293.4" y2="641.4" stroke="#000" stroke-width="1.6" stroke-dasharray="1.5 1.5"/>
<line x1="417.6" y1="607.4" x2="417.6" y2="638.3" stroke="#000" stroke-width="1.6" stroke-dasharray="1.5 1.5"/>
<line x1="293" y1="648.3" x2="376.2" y2="648.3" stroke="#000" stroke-width="1.4"/>
<line x1="417.2" y1="648.3" x2="494.2" y2="648.3" stroke="#000" stroke-width="1.4"/>
<line x1="543.5" y1="648.3" x2="609.9" y2="648.3" stroke="#000" stroke-width="1.4"/>
<polygon points="340.2,654.3 349,654.3 349,659 354.6,659 344.6,666.5 334.6,659 340.2,659" fill="#7f7f7f"/>
<polygon points="465.5,654.6 474.3,654.6 474.3,658.3 479.9,658.3 469.9,665.8 459.9,658.3 465.5,658.3" fill="#7f7f7f"/>
<polygon points="593.2,654.6 602,654.6 602,658.3 607.6,658.3 597.6,665.8 587.6,658.3 593.2,658.3" fill="#7f7f7f"/>
<text x="497.8" y="665.8" font-size="16">β = 1</text>
<text x="229" y="679" font-size="24" font-weight="bold">(i)</text>
<line x1="313.8" y1="669.5" x2="313.8" y2="773.9" stroke="#d9d9d9" stroke-width="1"/>
<line x1="334.6" y1="669.5" x2="334.6" y2="773.9" stroke="#d9d9d9" stroke-width="1"/>
<line x1="355.4" y1="669.5" x2="355.4" y2="773.9" stroke="#d9d9d9" stroke-width="1"/>
<line x1="376.2" y1="669.5" x2="376.2" y2="773.9" stroke="#d9d9d9" stroke-width="1"/>
<line x1="293" y1="669.5" x2="397" y2="669.5" stroke="#d9d9d9" stroke-width="1"/>
<line x1="293" y1="690.4" x2="397" y2="690.4" stroke="#d9d9d9" stroke-width="1"/>
<line x1="293" y1="711.3" x2="397" y2="711.3" stroke="#d9d9d9" stroke-width="1"/>
<line x1="293" y1="732.1" x2="397" y2="732.1" stroke="#d9d9d9" stroke-width="1"/>
<line x1="293" y1="753" x2="397" y2="753" stroke="#d9d9d9" stroke-width="1"/>
<line x1="397" y1="669.5" x2="397" y2="773.9" stroke="#d9d9d9" stroke-width="1"/>
<line x1="293" y1="669.5" x2="293" y2="773.9" stroke="#d9d9d9" stroke-width="1"/>
<rect x="293.8" y="670" width="64" height="19" fill="#fff"/>
<line x1="290.7" y1="669" x2="290.7" y2="774.4" stroke="#a6a6a6" stroke-width="1.2"/>
<line x1="287.2" y1="669.5" x2="290.7" y2="669.5" stroke="#bfbfbf" stroke-width="1"/>
<line x1="287.2" y1="690.4" x2="290.7" y2="690.4" stroke="#bfbfbf" stroke-width="1"/>
<line x1="287.2" y1="711.3" x2="290.7" y2="711.3" stroke="#bfbfbf" stroke-width="1"/>
<line x1="287.2" y1="732.1" x2="290.7" y2="732.1" stroke="#bfbfbf" stroke-width="1"/>
<line x1="287.2" y1="753" x2="290.7" y2="753" stroke="#bfbfbf" stroke-width="1"/>
<line x1="287.2" y1="773.9" x2="290.7" y2="773.9" stroke="#bfbfbf" stroke-width="1"/>
<line x1="293" y1="774.9" x2="397" y2="774.9" stroke="#bfbfbf" stroke-width="1.6"/>
<line x1="293" y1="774.9" x2="293" y2="777.9" stroke="#bfbfbf" stroke-width="1"/>
<line x1="313.8" y1="774.9" x2="313.8" y2="777.9" stroke="#bfbfbf" stroke-width="1"/>
<line x1="334.6" y1="774.9" x2="334.6" y2="777.9" stroke="#bfbfbf" stroke-width="1"/>
<line x1="355.4" y1="774.9" x2="355.4" y2="777.9" stroke="#bfbfbf" stroke-width="1"/>
<line x1="376.2" y1="774.9" x2="376.2" y2="777.9" stroke="#bfbfbf" stroke-width="1"/>
<line x1="397" y1="774.9" x2="397" y2="777.9" stroke="#bfbfbf" stroke-width="1"/>
<line x1="438" y1="669.5" x2="438" y2="773.9" stroke="#d9d9d9" stroke-width="1"/>
<line x1="458.8" y1="669.5" x2="458.8" y2="773.9" stroke="#d9d9d9" stroke-width="1"/>
<line x1="479.6" y1="669.5" x2="479.6" y2="773.9" stroke="#d9d9d9" stroke-width="1"/>
<line x1="500.4" y1="669.5" x2="500.4" y2="773.9" stroke="#d9d9d9" stroke-width="1"/>
<line x1="417.2" y1="669.5" x2="521.2" y2="669.5" stroke="#d9d9d9" stroke-width="1"/>
<line x1="417.2" y1="690.4" x2="521.2" y2="690.4" stroke="#d9d9d9" stroke-width="1"/>
<line x1="417.2" y1="711.3" x2="521.2" y2="711.3" stroke="#d9d9d9" stroke-width="1"/>
<line x1="417.2" y1="732.1" x2="521.2" y2="732.1" stroke="#d9d9d9" stroke-width="1"/>
<line x1="417.2" y1="753" x2="521.2" y2="753" stroke="#d9d9d9" stroke-width="1"/>
<line x1="521.2" y1="669.5" x2="521.2" y2="773.9" stroke="#d9d9d9" stroke-width="1"/>
<line x1="417.2" y1="669.5" x2="417.2" y2="773.9" stroke="#d9d9d9" stroke-width="1"/>
<rect x="418" y="670" width="64" height="19" fill="#fff"/>
<line x1="414.9" y1="669" x2="414.9" y2="774.4" stroke="#a6a6a6" stroke-width="1.2"/>
<line x1="411.4" y1="669.5" x2="414.9" y2="669.5" stroke="#bfbfbf" stroke-width="1"/>
<line x1="411.4" y1="690.4" x2="414.9" y2="690.4" stroke="#bfbfbf" stroke-width="1"/>
<line x1="411.4" y1="711.3" x2="414.9" y2="711.3" stroke="#bfbfbf" stroke-width="1"/>
<line x1="411.4" y1="732.1" x2="414.9" y2="732.1" stroke="#bfbfbf" stroke-width="1"/>
<line x1="411.4" y1="753" x2="414.9" y2="753" stroke="#bfbfbf" stroke-width="1"/>
<line x1="411.4" y1="773.9" x2="414.9" y2="773.9" stroke="#bfbfbf" stroke-width="1"/>
<line x1="417.2" y1="774.9" x2="521.2" y2="774.9" stroke="#bfbfbf" stroke-width="1.6"/>
<line x1="417.2" y1="774.9" x2="417.2" y2="777.9" stroke="#bfbfbf" stroke-width="1"/>
<line x1="438" y1="774.9" x2="438" y2="777.9" stroke="#bfbfbf" stroke-width="1"/>
<line x1="458.8" y1="774.9" x2="458.8" y2="777.9" stroke="#bfbfbf" stroke-width="1"/>
<line x1="479.6" y1="774.9" x2="479.6" y2="777.9" stroke="#bfbfbf" stroke-width="1"/>
<line x1="500.4" y1="774.9" x2="500.4" y2="777.9" stroke="#bfbfbf" stroke-width="1"/>
<line x1="521.2" y1="774.9" x2="521.2" y2="777.9" stroke="#bfbfbf" stroke-width="1"/>
<line x1="564.2" y1="669.5" x2="564.2" y2="773.9" stroke="#d9d9d9" stroke-width="1"/>
<line x1="585" y1="669.5" x2="585" y2="773.9" stroke="#d9d9d9" stroke-width="1"/>
<line x1="605.7" y1="669.5" x2="605.7" y2="773.9" stroke="#d9d9d9" stroke-width="1"/>
<line x1="626.5" y1="669.5" x2="626.5" y2="773.9" stroke="#d9d9d9" stroke-width="1"/>
<line x1="543.5" y1="669.5" x2="647.2" y2="669.5" stroke="#d9d9d9" stroke-width="1"/>
<line x1="543.5" y1="690.4" x2="647.2" y2="690.4" stroke="#d9d9d9" stroke-width="1"/>
<line x1="543.5" y1="711.3" x2="647.2" y2="711.3" stroke="#d9d9d9" stroke-width="1"/>
<line x1="543.5" y1="732.1" x2="647.2" y2="732.1" stroke="#d9d9d9" stroke-width="1"/>
<line x1="543.5" y1="753" x2="647.2" y2="753" stroke="#d9d9d9" stroke-width="1"/>
<line x1="647.2" y1="669.5" x2="647.2" y2="773.9" stroke="#d9d9d9" stroke-width="1"/>
<line x1="543.5" y1="669.5" x2="543.5" y2="773.9" stroke="#d9d9d9" stroke-width="1"/>
<rect x="544.3" y="670" width="64" height="19" fill="#fff"/>
<line x1="541.2" y1="669" x2="541.2" y2="774.4" stroke="#a6a6a6" stroke-width="1.2"/>
<line x1="537.7" y1="669.5" x2="541.2" y2="669.5" stroke="#bfbfbf" stroke-width="1"/>
<line x1="537.7" y1="690.4" x2="541.2" y2="690.4" stroke="#bfbfbf" stroke-width="1"/>
<line x1="537.7" y1="711.3" x2="541.2" y2="711.3" stroke="#bfbfbf" stroke-width="1"/>
<line x1="537.7" y1="732.1" x2="541.2" y2="732.1" stroke="#bfbfbf" stroke-width="1"/>
<line x1="537.7" y1="753" x2="541.2" y2="753" stroke="#bfbfbf" stroke-width="1"/>
<line x1="537.7" y1="773.9" x2="541.2" y2="773.9" stroke="#bfbfbf" stroke-width="1"/>
<line x1="543.5" y1="774.9" x2="647.2" y2="774.9" stroke="#bfbfbf" stroke-width="1.6"/>
<line x1="543.5" y1="774.9" x2="543.5" y2="777.9" stroke="#bfbfbf" stroke-width="1"/>
<line x1="564.2" y1="774.9" x2="564.2" y2="777.9" stroke="#bfbfbf" stroke-width="1"/>
<line x1="585" y1="774.9" x2="585" y2="777.9" stroke="#bfbfbf" stroke-width="1"/>
<line x1="605.7" y1="774.9" x2="605.7" y2="777.9" stroke="#bfbfbf" stroke-width="1"/>
<line x1="626.5" y1="774.9" x2="626.5" y2="777.9" stroke="#bfbfbf" stroke-width="1"/>
<line x1="647.2" y1="774.9" x2="647.2" y2="777.9" stroke="#bfbfbf" stroke-width="1"/>
<text x="297.6" y="682.7" font-size="16">r = 0.97</text>
<text x="418.7" y="683.7" font-size="16">r = 0.91</text>
<text x="547.7" y="683.7" font-size="16">r = 0.86</text>
<text transform="translate(285.2,675.9) scale(0.8,1)" font-size="16" text-anchor="end">10<tspan font-size="11" dy="-6">-1</tspan></text>
<text transform="translate(285.2,696.8) scale(0.8,1)" font-size="16" text-anchor="end">10<tspan font-size="11" dy="-6">-2</tspan></text>
<text transform="translate(285.2,717.7) scale(0.8,1)" font-size="16" text-anchor="end">10<tspan font-size="11" dy="-6">-3</tspan></text>
<text transform="translate(285.2,738.5) scale(0.8,1)" font-size="16" text-anchor="end">10<tspan font-size="11" dy="-6">-4</tspan></text>
<text transform="translate(285.2,759.4) scale(0.8,1)" font-size="16" text-anchor="end">10<tspan font-size="11" dy="-6">-5</tspan></text>
<text transform="translate(285.2,780.3) scale(0.8,1)" font-size="16" text-anchor="end">10<tspan font-size="11" dy="-6">-6</tspan></text>
<text transform="translate(259.2,722) rotate(-90)" font-size="16" text-anchor="middle">mRNA ratio</text>
<line x1="543.5" y1="752.6" x2="591.2" y2="752.6" stroke="#000" stroke-width="1.3"/>
<line x1="543.5" y1="756.2" x2="580.8" y2="756.2" stroke="#000" stroke-width="1.3"/>
<line x1="543.5" y1="761.2" x2="587.1" y2="761.2" stroke="#000" stroke-width="1.3"/>
<line x1="543.5" y1="772.9" x2="568.4" y2="772.9" stroke="#000" stroke-width="1.3"/>
<path transform="scale(.3333333)" d="M1104 2098h0M1135 2063h0M1072 2129h0M1074 2127h0M1131 2070h0M1122 2082h0M1098 2107h0M1122 2093h0M1054 2145h0M1114 2098h0M1090 2105h0M1085 2121h0M1092 2120h0M1106 2100h0M1133 2070h0M1086 2121h0M1117 2086h0M1063 2142h0M1089 2115h0M1102 2103h0M1129 2069h0M1070 2136h0M1057 2142h0M1132 2077h0M1122 2082h0M1112 2094h0M1139 2063h0M1085 2121h0M1114 2094h0M1154 2055h0M1123 2091h0M1066 2134h0M1102 2105h0M1099 2102h0M1122 2088h0M1136 2073h0M1102 2099h0M1075 2128h0M1104 2106h0M1109 2099h0M1113 2086h0M1072 2128h0M1106 2102h0M1112 2092h0M1121 2093h0M1130 2083h0M1073 2136h0M1115 2094h0M1088 2125h0M1140 2060h0M1099 2107h0M1117 2088h0M1162 2044h0M1090 2116h0M1067 2143h0M1090 2111h0M1102 2100h0M1065 2147h0M1124 2081h0M1150 2055h0M1109 2113h0M1086 2116h0M1097 2107h0M1091 2112h0M1087 2112h0M1124 2071h0M1128 2077h0M1120 2082h0M1110 2091h0M1124 2079h0M1121 2079h0M1060 2137h0M1079 2136h0M1093 2112h0M1128 2090h0M1138 2065h0M1100 2106h0M1136 2070h0M1128 2080h0M1069 2134h0M1091 2118h0M1132 2075h0M1130 2077h0M1084 2120h0M1082 2112h0M1091 2117h0M1116 2093h0M1151 2058h0M1143 2064h0M1085 2125h0M1129 2075h0M1165 2048h0M1063 2141h0M1132 2069h0M1098 2112h0M1142 2064h0M1091 2122h0M1123 2078h0M1068 2147h0M1143 2072h0M1119 2086h0M1094 2110h0M1114 2095h0M1164 2046h0M1091 2113h0M1135 2073h0M1099 2104h0M1130 2079h0M1102 2104h0M1143 2063h0M1132 2073h0M1136 2069h0M1125 2074h0M1119 2093h0M1141 2066h0M1136 2074h0M1075 2132h0M1105 2098h0M1078 2134h0M1136 2074h0M1136 2074h0M1083 2124h0M1072 2124h0M1128 2082h0M1130 2074h0M1112 2098h0M1113 2088h0M1079 2120h0M1098 2101h0M1153 2057h0M1094 2114h0M1141 2061h0M1105 2093h0M1061 2129h0M1091 2112h0M1166 2049h0M1090 2110h0M1123 2074h0M1150 2049h0M1099 2116h0M1056 2155h0M1076 2116h0M1138 2069h0M1116 2088h0M1106 2102h0M1092 2105h0M1078 2128h0M1082 2121h0M1171 2054h0M1118 2076h0M1123 2082h0M1122 2085h0M1122 2091h0M1097 2111h0M1094 2102h0M1099 2116h0M1128 2080h0M1093 2105h0M1068 2135h0M1080 2134h0M1079 2125h0M1090 2118h0M1158 2050h0M1120 2078h0M1072 2132h0M1144 2065h0M1123 2081h0M1081 2118h0M1135 2076h0M1135 2070h0M1026 2206h0M950 2203h0M913 2265h0M1064 2204h0M1024 2156h0M1014 2210h0M973 2289h0M933 2256h0M903 2268h0M999 2159h0M948 2219h0M927 2209h0M946 2180h0M973 2194h0M1030 2157h0M940 2224h0M1005 2178h0M966 2249h0M1008 2190h0M995 2231h0M958 2198h0M916 2253h0M967 2162h0M969 2218h0M966 2215h0M949 2273h0M1000 2179h0M902 2275h0M942 2240h0M978 2111h0M1014 2112h0M1046 2167h0M1041 2179h0M904 2276h0M982 2157h0M1002 2159h0M1037 2169h0M893 2250h0M910 2279h0M1052 2175h0M994 2216h0M956 2188h0M961 2190h0M953 2230h0M984 2252h0M994 2221h0M964 2200h0M1017 2180h0M1055 2161h0M987 2156h0M949 2270h0M1059 2175h0M935 2266h0M906 2171h0M1040 2121h0M964 2259h0M1025 2125h0M1009 2206h0M937 2214h0M1045 2177h0M891 2134h0M891 2143h0M891 2142h0M891 2229h0M891 2192h0M891 2144h0M890 2256h0M891 2197h0M890 2257h0M891 2134h0M890 2224h0M890 2224h0M891 2137h0M891 2219h0M890 2232h0M891 2246h0M890 2207h0M891 2173h0M891 2172h0M890 2136h0M890 2149h0M891 2157h0M899 2199h0M898 2202h0M898 2185h0M898 2218h0M898 2233h0M898 2256h0M898 2221h0M898 2189h0M898 2190h0M899 2268h0M880 2255h0M891 2255h0M880 2261h0M891 2261h0M880 2270h0M891 2270h0M880 2286h0M891 2286h0M889 2269h0M908 2270h0M903 2270h0M882 2270h0M890 2269h0M899 2270h0M887 2270h0M882 2270h0M910 2284h0M901 2284h0M907 2285h0M885 2285h0M910 2285h0M897 2285h0M921 2285h0M902 2285h0M940 2322h0M897 2321h0M906 2321h0M889 2320h0M940 2321h0M915 2321h0M931 2321h0M920 2321h0M894 2321h0M949 2321h0M882 2322h0M898 2321h0M902 2321h0M896 2321h0M1435 2157h0M1355 2173h0M1465 2131h0M1435 2163h0M1444 2149h0M1463 2129h0M1382 2182h0M1445 2143h0M1397 2190h0M1368 2179h0M1377 2203h0M1328 2203h0M1444 2144h0M1385 2179h0M1355 2247h0M1441 2136h0M1440 2153h0M1412 2159h0M1451 2148h0M1416 2154h0M1391 2201h0M1474 2106h0M1414 2184h0M1418 2153h0M1422 2150h0M1397 2143h0M1503 2075h0M1434 2148h0M1392 2176h0M1282 2218h0M1439 2161h0M1480 2096h0M1387 2152h0M1393 2186h0M1427 2140h0M1497 2087h0M1401 2183h0M1441 2155h0M1423 2142h0M1472 2104h0M1431 2143h0M1447 2138h0M1451 2144h0M1467 2119h0M1446 2126h0M1401 2171h0M1449 2139h0M1434 2176h0M1428 2148h0M1324 2244h0M1414 2169h0M1459 2107h0M1433 2130h0M1398 2117h0M1458 2131h0M1429 2139h0M1471 2111h0M1456 2129h0M1359 2180h0M1405 2160h0M1387 2159h0M1434 2141h0M1413 2157h0M1414 2154h0M1443 2151h0M1408 2161h0M1463 2117h0M1441 2141h0M1393 2161h0M1425 2161h0M1420 2135h0M1444 2130h0M1403 2186h0M1418 2157h0M1453 2136h0M1450 2145h0M1474 2113h0M1403 2183h0M1378 2210h0M1448 2146h0M1422 2145h0M1390 2195h0M1483 2092h0M1384 2179h0M1489 2093h0M1401 2146h0M1388 2174h0M1376 2171h0M1456 2128h0M1393 2169h0M1412 2152h0M1347 2186h0M1440 2145h0M1461 2131h0M1258 2213h0M1383 2170h0M1440 2135h0M1450 2142h0M1385 2191h0M1410 2155h0M1470 2123h0M1376 2207h0M1466 2116h0M1422 2143h0M1399 2168h0M1419 2166h0M1409 2147h0M1419 2149h0M1416 2164h0M1452 2116h0M1484 2106h0M1466 2129h0M1313 2208h0M1406 2158h0M1444 2136h0M1402 2163h0M1440 2145h0M1413 2158h0M1443 2128h0M1414 2165h0M1408 2137h0M1396 2126h0M1458 2133h0M1444 2131h0M1451 2138h0M1442 2167h0M1430 2135h0M1460 2121h0M1439 2130h0M1399 2172h0M1442 2143h0M1392 2154h0M1369 2169h0M1458 2130h0M1437 2155h0M1466 2110h0M1439 2155h0M1365 2186h0M1449 2139h0M1432 2151h0M1439 2138h0M1444 2143h0M1389 2198h0M1452 2143h0M1413 2168h0M1446 2141h0M1354 2164h0M1355 2222h0M1458 2130h0M1465 2119h0M1393 2173h0M1392 2189h0M1412 2133h0M1454 2151h0M1478 2109h0M1426 2171h0M1429 2151h0M1431 2154h0M1420 2125h0M1476 2118h0M1455 2117h0M1393 2203h0M1472 2126h0M1433 2141h0M1444 2149h0M1433 2157h0M1394 2179h0M1282 2170h0M1435 2166h0M1413 2170h0M1486 2104h0M1422 2143h0M1438 2169h0M1411 2184h0M1444 2157h0M1408 2176h0M1420 2142h0M1442 2119h0M1455 2131h0M1452 2144h0M1462 2133h0M1449 2142h0M1442 2142h0M1400 2177h0M1446 2143h0M1400 2180h0M1429 2138h0M1403 2134h0M1422 2151h0M1271 2218h0M1470 2120h0M1444 2130h0M1451 2116h0M1462 2135h0M1407 2147h0M1498 2090h0M1433 2151h0M1432 2154h0M1360 2229h0M1448 2155h0M1432 2128h0M1471 2115h0M1433 2152h0M1504 2077h0M1449 2141h0M1382 2189h0M1460 2126h0M1426 2158h0M1398 2194h0M1453 2154h0M1384 2204h0M1394 2192h0M1391 2169h0M1394 2173h0M1377 2229h0M1397 2199h0M1337 2199h0M1413 2173h0M1436 2153h0M1313 2231h0M1465 2131h0M1391 2182h0M1389 2214h0M1420 2166h0M1487 2103h0M1411 2155h0M1393 2168h0M1470 2120h0M1407 2148h0M1459 2137h0M1376 2182h0M1340 2237h0M1293 2195h0M1447 2154h0M1447 2132h0M1371 2133h0M1426 2124h0M1479 2105h0M1450 2143h0M1372 2131h0M1449 2145h0M1449 2142h0M1477 2105h0M1429 2141h0M1420 2151h0M1483 2110h0M1459 2117h0M1438 2149h0M1410 2170h0M1419 2136h0M1434 2138h0M1472 2115h0M1405 2159h0M1393 2155h0M1433 2168h0M1435 2165h0M1388 2188h0M1341 2181h0M1437 2137h0M1332 2240h0M1423 2149h0M1396 2148h0M1400 2199h0M1339 2219h0M1402 2162h0M1444 2130h0M1418 2180h0M1449 2135h0M1458 2132h0M1435 2143h0M1461 2102h0M1505 2076h0M1387 2146h0M1397 2197h0M1446 2124h0M1473 2104h0M1400 2201h0M1392 2198h0M1467 2131h0M1352 2194h0M1448 2151h0M1459 2139h0M1381 2190h0M1435 2135h0M1314 2212h0M1408 2184h0M1459 2140h0M1482 2102h0M1444 2125h0M1496 2076h0M1417 2146h0M1384 2195h0M1417 2147h0M1474 2110h0M1451 2131h0M1356 2191h0M1405 2163h0M1408 2163h0M1398 2190h0M1474 2127h0M1432 2163h0M1483 2105h0M1423 2141h0M1428 2150h0M1514 2059h0M1431 2171h0M1384 2192h0M1455 2130h0M1418 2167h0M1408 2161h0M1469 2108h0M1436 2159h0M1412 2153h0M1429 2151h0M1446 2130h0M1408 2168h0M1462 2120h0M1426 2163h0M1388 2156h0M1460 2133h0M1458 2132h0M1409 2161h0M1402 2156h0M1376 2202h0M1299 2231h0M1448 2138h0M1476 2119h0M1427 2148h0M1454 2146h0M1335 2224h0M1437 2147h0M1446 2131h0M1409 2170h0M1355 2156h0M1420 2153h0M1470 2109h0M1437 2139h0M1459 2125h0M1476 2111h0M1405 2153h0M1445 2131h0M1443 2132h0M1445 2132h0M1366 2172h0M1452 2141h0M1401 2167h0M1383 2183h0M1424 2183h0M1390 2166h0M1366 2192h0M1412 2155h0M1474 2123h0M1387 2226h0M1439 2145h0M1444 2145h0M1413 2154h0M1409 2175h0M1377 2203h0M1461 2111h0M1418 2170h0M1452 2134h0M1457 2122h0M1305 2175h0M1421 2174h0M1424 2154h0M1450 2136h0M1430 2156h0M1464 2130h0M1394 2185h0M1399 2179h0M1476 2104h0M1478 2088h0M1427 2154h0M1466 2123h0M1461 2129h0M1434 2130h0M1425 2158h0M1409 2179h0M1264 2200h0M1434 2141h0M1382 2155h0M1440 2146h0M1436 2153h0M1446 2116h0M1422 2152h0M1486 2113h0M1435 2172h0M1364 2201h0M1385 2204h0M1445 2154h0M1443 2158h0M1427 2154h0M1409 2162h0M1375 2194h0M1441 2149h0M1473 2118h0M1420 2176h0M1442 2134h0M1414 2177h0M1414 2172h0M1347 2169h0M1459 2142h0M1432 2161h0M1457 2135h0M1399 2177h0M1431 2150h0M1371 2141h0M1418 2153h0M1490 2094h0M1351 2220h0M1417 2147h0M1421 2166h0M1380 2166h0M1405 2173h0M1428 2137h0M1391 2212h0M1402 2174h0M1264 2222h0M1396 2178h0M1408 2167h0M1386 2207h0M1468 2134h0M1483 2122h0M1355 2209h0M1423 2150h0M1465 2100h0M1437 2155h0M1427 2154h0M1378 2185h0M1443 2152h0M1415 2151h0M1446 2169h0M1400 2136h0M1379 2232h0M1353 2206h0M1447 2145h0M1454 2113h0M1387 2157h0M1429 2159h0M1419 2168h0M1426 2147h0M1435 2123h0M1454 2131h0M1453 2132h0M1430 2152h0M1395 2178h0M1422 2165h0M1410 2162h0M1407 2158h0M1441 2124h0M1419 2184h0M1430 2148h0M1360 2171h0M1420 2188h0M1438 2146h0M1449 2147h0M1351 2256h0M1322 2211h0M1361 2159h0M1427 2180h0M1456 2127h0M1375 2188h0M1462 2104h0M1421 2178h0M1442 2137h0M1415 2170h0M1415 2174h0M1345 2189h0M1401 2177h0M1450 2113h0M1428 2168h0M1443 2165h0M1470 2120h0M1372 2195h0M1466 2133h0M1429 2152h0M1400 2163h0M1323 2208h0M1444 2138h0M1427 2161h0M1445 2139h0M1447 2136h0M1417 2140h0M1398 2181h0M1404 2186h0M1446 2139h0M1437 2151h0M1463 2121h0M1454 2111h0M1501 2085h0M1419 2169h0M1445 2144h0M1362 2185h0M1380 2178h0M1436 2158h0M1459 2131h0M1395 2199h0M1452 2111h0M1401 2177h0M1435 2163h0M1339 2249h0M1496 2067h0M1336 2201h0M1463 2110h0M1425 2154h0M1385 2093h0M1460 2135h0M1456 2128h0M1463 2113h0M1434 2138h0M1401 2175h0M1424 2148h0M1436 2130h0M1417 2148h0M1385 2143h0M1459 2113h0M1401 2177h0M1440 2145h0M1461 2120h0M1413 2176h0M1415 2138h0M1430 2132h0M1408 2173h0M1337 2173h0M1403 2176h0M1420 2164h0M1440 2140h0M1443 2132h0M1438 2147h0M1441 2142h0M1395 2183h0M1440 2158h0M1351 2194h0M1454 2144h0M1429 2133h0M1408 2188h0M1443 2124h0M1436 2137h0M1445 2159h0M1488 2097h0M1484 2119h0M1428 2168h0M1424 2145h0M1413 2169h0M1373 2166h0M1405 2201h0M1405 2156h0M1403 2177h0M1435 2137h0M1419 2145h0M1488 2107h0M1472 2126h0M1442 2131h0M1376 2210h0M1438 2145h0M1416 2158h0M1289 2210h0M1452 2126h0M1432 2151h0M1385 2166h0M1384 2160h0M1367 2197h0M1423 2172h0M1408 2177h0M1409 2187h0M1391 2201h0M1372 2193h0M1459 2137h0M1443 2154h0M1475 2122h0M1410 2163h0M1369 2217h0M1413 2185h0M1500 2090h0M1422 2158h0M1413 2149h0M1487 2091h0M1431 2153h0M1417 2166h0M1421 2188h0M1324 2234h0M1399 2202h0M1451 2135h0M1326 2240h0M1416 2163h0M1478 2112h0M1402 2169h0M1437 2133h0M1429 2154h0M1432 2125h0M1414 2161h0M1420 2166h0M1402 2203h0M1385 2193h0M1414 2142h0M1412 2158h0M1373 2186h0M1387 2205h0M1415 2168h0M1425 2166h0M1440 2146h0M1435 2157h0M1455 2130h0M1495 2085h0M1461 2127h0M1331 2235h0M1411 2192h0M1397 2189h0M1383 2165h0M1399 2195h0M1434 2161h0M1412 2161h0M1427 2169h0M1257 2233h0M1407 2178h0M1454 2133h0M1472 2102h0M1442 2129h0M1433 2158h0M1396 2162h0M1446 2136h0M1439 2147h0M1415 2152h0M1499 2091h0M1420 2148h0M1419 2150h0M1466 2129h0M1443 2117h0M1403 2166h0M1460 2139h0M1414 2151h0M1413 2170h0M1452 2136h0M1449 2130h0M1485 2102h0M1434 2150h0M1454 2136h0M1411 2162h0M1419 2141h0M1417 2152h0M1456 2133h0M1437 2157h0M1400 2173h0M1402 2180h0M1451 2121h0M1424 2131h0M1456 2117h0M1444 2147h0M1387 2188h0M1486 2103h0M1419 2161h0M1429 2119h0M1447 2136h0M1337 2218h0M1435 2144h0M1480 2097h0M1421 2181h0M1327 2163h0M1318 2225h0M1417 2159h0M1456 2121h0M1478 2135h0M1442 2133h0M1396 2206h0M1478 2104h0M1431 2145h0M1427 2157h0M1351 2166h0M1448 2132h0M1417 2189h0M1423 2153h0M1460 2110h0M1434 2148h0M1417 2163h0M1437 2137h0M1434 2141h0M1426 2155h0M1447 2155h0M1449 2127h0M1430 2143h0M1467 2114h0M1468 2114h0M1426 2157h0M1355 2166h0M1419 2141h0M1347 2229h0M1426 2148h0M1464 2132h0M1375 2154h0M1431 2137h0M1435 2122h0M1468 2114h0M1480 2114h0M1382 2185h0M1431 2140h0M1510 2065h0M1361 2201h0M1414 2161h0M1403 2152h0M1347 2202h0M1448 2142h0M1364 2150h0M1449 2139h0M1420 2156h0M1414 2182h0M1462 2136h0M1430 2165h0M1452 2142h0M1403 2172h0M1445 2160h0M1320 2201h0M1433 2144h0M1399 2164h0M1373 2205h0M1476 2104h0M1422 2164h0M1433 2148h0M1420 2145h0M1494 2086h0M1310 2164h0M1441 2134h0M1422 2168h0M1466 2127h0M1349 2194h0M1430 2132h0M1429 2131h0M1437 2130h0M1447 2141h0M1408 2173h0M1440 2155h0M1427 2138h0M1405 2181h0M1422 2159h0M1478 2114h0M1388 2159h0M1340 2156h0M1426 2152h0M1463 2128h0M1446 2148h0M1446 2133h0M1452 2118h0M1338 2231h0M1421 2149h0M1386 2205h0M1421 2149h0M1391 2177h0M1416 2167h0M1408 2176h0M1414 2166h0M1424 2158h0M1459 2125h0M1376 2166h0M1452 2139h0M1447 2124h0M1393 2146h0M1405 2196h0M1368 2236h0M1368 2196h0M1502 2100h0M1399 2190h0M1403 2129h0M1327 2196h0M1400 2152h0M1424 2161h0M1411 2156h0M1458 2136h0M1409 2164h0M1395 2166h0M1446 2145h0M1452 2139h0M1460 2129h0M1454 2114h0M1482 2113h0M1398 2188h0M1417 2165h0M1421 2149h0M1463 2144h0M1474 2119h0M1506 2076h0M1490 2092h0M1463 2127h0M1441 2138h0M1404 2182h0M1460 2146h0M1470 2124h0M1449 2140h0M1433 2149h0M1457 2129h0M1274 2222h0M1391 2212h0M1458 2135h0M1429 2145h0M1414 2140h0M1378 2175h0M1410 2156h0M1413 2177h0M1472 2107h0M1457 2140h0M1466 2122h0M1429 2132h0M1322 2210h0M1343 2202h0M1461 2123h0M1433 2157h0M1414 2150h0M1464 2118h0M1402 2182h0M1366 2215h0M1369 2199h0M1457 2144h0M1463 2129h0M1358 2200h0M1426 2162h0M1398 2171h0M1440 2149h0M1381 2176h0M1376 2218h0M1455 2126h0M1434 2153h0M1398 2161h0M1483 2111h0M1383 2183h0M1413 2144h0M1447 2158h0M1460 2120h0M1416 2176h0M1429 2164h0M1438 2149h0M1438 2154h0M1430 2155h0M1439 2160h0M1412 2168h0M1383 2163h0M1404 2164h0M1492 2090h0M1408 2172h0M1443 2142h0M1452 2141h0M1427 2171h0M1408 2162h0M1440 2173h0M1442 2139h0M1429 2149h0M1381 2182h0M1430 2160h0M1373 2172h0M1368 2233h0M1382 2195h0M1303 2182h0M1442 2137h0M1462 2121h0M1450 2130h0M1376 2202h0M1419 2174h0M1431 2173h0M1416 2149h0M1443 2159h0M1370 2180h0M1459 2147h0M1400 2130h0M1438 2174h0M1476 2117h0M1463 2105h0M1464 2125h0M1450 2145h0M1417 2198h0M1364 2215h0M1456 2153h0M1437 2139h0M1475 2109h0M1430 2150h0M1402 2178h0M1473 2103h0M1396 2185h0M1466 2130h0M1419 2177h0M1413 2162h0M1461 2129h0M1485 2102h0M1421 2173h0M1423 2161h0M1460 2120h0M1371 2164h0M1347 2183h0M1377 2203h0M1430 2154h0M1389 2144h0M1432 2129h0M1318 2220h0M1387 2171h0M1465 2137h0M1378 2219h0M1490 2087h0M1398 2163h0M1340 2222h0M1454 2139h0M1387 2227h0M1413 2151h0M1301 2255h0M1411 2189h0M1467 2122h0M1416 2162h0M1397 2126h0M1439 2139h0M1415 2156h0M1447 2136h0M1391 2145h0M1443 2155h0M1448 2140h0M1396 2190h0M1451 2144h0M1421 2170h0M1257 2181h0M1471 2124h0M1374 2232h0M1380 2226h0M1429 2154h0M1337 2196h0M1435 2139h0M1469 2117h0M1455 2145h0M1394 2162h0M1494 2106h0M1335 2234h0M1442 2134h0M1468 2118h0M1447 2121h0M1446 2151h0M1399 2171h0M1407 2157h0M1416 2180h0M1406 2166h0M1462 2098h0M1452 2141h0M1347 2222h0M1455 2135h0M1483 2119h0M1430 2147h0M1415 2160h0M1423 2150h0M1413 2172h0M1303 2164h0M1450 2150h0M1463 2118h0M1415 2154h0M1472 2106h0M1449 2139h0M1427 2156h0M1426 2146h0M1435 2143h0M1451 2144h0M1422 2169h0M1416 2159h0M1430 2178h0M1386 2190h0M1417 2146h0M1413 2158h0M1467 2093h0M1410 2157h0M1424 2164h0M1400 2184h0M1359 2243h0M1470 2117h0M1352 2174h0M1422 2165h0M1418 2131h0M1430 2129h0M1428 2151h0M1290 2211h0M1452 2138h0M1424 2179h0M1463 2123h0M1312 2235h0M1281 2249h0M1454 2132h0M1438 2157h0M1435 2131h0M1354 2194h0M1432 2141h0M1455 2130h0M1359 2175h0M1451 2147h0M1325 2243h0M1453 2138h0M1369 2214h0M1460 2138h0M1452 2143h0M1471 2117h0M1440 2127h0M1399 2185h0M1507 2077h0M1397 2159h0M1413 2161h0M1409 2165h0M1420 2162h0M1466 2124h0M1440 2152h0M1442 2133h0M1443 2145h0M1436 2147h0M1430 2143h0M1428 2151h0M1421 2167h0M1410 2173h0M1457 2120h0M1379 2212h0M1402 2167h0M1445 2157h0M1400 2174h0M1288 2233h0M1400 2195h0M1439 2146h0M1442 2144h0M1438 2138h0M1387 2165h0M1354 2195h0M1447 2118h0M1432 2191h0M1431 2168h0M1430 2156h0M1343 2201h0M1416 2170h0M1385 2163h0M1416 2144h0M1446 2118h0M1356 2222h0M1355 2181h0M1424 2164h0M1344 2246h0M1447 2137h0M1426 2174h0M1409 2186h0M1431 2147h0M1423 2181h0M1466 2105h0M1361 2200h0M1458 2135h0M1438 2148h0M1386 2198h0M1413 2152h0M1434 2146h0M1415 2167h0M1394 2155h0M1457 2120h0M1440 2148h0M1440 2147h0M1390 2224h0M1369 2149h0M1383 2184h0M1439 2164h0M1356 2198h0M1464 2114h0M1480 2099h0M1300 2200h0M1454 2133h0M1421 2169h0M1419 2140h0M1399 2198h0M1348 2117h0M1414 2153h0M1258 2232h0M1394 2195h0M1447 2137h0M1459 2141h0M1422 2137h0M1379 2168h0M1379 2206h0M1365 2232h0M1452 2139h0M1378 2205h0M1398 2173h0M1425 2156h0M1442 2126h0M1363 2163h0M1423 2176h0M1425 2134h0M1431 2144h0M1381 2173h0M1448 2128h0M1414 2190h0M1434 2151h0M1432 2152h0M1340 2222h0M1286 2210h0M1465 2124h0M1437 2162h0M1499 2083h0M1424 2137h0M1471 2118h0M1404 2145h0M1378 2169h0M1442 2151h0M1484 2113h0M1400 2192h0M1321 2224h0M1424 2131h0M1472 2134h0M1453 2122h0M1439 2147h0M1461 2136h0M1435 2139h0M1426 2146h0M1404 2166h0M1361 2175h0M1466 2130h0M1408 2163h0M1432 2125h0M1384 2176h0M1467 2128h0M1404 2165h0M1428 2162h0M1424 2125h0M1387 2165h0M1443 2134h0M1408 2160h0M1377 2200h0M1430 2161h0M1412 2167h0M1397 2204h0M1418 2188h0M1429 2141h0M1450 2140h0M1441 2138h0M1387 2174h0M1473 2117h0M1428 2159h0M1444 2130h0M1428 2155h0M1461 2135h0M1411 2167h0M1430 2160h0M1357 2185h0M1395 2172h0M1475 2115h0M1423 2143h0M1374 2172h0M1504 2064h0M1442 2150h0M1399 2215h0M1369 2197h0M1412 2160h0M1406 2177h0M1415 2165h0M1419 2213h0M1394 2193h0M1438 2153h0M1331 2233h0M1458 2123h0M1462 2130h0M1404 2156h0M1454 2125h0M1434 2136h0M1453 2125h0M1440 2134h0M1419 2131h0M1446 2136h0M1465 2122h0M1387 2191h0M1406 2145h0M1341 2164h0M1429 2138h0M1466 2134h0M1412 2162h0M1330 2194h0M1431 2143h0M1447 2150h0M1397 2164h0M1409 2198h0M1463 2148h0M1418 2138h0M1428 2139h0M1431 2141h0M1365 2149h0M1486 2091h0M1323 2197h0M1415 2138h0M1433 2147h0M1351 2200h0M1361 2195h0M1424 2144h0M1476 2108h0M1268 2237h0M1492 2086h0M1442 2145h0M1406 2186h0M1362 2195h0M1443 2130h0M1420 2145h0M1306 2175h0M1436 2136h0M1428 2145h0M1439 2142h0M1467 2101h0M1325 2182h0M1441 2124h0M1450 2120h0M1414 2169h0M1383 2169h0M1453 2142h0M1312 2217h0M1279 2145h0M1279 2148h0M1279 2183h0M1280 2202h0M1280 2148h0M1279 2206h0M1279 2249h0M1279 2237h0M1279 2176h0M1279 2138h0M1291 2205h0M1291 2149h0M1291 2210h0M1291 2190h0M1291 2239h0M1291 2147h0M1292 2158h0M1291 2175h0M1291 2240h0M1290 2180h0M1303 2175h0M1302 2250h0M1303 2158h0M1302 2228h0M1303 2255h0M1303 2182h0M1302 2220h0M1303 2173h0M1303 2205h0M1303 2160h0M1354 2257h0M1310 2258h0M1312 2258h0M1315 2258h0M1345 2258h0M1356 2258h0M1347 2258h0M1350 2258h0M1273 2258h0M1365 2257h0M1307 2258h0M1315 2257h0M1307 2258h0M1263 2257h0M1291 2258h0M1289 2258h0M1324 2258h0M1290 2258h0M1339 2258h0M1345 2258h0M1334 2258h0M1304 2258h0M1277 2268h0M1324 2268h0M1331 2267h0M1293 2267h0M1287 2268h0M1283 2267h0M1330 2268h0M1301 2267h0M1284 2267h0M1328 2267h0M1257 2267h0M1356 2267h0M1259 2267h0M1347 2268h0M1255 2267h0M1339 2267h0M1266 2267h0M1317 2267h0M1327 2267h0M1265 2267h0M1272 2267h0M1278 2267h0M1266 2283h0M1352 2283h0M1344 2283h0M1278 2283h0M1302 2283h0M1280 2283h0M1332 2282h0M1312 2283h0M1344 2283h0M1291 2283h0M1341 2283h0M1315 2283h0M1287 2283h0M1317 2283h0M1325 2283h0M1325 2283h0M1352 2282h0M1332 2283h0M1313 2283h0M1299 2283h0M1340 2283h0M1294 2283h0M1338 2321h0M1292 2321h0M1259 2322h0M1324 2321h0M1301 2321h0M1282 2322h0M1315 2321h0M1323 2321h0M1269 2321h0M1315 2321h0M1328 2321h0M1273 2321h0M1255 2321h0M1261 2321h0M1337 2322h0M1288 2321h0M1272 2322h0M1291 2321h0M1319 2321h0M1326 2321h0M1284 2321h0M1284 2321h0M1524 2044h0M1731 2201h0M1781 2155h0M1816 2140h0M1780 2172h0M1790 2170h0M1803 2160h0M1635 2190h0M1789 2177h0M1633 2238h0M1897 2054h0M1704 2215h0M1846 2130h0M1793 2186h0M1633 2233h0M1631 2240h0M1726 2234h0M1662 2250h0M1787 2173h0M1674 2219h0M1781 2156h0M1768 2212h0M1804 2148h0M1803 2138h0M1801 2171h0M1635 2228h0M1773 2195h0M1743 2218h0M1639 2243h0M1739 2195h0M1802 2134h0M1788 2149h0M1793 2192h0M1651 2215h0M1633 2231h0M1700 2248h0M1688 2257h0M1849 2110h0M1762 2206h0M1788 2173h0M1809 2152h0M1762 2215h0M1827 2152h0M1779 2169h0M1637 2251h0M1769 2184h0M1782 2192h0M1764 2161h0M1740 2180h0M1805 2145h0M1809 2166h0M1846 2101h0M1632 2247h0M1794 2148h0M1783 2173h0M1785 2147h0M1631 2230h0M1767 2164h0M1831 2128h0M1785 2156h0M1739 2197h0M1785 2187h0M1792 2168h0M1797 2173h0M1763 2192h0M1798 2153h0M1634 2212h0M1812 2140h0M1767 2157h0M1742 2188h0M1634 2215h0M1751 2194h0M1804 2147h0M1801 2162h0M1772 2180h0M1807 2156h0M1778 2165h0M1792 2181h0M1810 2148h0M1788 2170h0M1795 2176h0M1798 2156h0M1779 2189h0M1775 2156h0M1746 2173h0M1642 2195h0M1783 2159h0M1634 2228h0M1758 2225h0M1830 2129h0M1636 2197h0M1731 2229h0M1781 2175h0M1820 2138h0M1631 2201h0M1797 2159h0M1759 2174h0M1796 2171h0M1674 2220h0M1652 2245h0M1709 2211h0M1678 2245h0M1812 2146h0M1832 2120h0M1847 2113h0M1759 2185h0M1796 2156h0M1777 2175h0M1799 2166h0M1776 2184h0M1644 2241h0M1853 2128h0M1818 2155h0M1797 2162h0M1808 2175h0M1829 2149h0M1639 2217h0M1788 2140h0M1796 2173h0M1794 2170h0M1794 2170h0M1851 2089h0M1800 2151h0M1757 2234h0M1809 2150h0M1798 2148h0M1830 2131h0M1817 2121h0M1787 2166h0M1768 2199h0M1639 2232h0M1825 2164h0M1795 2153h0M1675 2232h0M1749 2200h0M1635 2225h0M1797 2172h0M1743 2193h0M1757 2175h0M1766 2202h0M1646 2224h0M1793 2173h0M1823 2133h0M1701 2240h0M1828 2154h0M1826 2151h0M1815 2144h0M1761 2188h0M1676 2210h0M1774 2174h0M1767 2216h0M1673 2228h0M1789 2168h0M1845 2110h0M1812 2149h0M1797 2148h0M1667 2212h0M1803 2150h0M1800 2159h0M1756 2186h0M1809 2138h0M1808 2157h0M1820 2147h0M1714 2217h0M1776 2168h0M1666 2202h0M1813 2153h0M1762 2176h0M1802 2160h0M1775 2177h0M1832 2128h0M1811 2160h0M1802 2161h0M1805 2110h0M1812 2151h0M1634 2228h0M1816 2138h0M1681 2237h0M1775 2162h0M1753 2199h0M1819 2155h0M1645 2255h0M1706 2217h0M1746 2211h0M1659 2225h0M1666 2240h0M1803 2152h0M1690 2224h0M1796 2151h0M1761 2194h0M1635 2214h0M1770 2163h0M1754 2225h0M1760 2209h0M1811 2161h0M1837 2115h0M1642 2240h0M1832 2131h0M1755 2182h0M1763 2185h0M1763 2204h0M1723 2235h0M1794 2181h0M1813 2155h0M1796 2175h0M1791 2189h0M1793 2183h0M1631 2217h0M1789 2180h0M1865 2084h0M1653 2230h0M1812 2159h0M1634 2233h0M1820 2158h0M1741 2213h0M1782 2172h0M1678 2257h0M1781 2157h0M1818 2155h0M1833 2133h0M1846 2103h0M1802 2156h0M1805 2152h0M1651 2238h0M1824 2160h0M1769 2217h0M1750 2208h0M1768 2177h0M1814 2166h0M1819 2145h0M1847 2103h0M1769 2188h0M1716 2216h0M1743 2216h0M1819 2163h0M1701 2189h0M1681 2198h0M1636 2233h0M1741 2244h0M1791 2181h0M1798 2180h0M1806 2155h0M1649 2232h0M1720 2205h0M1648 2229h0M1802 2179h0M1809 2152h0M1651 2237h0M1838 2131h0M1758 2203h0M1785 2169h0M1791 2179h0M1805 2159h0M1802 2145h0M1742 2194h0M1716 2209h0M1796 2200h0M1818 2153h0M1772 2170h0M1791 2176h0M1792 2167h0M1734 2214h0M1779 2189h0M1666 2223h0M1840 2125h0M1777 2168h0M1635 2253h0M1784 2180h0M1771 2163h0M1780 2193h0M1806 2138h0M1810 2173h0M1775 2149h0M1875 2069h0M1802 2182h0M1775 2191h0M1795 2162h0M1805 2145h0M1828 2122h0M1810 2152h0M1823 2142h0M1802 2160h0M1751 2185h0M1763 2199h0M1791 2171h0M1641 2208h0M1812 2137h0M1829 2127h0M1763 2170h0M1724 2225h0M1742 2212h0M1712 2234h0M1816 2138h0M1645 2232h0M1765 2194h0M1683 2223h0M1818 2141h0M1816 2157h0M1779 2181h0M1766 2158h0M1773 2192h0M1795 2154h0M1750 2193h0M1785 2185h0M1805 2161h0M1816 2178h0M1728 2206h0M1810 2175h0M1749 2184h0M1793 2171h0M1638 2213h0M1750 2183h0M1845 2113h0M1703 2213h0M1815 2159h0M1637 2219h0M1766 2184h0M1670 2205h0M1813 2156h0M1819 2128h0M1808 2165h0M1836 2128h0M1813 2177h0M1807 2159h0M1840 2138h0M1779 2180h0M1779 2198h0M1730 2208h0M1818 2165h0M1733 2207h0M1809 2169h0M1770 2180h0M1725 2195h0M1818 2142h0M1777 2183h0M1836 2137h0M1632 2226h0M1791 2166h0M1674 2216h0M1636 2233h0M1764 2193h0M1741 2225h0M1797 2156h0M1681 2208h0M1730 2192h0M1643 2223h0M1778 2192h0M1830 2122h0M1643 2226h0M1815 2148h0M1808 2159h0M1846 2121h0M1749 2203h0M1835 2132h0M1759 2221h0M1728 2215h0M1817 2137h0M1719 2204h0M1823 2133h0M1696 2198h0M1804 2149h0M1762 2185h0M1797 2161h0M1746 2196h0M1654 2245h0M1782 2173h0M1835 2131h0M1850 2121h0M1820 2154h0M1771 2160h0M1775 2160h0M1835 2135h0M1725 2223h0M1796 2158h0M1748 2182h0M1674 2244h0M1734 2205h0M1782 2155h0M1785 2163h0M1633 2229h0M1794 2171h0M1869 2093h0M1789 2159h0M1743 2186h0M1693 2230h0M1857 2099h0M1827 2140h0M1888 2077h0M1769 2198h0M1805 2158h0M1677 2222h0M1864 2098h0M1777 2180h0M1724 2186h0M1771 2181h0M1744 2214h0M1820 2162h0M1761 2198h0M1817 2142h0M1754 2189h0M1807 2151h0M1826 2140h0M1772 2172h0M1761 2209h0M1758 2195h0M1819 2154h0M1655 2218h0M1792 2167h0M1728 2228h0M1742 2190h0M1773 2205h0M1812 2146h0M1826 2162h0M1846 2111h0M1855 2098h0M1809 2148h0M1849 2130h0M1791 2172h0M1861 2116h0M1810 2135h0M1804 2167h0M1834 2129h0M1735 2244h0M1645 2231h0M1826 2147h0M1783 2166h0M1781 2163h0M1778 2151h0M1750 2226h0M1761 2198h0M1767 2192h0M1830 2138h0M1634 2225h0M1763 2191h0M1816 2156h0M1633 2231h0M1654 2219h0M1754 2178h0M1782 2174h0M1720 2196h0M1761 2205h0M1837 2129h0M1808 2146h0M1785 2157h0M1708 2209h0M1767 2199h0M1704 2227h0M1640 2222h0M1814 2156h0M1792 2165h0M1728 2255h0M1852 2110h0M1787 2175h0M1708 2238h0M1796 2147h0M1853 2102h0M1719 2253h0M1823 2154h0M1772 2187h0M1802 2171h0M1774 2193h0M1751 2192h0M1787 2141h0M1690 2227h0M1796 2163h0M1824 2138h0M1800 2153h0M1652 2243h0M1799 2155h0M1762 2203h0M1714 2202h0M1724 2214h0M1793 2161h0M1790 2179h0M1809 2171h0M1708 2205h0M1696 2247h0M1778 2181h0M1827 2141h0M1825 2133h0M1737 2185h0M1758 2194h0M1820 2141h0M1662 2217h0M1764 2198h0M1806 2160h0M1704 2219h0M1794 2185h0M1784 2176h0M1749 2175h0M1748 2175h0M1771 2172h0M1880 2079h0M1788 2182h0M1778 2184h0M1769 2224h0M1813 2141h0M1743 2230h0M1700 2217h0M1699 2227h0M1827 2139h0M1770 2189h0M1777 2184h0M1794 2165h0M1745 2204h0M1745 2221h0M1800 2169h0M1897 2067h0M1831 2142h0M1761 2193h0M1760 2204h0M1797 2166h0M1794 2143h0M1830 2142h0M1705 2181h0M1830 2152h0M1661 2189h0M1798 2152h0M1774 2165h0M1808 2152h0M1783 2191h0M1792 2175h0M1753 2205h0M1805 2177h0M1808 2163h0M1810 2163h0M1824 2141h0M1792 2178h0M1649 2205h0M1798 2140h0M1821 2130h0M1723 2215h0M1865 2094h0M1787 2162h0M1773 2169h0M1640 2217h0M1632 2208h0M1743 2191h0M1806 2141h0M1784 2190h0M1650 2206h0M1728 2185h0M1780 2177h0M1758 2173h0M1775 2174h0M1664 2231h0M1803 2152h0M1794 2159h0M1797 2144h0M1806 2135h0M1828 2135h0M1776 2201h0M1811 2166h0M1764 2197h0M1810 2163h0M1789 2180h0M1804 2146h0M1635 2220h0M1804 2148h0M1671 2202h0M1874 2075h0M1636 2238h0M1719 2202h0M1649 2227h0M1799 2163h0M1823 2144h0M1813 2153h0M1689 2220h0M1761 2213h0M1769 2173h0M1806 2182h0M1867 2095h0M1636 2221h0M1806 2154h0M1732 2200h0M1640 2227h0M1818 2146h0M1811 2158h0M1738 2164h0M1860 2085h0M1765 2198h0M1693 2237h0M1802 2140h0M1831 2123h0M1808 2148h0M1792 2198h0M1815 2161h0M1790 2172h0M1746 2186h0M1762 2187h0M1641 2216h0M1805 2175h0M1695 2237h0M1794 2166h0M1746 2193h0M1676 2246h0M1784 2149h0M1772 2196h0M1830 2140h0M1820 2142h0M1640 2228h0M1824 2151h0M1657 2248h0M1818 2162h0M1758 2224h0M1792 2170h0M1833 2140h0M1818 2147h0M1782 2183h0M1778 2176h0M1646 2246h0M1735 2227h0M1684 2216h0M1781 2172h0M1767 2206h0M1835 2145h0M1647 2219h0M1783 2184h0M1753 2179h0M1694 2224h0M1660 2226h0M1733 2212h0M1781 2177h0M1798 2130h0M1753 2201h0M1642 2225h0M1782 2187h0M1820 2136h0M1814 2165h0M1788 2158h0M1782 2183h0M1750 2220h0M1654 2210h0M1774 2183h0M1693 2212h0M1760 2176h0M1789 2167h0M1752 2232h0M1752 2202h0M1775 2171h0M1839 2122h0M1804 2147h0M1789 2190h0M1786 2184h0M1870 2091h0M1804 2167h0M1814 2157h0M1815 2127h0M1810 2150h0M1767 2181h0M1868 2094h0M1668 2215h0M1785 2172h0M1719 2218h0M1822 2143h0M1790 2154h0M1837 2143h0M1632 2205h0M1632 2228h0M1711 2212h0M1810 2142h0M1750 2197h0M1686 2229h0M1720 2215h0M1755 2227h0M1749 2186h0M1796 2154h0M1811 2159h0M1804 2140h0M1771 2193h0M1657 2215h0M1633 2231h0M1731 2215h0M1818 2144h0M1763 2184h0M1633 2218h0M1673 2184h0M1812 2153h0M1818 2151h0M1768 2203h0M1777 2220h0M1835 2135h0M1826 2141h0M1817 2139h0M1716 2212h0M1807 2149h0M1787 2155h0M1783 2180h0M1756 2209h0M1749 2188h0M1810 2146h0M1775 2173h0M1742 2233h0M1742 2210h0M1719 2215h0M1755 2177h0M1736 2170h0M1775 2185h0M1771 2204h0M1795 2158h0M1776 2179h0M1807 2175h0M1826 2141h0M1640 2250h0M1676 2209h0M1789 2157h0M1714 2215h0M1780 2166h0M1819 2150h0M1847 2122h0M1793 2170h0M1851 2109h0M1766 2180h0M1749 2216h0M1821 2154h0M1819 2140h0M1793 2170h0M1826 2133h0M1717 2194h0M1820 2159h0M1799 2187h0M1633 2197h0M1818 2146h0M1821 2135h0M1634 2234h0M1825 2143h0M1792 2169h0M1767 2207h0M1665 2221h0M1808 2143h0M1648 2227h0M1775 2203h0M1760 2211h0M1821 2148h0M1667 2257h0M1647 2211h0M1797 2165h0M1680 2221h0M1868 2094h0M1808 2159h0M1788 2177h0M1768 2189h0M1791 2172h0M1640 2199h0M1889 2071h0M1792 2188h0M1753 2212h0M1750 2179h0M1859 2100h0M1745 2219h0M1640 2226h0M1812 2156h0M1769 2170h0M1690 2230h0M1768 2190h0M1762 2187h0M1779 2164h0M1833 2154h0M1765 2184h0M1856 2097h0M1713 2247h0M1809 2168h0M1654 2226h0M1774 2208h0M1782 2174h0M1780 2165h0M1642 2240h0M1805 2162h0M1769 2157h0M1796 2168h0M1823 2152h0M1760 2205h0M1833 2102h0M1810 2160h0M1840 2119h0M1648 2222h0M1638 2218h0M1737 2196h0M1827 2139h0M1632 2200h0M1631 2214h0M1743 2212h0M1827 2134h0M1763 2188h0M1798 2168h0M1813 2157h0M1792 2188h0M1638 2232h0M1717 2229h0M1748 2207h0M1823 2139h0M1849 2119h0M1711 2224h0M1811 2145h0M1775 2195h0M1763 2172h0M1753 2222h0M1838 2137h0M1633 2220h0M1777 2198h0M1731 2207h0M1798 2162h0M1811 2173h0M1747 2200h0M1810 2151h0M1824 2155h0M1748 2227h0M1641 2230h0M1800 2151h0M1793 2170h0M1793 2150h0M1812 2167h0M1826 2125h0M1632 2227h0M1664 2225h0M1844 2124h0M1803 2167h0M1658 2208h0M1813 2148h0M1633 2249h0M1782 2176h0M1823 2167h0M1769 2192h0M1765 2195h0M1776 2171h0M1826 2121h0M1762 2189h0M1635 2194h0M1833 2139h0M1799 2145h0M1710 2219h0M1642 2213h0M1651 2252h0M1759 2189h0M1798 2150h0M1632 2217h0M1775 2175h0M1801 2149h0M1641 2215h0M1795 2167h0M1744 2193h0M1863 2103h0M1800 2179h0M1791 2160h0M1831 2133h0M1803 2150h0M1711 2209h0M1805 2158h0M1714 2236h0M1698 2246h0M1750 2187h0M1812 2152h0M1795 2162h0M1779 2156h0M1686 2228h0M1823 2146h0M1683 2171h0M1792 2193h0M1740 2216h0M1825 2150h0M1635 2231h0M1632 2221h0M1800 2142h0M1730 2210h0M1640 2213h0M1645 2225h0M1757 2193h0M1802 2147h0M1809 2159h0M1763 2183h0M1766 2200h0M1748 2213h0M1766 2197h0M1748 2212h0M1722 2207h0M1781 2168h0M1745 2210h0M1645 2229h0M1766 2191h0M1718 2203h0M1841 2112h0M1643 2203h0M1763 2175h0M1704 2214h0M1766 2198h0M1787 2183h0M1840 2132h0M1714 2223h0M1782 2166h0M1887 2068h0M1814 2148h0M1777 2172h0M1788 2172h0M1662 2203h0M1642 2224h0M1840 2118h0M1645 2238h0M1753 2188h0M1649 2226h0M1649 2226h0M1767 2174h0M1808 2168h0M1780 2207h0M1789 2188h0M1813 2160h0M1818 2130h0M1780 2188h0M1742 2195h0M1680 2202h0M1673 2215h0M1764 2207h0M1809 2148h0M1797 2173h0M1679 2204h0M1813 2172h0M1757 2212h0M1788 2168h0M1800 2154h0M1724 2208h0M1720 2223h0M1831 2139h0M1768 2169h0M1748 2194h0M1784 2185h0M1790 2182h0M1818 2154h0M1781 2182h0M1804 2160h0M1768 2184h0M1802 2169h0M1668 2213h0M1784 2161h0M1776 2187h0M1771 2177h0M1814 2147h0M1655 2236h0M1828 2140h0M1782 2177h0M1779 2207h0M1854 2098h0M1768 2193h0M1807 2150h0M1827 2135h0M1821 2156h0M1777 2199h0M1881 2062h0M1810 2138h0M1821 2139h0M1649 2196h0M1816 2152h0M1644 2213h0M1778 2168h0M1768 2189h0M1709 2228h0M1634 2220h0M1776 2189h0M1795 2173h0M1805 2169h0M1660 2210h0M1766 2176h0M1636 2231h0M1789 2176h0M1813 2138h0M1805 2143h0M1788 2167h0M1775 2173h0M1640 2205h0M1826 2128h0M1796 2163h0M1824 2144h0M1782 2191h0M1794 2160h0M1640 2240h0M1635 2255h0M1631 2206h0M1773 2195h0M1769 2200h0M1781 2172h0M1645 2222h0M1781 2165h0M1738 2225h0M1828 2117h0M1782 2193h0M1748 2191h0M1825 2114h0M1775 2187h0M1806 2179h0M1706 2229h0M1755 2191h0M1796 2169h0M1805 2169h0M1819 2133h0M1772 2211h0M1800 2176h0M1822 2138h0M1794 2151h0M1715 2245h0M1791 2156h0M1633 2226h0M1647 2242h0M1795 2154h0M1833 2131h0M1768 2170h0M1636 2236h0M1740 2186h0M1816 2150h0M1728 2189h0M1763 2184h0M1637 2204h0M1647 2225h0M1736 2216h0M1662 2209h0M1809 2166h0M1822 2152h0M1794 2176h0M1803 2163h0M1763 2202h0M1815 2152h0M1648 2237h0M1801 2156h0M1768 2187h0M1835 2104h0M1754 2225h0M1685 2208h0M1719 2237h0M1790 2145h0M1829 2134h0M1768 2170h0M1776 2168h0M1812 2168h0M1772 2179h0M1786 2181h0M1781 2184h0M1826 2136h0M1778 2194h0M1674 2209h0M1665 2207h0M1811 2138h0M1772 2195h0M1783 2159h0M1764 2162h0M1787 2180h0M1772 2181h0M1782 2196h0M1820 2149h0M1691 2226h0M1736 2223h0M1798 2168h0M1787 2198h0M1635 2239h0M1824 2138h0M1631 2204h0M1816 2164h0M1789 2182h0M1667 2229h0M1795 2153h0M1797 2131h0M1787 2162h0M1635 2221h0M1756 2186h0M1786 2161h0M1740 2223h0M1769 2173h0M1826 2132h0M1702 2242h0M1767 2175h0M1778 2169h0M1801 2178h0M1806 2149h0M1808 2145h0M1761 2185h0M1811 2130h0M1752 2197h0M1709 2228h0M1789 2189h0M1796 2160h0M1756 2233h0M1811 2161h0M1820 2137h0M1813 2150h0M1845 2118h0M1757 2208h0M1771 2206h0M1785 2183h0M1865 2101h0M1638 2227h0M1795 2146h0M1746 2189h0M1768 2170h0M1778 2189h0M1811 2139h0M1810 2152h0M1806 2144h0M1760 2187h0M1788 2140h0M1784 2196h0M1636 2242h0M1704 2207h0M1633 2217h0M1748 2208h0M1728 2216h0M1694 2239h0M1833 2141h0M1802 2164h0M1684 2206h0M1779 2170h0M1647 2236h0M1784 2182h0M1852 2102h0M1834 2140h0M1789 2166h0M1792 2144h0M1818 2146h0M1790 2185h0M1774 2193h0M1808 2159h0M1783 2165h0M1803 2147h0M1742 2191h0M1678 2227h0M1777 2184h0M1655 2216h0M1774 2195h0M1736 2222h0M1648 2229h0M1643 2191h0M1820 2154h0M1743 2215h0M1813 2144h0M1846 2128h0M1787 2174h0M1831 2135h0M1809 2152h0M1639 2200h0M1787 2159h0M1681 2193h0M1752 2187h0M1785 2169h0M1789 2166h0M1684 2220h0M1759 2218h0M1633 2215h0M1804 2153h0M1683 2237h0M1825 2155h0M1778 2199h0M1774 2203h0M1803 2136h0M1790 2169h0M1786 2164h0M1767 2198h0M1826 2138h0M1812 2151h0M1716 2206h0M1789 2173h0M1849 2119h0M1758 2199h0M1779 2185h0M1783 2170h0M1771 2162h0M1763 2172h0M1832 2132h0M1809 2131h0M1784 2170h0M1824 2141h0M1679 2210h0M1787 2175h0M1800 2158h0M1766 2191h0M1631 2200h0M1675 2242h0M1759 2188h0M1772 2198h0M1755 2201h0M1816 2164h0M1773 2182h0M1743 2234h0M1809 2157h0M1649 2202h0M1817 2153h0M1635 2208h0M1838 2104h0M1796 2182h0M1791 2183h0M1769 2189h0M1814 2172h0M1707 2229h0M1784 2186h0M1757 2178h0M1807 2165h0M1907 2036h0M1734 2205h0M1810 2150h0M1641 2200h0M1747 2191h0M1813 2146h0M1768 2182h0M1817 2128h0M1768 2182h0M1807 2165h0M1815 2129h0M1824 2143h0M1795 2165h0M1641 2207h0M1769 2190h0M1707 2247h0M1818 2146h0M1637 2218h0M1872 2080h0M1638 2210h0M1803 2155h0M1632 2234h0M1817 2148h0M1750 2204h0M1802 2158h0M1841 2124h0M1736 2202h0M1817 2139h0M1634 2237h0M1768 2182h0M1704 2240h0M1806 2153h0M1832 2127h0M1766 2194h0M1741 2219h0M1807 2153h0M1686 2220h0M1862 2096h0M1661 2233h0M1646 2243h0M1639 2204h0M1766 2203h0M1827 2121h0M1633 2226h0M1769 2183h0M1749 2203h0M1631 2221h0M1793 2167h0M1776 2179h0M1747 2193h0M1805 2159h0M1788 2180h0M1798 2162h0M1780 2186h0M1784 2167h0M1729 2208h0M1733 2196h0M1778 2157h0M1678 2207h0M1809 2146h0M1733 2204h0M1824 2128h0M1655 2219h0M1802 2172h0M1646 2221h0M1806 2173h0M1637 2224h0M1758 2208h0M1769 2161h0M1822 2147h0M1636 2207h0M1842 2114h0M1818 2139h0M1772 2186h0M1826 2148h0M1812 2163h0M1712 2198h0M1769 2178h0M1820 2155h0M1781 2176h0M1713 2179h0M1804 2145h0M1787 2172h0M1709 2225h0M1834 2125h0M1810 2174h0M1847 2118h0M1649 2223h0M1701 2217h0M1649 2221h0M1807 2167h0M1815 2139h0M1786 2182h0M1817 2137h0M1691 2217h0M1748 2210h0M1779 2156h0M1791 2172h0M1643 2235h0M1784 2186h0M1780 2166h0M1739 2234h0M1815 2133h0M1769 2182h0M1757 2182h0M1825 2134h0M1740 2152h0M1778 2167h0M1642 2214h0M1677 2192h0M1794 2194h0M1813 2154h0M1819 2139h0M1802 2165h0M1795 2160h0M1790 2172h0M1665 2199h0M1794 2155h0M1802 2162h0M1785 2193h0M1814 2149h0M1780 2178h0M1769 2217h0M1797 2151h0M1823 2151h0M1723 2208h0M1636 2227h0M1789 2177h0M1768 2162h0M1819 2146h0M1716 2221h0M1693 2222h0M1635 2241h0M1736 2200h0M1761 2182h0M1637 2234h0M1693 2198h0M1788 2187h0M1688 2211h0M1646 2239h0M1847 2100h0M1847 2119h0M1819 2138h0M1824 2120h0M1634 2246h0M1775 2164h0M1727 2204h0M1813 2153h0M1762 2188h0M1797 2159h0M1787 2183h0M1803 2164h0M1825 2144h0M1769 2202h0M1787 2171h0M1644 2212h0M1838 2122h0M1808 2156h0M1723 2206h0M1811 2141h0M1847 2108h0M1745 2192h0M1780 2202h0M1789 2158h0M1796 2155h0M1847 2119h0M1716 2216h0M1729 2182h0M1796 2195h0M1648 2243h0M1641 2219h0M1731 2193h0M1829 2131h0M1801 2168h0M1785 2193h0M1802 2160h0M1720 2229h0M1762 2166h0M1773 2209h0M1834 2150h0M1722 2216h0M1641 2234h0M1826 2156h0M1787 2162h0M1666 2233h0M1834 2128h0M1813 2147h0M1801 2183h0M1778 2163h0M1637 2225h0M1824 2157h0M1714 2235h0M1773 2171h0M1832 2128h0M1779 2189h0M1812 2159h0M1776 2186h0M1814 2154h0M1764 2196h0M1778 2198h0M1808 2167h0M1632 2232h0M1831 2124h0M1792 2165h0M1754 2182h0M1652 2204h0M1755 2194h0M1636 2200h0M1680 2245h0M1780 2176h0M1812 2139h0M1809 2142h0M1827 2154h0M1805 2139h0M1779 2197h0M1656 2205h0M1755 2205h0M1631 2224h0M1787 2158h0M1781 2184h0M1795 2165h0M1731 2201h0M1829 2111h0M1811 2137h0M1762 2209h0M1631 2219h0M1722 2204h0M1784 2168h0M1639 2214h0M1795 2179h0M1804 2165h0M1804 2177h0M1633 2230h0M1809 2150h0M1821 2138h0M1636 2250h0M1832 2105h0M1820 2146h0M1711 2216h0M1764 2189h0M1825 2123h0M1772 2197h0M1687 2215h0M1800 2178h0M1756 2189h0M1755 2224h0M1793 2159h0M1632 2222h0M1747 2192h0M1775 2184h0M1734 2200h0M1780 2173h0M1783 2170h0M1640 2223h0M1738 2200h0M1642 2181h0M1772 2186h0M1798 2148h0M1807 2147h0M1794 2186h0M1812 2163h0M1730 2206h0M1803 2179h0M1748 2181h0M1804 2174h0M1811 2166h0M1687 2216h0M1638 2207h0M1701 2237h0M1827 2137h0M1781 2156h0M1824 2150h0M1806 2159h0M1760 2182h0M1876 2078h0M1774 2182h0M1847 2100h0M1791 2198h0M1830 2130h0M1808 2159h0M1786 2170h0M1783 2157h0M1828 2141h0M1756 2197h0M1782 2171h0M1789 2193h0M1833 2140h0M1660 2220h0M1647 2217h0M1813 2156h0M1813 2136h0M1821 2142h0M1634 2231h0M1702 2219h0M1779 2199h0M1666 2209h0M1771 2187h0M1774 2176h0M1748 2197h0M1819 2156h0M1673 2240h0M1815 2148h0M1632 2232h0M1632 2235h0M1631 2231h0M1804 2167h0M1807 2144h0M1751 2184h0M1699 2215h0M1840 2131h0M1791 2166h0M1814 2154h0M1658 2210h0M1770 2187h0M1809 2159h0M1756 2217h0M1759 2184h0M1771 2174h0M1769 2181h0M1777 2179h0M1841 2123h0M1753 2200h0M1774 2207h0M1820 2115h0M1797 2175h0M1770 2177h0M1768 2181h0M1812 2120h0M1826 2134h0M1780 2163h0M1798 2167h0M1751 2196h0M1809 2171h0M1640 2226h0M1793 2184h0M1765 2190h0M1824 2134h0M1694 2213h0M1797 2153h0M1727 2209h0M1765 2172h0M1794 2174h0M1749 2203h0M1802 2171h0M1818 2139h0M1806 2159h0M1678 2184h0M1743 2193h0M1807 2170h0M1737 2210h0M1807 2162h0M1801 2158h0M1797 2169h0M1772 2169h0M1731 2217h0M1789 2173h0M1642 2207h0M1722 2228h0M1783 2180h0M1806 2148h0M1837 2142h0M1745 2210h0M1766 2194h0M1836 2145h0M1779 2183h0M1752 2204h0M1747 2204h0M1810 2138h0M1824 2148h0M1810 2139h0M1770 2189h0M1814 2148h0M1810 2162h0M1767 2176h0M1795 2176h0M1799 2164h0M1728 2201h0M1801 2164h0M1635 2223h0M1782 2169h0M1635 2232h0M1722 2219h0M1800 2156h0M1778 2184h0M1649 2251h0M1826 2144h0M1663 2229h0M1829 2156h0M1638 2226h0M1640 2225h0M1839 2125h0M1842 2130h0M1747 2187h0M1684 2226h0M1813 2164h0M1815 2144h0M1790 2173h0M1819 2125h0M1814 2161h0M1794 2158h0M1670 2199h0M1632 2233h0M1773 2167h0M1767 2213h0M1788 2195h0M1788 2177h0M1810 2173h0M1717 2221h0M1735 2207h0M1783 2187h0M1782 2174h0M1787 2180h0M1785 2152h0M1775 2183h0M1644 2237h0M1792 2193h0M1752 2176h0M1833 2125h0M1774 2181h0M1685 2218h0M1864 2096h0M1778 2197h0M1817 2142h0M1672 2216h0M1837 2120h0M1755 2198h0M1772 2190h0M1750 2222h0M1818 2140h0M1744 2197h0M1814 2152h0M1739 2201h0M1806 2167h0M1787 2162h0M1722 2230h0M1667 2207h0M1674 2252h0M1740 2242h0M1635 2215h0M1825 2139h0M1692 2212h0M1779 2175h0M1645 2214h0M1780 2159h0M1788 2174h0M1814 2138h0M1782 2191h0M1803 2135h0M1814 2145h0M1736 2188h0M1761 2201h0M1778 2152h0M1764 2208h0M1768 2181h0M1784 2200h0M1821 2128h0M1821 2140h0M1829 2158h0M1798 2181h0M1818 2151h0M1760 2198h0M1666 2211h0M1791 2179h0M1639 2223h0M1750 2214h0M1724 2208h0M1763 2182h0M1802 2170h0M1781 2181h0M1763 2197h0M1789 2172h0M1797 2162h0M1633 2226h0M1816 2144h0M1777 2196h0M1782 2172h0M1793 2176h0M1757 2164h0M1807 2142h0M1672 2227h0M1631 2228h0M1714 2219h0M1767 2202h0M1775 2204h0M1636 2194h0M1803 2152h0M1764 2181h0M1779 2156h0M1773 2177h0M1651 2220h0M1757 2197h0M1780 2178h0M1684 2197h0M1786 2169h0M1781 2196h0M1829 2117h0M1819 2147h0M1708 2209h0M1800 2171h0M1794 2167h0M1773 2196h0M1809 2144h0M1740 2217h0M1815 2143h0M1748 2209h0M1643 2220h0M1799 2131h0M1708 2241h0M1798 2191h0M1785 2163h0M1809 2132h0M1823 2148h0M1816 2138h0M1799 2143h0M1795 2188h0M1776 2189h0M1794 2177h0M1795 2164h0M1815 2145h0M1643 2251h0M1765 2214h0M1750 2192h0M1830 2162h0M1787 2173h0M1800 2152h0M1814 2135h0M1649 2244h0M1819 2133h0M1799 2173h0M1694 2221h0M1636 2218h0M1774 2164h0M1811 2144h0M1789 2178h0M1781 2155h0M1802 2156h0M1803 2151h0M1765 2195h0M1632 2229h0M1765 2213h0M1653 2239h0M1794 2164h0M1631 2231h0M1781 2178h0M1636 2215h0M1767 2188h0M1754 2175h0M1762 2201h0M1636 2218h0M1796 2156h0M1779 2186h0M1840 2132h0M1827 2139h0M1821 2152h0M1719 2217h0M1818 2150h0M1746 2205h0M1792 2171h0M1827 2118h0M1767 2176h0M1706 2200h0M1795 2155h0M1791 2185h0M1795 2185h0M1690 2232h0M1874 2086h0M1631 2241h0M1807 2179h0M1797 2175h0M1794 2169h0M1794 2163h0M1729 2230h0M1802 2163h0M1776 2196h0M1827 2136h0M1784 2200h0M1699 2230h0M1809 2152h0M1788 2172h0M1758 2152h0M1810 2153h0M1802 2142h0M1805 2154h0M1787 2176h0M1828 2130h0M1759 2178h0M1833 2133h0M1731 2233h0M1745 2222h0M1830 2149h0M1771 2186h0M1775 2156h0M1807 2155h0M1795 2180h0M1634 2225h0M1788 2192h0M1777 2171h0M1832 2149h0M1820 2128h0M1778 2181h0M1731 2226h0M1797 2152h0M1803 2173h0M1795 2161h0M1804 2170h0M1648 2194h0M1802 2156h0M1775 2198h0M1815 2153h0M1730 2230h0M1817 2149h0M1815 2144h0M1735 2203h0M1808 2155h0M1678 2197h0M1779 2174h0M1799 2181h0M1759 2189h0M1782 2172h0M1814 2154h0M1807 2152h0M1769 2181h0M1777 2186h0M1794 2164h0M1797 2156h0M1821 2152h0M1634 2225h0M1765 2195h0M1765 2202h0M1777 2166h0M1803 2143h0M1664 2203h0M1783 2186h0M1632 2206h0M1773 2177h0M1817 2143h0M1769 2201h0M1855 2127h0M1738 2208h0M1648 2246h0M1883 2061h0M1637 2234h0M1831 2136h0M1909 2026h0M1745 2186h0M1793 2177h0M1755 2243h0M1779 2182h0M1772 2159h0M1778 2176h0M1703 2217h0M1806 2168h0M1676 2214h0M1662 2216h0M1823 2167h0M1631 2231h0M1774 2182h0M1787 2179h0M1754 2168h0M1744 2192h0M1824 2127h0M1725 2227h0M1763 2207h0M1792 2164h0M1779 2203h0M1797 2146h0M1763 2195h0M1811 2154h0M1750 2198h0M1755 2183h0M1773 2189h0M1744 2203h0M1799 2157h0M1779 2156h0M1832 2133h0M1768 2195h0M1797 2154h0M1644 2215h0M1785 2191h0M1759 2201h0M1818 2154h0M1642 2239h0M1796 2177h0M1792 2184h0M1739 2217h0M1783 2170h0M1717 2221h0M1652 2226h0M1782 2162h0M1756 2207h0M1752 2193h0M1643 2216h0M1855 2097h0M1834 2135h0M1774 2180h0M1727 2211h0M1784 2195h0M1780 2192h0M1823 2117h0M1641 2221h0M1831 2148h0M1728 2236h0M1636 2248h0M1735 2203h0M1742 2221h0M1816 2146h0M1649 2226h0M1788 2162h0M1820 2128h0M1805 2147h0M1801 2154h0M1827 2101h0M1879 2099h0M1808 2093h0M1873 2048h0M1876 2072h0M1818 2126h0M1830 2108h0M1809 2111h0M1855 2078h0M1856 2120h0M1872 2076h0M1840 2104h0M1805 2063h0M1805 2092h0M1835 2072h0M1843 2106h0M1800 2059h0M1866 2069h0M1828 2125h0M1864 2100h0M1842 2087h0M1843 2059h0M1813 2055h0M1848 2125h0M1853 2120h0M1861 2086h0M1869 2069h0M1810 2086h0M1857 2133h0M1832 2131h0M1719 2258h0M1682 2257h0M1655 2257h0M1785 2258h0M1738 2257h0M1773 2257h0M1632 2258h0M1674 2257h0M1793 2258h0M1680 2257h0M1656 2258h0M1730 2258h0M1776 2258h0M1635 2257h0M1770 2258h0M1779 2258h0M1681 2258h0M1794 2257h0M1696 2258h0M1717 2258h0M1672 2257h0M1785 2258h0M1715 2258h0M1701 2258h0M1641 2258h0M1726 2257h0M1773 2258h0M1637 2258h0M1784 2257h0M1701 2258h0M1670 2269h0M1724 2268h0M1756 2269h0M1718 2269h0M1730 2268h0M1759 2269h0M1671 2268h0M1762 2268h0M1736 2268h0M1636 2268h0M1708 2268h0M1725 2268h0M1659 2268h0M1764 2268h0M1675 2268h0M1663 2268h0M1725 2268h0M1665 2268h0M1675 2268h0M1663 2268h0M1726 2268h0M1656 2268h0M1747 2268h0M1670 2269h0M1723 2268h0M1709 2269h0M1641 2268h0M1740 2269h0M1647 2268h0M1750 2269h0M1685 2284h0M1739 2284h0M1710 2284h0M1754 2284h0M1707 2283h0M1730 2284h0M1675 2283h0M1767 2283h0M1645 2283h0M1786 2284h0M1727 2284h0M1770 2284h0M1681 2284h0M1737 2283h0M1737 2283h0M1759 2283h0M1716 2284h0M1640 2284h0M1645 2283h0M1776 2283h0M1735 2283h0M1738 2283h0M1753 2283h0M1761 2283h0M1757 2283h0M1724 2283h0M1648 2283h0M1635 2284h0M1658 2283h0M1770 2284h0M1632 2318h0M1652 2318h0M1713 2319h0M1659 2318h0M1690 2319h0M1696 2318h0M1696 2319h0M1669 2318h0M1639 2318h0M1641 2319h0M1729 2319h0M1696 2319h0M1701 2319h0M1639 2318h0M1724 2318h0M1692 2319h0M1666 2318h0M1702 2318h0M1661 2319h0M1632 2319h0M1640 2319h0M1702 2319h0M1720 2318h0M1697 2319h0M1659 2319h0M1673 2319h0M1637 2319h0M1682 2319h0M1709 2319h0M1644 2319h0M1631 2105h0M1632 2052h0M1632 2097h0M1632 2105h0M1632 2161h0M1632 2147h0M1632 2171h0M1632 2060h0M1631 2114h0M1631 2108h0M1632 2096h0M1632 2061h0M1631 2194h0M1631 2045h0" stroke="#1a1a1a" stroke-width="4.050000000000001" stroke-linecap="round" fill="none"/>
<line x1="293.4" y1="705" x2="293.4" y2="749.9" stroke="#000" stroke-width="2.2"/>
<line x1="293.4" y1="698.7" x2="293.4" y2="705" stroke="#555" stroke-width="1.6"/>
<line x1="417.6" y1="702.9" x2="417.6" y2="753" stroke="#000" stroke-width="1.3"/>
<polygon points="340.2,778.1 349,778.1 349,784.3 354.6,784.3 344.6,791.8 334.6,784.3 340.2,784.3" fill="#7f7f7f"/>
<polygon points="465.5,779.4 474.3,779.4 474.3,783.1 479.9,783.1 469.9,790.6 459.9,783.1 465.5,783.1" fill="#7f7f7f"/>
<polygon points="593.2,779.4 602,779.4 602,783.1 607.6,783.1 597.6,790.6 587.6,783.1 593.2,783.1" fill="#7f7f7f"/>
<text x="485.3" y="791.8" font-size="16">β = 10<tspan font-size="10.5" dy="-6.5">-7</tspan></text>
<text x="230.8" y="800.5" font-size="24" font-weight="bold">(j)</text>
<line x1="313.8" y1="793.7" x2="313.8" y2="897.3" stroke="#d9d9d9" stroke-width="1"/>
<line x1="334.6" y1="793.7" x2="334.6" y2="897.3" stroke="#d9d9d9" stroke-width="1"/>
<line x1="355.4" y1="793.7" x2="355.4" y2="897.3" stroke="#d9d9d9" stroke-width="1"/>
<line x1="376.2" y1="793.7" x2="376.2" y2="897.3" stroke="#d9d9d9" stroke-width="1"/>
<line x1="293" y1="793.7" x2="397" y2="793.7" stroke="#d9d9d9" stroke-width="1"/>
<line x1="293" y1="814.4" x2="397" y2="814.4" stroke="#d9d9d9" stroke-width="1"/>
<line x1="293" y1="835.1" x2="397" y2="835.1" stroke="#d9d9d9" stroke-width="1"/>
<line x1="293" y1="855.9" x2="397" y2="855.9" stroke="#d9d9d9" stroke-width="1"/>
<line x1="293" y1="876.6" x2="397" y2="876.6" stroke="#d9d9d9" stroke-width="1"/>
<line x1="397" y1="793.7" x2="397" y2="897.3" stroke="#d9d9d9" stroke-width="1"/>
<line x1="293" y1="793.7" x2="293" y2="897.3" stroke="#d9d9d9" stroke-width="1"/>
<rect x="293.8" y="794.2" width="64" height="19" fill="#fff"/>
<line x1="290.7" y1="793.2" x2="290.7" y2="897.8" stroke="#a6a6a6" stroke-width="1.2"/>
<line x1="287.2" y1="793.7" x2="290.7" y2="793.7" stroke="#bfbfbf" stroke-width="1"/>
<line x1="287.2" y1="814.4" x2="290.7" y2="814.4" stroke="#bfbfbf" stroke-width="1"/>
<line x1="287.2" y1="835.1" x2="290.7" y2="835.1" stroke="#bfbfbf" stroke-width="1"/>
<line x1="287.2" y1="855.9" x2="290.7" y2="855.9" stroke="#bfbfbf" stroke-width="1"/>
<line x1="287.2" y1="876.6" x2="290.7" y2="876.6" stroke="#bfbfbf" stroke-width="1"/>
<line x1="287.2" y1="897.3" x2="290.7" y2="897.3" stroke="#bfbfbf" stroke-width="1"/>
<line x1="293" y1="898.3" x2="397" y2="898.3" stroke="#bfbfbf" stroke-width="1.6"/>
<line x1="293" y1="898.3" x2="293" y2="901.3" stroke="#bfbfbf" stroke-width="1"/>
<line x1="313.8" y1="898.3" x2="313.8" y2="901.3" stroke="#bfbfbf" stroke-width="1"/>
<line x1="334.6" y1="898.3" x2="334.6" y2="901.3" stroke="#bfbfbf" stroke-width="1"/>
<line x1="355.4" y1="898.3" x2="355.4" y2="901.3" stroke="#bfbfbf" stroke-width="1"/>
<line x1="376.2" y1="898.3" x2="376.2" y2="901.3" stroke="#bfbfbf" stroke-width="1"/>
<line x1="397" y1="898.3" x2="397" y2="901.3" stroke="#bfbfbf" stroke-width="1"/>
<line x1="438" y1="793.7" x2="438" y2="897.3" stroke="#d9d9d9" stroke-width="1"/>
<line x1="458.8" y1="793.7" x2="458.8" y2="897.3" stroke="#d9d9d9" stroke-width="1"/>
<line x1="479.6" y1="793.7" x2="479.6" y2="897.3" stroke="#d9d9d9" stroke-width="1"/>
<line x1="500.4" y1="793.7" x2="500.4" y2="897.3" stroke="#d9d9d9" stroke-width="1"/>
<line x1="417.2" y1="793.7" x2="521.2" y2="793.7" stroke="#d9d9d9" stroke-width="1"/>
<line x1="417.2" y1="814.4" x2="521.2" y2="814.4" stroke="#d9d9d9" stroke-width="1"/>
<line x1="417.2" y1="835.1" x2="521.2" y2="835.1" stroke="#d9d9d9" stroke-width="1"/>
<line x1="417.2" y1="855.9" x2="521.2" y2="855.9" stroke="#d9d9d9" stroke-width="1"/>
<line x1="417.2" y1="876.6" x2="521.2" y2="876.6" stroke="#d9d9d9" stroke-width="1"/>
<line x1="521.2" y1="793.7" x2="521.2" y2="897.3" stroke="#d9d9d9" stroke-width="1"/>
<line x1="417.2" y1="793.7" x2="417.2" y2="897.3" stroke="#d9d9d9" stroke-width="1"/>
<rect x="418" y="794.2" width="64" height="19" fill="#fff"/>
<line x1="414.9" y1="793.2" x2="414.9" y2="897.8" stroke="#a6a6a6" stroke-width="1.2"/>
<line x1="411.4" y1="793.7" x2="414.9" y2="793.7" stroke="#bfbfbf" stroke-width="1"/>
<line x1="411.4" y1="814.4" x2="414.9" y2="814.4" stroke="#bfbfbf" stroke-width="1"/>
<line x1="411.4" y1="835.1" x2="414.9" y2="835.1" stroke="#bfbfbf" stroke-width="1"/>
<line x1="411.4" y1="855.9" x2="414.9" y2="855.9" stroke="#bfbfbf" stroke-width="1"/>
<line x1="411.4" y1="876.6" x2="414.9" y2="876.6" stroke="#bfbfbf" stroke-width="1"/>
<line x1="411.4" y1="897.3" x2="414.9" y2="897.3" stroke="#bfbfbf" stroke-width="1"/>
<line x1="417.2" y1="898.3" x2="521.2" y2="898.3" stroke="#bfbfbf" stroke-width="1.6"/>
<line x1="417.2" y1="898.3" x2="417.2" y2="901.3" stroke="#bfbfbf" stroke-width="1"/>
<line x1="438" y1="898.3" x2="438" y2="901.3" stroke="#bfbfbf" stroke-width="1"/>
<line x1="458.8" y1="898.3" x2="458.8" y2="901.3" stroke="#bfbfbf" stroke-width="1"/>
<line x1="479.6" y1="898.3" x2="479.6" y2="901.3" stroke="#bfbfbf" stroke-width="1"/>
<line x1="500.4" y1="898.3" x2="500.4" y2="901.3" stroke="#bfbfbf" stroke-width="1"/>
<line x1="521.2" y1="898.3" x2="521.2" y2="901.3" stroke="#bfbfbf" stroke-width="1"/>
<line x1="564.2" y1="793.7" x2="564.2" y2="897.3" stroke="#d9d9d9" stroke-width="1"/>
<line x1="585" y1="793.7" x2="585" y2="897.3" stroke="#d9d9d9" stroke-width="1"/>
<line x1="605.7" y1="793.7" x2="605.7" y2="897.3" stroke="#d9d9d9" stroke-width="1"/>
<line x1="626.5" y1="793.7" x2="626.5" y2="897.3" stroke="#d9d9d9" stroke-width="1"/>
<line x1="543.5" y1="793.7" x2="647.2" y2="793.7" stroke="#d9d9d9" stroke-width="1"/>
<line x1="543.5" y1="814.4" x2="647.2" y2="814.4" stroke="#d9d9d9" stroke-width="1"/>
<line x1="543.5" y1="835.1" x2="647.2" y2="835.1" stroke="#d9d9d9" stroke-width="1"/>
<line x1="543.5" y1="855.9" x2="647.2" y2="855.9" stroke="#d9d9d9" stroke-width="1"/>
<line x1="543.5" y1="876.6" x2="647.2" y2="876.6" stroke="#d9d9d9" stroke-width="1"/>
<line x1="647.2" y1="793.7" x2="647.2" y2="897.3" stroke="#d9d9d9" stroke-width="1"/>
<line x1="543.5" y1="793.7" x2="543.5" y2="897.3" stroke="#d9d9d9" stroke-width="1"/>
<rect x="544.3" y="794.2" width="64" height="19" fill="#fff"/>
<line x1="541.2" y1="793.2" x2="541.2" y2="897.8" stroke="#a6a6a6" stroke-width="1.2"/>
<line x1="537.7" y1="793.7" x2="541.2" y2="793.7" stroke="#bfbfbf" stroke-width="1"/>
<line x1="537.7" y1="814.4" x2="541.2" y2="814.4" stroke="#bfbfbf" stroke-width="1"/>
<line x1="537.7" y1="835.1" x2="541.2" y2="835.1" stroke="#bfbfbf" stroke-width="1"/>
<line x1="537.7" y1="855.9" x2="541.2" y2="855.9" stroke="#bfbfbf" stroke-width="1"/>
<line x1="537.7" y1="876.6" x2="541.2" y2="876.6" stroke="#bfbfbf" stroke-width="1"/>
<line x1="537.7" y1="897.3" x2="541.2" y2="897.3" stroke="#bfbfbf" stroke-width="1"/>
<line x1="543.5" y1="898.3" x2="647.2" y2="898.3" stroke="#bfbfbf" stroke-width="1.6"/>
<line x1="543.5" y1="898.3" x2="543.5" y2="901.3" stroke="#bfbfbf" stroke-width="1"/>
<line x1="564.2" y1="898.3" x2="564.2" y2="901.3" stroke="#bfbfbf" stroke-width="1"/>
<line x1="585" y1="898.3" x2="585" y2="901.3" stroke="#bfbfbf" stroke-width="1"/>
<line x1="605.7" y1="898.3" x2="605.7" y2="901.3" stroke="#bfbfbf" stroke-width="1"/>
<line x1="626.5" y1="898.3" x2="626.5" y2="901.3" stroke="#bfbfbf" stroke-width="1"/>
<line x1="647.2" y1="898.3" x2="647.2" y2="901.3" stroke="#bfbfbf" stroke-width="1"/>
<text x="297.6" y="810.8" font-size="16">r = 0.99</text>
<text x="418.7" y="810.8" font-size="16">r = 0.97</text>
<text x="547.7" y="810.8" font-size="16">r = 0.98</text>
<text transform="translate(285.2,800.1) scale(0.8,1)" font-size="16" text-anchor="end">10<tspan font-size="11" dy="-6">-1</tspan></text>
<text transform="translate(285.2,820.8) scale(0.8,1)" font-size="16" text-anchor="end">10<tspan font-size="11" dy="-6">-2</tspan></text>
<text transform="translate(285.2,841.5) scale(0.8,1)" font-size="16" text-anchor="end">10<tspan font-size="11" dy="-6">-3</tspan></text>
<text transform="translate(285.2,862.3) scale(0.8,1)" font-size="16" text-anchor="end">10<tspan font-size="11" dy="-6">-4</tspan></text>
<text transform="translate(285.2,883) scale(0.8,1)" font-size="16" text-anchor="end">10<tspan font-size="11" dy="-6">-5</tspan></text>
<text transform="translate(285.2,903.7) scale(0.8,1)" font-size="16" text-anchor="end">10<tspan font-size="11" dy="-6">-6</tspan></text>
<text transform="translate(259.2,845.5) rotate(-90)" font-size="16" text-anchor="middle">mRNA ratio</text>
<text x="303.8" y="916.2" font-size="15">10<tspan font-size="10" dy="-6">-5</tspan></text>
<text x="345.4" y="916.2" font-size="15">10<tspan font-size="10" dy="-6">-3</tspan></text>
<text x="387" y="916.2" font-size="15">10<tspan font-size="10" dy="-6">-1</tspan></text>
<text x="428" y="916.2" font-size="15">10<tspan font-size="10" dy="-6">-5</tspan></text>
<text x="469.6" y="916.2" font-size="15">10<tspan font-size="10" dy="-6">-3</tspan></text>
<text x="511.2" y="916.2" font-size="15">10<tspan font-size="10" dy="-6">-1</tspan></text>
<text x="549.5" y="916.2" font-size="15">10<tspan font-size="10" dy="-6">-5</tspan></text>
<text x="591.9" y="916.2" font-size="15">10<tspan font-size="10" dy="-6">-3</tspan></text>
<text x="627.9" y="916.2" font-size="15">10<tspan font-size="10" dy="-6">-1</tspan></text>
<text x="348" y="930.3" font-size="16" text-anchor="middle">B cell</text>
<text x="472.5" y="929.5" font-size="16" text-anchor="middle">T cell</text>
<text x="594.5" y="929.5" font-size="16" text-anchor="middle">Myeloid</text>
<text x="472" y="944.3" font-size="16" text-anchor="middle">Target ratio</text>
<line x1="543.5" y1="877.2" x2="580.8" y2="877.2" stroke="#000" stroke-width="1.3"/>
<line x1="543.5" y1="880.7" x2="582.9" y2="880.7" stroke="#000" stroke-width="1.3"/>
<line x1="543.5" y1="885.7" x2="582.9" y2="885.7" stroke="#000" stroke-width="1.3"/>
<line x1="543.5" y1="897.1" x2="572.5" y2="897.1" stroke="#000" stroke-width="1.3"/>
<path transform="scale(.3333333)" d="M1143 2433h0M1177 2407h0M1148 2434h0M1126 2449h0M1149 2429h0M1082 2494h0M1095 2482h0M1088 2483h0M1104 2472h0M1109 2468h0M1135 2435h0M1108 2469h0M1121 2454h0M1141 2434h0M1093 2474h0M1144 2429h0M1118 2457h0M1148 2436h0M1056 2518h0M1122 2450h0M1141 2434h0M1114 2463h0M1104 2464h0M1087 2495h0M1088 2480h0M1149 2434h0M1115 2463h0M1077 2481h0M1132 2450h0M1109 2466h0M1138 2435h0M1111 2453h0M1126 2450h0M1122 2452h0M1071 2495h0M1078 2491h0M1045 2531h0M1141 2436h0M1059 2510h0M1104 2466h0M1134 2439h0M1119 2455h0M1080 2486h0M1134 2439h0M1076 2501h0M1046 2533h0M1044 2522h0M1122 2451h0M1040 2526h0M1055 2511h0M1096 2476h0M1124 2453h0M1146 2425h0M1071 2493h0M1150 2422h0M1138 2447h0M1110 2466h0M1046 2528h0M1140 2434h0M1097 2477h0M1037 2531h0M1127 2451h0M1123 2444h0M1065 2508h0M1082 2484h0M1106 2462h0M1141 2433h0M1086 2486h0M1127 2450h0M1115 2443h0M1079 2485h0M1118 2453h0M1056 2518h0M1110 2460h0M1098 2470h0M1058 2512h0M1116 2455h0M1148 2424h0M1180 2402h0M1072 2497h0M1043 2538h0M1147 2434h0M1094 2473h0M1125 2450h0M1079 2495h0M1142 2432h0M1079 2495h0M1106 2465h0M1059 2512h0M1096 2476h0M1140 2445h0M1073 2498h0M1086 2492h0M1076 2492h0M1052 2520h0M1123 2456h0M1125 2445h0M1059 2514h0M1069 2514h0M1089 2482h0M1075 2492h0M1139 2442h0M1113 2466h0M1171 2408h0M1118 2460h0M1108 2467h0M1091 2489h0M1104 2473h0M1122 2455h0M1106 2465h0M1104 2472h0M1120 2448h0M1113 2459h0M1131 2434h0M1127 2452h0M1134 2436h0M1090 2486h0M1108 2456h0M1135 2440h0M1118 2455h0M1135 2437h0M1076 2500h0M1078 2487h0M1150 2426h0M1122 2453h0M1053 2506h0M1137 2444h0M1153 2422h0M1064 2493h0M1088 2481h0M1038 2528h0M1111 2465h0M1153 2418h0M1129 2445h0M1066 2508h0M1076 2499h0M1101 2480h0M1052 2522h0M1110 2463h0M1104 2467h0M1104 2469h0M1121 2460h0M1136 2438h0M1069 2493h0M1059 2506h0M1099 2478h0M1132 2435h0M1116 2458h0M1039 2523h0M1103 2466h0M1069 2509h0M1122 2455h0M1082 2484h0M1081 2491h0M1168 2410h0M1131 2442h0M1126 2444h0M1111 2468h0M1152 2416h0M1151 2434h0M1098 2476h0M1053 2519h0M1086 2485h0M1152 2434h0M1098 2473h0M1055 2508h0M1089 2490h0M1135 2445h0M1136 2428h0M1139 2434h0M1080 2494h0M1088 2479h0M1092 2482h0M1169 2411h0M1072 2502h0M1083 2481h0M1061 2507h0M1104 2462h0M1166 2410h0M1128 2439h0M1081 2486h0M1062 2507h0M1133 2443h0M1106 2467h0M1081 2491h0M1129 2449h0M1052 2523h0M1123 2446h0M1145 2434h0M1124 2448h0M928 2671h0M1041 2562h0M944 2623h0M1020 2560h0M979 2564h0M962 2585h0M950 2623h0M1005 2599h0M898 2635h0M1047 2558h0M963 2555h0M1017 2518h0M941 2627h0M1029 2550h0M930 2612h0M984 2592h0M978 2618h0M966 2578h0M919 2589h0M1051 2526h0M931 2600h0M939 2607h0M960 2594h0M931 2625h0M1025 2574h0M924 2600h0M915 2599h0M985 2538h0M950 2603h0M975 2559h0M907 2631h0M953 2599h0M1047 2493h0M901 2680h0M1030 2562h0M898 2601h0M1009 2598h0M964 2560h0M1031 2587h0M965 2596h0M999 2604h0M988 2567h0M1044 2534h0M976 2562h0M1020 2554h0M1052 2511h0M994 2590h0M896 2617h0M935 2574h0M892 2597h0M1049 2515h0M949 2631h0M940 2569h0M900 2614h0M962 2579h0M893 2645h0M892 2659h0M892 2569h0M893 2628h0M891 2612h0M892 2532h0M891 2536h0M892 2628h0M891 2600h0M891 2599h0M892 2623h0M892 2576h0M891 2542h0M892 2621h0M899 2627h0M899 2650h0M898 2592h0M897 2578h0M899 2604h0M898 2596h0M897 2611h0M897 2605h0M897 2658h0M897 2578h0M885 2640h0M913 2641h0M909 2641h0M887 2640h0M890 2641h0M885 2640h0M891 2641h0M909 2640h0M907 2656h0M916 2655h0M883 2655h0M953 2656h0M882 2656h0M947 2655h0M914 2656h0M939 2655h0M881 2655h0M884 2655h0M881 2691h0M930 2691h0M937 2691h0M918 2691h0M947 2691h0M958 2692h0M950 2691h0M945 2692h0M892 2691h0M897 2692h0M949 2691h0M945 2691h0M892 2691h0M946 2691h0M950 2692h0M912 2691h0M1441 2508h0M1487 2475h0M1450 2508h0M1426 2531h0M1281 2580h0M1450 2507h0M1427 2545h0M1470 2481h0M1386 2569h0M1461 2505h0M1453 2507h0M1489 2482h0M1491 2470h0M1451 2514h0M1417 2546h0M1454 2482h0M1344 2556h0M1319 2589h0M1428 2537h0M1402 2564h0M1349 2557h0M1419 2522h0M1327 2560h0M1434 2519h0M1439 2523h0M1373 2578h0M1436 2519h0M1348 2577h0M1466 2497h0M1425 2542h0M1400 2570h0M1401 2551h0M1425 2532h0M1478 2491h0M1435 2522h0M1461 2492h0M1461 2507h0M1408 2513h0M1373 2555h0M1455 2517h0M1374 2559h0M1422 2539h0M1460 2495h0M1437 2521h0M1474 2486h0M1370 2554h0M1446 2526h0M1450 2522h0M1462 2505h0M1433 2515h0M1459 2506h0M1398 2535h0M1372 2592h0M1456 2500h0M1434 2516h0M1426 2529h0M1448 2514h0M1464 2497h0M1427 2532h0M1496 2463h0M1450 2510h0M1507 2446h0M1477 2486h0M1477 2492h0M1311 2600h0M1435 2525h0M1431 2521h0M1325 2558h0M1444 2508h0M1468 2481h0M1410 2519h0M1411 2540h0M1411 2540h0M1401 2548h0M1383 2565h0M1414 2540h0M1371 2570h0M1480 2483h0M1458 2513h0M1389 2561h0M1470 2507h0M1396 2555h0M1435 2503h0M1481 2482h0M1404 2591h0M1399 2567h0M1474 2489h0M1402 2557h0M1441 2509h0M1397 2563h0M1455 2491h0M1457 2492h0M1417 2544h0M1434 2522h0M1408 2551h0M1353 2553h0M1409 2565h0M1461 2516h0M1337 2598h0M1390 2573h0M1453 2505h0M1293 2599h0M1404 2570h0M1460 2499h0M1416 2540h0M1472 2491h0M1460 2501h0M1446 2523h0M1469 2494h0M1450 2501h0M1461 2504h0M1462 2479h0M1408 2530h0M1481 2478h0M1397 2575h0M1471 2477h0M1452 2505h0M1339 2558h0M1382 2561h0M1453 2501h0M1507 2450h0M1321 2573h0M1510 2453h0M1447 2493h0M1486 2476h0M1479 2486h0M1397 2564h0M1377 2571h0M1480 2487h0M1376 2599h0M1471 2487h0M1458 2510h0M1442 2521h0M1377 2582h0M1420 2546h0M1421 2531h0M1402 2536h0M1447 2510h0M1339 2585h0M1477 2480h0M1463 2504h0M1421 2514h0M1423 2537h0M1267 2620h0M1361 2553h0M1422 2548h0M1408 2567h0M1461 2502h0M1496 2471h0M1505 2453h0M1399 2580h0M1405 2535h0M1399 2582h0M1339 2573h0M1395 2562h0M1511 2458h0M1405 2536h0M1433 2539h0M1420 2542h0M1427 2531h0M1459 2493h0M1416 2561h0M1484 2472h0M1403 2550h0M1478 2481h0M1451 2490h0M1455 2513h0M1439 2508h0M1390 2558h0M1453 2509h0M1467 2481h0M1416 2533h0M1435 2536h0M1450 2507h0M1453 2490h0M1372 2576h0M1407 2550h0M1359 2560h0M1479 2488h0M1331 2559h0M1417 2537h0M1467 2491h0M1448 2500h0M1454 2508h0M1414 2555h0M1473 2489h0M1440 2513h0M1418 2533h0M1356 2556h0M1386 2564h0M1375 2574h0M1413 2539h0M1446 2509h0M1447 2505h0M1444 2505h0M1465 2494h0M1452 2486h0M1472 2490h0M1472 2495h0M1365 2625h0M1362 2597h0M1436 2511h0M1337 2614h0M1431 2504h0M1459 2492h0M1436 2523h0M1436 2523h0M1399 2555h0M1458 2501h0M1468 2489h0M1428 2522h0M1444 2514h0M1454 2513h0M1462 2501h0M1376 2565h0M1415 2547h0M1462 2502h0M1420 2546h0M1468 2475h0M1381 2527h0M1428 2515h0M1460 2511h0M1359 2594h0M1400 2540h0M1440 2505h0M1479 2478h0M1406 2561h0M1462 2505h0M1309 2605h0M1334 2596h0M1454 2506h0M1424 2529h0M1361 2573h0M1448 2523h0M1460 2494h0M1452 2495h0M1473 2488h0M1434 2529h0M1455 2501h0M1403 2555h0M1403 2546h0M1471 2484h0M1451 2502h0M1352 2584h0M1378 2584h0M1422 2538h0M1405 2543h0M1445 2509h0M1361 2596h0M1447 2517h0M1437 2518h0M1453 2508h0M1394 2571h0M1414 2545h0M1457 2502h0M1465 2515h0M1419 2568h0M1506 2450h0M1326 2596h0M1426 2528h0M1464 2498h0M1441 2508h0M1407 2528h0M1444 2531h0M1427 2540h0M1470 2503h0M1347 2602h0M1342 2590h0M1392 2535h0M1417 2549h0M1417 2521h0M1317 2606h0M1498 2464h0M1475 2483h0M1437 2509h0M1355 2565h0M1425 2523h0M1473 2486h0M1478 2487h0M1461 2503h0M1471 2496h0M1394 2561h0M1430 2535h0M1399 2555h0M1458 2495h0M1474 2506h0M1413 2541h0M1435 2512h0M1370 2575h0M1407 2553h0M1393 2564h0M1460 2497h0M1412 2537h0M1425 2528h0M1439 2513h0M1463 2496h0M1478 2491h0M1403 2537h0M1427 2547h0M1416 2536h0M1385 2594h0M1402 2560h0M1456 2493h0M1443 2511h0M1377 2568h0M1471 2492h0M1421 2551h0M1491 2481h0M1496 2455h0M1410 2545h0M1379 2566h0M1366 2594h0M1295 2620h0M1444 2511h0M1340 2575h0M1365 2594h0M1416 2544h0M1418 2522h0M1433 2525h0M1488 2471h0M1480 2490h0M1467 2502h0M1435 2526h0M1359 2556h0M1398 2548h0M1406 2561h0M1377 2588h0M1429 2509h0M1457 2513h0M1445 2510h0M1401 2533h0M1470 2485h0M1455 2495h0M1287 2587h0M1333 2576h0M1433 2529h0M1427 2528h0M1415 2544h0M1454 2502h0M1368 2571h0M1438 2525h0M1424 2528h0M1419 2516h0M1445 2522h0M1422 2551h0M1368 2530h0M1448 2517h0M1432 2512h0M1309 2593h0M1394 2571h0M1465 2493h0M1413 2539h0M1446 2513h0M1417 2543h0M1433 2536h0M1442 2527h0M1429 2514h0M1455 2499h0M1405 2540h0M1416 2554h0M1435 2504h0M1374 2577h0M1478 2487h0M1367 2591h0M1368 2566h0M1413 2559h0M1438 2533h0M1468 2478h0M1418 2558h0M1462 2507h0M1394 2566h0M1450 2511h0M1408 2539h0M1458 2502h0M1426 2518h0M1375 2556h0M1439 2515h0M1366 2592h0M1426 2503h0M1426 2531h0M1398 2541h0M1416 2561h0M1434 2533h0M1415 2554h0M1476 2487h0M1457 2502h0M1398 2566h0M1467 2488h0M1262 2617h0M1447 2511h0M1322 2579h0M1463 2496h0M1453 2499h0M1485 2476h0M1427 2524h0M1448 2519h0M1419 2549h0M1440 2519h0M1461 2494h0M1385 2535h0M1360 2564h0M1430 2544h0M1465 2511h0M1465 2494h0M1389 2585h0M1437 2520h0M1450 2515h0M1436 2529h0M1381 2558h0M1430 2534h0M1466 2504h0M1371 2565h0M1456 2483h0M1500 2459h0M1403 2553h0M1452 2499h0M1375 2590h0M1284 2596h0M1333 2620h0M1429 2514h0M1440 2525h0M1396 2567h0M1390 2559h0M1438 2518h0M1443 2500h0M1384 2510h0M1424 2512h0M1455 2514h0M1493 2467h0M1379 2567h0M1455 2506h0M1276 2590h0M1467 2501h0M1438 2508h0M1396 2576h0M1423 2529h0M1476 2471h0M1404 2582h0M1472 2501h0M1420 2539h0M1441 2502h0M1483 2484h0M1310 2617h0M1492 2474h0M1443 2513h0M1443 2517h0M1473 2495h0M1418 2551h0M1393 2561h0M1451 2507h0M1314 2574h0M1409 2537h0M1443 2502h0M1364 2562h0M1431 2545h0M1381 2600h0M1450 2505h0M1399 2556h0M1416 2534h0M1395 2548h0M1437 2519h0M1449 2521h0M1404 2570h0M1454 2502h0M1463 2502h0M1458 2512h0M1379 2580h0M1435 2518h0M1412 2546h0M1451 2489h0M1399 2562h0M1437 2538h0M1432 2523h0M1430 2521h0M1449 2513h0M1415 2535h0M1452 2505h0M1481 2489h0M1447 2501h0M1399 2568h0M1397 2561h0M1484 2486h0M1405 2553h0M1436 2502h0M1422 2547h0M1389 2549h0M1433 2542h0M1507 2448h0M1398 2541h0M1403 2573h0M1434 2510h0M1488 2477h0M1413 2520h0M1436 2523h0M1457 2504h0M1367 2560h0M1424 2538h0M1399 2558h0M1457 2503h0M1455 2493h0M1445 2497h0M1454 2503h0M1351 2596h0M1439 2519h0M1362 2612h0M1520 2429h0M1429 2541h0M1424 2553h0M1422 2538h0M1359 2573h0M1378 2584h0M1333 2607h0M1393 2568h0M1441 2509h0M1399 2558h0M1427 2537h0M1402 2550h0M1474 2481h0M1441 2521h0M1427 2529h0M1445 2522h0M1415 2523h0M1481 2469h0M1462 2499h0M1397 2529h0M1457 2502h0M1425 2524h0M1394 2576h0M1336 2564h0M1432 2526h0M1471 2493h0M1458 2490h0M1426 2518h0M1418 2538h0M1412 2534h0M1431 2521h0M1450 2504h0M1397 2550h0M1430 2526h0M1429 2520h0M1430 2514h0M1331 2562h0M1484 2483h0M1465 2491h0M1395 2529h0M1466 2498h0M1429 2539h0M1418 2530h0M1401 2541h0M1479 2486h0M1420 2534h0M1294 2622h0M1395 2562h0M1254 2612h0M1478 2497h0M1420 2543h0M1407 2536h0M1420 2537h0M1461 2518h0M1461 2497h0M1432 2511h0M1451 2513h0M1503 2460h0M1446 2513h0M1377 2603h0M1363 2564h0M1391 2547h0M1441 2514h0M1391 2554h0M1415 2524h0M1435 2517h0M1448 2494h0M1396 2585h0M1401 2566h0M1425 2532h0M1370 2577h0M1457 2501h0M1432 2527h0M1449 2511h0M1404 2563h0M1426 2531h0M1444 2501h0M1501 2467h0M1438 2526h0M1378 2580h0M1402 2561h0M1468 2487h0M1434 2539h0M1404 2554h0M1441 2511h0M1440 2511h0M1477 2479h0M1446 2511h0M1419 2524h0M1449 2497h0M1467 2501h0M1429 2538h0M1427 2510h0M1454 2500h0M1415 2551h0M1437 2520h0M1407 2525h0M1415 2535h0M1446 2502h0M1292 2598h0M1442 2514h0M1339 2560h0M1323 2593h0M1431 2523h0M1421 2536h0M1441 2502h0M1350 2585h0M1398 2562h0M1443 2517h0M1420 2540h0M1423 2524h0M1467 2479h0M1364 2548h0M1406 2546h0M1309 2598h0M1450 2497h0M1454 2510h0M1429 2531h0M1448 2507h0M1480 2484h0M1375 2547h0M1373 2553h0M1462 2505h0M1404 2561h0M1446 2518h0M1376 2596h0M1320 2598h0M1412 2553h0M1459 2503h0M1341 2557h0M1418 2554h0M1310 2574h0M1466 2514h0M1417 2541h0M1416 2549h0M1468 2490h0M1492 2463h0M1350 2572h0M1463 2495h0M1414 2540h0M1417 2544h0M1348 2609h0M1476 2470h0M1454 2492h0M1287 2616h0M1431 2525h0M1397 2545h0M1417 2541h0M1456 2497h0M1446 2514h0M1433 2518h0M1473 2502h0M1290 2599h0M1409 2526h0M1438 2496h0M1375 2571h0M1448 2507h0M1443 2505h0M1405 2555h0M1385 2564h0M1403 2539h0M1377 2564h0M1457 2500h0M1376 2589h0M1314 2599h0M1437 2501h0M1415 2530h0M1470 2489h0M1456 2510h0M1422 2544h0M1456 2499h0M1350 2582h0M1457 2497h0M1424 2523h0M1389 2558h0M1392 2563h0M1428 2530h0M1356 2582h0M1451 2506h0M1357 2553h0M1394 2514h0M1338 2576h0M1432 2510h0M1446 2503h0M1454 2506h0M1372 2606h0M1472 2488h0M1462 2508h0M1447 2513h0M1486 2466h0M1426 2537h0M1447 2526h0M1407 2529h0M1432 2524h0M1464 2504h0M1386 2577h0M1422 2553h0M1431 2514h0M1442 2506h0M1459 2501h0M1417 2516h0M1463 2483h0M1448 2505h0M1477 2484h0M1402 2578h0M1416 2536h0M1436 2524h0M1457 2502h0M1455 2498h0M1469 2493h0M1455 2495h0M1459 2499h0M1375 2584h0M1443 2507h0M1434 2520h0M1433 2533h0M1462 2496h0M1462 2502h0M1444 2523h0M1483 2481h0M1464 2504h0M1446 2520h0M1422 2530h0M1481 2476h0M1410 2533h0M1409 2548h0M1417 2533h0M1481 2473h0M1451 2493h0M1449 2522h0M1447 2516h0M1357 2570h0M1295 2574h0M1470 2494h0M1391 2561h0M1473 2488h0M1394 2560h0M1426 2512h0M1435 2519h0M1286 2591h0M1471 2496h0M1431 2513h0M1400 2521h0M1438 2539h0M1403 2549h0M1393 2563h0M1363 2577h0M1455 2504h0M1354 2558h0M1297 2590h0M1283 2624h0M1465 2495h0M1477 2489h0M1459 2483h0M1454 2501h0M1445 2496h0M1416 2554h0M1402 2561h0M1464 2491h0M1457 2509h0M1436 2531h0M1387 2578h0M1459 2497h0M1431 2518h0M1469 2503h0M1466 2493h0M1457 2495h0M1375 2577h0M1425 2546h0M1410 2543h0M1384 2566h0M1404 2569h0M1411 2528h0M1265 2609h0M1476 2489h0M1457 2504h0M1450 2526h0M1317 2579h0M1396 2559h0M1452 2510h0M1480 2489h0M1330 2571h0M1410 2542h0M1491 2471h0M1515 2444h0M1442 2529h0M1481 2490h0M1421 2516h0M1384 2566h0M1468 2485h0M1404 2554h0M1478 2477h0M1444 2501h0M1455 2506h0M1432 2539h0M1494 2471h0M1296 2604h0M1435 2536h0M1413 2555h0M1431 2523h0M1422 2522h0M1374 2561h0M1266 2616h0M1302 2574h0M1444 2518h0M1444 2524h0M1496 2475h0M1490 2482h0M1437 2518h0M1366 2552h0M1445 2530h0M1489 2472h0M1396 2575h0M1429 2539h0M1363 2580h0M1472 2489h0M1444 2513h0M1399 2567h0M1463 2493h0M1342 2600h0M1447 2515h0M1259 2626h0M1435 2526h0M1447 2525h0M1441 2505h0M1329 2590h0M1297 2564h0M1330 2583h0M1399 2553h0M1465 2498h0M1485 2463h0M1461 2501h0M1438 2531h0M1403 2563h0M1387 2571h0M1391 2528h0M1481 2485h0M1442 2529h0M1399 2568h0M1458 2506h0M1421 2525h0M1316 2592h0M1440 2519h0M1440 2506h0M1487 2478h0M1459 2482h0M1372 2563h0M1443 2528h0M1401 2559h0M1433 2520h0M1457 2505h0M1387 2559h0M1401 2545h0M1436 2519h0M1385 2572h0M1400 2559h0M1410 2536h0M1485 2485h0M1453 2509h0M1414 2538h0M1446 2512h0M1473 2480h0M1364 2564h0M1391 2578h0M1493 2463h0M1386 2553h0M1375 2569h0M1502 2455h0M1442 2496h0M1439 2526h0M1356 2597h0M1362 2529h0M1426 2508h0M1332 2570h0M1392 2552h0M1392 2556h0M1279 2597h0M1421 2509h0M1369 2525h0M1475 2481h0M1423 2532h0M1428 2532h0M1412 2554h0M1481 2484h0M1331 2585h0M1474 2480h0M1413 2545h0M1486 2470h0M1487 2472h0M1435 2495h0M1485 2479h0M1456 2504h0M1436 2534h0M1445 2519h0M1396 2537h0M1391 2565h0M1467 2494h0M1464 2482h0M1435 2529h0M1465 2511h0M1345 2584h0M1445 2509h0M1422 2538h0M1346 2582h0M1456 2502h0M1466 2484h0M1475 2494h0M1477 2488h0M1441 2514h0M1413 2538h0M1403 2536h0M1322 2593h0M1399 2569h0M1440 2510h0M1457 2509h0M1439 2514h0M1430 2505h0M1395 2587h0M1396 2568h0M1435 2536h0M1408 2539h0M1446 2507h0M1493 2465h0M1451 2499h0M1381 2598h0M1328 2617h0M1410 2537h0M1439 2517h0M1425 2529h0M1372 2595h0M1441 2517h0M1399 2526h0M1305 2592h0M1355 2589h0M1450 2509h0M1273 2554h0M1369 2602h0M1405 2556h0M1437 2534h0M1447 2506h0M1317 2581h0M1454 2506h0M1443 2508h0M1417 2529h0M1326 2548h0M1410 2551h0M1371 2581h0M1448 2502h0M1382 2540h0M1462 2485h0M1419 2523h0M1436 2531h0M1454 2506h0M1417 2542h0M1472 2490h0M1464 2490h0M1406 2548h0M1418 2533h0M1407 2536h0M1452 2507h0M1437 2501h0M1324 2602h0M1466 2493h0M1465 2504h0M1439 2482h0M1433 2512h0M1439 2521h0M1440 2525h0M1364 2575h0M1408 2543h0M1407 2524h0M1427 2519h0M1446 2503h0M1401 2546h0M1462 2513h0M1415 2544h0M1507 2449h0M1388 2557h0M1487 2484h0M1478 2486h0M1368 2539h0M1359 2564h0M1307 2570h0M1422 2522h0M1445 2522h0M1391 2540h0M1504 2449h0M1418 2517h0M1395 2560h0M1458 2500h0M1436 2502h0M1455 2497h0M1427 2531h0M1307 2599h0M1388 2558h0M1449 2495h0M1442 2526h0M1452 2501h0M1399 2535h0M1481 2486h0M1442 2503h0M1435 2515h0M1437 2525h0M1380 2584h0M1441 2520h0M1388 2547h0M1363 2582h0M1332 2601h0M1466 2500h0M1393 2568h0M1431 2534h0M1456 2492h0M1404 2561h0M1413 2530h0M1433 2530h0M1460 2496h0M1441 2516h0M1466 2501h0M1372 2590h0M1359 2585h0M1464 2508h0M1441 2512h0M1450 2498h0M1403 2556h0M1255 2627h0M1410 2535h0M1411 2520h0M1444 2505h0M1385 2555h0M1426 2529h0M1494 2470h0M1469 2493h0M1457 2504h0M1418 2531h0M1479 2480h0M1456 2491h0M1392 2548h0M1418 2531h0M1470 2488h0M1398 2538h0M1309 2588h0M1351 2580h0M1405 2556h0M1442 2513h0M1446 2511h0M1438 2517h0M1410 2554h0M1443 2503h0M1405 2551h0M1384 2560h0M1399 2537h0M1411 2558h0M1404 2544h0M1509 2442h0M1371 2581h0M1377 2564h0M1421 2555h0M1359 2579h0M1476 2486h0M1471 2493h0M1461 2517h0M1392 2563h0M1417 2564h0M1332 2552h0M1464 2509h0M1436 2515h0M1416 2555h0M1423 2525h0M1261 2589h0M1453 2505h0M1471 2495h0M1393 2564h0M1362 2569h0M1450 2510h0M1422 2506h0M1418 2520h0M1274 2594h0M1459 2509h0M1416 2545h0M1450 2516h0M1524 2433h0M1496 2457h0M1399 2549h0M1418 2525h0M1440 2546h0M1415 2526h0M1426 2536h0M1443 2510h0M1373 2561h0M1433 2515h0M1470 2490h0M1470 2482h0M1392 2555h0M1388 2589h0M1397 2560h0M1427 2537h0M1414 2538h0M1447 2528h0M1464 2496h0M1432 2527h0M1358 2561h0M1436 2525h0M1487 2483h0M1472 2487h0M1377 2554h0M1413 2546h0M1425 2541h0M1425 2508h0M1347 2587h0M1419 2527h0M1392 2539h0M1423 2531h0M1437 2522h0M1329 2619h0M1384 2582h0M1411 2545h0M1457 2487h0M1472 2482h0M1449 2513h0M1475 2496h0M1373 2588h0M1396 2583h0M1410 2564h0M1463 2497h0M1439 2514h0M1475 2480h0M1431 2534h0M1385 2547h0M1381 2559h0M1502 2462h0M1396 2537h0M1463 2481h0M1466 2486h0M1436 2510h0M1448 2490h0M1466 2499h0M1477 2492h0M1453 2488h0M1390 2543h0M1447 2500h0M1478 2482h0M1350 2535h0M1279 2609h0M1484 2470h0M1411 2553h0M1457 2509h0M1314 2579h0M1299 2582h0M1448 2528h0M1440 2507h0M1380 2557h0M1448 2503h0M1401 2535h0M1377 2581h0M1358 2562h0M1444 2493h0M1291 2576h0M1477 2488h0M1427 2528h0M1388 2570h0M1469 2484h0M1444 2525h0M1439 2519h0M1480 2487h0M1441 2516h0M1387 2600h0M1427 2558h0M1426 2539h0M1417 2526h0M1329 2585h0M1399 2544h0M1403 2553h0M1431 2520h0M1413 2554h0M1487 2479h0M1441 2512h0M1416 2543h0M1421 2550h0M1430 2529h0M1453 2510h0M1359 2604h0M1324 2587h0M1419 2539h0M1407 2562h0M1424 2543h0M1434 2525h0M1400 2535h0M1447 2498h0M1387 2575h0M1474 2481h0M1436 2508h0M1392 2563h0M1466 2496h0M1479 2474h0M1394 2545h0M1379 2568h0M1430 2517h0M1386 2542h0M1406 2565h0M1388 2560h0M1400 2545h0M1495 2463h0M1513 2438h0M1454 2490h0M1395 2535h0M1462 2491h0M1444 2495h0M1433 2538h0M1354 2577h0M1280 2605h0M1366 2578h0M1403 2572h0M1454 2512h0M1488 2468h0M1478 2487h0M1396 2546h0M1468 2481h0M1380 2554h0M1400 2534h0M1465 2487h0M1461 2499h0M1402 2566h0M1397 2518h0M1347 2543h0M1427 2545h0M1381 2563h0M1447 2512h0M1385 2557h0M1433 2518h0M1438 2533h0M1498 2449h0M1449 2485h0M1443 2511h0M1396 2572h0M1386 2609h0M1444 2516h0M1482 2482h0M1454 2512h0M1451 2499h0M1418 2555h0M1359 2559h0M1446 2492h0M1477 2481h0M1442 2523h0M1463 2492h0M1465 2481h0M1445 2500h0M1449 2494h0M1481 2496h0M1421 2552h0M1459 2505h0M1419 2526h0M1395 2559h0M1292 2618h0M1441 2515h0M1401 2550h0M1390 2552h0M1281 2573h0M1416 2534h0M1508 2446h0M1424 2515h0M1451 2524h0M1468 2504h0M1407 2554h0M1462 2494h0M1370 2576h0M1419 2548h0M1464 2480h0M1391 2567h0M1406 2556h0M1471 2488h0M1448 2511h0M1473 2489h0M1398 2576h0M1447 2509h0M1407 2556h0M1443 2507h0M1426 2534h0M1519 2438h0M1406 2519h0M1317 2559h0M1394 2538h0M1267 2575h0M1432 2528h0M1397 2547h0M1370 2539h0M1406 2552h0M1448 2522h0M1423 2554h0M1323 2580h0M1296 2591h0M1419 2534h0M1431 2534h0M1433 2534h0M1440 2511h0M1283 2555h0M1282 2552h0M1282 2608h0M1282 2608h0M1283 2566h0M1282 2550h0M1283 2618h0M1283 2591h0M1282 2555h0M1297 2543h0M1297 2601h0M1297 2559h0M1297 2628h0M1298 2599h0M1297 2601h0M1297 2541h0M1297 2568h0M1297 2608h0M1314 2629h0M1314 2592h0M1314 2620h0M1314 2554h0M1314 2574h0M1314 2540h0M1314 2556h0M1314 2615h0M1314 2589h0M1308 2630h0M1257 2630h0M1352 2630h0M1322 2630h0M1288 2630h0M1292 2630h0M1332 2630h0M1266 2630h0M1275 2629h0M1328 2630h0M1256 2630h0M1354 2630h0M1300 2630h0M1271 2630h0M1259 2629h0M1337 2629h0M1275 2630h0M1274 2630h0M1351 2630h0M1295 2629h0M1316 2629h0M1346 2629h0M1306 2642h0M1343 2642h0M1342 2642h0M1352 2642h0M1294 2642h0M1317 2642h0M1257 2642h0M1311 2643h0M1324 2642h0M1258 2642h0M1352 2642h0M1334 2642h0M1279 2643h0M1349 2642h0M1289 2642h0M1260 2642h0M1345 2643h0M1330 2642h0M1338 2642h0M1266 2643h0M1337 2642h0M1261 2642h0M1310 2657h0M1306 2657h0M1253 2658h0M1264 2658h0M1283 2657h0M1294 2657h0M1273 2657h0M1256 2658h0M1272 2658h0M1299 2658h0M1372 2657h0M1287 2658h0M1299 2657h0M1318 2658h0M1258 2658h0M1313 2657h0M1299 2658h0M1271 2658h0M1314 2657h0M1371 2657h0M1360 2658h0M1322 2658h0M1259 2691h0M1334 2691h0M1292 2691h0M1305 2691h0M1285 2691h0M1256 2691h0M1253 2691h0M1263 2692h0M1332 2691h0M1330 2691h0M1276 2691h0M1308 2692h0M1317 2691h0M1291 2691h0M1265 2692h0M1283 2692h0M1325 2691h0M1270 2691h0M1317 2692h0M1323 2691h0M1262 2692h0M1259 2691h0M1529 2418h0M1781 2522h0M1751 2574h0M1729 2567h0M1777 2555h0M1724 2573h0M1799 2513h0M1798 2513h0M1821 2484h0M1780 2566h0M1761 2543h0M1635 2572h0M1809 2516h0M1804 2517h0M1776 2539h0M1733 2558h0M1797 2509h0M1706 2586h0M1830 2481h0M1763 2547h0M1762 2554h0M1833 2495h0M1805 2509h0M1795 2529h0M1813 2496h0M1633 2568h0M1775 2556h0M1770 2538h0M1776 2541h0M1816 2507h0M1824 2498h0M1788 2524h0M1636 2600h0M1741 2563h0M1802 2499h0M1830 2483h0M1828 2496h0M1786 2518h0M1763 2546h0M1822 2477h0M1810 2494h0M1749 2546h0M1657 2568h0M1638 2577h0M1832 2492h0M1810 2491h0M1829 2491h0M1798 2538h0M1719 2576h0M1769 2535h0M1822 2503h0M1861 2459h0M1747 2545h0M1717 2594h0M1724 2576h0M1826 2491h0M1745 2562h0M1807 2508h0M1633 2562h0M1775 2546h0M1805 2507h0M1790 2531h0M1816 2500h0M1804 2504h0M1868 2449h0M1719 2565h0M1802 2522h0M1749 2550h0M1644 2571h0M1799 2517h0M1761 2552h0M1812 2491h0M1791 2531h0M1841 2476h0M1713 2567h0M1793 2526h0M1699 2572h0M1645 2578h0M1668 2600h0M1803 2507h0M1770 2568h0M1774 2538h0M1802 2527h0M1793 2526h0M1849 2456h0M1781 2538h0M1889 2448h0M1848 2477h0M1804 2503h0M1792 2512h0M1721 2577h0M1746 2555h0M1781 2547h0M1681 2594h0M1780 2518h0M1727 2575h0M1828 2482h0M1642 2595h0M1742 2586h0M1804 2523h0M1842 2480h0M1717 2559h0M1636 2590h0M1711 2617h0M1844 2488h0M1823 2502h0M1773 2545h0M1812 2490h0M1905 2420h0M1767 2563h0M1773 2557h0M1701 2585h0M1810 2504h0M1804 2521h0M1631 2571h0M1823 2479h0M1843 2462h0M1794 2533h0M1793 2515h0M1667 2590h0M1648 2578h0M1768 2551h0M1744 2559h0M1780 2547h0M1839 2482h0M1845 2475h0M1799 2525h0M1818 2507h0M1826 2485h0M1774 2526h0M1755 2567h0M1639 2603h0M1802 2501h0M1795 2522h0M1815 2504h0M1772 2548h0M1804 2514h0M1817 2479h0M1819 2512h0M1632 2579h0M1764 2522h0M1760 2563h0M1786 2541h0M1844 2472h0M1807 2514h0M1820 2481h0M1634 2584h0M1759 2561h0M1830 2476h0M1761 2551h0M1792 2529h0M1780 2550h0M1753 2551h0M1762 2551h0M1859 2462h0M1808 2506h0M1787 2536h0M1700 2580h0M1833 2479h0M1831 2491h0M1817 2489h0M1802 2510h0M1785 2520h0M1751 2566h0M1820 2503h0M1762 2530h0M1755 2556h0M1640 2572h0M1785 2523h0M1743 2570h0M1760 2543h0M1798 2516h0M1783 2547h0M1825 2478h0M1784 2525h0M1697 2569h0M1632 2566h0M1786 2538h0M1869 2461h0M1803 2516h0M1784 2504h0M1798 2525h0M1780 2531h0M1755 2553h0M1762 2548h0M1806 2507h0M1804 2507h0M1824 2487h0M1633 2588h0M1787 2516h0M1649 2570h0M1831 2478h0M1724 2585h0M1769 2527h0M1809 2522h0M1831 2480h0M1797 2515h0M1770 2538h0M1632 2572h0M1746 2579h0M1771 2561h0M1723 2586h0M1761 2559h0M1708 2551h0M1774 2530h0M1774 2534h0M1825 2504h0M1758 2553h0M1806 2526h0M1858 2463h0M1636 2576h0M1840 2469h0M1828 2494h0M1710 2565h0M1765 2540h0M1786 2540h0M1791 2508h0M1774 2544h0M1819 2489h0M1851 2467h0M1782 2555h0M1776 2530h0M1794 2518h0M1763 2567h0M1784 2520h0M1814 2535h0M1717 2584h0M1764 2561h0M1808 2498h0M1763 2562h0M1757 2572h0M1665 2566h0M1833 2490h0M1762 2566h0M1836 2479h0M1796 2536h0M1692 2556h0M1714 2576h0M1809 2517h0M1643 2580h0M1792 2547h0M1783 2525h0M1793 2509h0M1824 2482h0M1747 2574h0M1873 2448h0M1729 2565h0M1791 2517h0M1750 2549h0M1837 2475h0M1766 2537h0M1843 2483h0M1783 2540h0M1725 2563h0M1834 2495h0M1768 2559h0M1801 2520h0M1795 2509h0M1752 2548h0M1784 2538h0M1783 2537h0M1821 2481h0M1773 2563h0M1632 2546h0M1809 2519h0M1642 2580h0M1776 2548h0M1710 2566h0M1805 2511h0M1775 2544h0M1844 2479h0M1758 2562h0M1820 2500h0M1835 2485h0M1771 2543h0M1800 2523h0M1791 2546h0M1768 2530h0M1793 2516h0M1836 2482h0M1830 2491h0M1792 2522h0M1757 2533h0M1785 2513h0M1644 2597h0M1788 2536h0M1760 2563h0M1856 2464h0M1724 2561h0M1801 2519h0M1750 2557h0M1833 2496h0M1763 2528h0M1642 2587h0M1819 2485h0M1856 2447h0M1803 2497h0M1737 2559h0M1796 2521h0M1842 2483h0M1811 2469h0M1765 2545h0M1757 2549h0M1633 2591h0M1811 2508h0M1814 2511h0M1818 2502h0M1808 2519h0M1757 2551h0M1634 2582h0M1833 2488h0M1730 2606h0M1833 2493h0M1735 2566h0M1802 2495h0M1724 2592h0M1777 2548h0M1787 2522h0M1786 2538h0M1835 2480h0M1885 2448h0M1821 2504h0M1880 2441h0M1774 2543h0M1794 2528h0M1799 2516h0M1833 2486h0M1717 2579h0M1823 2503h0M1668 2572h0M1789 2529h0M1634 2591h0M1775 2554h0M1778 2547h0M1739 2560h0M1761 2578h0M1782 2530h0M1814 2501h0M1735 2572h0M1792 2519h0M1841 2462h0M1713 2578h0M1776 2561h0M1799 2525h0M1745 2579h0M1835 2476h0M1828 2505h0M1780 2534h0M1842 2458h0M1832 2499h0M1717 2570h0M1681 2602h0M1816 2494h0M1782 2554h0M1670 2570h0M1759 2551h0M1753 2549h0M1639 2587h0M1854 2462h0M1782 2547h0M1891 2449h0M1761 2558h0M1787 2541h0M1754 2559h0M1777 2521h0M1737 2582h0M1672 2601h0M1765 2557h0M1872 2465h0M1829 2497h0M1759 2558h0M1711 2594h0M1750 2566h0M1782 2536h0M1789 2527h0M1733 2575h0M1836 2475h0M1794 2503h0M1791 2551h0M1817 2497h0M1637 2544h0M1862 2472h0M1781 2552h0M1809 2502h0M1776 2544h0M1761 2537h0M1806 2505h0M1783 2564h0M1761 2554h0M1812 2508h0M1844 2479h0M1809 2503h0M1759 2550h0M1744 2553h0M1713 2574h0M1740 2548h0M1772 2546h0M1791 2527h0M1777 2566h0M1818 2500h0M1799 2509h0M1763 2561h0M1775 2543h0M1813 2505h0M1634 2577h0M1798 2501h0M1778 2550h0M1791 2546h0M1858 2472h0M1751 2562h0M1817 2506h0M1801 2511h0M1758 2557h0M1801 2515h0M1818 2507h0M1805 2501h0M1818 2499h0M1818 2492h0M1772 2563h0M1791 2538h0M1772 2558h0M1631 2610h0M1808 2505h0M1814 2501h0M1821 2496h0M1796 2513h0M1841 2477h0M1836 2481h0M1794 2522h0M1828 2490h0M1798 2518h0M1635 2589h0M1738 2571h0M1815 2510h0M1649 2571h0M1794 2538h0M1817 2511h0M1788 2532h0M1774 2545h0M1807 2519h0M1638 2604h0M1793 2527h0M1815 2521h0M1739 2562h0M1734 2591h0M1799 2511h0M1777 2536h0M1652 2597h0M1814 2500h0M1759 2549h0M1801 2492h0M1800 2520h0M1836 2467h0M1774 2546h0M1779 2536h0M1780 2532h0M1631 2577h0M1776 2529h0M1793 2519h0M1808 2521h0M1737 2567h0M1766 2554h0M1742 2564h0M1775 2529h0M1776 2536h0M1711 2617h0M1772 2532h0M1788 2519h0M1649 2624h0M1806 2516h0M1752 2559h0M1653 2577h0M1660 2568h0M1792 2532h0M1829 2496h0M1827 2492h0M1817 2488h0M1799 2522h0M1818 2486h0M1752 2548h0M1853 2462h0M1791 2531h0M1833 2481h0M1853 2468h0M1820 2494h0M1697 2598h0M1788 2524h0M1807 2491h0M1736 2562h0M1789 2524h0M1782 2510h0M1770 2532h0M1790 2520h0M1789 2513h0M1813 2508h0M1821 2493h0M1634 2570h0M1846 2486h0M1843 2480h0M1773 2546h0M1766 2541h0M1634 2620h0M1785 2538h0M1740 2570h0M1795 2503h0M1770 2537h0M1636 2607h0M1782 2528h0M1789 2524h0M1813 2498h0M1805 2524h0M1769 2553h0M1786 2528h0M1635 2591h0M1766 2567h0M1721 2570h0M1811 2503h0M1747 2558h0M1806 2501h0M1633 2612h0M1788 2534h0M1805 2516h0M1803 2525h0M1632 2584h0M1632 2571h0M1757 2528h0M1755 2527h0M1831 2495h0M1744 2569h0M1813 2509h0M1812 2496h0M1784 2532h0M1790 2510h0M1816 2511h0M1755 2539h0M1894 2434h0M1767 2568h0M1806 2516h0M1784 2525h0M1807 2504h0M1765 2560h0M1821 2492h0M1657 2573h0M1777 2535h0M1787 2520h0M1801 2499h0M1899 2424h0M1763 2550h0M1731 2569h0M1922 2410h0M1803 2525h0M1771 2544h0M1806 2505h0M1634 2558h0M1775 2545h0M1794 2521h0M1783 2542h0M1742 2564h0M1778 2537h0M1786 2527h0M1639 2589h0M1718 2582h0M1845 2481h0M1845 2495h0M1828 2487h0M1797 2520h0M1798 2527h0M1768 2558h0M1638 2570h0M1635 2604h0M1816 2523h0M1795 2506h0M1813 2504h0M1762 2549h0M1834 2470h0M1783 2544h0M1637 2583h0M1775 2552h0M1823 2496h0M1791 2516h0M1860 2467h0M1793 2529h0M1679 2599h0M1833 2491h0M1784 2518h0M1856 2474h0M1759 2578h0M1799 2508h0M1792 2516h0M1768 2555h0M1720 2572h0M1814 2495h0M1825 2493h0M1648 2598h0M1768 2552h0M1717 2578h0M1769 2535h0M1745 2577h0M1640 2587h0M1793 2550h0M1785 2535h0M1828 2475h0M1725 2587h0M1805 2509h0M1784 2524h0M1817 2489h0M1810 2507h0M1841 2481h0M1765 2538h0M1811 2515h0M1828 2487h0M1806 2512h0M1636 2598h0M1707 2593h0M1736 2568h0M1821 2490h0M1759 2533h0M1774 2546h0M1797 2520h0M1796 2519h0M1827 2466h0M1788 2526h0M1711 2589h0M1760 2557h0M1746 2572h0M1830 2491h0M1635 2565h0M1830 2503h0M1767 2523h0M1806 2499h0M1873 2451h0M1843 2491h0M1816 2503h0M1796 2523h0M1773 2530h0M1780 2524h0M1636 2600h0M1762 2561h0M1816 2519h0M1786 2511h0M1796 2506h0M1785 2551h0M1815 2501h0M1666 2604h0M1659 2580h0M1786 2523h0M1798 2507h0M1834 2479h0M1828 2497h0M1755 2568h0M1632 2589h0M1787 2522h0M1645 2601h0M1632 2583h0M1641 2571h0M1684 2568h0M1808 2513h0M1909 2417h0M1830 2496h0M1755 2540h0M1755 2561h0M1808 2501h0M1833 2481h0M1720 2574h0M1797 2514h0M1788 2515h0M1749 2554h0M1802 2530h0M1818 2512h0M1734 2551h0M1748 2564h0M1643 2579h0M1816 2512h0M1775 2538h0M1776 2532h0M1638 2571h0M1836 2475h0M1736 2599h0M1748 2549h0M1639 2577h0M1791 2513h0M1818 2490h0M1742 2559h0M1789 2542h0M1751 2547h0M1727 2602h0M1823 2509h0M1798 2522h0M1762 2561h0M1852 2463h0M1808 2521h0M1804 2529h0M1680 2570h0M1731 2574h0M1828 2491h0M1797 2511h0M1631 2564h0M1811 2509h0M1784 2534h0M1790 2516h0M1632 2542h0M1852 2468h0M1820 2495h0M1777 2526h0M1768 2533h0M1764 2532h0M1809 2520h0M1727 2561h0M1726 2554h0M1821 2502h0M1780 2522h0M1824 2500h0M1764 2556h0M1901 2428h0M1834 2486h0M1859 2466h0M1820 2497h0M1749 2564h0M1636 2571h0M1774 2538h0M1783 2519h0M1678 2579h0M1795 2506h0M1788 2499h0M1757 2565h0M1805 2500h0M1783 2514h0M1812 2492h0M1810 2501h0M1777 2529h0M1634 2618h0M1769 2541h0M1766 2519h0M1771 2559h0M1642 2580h0M1640 2589h0M1795 2516h0M1826 2498h0M1891 2446h0M1778 2549h0M1798 2542h0M1783 2537h0M1788 2533h0M1771 2553h0M1815 2496h0M1729 2593h0M1830 2481h0M1812 2506h0M1809 2520h0M1779 2546h0M1821 2484h0M1795 2493h0M1778 2539h0M1790 2514h0M1638 2588h0M1788 2520h0M1813 2514h0M1740 2580h0M1739 2545h0M1825 2494h0M1632 2625h0M1724 2575h0M1787 2521h0M1779 2519h0M1636 2565h0M1768 2550h0M1806 2521h0M1821 2495h0M1637 2596h0M1783 2514h0M1722 2555h0M1821 2497h0M1761 2567h0M1792 2522h0M1660 2594h0M1631 2552h0M1864 2461h0M1796 2537h0M1781 2535h0M1640 2584h0M1836 2474h0M1638 2588h0M1785 2533h0M1816 2485h0M1815 2513h0M1765 2534h0M1879 2439h0M1836 2482h0M1752 2565h0M1836 2476h0M1634 2540h0M1797 2528h0M1813 2500h0M1773 2551h0M1875 2447h0M1764 2531h0M1778 2552h0M1855 2470h0M1761 2551h0M1807 2503h0M1635 2571h0M1771 2532h0M1819 2505h0M1651 2591h0M1812 2490h0M1825 2506h0M1763 2549h0M1637 2598h0M1727 2568h0M1763 2561h0M1734 2573h0M1786 2541h0M1789 2540h0M1763 2545h0M1777 2529h0M1753 2568h0M1728 2570h0M1801 2512h0M1728 2560h0M1844 2483h0M1774 2572h0M1786 2522h0M1752 2552h0M1832 2496h0M1775 2530h0M1643 2574h0M1759 2550h0M1800 2513h0M1717 2571h0M1797 2502h0M1741 2544h0M1820 2504h0M1850 2469h0M1696 2600h0M1803 2512h0M1633 2582h0M1683 2595h0M1772 2548h0M1644 2566h0M1792 2507h0M1791 2518h0M1806 2504h0M1641 2582h0M1817 2506h0M1783 2535h0M1791 2516h0M1766 2551h0M1774 2538h0M1822 2495h0M1776 2544h0M1763 2560h0M1848 2485h0M1651 2564h0M1807 2499h0M1812 2509h0M1795 2528h0M1765 2560h0M1706 2587h0M1731 2574h0M1756 2561h0M1823 2466h0M1762 2571h0M1797 2517h0M1646 2560h0M1782 2537h0M1820 2499h0M1798 2524h0M1816 2496h0M1771 2549h0M1848 2460h0M1769 2554h0M1845 2474h0M1631 2567h0M1801 2512h0M1795 2515h0M1726 2569h0M1823 2503h0M1748 2558h0M1780 2530h0M1758 2554h0M1646 2597h0M1699 2609h0M1633 2580h0M1739 2552h0M1858 2456h0M1633 2525h0M1782 2541h0M1812 2503h0M1834 2487h0M1776 2522h0M1766 2553h0M1780 2540h0M1826 2475h0M1709 2593h0M1845 2458h0M1818 2484h0M1772 2530h0M1823 2478h0M1908 2404h0M1777 2557h0M1827 2483h0M1817 2511h0M1780 2531h0M1838 2485h0M1762 2577h0M1826 2494h0M1769 2548h0M1636 2568h0M1851 2477h0M1810 2508h0M1761 2561h0M1804 2528h0M1734 2564h0M1844 2477h0M1791 2511h0M1807 2513h0M1744 2561h0M1635 2600h0M1788 2526h0M1759 2554h0M1829 2491h0M1758 2548h0M1650 2607h0M1638 2571h0M1813 2503h0M1823 2479h0M1809 2500h0M1756 2563h0M1781 2529h0M1697 2562h0M1785 2506h0M1806 2523h0M1768 2531h0M1806 2489h0M1805 2516h0M1825 2490h0M1836 2493h0M1757 2557h0M1779 2547h0M1832 2491h0M1815 2517h0M1831 2469h0M1815 2490h0M1764 2562h0M1773 2540h0M1812 2497h0M1636 2596h0M1804 2503h0M1739 2569h0M1822 2510h0M1744 2587h0M1737 2570h0M1845 2474h0M1803 2530h0M1645 2567h0M1802 2520h0M1870 2446h0M1764 2523h0M1753 2524h0M1642 2588h0M1750 2549h0M1713 2599h0M1834 2488h0M1842 2477h0M1778 2524h0M1789 2531h0M1826 2494h0M1791 2548h0M1634 2555h0M1640 2564h0M1809 2495h0M1776 2528h0M1800 2500h0M1749 2555h0M1788 2532h0M1799 2497h0M1794 2518h0M1817 2482h0M1839 2481h0M1834 2490h0M1796 2524h0M1837 2478h0M1697 2586h0M1733 2576h0M1767 2559h0M1818 2485h0M1851 2469h0M1785 2547h0M1818 2477h0M1778 2533h0M1635 2588h0M1755 2574h0M1829 2484h0M1822 2498h0M1739 2552h0M1835 2486h0M1778 2539h0M1825 2480h0M1791 2532h0M1643 2601h0M1782 2532h0M1784 2545h0M1650 2600h0M1759 2569h0M1786 2539h0M1740 2563h0M1631 2551h0M1780 2547h0M1831 2483h0M1783 2544h0M1780 2536h0M1783 2529h0M1818 2503h0M1766 2553h0M1746 2574h0M1769 2538h0M1660 2582h0M1775 2520h0M1812 2503h0M1818 2497h0M1821 2494h0M1749 2573h0M1634 2621h0M1798 2515h0M1788 2511h0M1767 2545h0M1820 2493h0M1802 2525h0M1646 2575h0M1728 2594h0M1772 2554h0M1804 2505h0M1758 2544h0M1782 2524h0M1791 2518h0M1780 2529h0M1789 2538h0M1634 2582h0M1641 2584h0M1733 2594h0M1762 2544h0M1767 2545h0M1754 2535h0M1742 2555h0M1739 2582h0M1857 2463h0M1663 2602h0M1821 2502h0M1775 2543h0M1835 2478h0M1820 2493h0M1778 2555h0M1825 2485h0M1784 2541h0M1731 2571h0M1827 2501h0M1786 2525h0M1743 2583h0M1687 2597h0M1833 2470h0M1727 2581h0M1802 2485h0M1716 2579h0M1769 2549h0M1884 2447h0M1737 2579h0M1754 2551h0M1799 2520h0M1814 2508h0M1735 2553h0M1757 2533h0M1793 2515h0M1701 2572h0M1794 2506h0M1803 2513h0M1761 2542h0M1740 2558h0M1794 2529h0M1753 2560h0M1647 2585h0M1827 2505h0M1768 2536h0M1763 2556h0M1842 2485h0M1733 2578h0M1773 2544h0M1780 2539h0M1763 2540h0M1848 2473h0M1756 2571h0M1773 2527h0M1671 2603h0M1725 2567h0M1815 2500h0M1768 2532h0M1784 2533h0M1784 2550h0M1783 2519h0M1750 2556h0M1766 2556h0M1813 2491h0M1805 2519h0M1796 2513h0M1767 2545h0M1790 2530h0M1800 2514h0M1694 2589h0M1798 2509h0M1771 2548h0M1800 2502h0M1800 2513h0M1825 2485h0M1735 2571h0M1641 2582h0M1633 2593h0M1816 2491h0M1742 2569h0M1714 2567h0M1784 2518h0M1637 2576h0M1809 2511h0M1762 2571h0M1864 2467h0M1822 2483h0M1795 2523h0M1773 2553h0M1822 2500h0M1789 2531h0M1749 2550h0M1787 2515h0M1812 2502h0M1768 2538h0M1782 2526h0M1792 2526h0M1807 2520h0M1820 2485h0M1826 2494h0M1802 2532h0M1821 2501h0M1801 2530h0M1786 2531h0M1760 2531h0M1786 2515h0M1752 2564h0M1798 2513h0M1764 2560h0M1799 2529h0M1633 2582h0M1736 2571h0M1792 2536h0M1769 2553h0M1789 2515h0M1817 2498h0M1635 2604h0M1631 2576h0M1765 2550h0M1819 2498h0M1712 2581h0M1807 2502h0M1784 2525h0M1747 2588h0M1783 2544h0M1811 2509h0M1773 2547h0M1783 2533h0M1641 2569h0M1780 2551h0M1645 2584h0M1727 2575h0M1836 2493h0M1783 2541h0M1841 2474h0M1823 2491h0M1845 2471h0M1820 2493h0M1767 2525h0M1739 2546h0M1640 2544h0M1788 2521h0M1800 2498h0M1778 2553h0M1780 2539h0M1783 2568h0M1766 2575h0M1814 2511h0M1656 2595h0M1715 2597h0M1805 2520h0M1688 2578h0M1751 2562h0M1824 2493h0M1777 2549h0M1772 2528h0M1813 2508h0M1638 2566h0M1769 2558h0M1756 2545h0M1634 2602h0M1632 2583h0M1707 2598h0M1791 2532h0M1843 2486h0M1829 2490h0M1702 2571h0M1787 2529h0M1785 2542h0M1827 2487h0M1803 2507h0M1815 2493h0M1791 2539h0M1824 2496h0M1639 2554h0M1790 2524h0M1676 2571h0M1769 2560h0M1644 2588h0M1758 2576h0M1796 2525h0M1799 2507h0M1813 2508h0M1745 2564h0M1818 2513h0M1752 2566h0M1785 2539h0M1746 2567h0M1760 2558h0M1738 2548h0M1801 2500h0M1736 2544h0M1697 2585h0M1729 2553h0M1797 2527h0M1822 2503h0M1778 2529h0M1805 2558h0M1661 2615h0M1778 2516h0M1832 2482h0M1667 2567h0M1847 2464h0M1786 2544h0M1808 2515h0M1835 2487h0M1847 2481h0M1795 2527h0M1817 2510h0M1761 2550h0M1780 2530h0M1796 2516h0M1632 2626h0M1811 2503h0M1736 2568h0M1854 2461h0M1772 2549h0M1815 2504h0M1703 2568h0M1769 2539h0M1754 2519h0M1813 2512h0M1773 2530h0M1800 2523h0M1682 2572h0M1798 2515h0M1852 2463h0M1735 2586h0M1799 2538h0M1760 2552h0M1814 2502h0M1632 2553h0M1753 2560h0M1802 2494h0M1677 2580h0M1815 2511h0M1838 2481h0M1811 2488h0M1806 2519h0M1795 2524h0M1722 2571h0M1784 2535h0M1854 2463h0M1829 2480h0M1871 2430h0M1654 2597h0M1749 2548h0M1792 2513h0M1778 2539h0M1704 2556h0M1822 2499h0M1782 2533h0M1733 2568h0M1712 2595h0M1830 2487h0M1788 2539h0M1775 2547h0M1812 2501h0M1748 2551h0M1799 2520h0M1776 2516h0M1830 2491h0M1820 2472h0M1683 2565h0M1827 2472h0M1830 2477h0M1776 2550h0M1782 2539h0M1846 2470h0M1821 2509h0M1780 2522h0M1775 2561h0M1766 2529h0M1782 2528h0M1808 2484h0M1785 2522h0M1801 2500h0M1633 2565h0M1786 2542h0M1764 2546h0M1773 2565h0M1666 2580h0M1762 2555h0M1771 2539h0M1817 2485h0M1631 2552h0M1774 2534h0M1856 2463h0M1808 2506h0M1774 2542h0M1777 2518h0M1809 2507h0M1820 2492h0M1726 2573h0M1791 2520h0M1779 2546h0M1770 2538h0M1836 2478h0M1713 2569h0M1831 2481h0M1730 2586h0M1775 2536h0M1773 2535h0M1791 2524h0M1830 2470h0M1810 2512h0M1701 2605h0M1761 2550h0M1670 2604h0M1861 2461h0M1717 2584h0M1820 2520h0M1726 2570h0M1643 2577h0M1744 2589h0M1776 2533h0M1800 2519h0M1822 2497h0M1641 2553h0M1800 2527h0M1743 2569h0M1805 2513h0M1745 2550h0M1632 2568h0M1783 2537h0M1737 2563h0M1791 2538h0M1858 2458h0M1641 2593h0M1780 2513h0M1772 2566h0M1760 2568h0M1766 2534h0M1701 2579h0M1828 2499h0M1838 2483h0M1857 2445h0M1796 2517h0M1820 2501h0M1751 2586h0M1836 2481h0M1819 2513h0M1772 2539h0M1824 2510h0M1805 2526h0M1759 2542h0M1704 2590h0M1883 2451h0M1787 2541h0M1679 2582h0M1731 2594h0M1829 2502h0M1846 2466h0M1771 2530h0M1633 2589h0M1804 2520h0M1653 2604h0M1826 2495h0M1761 2551h0M1790 2519h0M1635 2558h0M1820 2481h0M1852 2471h0M1788 2520h0M1856 2468h0M1788 2521h0M1734 2574h0M1634 2582h0M1794 2528h0M1682 2587h0M1816 2495h0M1811 2521h0M1669 2620h0M1752 2542h0M1768 2555h0M1792 2511h0M1813 2502h0M1796 2526h0M1824 2503h0M1633 2576h0M1643 2562h0M1767 2553h0M1651 2602h0M1757 2540h0M1780 2532h0M1709 2613h0M1813 2511h0M1642 2577h0M1723 2558h0M1747 2582h0M1758 2548h0M1758 2553h0M1782 2542h0M1809 2521h0M1777 2528h0M1867 2454h0M1760 2558h0M1775 2550h0M1837 2480h0M1806 2508h0M1729 2597h0M1774 2553h0M1783 2523h0M1856 2455h0M1631 2559h0M1637 2583h0M1826 2485h0M1746 2553h0M1798 2505h0M1632 2579h0M1797 2512h0M1787 2504h0M1728 2556h0M1732 2563h0M1753 2588h0M1651 2594h0M1794 2514h0M1750 2577h0M1827 2490h0M1886 2431h0M1770 2545h0M1796 2524h0M1716 2596h0M1807 2517h0M1752 2560h0M1790 2535h0M1634 2562h0M1807 2515h0M1633 2584h0M1733 2585h0M1843 2476h0M1702 2568h0M1823 2501h0M1844 2474h0M1776 2533h0M1713 2557h0M1657 2566h0M1775 2542h0M1834 2482h0M1758 2557h0M1764 2570h0M1805 2510h0M1797 2511h0M1639 2548h0M1851 2466h0M1739 2571h0M1805 2516h0M1744 2566h0M1825 2487h0M1827 2486h0M1766 2520h0M1790 2519h0M1807 2519h0M1808 2508h0M1800 2514h0M1634 2564h0M1841 2473h0M1837 2481h0M1797 2501h0M1668 2566h0M1817 2494h0M1809 2516h0M1801 2544h0M1660 2585h0M1668 2580h0M1786 2530h0M1640 2581h0M1809 2492h0M1831 2484h0M1780 2535h0M1714 2586h0M1634 2571h0M1779 2511h0M1647 2574h0M1807 2501h0M1782 2535h0M1766 2556h0M1885 2452h0M1826 2481h0M1720 2583h0M1755 2530h0M1801 2522h0M1816 2483h0M1835 2481h0M1815 2493h0M1732 2585h0M1827 2497h0M1799 2530h0M1725 2581h0M1829 2472h0M1810 2505h0M1654 2586h0M1786 2542h0M1831 2501h0M1761 2551h0M1752 2567h0M1724 2574h0M1783 2524h0M1798 2530h0M1787 2529h0M1786 2528h0M1784 2517h0M1750 2561h0M1786 2553h0M1764 2554h0M1761 2547h0M1637 2570h0M1850 2474h0M1829 2487h0M1782 2528h0M1839 2481h0M1806 2501h0M1650 2562h0M1829 2481h0M1787 2527h0M1756 2557h0M1846 2464h0M1803 2505h0M1857 2464h0M1819 2510h0M1874 2453h0M1881 2448h0M1787 2533h0M1747 2584h0M1772 2548h0M1802 2524h0M1769 2550h0M1837 2488h0M1814 2498h0M1754 2567h0M1843 2471h0M1793 2509h0M1814 2515h0M1689 2591h0M1857 2474h0M1763 2539h0M1847 2463h0M1746 2558h0M1811 2488h0M1804 2503h0M1804 2508h0M1799 2533h0M1654 2592h0M1800 2515h0M1788 2517h0M1755 2553h0M1777 2557h0M1775 2549h0M1753 2555h0M1822 2490h0M1779 2526h0M1650 2581h0M1736 2584h0M1781 2558h0M1741 2552h0M1832 2479h0M1833 2479h0M1792 2526h0M1632 2556h0M1835 2490h0M1808 2517h0M1781 2548h0M1744 2571h0M1819 2494h0M1846 2484h0M1670 2577h0M1804 2512h0M1834 2479h0M1788 2538h0M1769 2559h0M1780 2538h0M1802 2520h0M1754 2587h0M1756 2585h0M1794 2531h0M1835 2491h0M1683 2597h0M1810 2514h0M1644 2567h0M1835 2483h0M1824 2480h0M1794 2504h0M1826 2477h0M1634 2535h0M1774 2542h0M1636 2583h0M1773 2524h0M1810 2518h0M1731 2576h0M1631 2601h0M1772 2543h0M1789 2519h0M1772 2564h0M1632 2561h0M1646 2574h0M1832 2493h0M1806 2502h0M1753 2541h0M1826 2510h0M1780 2531h0M1748 2581h0M1633 2555h0M1784 2536h0M1639 2606h0M1742 2571h0M1798 2508h0M1725 2583h0M1775 2533h0M1771 2562h0M1876 2445h0M1824 2486h0M1656 2604h0M1734 2548h0M1811 2510h0M1642 2584h0M1713 2604h0M1638 2558h0M1852 2467h0M1786 2534h0M1801 2517h0M1822 2493h0M1631 2550h0M1760 2566h0M1815 2517h0M1725 2576h0M1778 2559h0M1765 2561h0M1805 2507h0M1787 2534h0M1771 2533h0M1802 2525h0M1763 2552h0M1765 2559h0M1812 2503h0M1631 2598h0M1793 2527h0M1713 2582h0M1916 2410h0M1743 2546h0M1752 2547h0M1799 2505h0M1632 2582h0M1788 2537h0M1804 2528h0M1854 2459h0M1697 2584h0M1777 2534h0M1912 2420h0M1717 2594h0M1839 2475h0M1739 2554h0M1765 2557h0M1637 2588h0M1807 2504h0M1763 2526h0M1751 2557h0M1828 2499h0M1631 2542h0M1820 2502h0M1826 2500h0M1744 2544h0M1856 2455h0M1871 2449h0M1811 2512h0M1817 2499h0M1762 2549h0M1731 2586h0M1637 2571h0M1817 2501h0M1760 2567h0M1797 2518h0M1765 2540h0M1768 2551h0M1840 2488h0M1777 2530h0M1767 2542h0M1725 2576h0M1793 2522h0M1734 2552h0M1824 2505h0M1779 2554h0M1647 2577h0M1818 2501h0M1841 2472h0M1796 2490h0M1744 2578h0M1793 2535h0M1731 2596h0M1795 2523h0M1631 2590h0M1813 2526h0M1759 2552h0M1771 2535h0M1836 2474h0M1802 2510h0M1756 2566h0M1847 2478h0M1777 2530h0M1801 2528h0M1803 2513h0M1839 2469h0M1811 2522h0M1784 2542h0M1771 2557h0M1802 2507h0M1794 2533h0M1804 2517h0M1859 2460h0M1723 2577h0M1649 2590h0M1727 2576h0M1778 2536h0M1790 2521h0M1891 2426h0M1805 2498h0M1637 2567h0M1775 2557h0M1851 2480h0M1794 2515h0M1647 2594h0M1819 2495h0M1779 2540h0M1780 2533h0M1712 2571h0M1739 2556h0M1779 2545h0M1793 2537h0M1643 2601h0M1821 2484h0M1821 2498h0M1824 2505h0M1795 2521h0M1795 2533h0M1783 2527h0M1795 2506h0M1807 2489h0M1794 2530h0M1773 2550h0M1824 2494h0M1803 2521h0M1729 2586h0M1852 2486h0M1772 2543h0M1638 2544h0M1644 2554h0M1824 2488h0M1872 2453h0M1668 2582h0M1822 2493h0M1826 2478h0M1633 2569h0M1787 2535h0M1742 2564h0M1764 2541h0M1849 2477h0M1785 2533h0M1747 2569h0M1729 2551h0M1791 2544h0M1662 2545h0M1725 2560h0M1631 2579h0M1794 2515h0M1818 2505h0M1806 2528h0M1834 2468h0M1769 2528h0M1747 2566h0M1785 2544h0M1659 2613h0M1832 2465h0M1772 2527h0M1729 2562h0M1795 2528h0M1798 2513h0M1637 2576h0M1751 2573h0M1716 2554h0M1765 2527h0M1738 2551h0M1785 2522h0M1704 2590h0M1820 2489h0M1772 2559h0M1816 2502h0M1774 2559h0M1854 2466h0M1775 2535h0M1764 2547h0M1758 2570h0M1747 2585h0M1824 2485h0M1828 2478h0M1760 2544h0M1804 2515h0M1773 2544h0M1840 2460h0M1771 2545h0M1817 2502h0M1809 2500h0M1832 2497h0M1844 2474h0M1821 2481h0M1754 2556h0M1764 2567h0M1812 2497h0M1753 2564h0M1798 2533h0M1763 2524h0M1764 2559h0M1702 2582h0M1720 2588h0M1715 2591h0M1696 2590h0M1643 2576h0M1633 2545h0M1769 2543h0M1764 2547h0M1812 2511h0M1802 2505h0M1777 2509h0M1798 2521h0M1699 2586h0M1787 2524h0M1821 2494h0M1865 2460h0M1632 2600h0M1779 2531h0M1745 2577h0M1816 2509h0M1823 2504h0M1786 2538h0M1797 2510h0M1631 2592h0M1784 2530h0M1815 2494h0M1770 2543h0M1730 2592h0M1771 2561h0M1770 2530h0M1640 2620h0M1766 2558h0M1760 2565h0M1768 2557h0M1736 2552h0M1804 2525h0M1777 2533h0M1720 2584h0M1780 2521h0M1785 2535h0M1638 2572h0M1768 2546h0M1729 2569h0M1783 2535h0M1638 2583h0M1816 2480h0M1803 2523h0M1802 2513h0M1797 2530h0M1753 2558h0M1730 2600h0M1807 2502h0M1776 2553h0M1806 2499h0M1719 2632h0M1744 2631h0M1704 2632h0M1650 2631h0M1694 2631h0M1707 2632h0M1654 2631h0M1750 2631h0M1639 2632h0M1680 2631h0M1702 2632h0M1705 2631h0M1716 2632h0M1713 2632h0M1688 2631h0M1690 2631h0M1677 2631h0M1742 2631h0M1681 2632h0M1762 2632h0M1679 2631h0M1740 2631h0M1721 2632h0M1656 2632h0M1766 2632h0M1743 2631h0M1721 2632h0M1749 2632h0M1671 2631h0M1720 2632h0M1761 2643h0M1772 2642h0M1692 2642h0M1675 2642h0M1707 2642h0M1646 2643h0M1668 2642h0M1678 2642h0M1743 2642h0M1688 2642h0M1758 2643h0M1656 2643h0M1772 2642h0M1680 2642h0M1635 2642h0M1685 2643h0M1771 2642h0M1664 2642h0M1670 2642h0M1665 2642h0M1666 2642h0M1663 2642h0M1706 2643h0M1678 2642h0M1771 2642h0M1645 2642h0M1718 2642h0M1685 2642h0M1667 2642h0M1673 2642h0M1657 2657h0M1649 2657h0M1694 2658h0M1639 2657h0M1684 2657h0M1740 2658h0M1681 2657h0M1666 2657h0M1643 2657h0M1696 2657h0M1769 2657h0M1759 2657h0M1718 2657h0M1651 2657h0M1716 2657h0M1697 2657h0M1705 2657h0M1661 2657h0M1761 2657h0M1696 2658h0M1692 2658h0M1755 2657h0M1713 2657h0M1677 2657h0M1720 2658h0M1705 2657h0M1734 2657h0M1735 2657h0M1759 2657h0M1673 2657h0M1739 2691h0M1689 2692h0M1684 2692h0M1682 2691h0M1633 2691h0M1684 2692h0M1725 2691h0M1679 2692h0M1634 2691h0M1651 2692h0M1678 2691h0M1716 2691h0M1708 2691h0M1693 2692h0M1631 2691h0M1735 2691h0M1672 2691h0M1736 2691h0M1652 2691h0M1673 2691h0M1709 2692h0M1672 2692h0M1717 2691h0M1683 2691h0M1742 2691h0M1688 2691h0M1640 2692h0M1735 2692h0M1664 2691h0M1646 2691h0M1632 2499h0M1632 2555h0M1632 2531h0M1632 2499h0M1631 2507h0M1632 2523h0M1632 2554h0M1632 2509h0M1631 2557h0M1631 2557h0M1632 2563h0M1632 2558h0" stroke="#1a1a1a" stroke-width="4.050000000000001" stroke-linecap="round" fill="none"/>
<line x1="293.4" y1="833.1" x2="293.4" y2="874.5" stroke="#000" stroke-width="2.2"/>
<line x1="417.6" y1="835.1" x2="417.6" y2="876.6" stroke="#000" stroke-width="1.3"/>
<text transform="translate(653.5,537.7) rotate(90)" font-size="16" text-anchor="middle">At 0.5x10<tspan font-size="10.5" dy="-6.5">6</tspan><tspan dy="6.5"> repeats</tspan></text>
<text transform="translate(653.5,718.4) rotate(90)" font-size="16" text-anchor="middle">At 10<tspan font-size="10.5" dy="-6.5">6</tspan><tspan dy="6.5"> repeats</tspan></text>
<text transform="translate(653.5,858.5) rotate(90)" font-size="16" text-anchor="middle">At 1.5x10<tspan font-size="10.5" dy="-6.5">6</tspan><tspan dy="6.5"> repeats</tspan></text>
</svg>
</body></html>
